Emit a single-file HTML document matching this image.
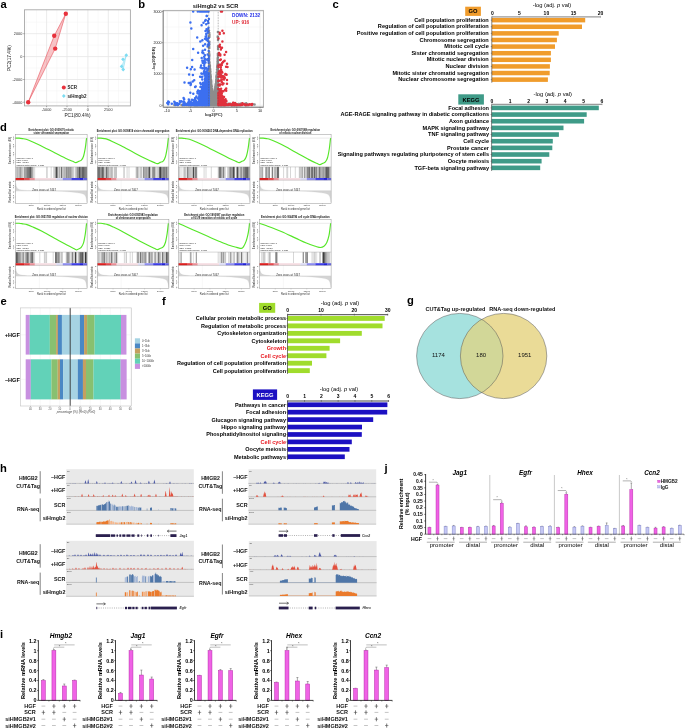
<!DOCTYPE html>
<html><head><meta charset="utf-8"><style>
html,body{margin:0;padding:0;background:#fff;}
body{width:685px;height:728px;overflow:hidden;}
svg{display:block;font-family:"Liberation Sans", sans-serif;will-change:transform;}
</style></head><body>
<svg width="685" height="728" viewBox="0 0 685 728">
<rect x="0" y="0" width="685" height="728" fill="#fff"/>
<text x="0.4" y="7.9" font-size="11.2" font-weight="bold">a</text>
<rect x="24.5" y="9.8" width="105.9" height="96.1" fill="#fff"/>
<line x1="26.2" y1="9.8" x2="26.2" y2="105.9" stroke="#f2f2f2" stroke-width="0.5"/>
<line x1="36.4" y1="9.8" x2="36.4" y2="105.9" stroke="#f2f2f2" stroke-width="0.5"/>
<line x1="56.8" y1="9.8" x2="56.8" y2="105.9" stroke="#f2f2f2" stroke-width="0.5"/>
<line x1="77.5" y1="9.8" x2="77.5" y2="105.9" stroke="#f2f2f2" stroke-width="0.5"/>
<line x1="98.1" y1="9.8" x2="98.1" y2="105.9" stroke="#f2f2f2" stroke-width="0.5"/>
<line x1="118.5" y1="9.8" x2="118.5" y2="105.9" stroke="#f2f2f2" stroke-width="0.5"/>
<line x1="24.5" y1="22.2" x2="130.4" y2="22.2" stroke="#f2f2f2" stroke-width="0.5"/>
<line x1="24.5" y1="45.1" x2="130.4" y2="45.1" stroke="#f2f2f2" stroke-width="0.5"/>
<line x1="24.5" y1="68" x2="130.4" y2="68" stroke="#f2f2f2" stroke-width="0.5"/>
<line x1="24.5" y1="90.8" x2="130.4" y2="90.8" stroke="#f2f2f2" stroke-width="0.5"/>
<line x1="46.6" y1="9.8" x2="46.6" y2="105.9" stroke="#e6e6e6" stroke-width="0.8"/>
<line x1="67" y1="9.8" x2="67" y2="105.9" stroke="#e6e6e6" stroke-width="0.8"/>
<line x1="87.9" y1="9.8" x2="87.9" y2="105.9" stroke="#e6e6e6" stroke-width="0.8"/>
<line x1="108.3" y1="9.8" x2="108.3" y2="105.9" stroke="#e6e6e6" stroke-width="0.8"/>
<line x1="24.5" y1="33.7" x2="130.4" y2="33.7" stroke="#e6e6e6" stroke-width="0.8"/>
<line x1="24.5" y1="56.6" x2="130.4" y2="56.6" stroke="#e6e6e6" stroke-width="0.8"/>
<line x1="24.5" y1="79.5" x2="130.4" y2="79.5" stroke="#e6e6e6" stroke-width="0.8"/>
<line x1="24.5" y1="102.2" x2="130.4" y2="102.2" stroke="#e6e6e6" stroke-width="0.8"/>
<rect x="24.5" y="9.8" width="105.9" height="96.1" fill="none" stroke="#a8a8a8" stroke-width="0.9"/>
<line x1="46.6" y1="105.9" x2="46.6" y2="107.2" stroke="#555" stroke-width="0.5"/>
<line x1="67" y1="105.9" x2="67" y2="107.2" stroke="#555" stroke-width="0.5"/>
<line x1="87.9" y1="105.9" x2="87.9" y2="107.2" stroke="#555" stroke-width="0.5"/>
<line x1="108.3" y1="105.9" x2="108.3" y2="107.2" stroke="#555" stroke-width="0.5"/>
<line x1="23.2" y1="33.7" x2="24.5" y2="33.7" stroke="#555" stroke-width="0.5"/>
<line x1="23.2" y1="56.6" x2="24.5" y2="56.6" stroke="#555" stroke-width="0.5"/>
<line x1="23.2" y1="79.5" x2="24.5" y2="79.5" stroke="#555" stroke-width="0.5"/>
<line x1="23.2" y1="102.2" x2="24.5" y2="102.2" stroke="#555" stroke-width="0.5"/>
<text x="22.3" y="35" font-size="3.8" text-anchor="end" fill="#333">2000</text>
<text x="22.3" y="57.9" font-size="3.8" text-anchor="end" fill="#333">0</text>
<text x="22.3" y="80.8" font-size="3.8" text-anchor="end" fill="#333">-2000</text>
<text x="22.3" y="103.5" font-size="3.8" text-anchor="end" fill="#333">-4000</text>
<text x="46.6" y="111.3" font-size="3.8" text-anchor="middle" fill="#333">-5000</text>
<text x="67" y="111.3" font-size="3.8" text-anchor="middle" fill="#333">-2500</text>
<text x="87.9" y="111.3" font-size="3.8" text-anchor="middle" fill="#333">0</text>
<text x="108.3" y="111.3" font-size="3.8" text-anchor="middle" fill="#333">2500</text>
<text x="77.5" y="117.3" font-size="4.8" text-anchor="middle" fill="#222">PC1(80.4%)</text>
<text x="10.6" y="58.2" font-size="4.8" text-anchor="middle" fill="#222" transform="rotate(-90 10.6 58.2)">PC2(17.4%)</text>
<path d="M65.8 13.7 L54.2 35.8 L28.2 102.2 L55.2 48.6 Z" fill="rgba(232,70,80,0.32)" stroke="#e8505a" stroke-width="0.6"/>
<circle cx="65.8" cy="13.7" r="2.2" fill="#e8313c"/>
<circle cx="54.2" cy="35.8" r="2.2" fill="#e8313c"/>
<circle cx="28.2" cy="102.2" r="2.2" fill="#e8313c"/>
<circle cx="55.2" cy="48.6" r="2.2" fill="#e8313c"/>
<path d="M126.3 55.2 L121.6 66.4 L123.2 69.5 Z" fill="rgba(120,220,240,0.35)" stroke="#7fd8ee" stroke-width="0.5"/>
<path d="M126.3 53.3 L128.2 55.2 L126.3 57.1 L124.4 55.2 Z" fill="#7ddcf2"/>
<path d="M123 57.4 L124.9 59.3 L123 61.2 L121.1 59.3 Z" fill="#7ddcf2"/>
<path d="M121.6 64.5 L123.5 66.4 L121.6 68.3 L119.7 66.4 Z" fill="#7ddcf2"/>
<path d="M123.2 67.6 L125.1 69.5 L123.2 71.4 L121.3 69.5 Z" fill="#7ddcf2"/>
<circle cx="63.8" cy="87.5" r="2" fill="#e8313c"/>
<text x="67.6" y="89.2" font-size="4.5" font-weight="bold" fill="#222">SCR</text>
<path d="M63.8 94.1 L65.7 96 L63.8 97.9 L61.9 96 Z" fill="#7ddcf2"/>
<text x="67.6" y="97.7" font-size="4.5" font-weight="bold" fill="#222">siHmgb2</text>
<text x="138.3" y="7.9" font-size="11.2" font-weight="bold">b</text>
<rect x="163.2" y="10.4" width="100.2" height="96.8" fill="#fff"/>
<line x1="178.76" y1="10.4" x2="178.76" y2="107.2" stroke="#f3f3f3" stroke-width="0.5"/>
<line x1="201.99" y1="10.4" x2="201.99" y2="107.2" stroke="#f3f3f3" stroke-width="0.5"/>
<line x1="225.21" y1="10.4" x2="225.21" y2="107.2" stroke="#f3f3f3" stroke-width="0.5"/>
<line x1="248.44" y1="10.4" x2="248.44" y2="107.2" stroke="#f3f3f3" stroke-width="0.5"/>
<line x1="163.2" y1="89.65" x2="263.4" y2="89.65" stroke="#f3f3f3" stroke-width="0.5"/>
<line x1="163.2" y1="58.35" x2="263.4" y2="58.35" stroke="#f3f3f3" stroke-width="0.5"/>
<line x1="163.2" y1="27.05" x2="263.4" y2="27.05" stroke="#f3f3f3" stroke-width="0.5"/>
<line x1="167.15" y1="10.4" x2="167.15" y2="107.2" stroke="#e8e8e8" stroke-width="0.7"/>
<line x1="190.38" y1="10.4" x2="190.38" y2="107.2" stroke="#e8e8e8" stroke-width="0.7"/>
<line x1="213.6" y1="10.4" x2="213.6" y2="107.2" stroke="#e8e8e8" stroke-width="0.7"/>
<line x1="236.82" y1="10.4" x2="236.82" y2="107.2" stroke="#e8e8e8" stroke-width="0.7"/>
<line x1="260.05" y1="10.4" x2="260.05" y2="107.2" stroke="#e8e8e8" stroke-width="0.7"/>
<line x1="163.2" y1="105.3" x2="263.4" y2="105.3" stroke="#e8e8e8" stroke-width="0.7"/>
<line x1="163.2" y1="74" x2="263.4" y2="74" stroke="#e8e8e8" stroke-width="0.7"/>
<line x1="163.2" y1="42.7" x2="263.4" y2="42.7" stroke="#e8e8e8" stroke-width="0.7"/>
<line x1="163.2" y1="11.4" x2="263.4" y2="11.4" stroke="#e8e8e8" stroke-width="0.7"/>
<path d="M230.7 104.3h0M210.5 104.4h0M235.9 104.5h0M236.2 104.1h0M221.9 104.8h0M236.3 105.1h0M206.2 104.6h0M194.4 104.6h0M210.0 104.7h0M221.8 104.6h0M206.9 104.9h0M239.0 104.0h0M211.2 103.9h0M217.8 105.2h0M218.9 104.8h0M208.7 104.5h0M226.4 105.1h0M207.4 104.9h0M224.2 104.3h0M211.2 104.6h0M192.2 104.8h0M213.2 105.3h0M227.0 104.0h0M212.6 105.0h0M226.4 104.3h0M224.6 105.1h0M234.4 104.3h0M222.0 103.4h0M213.6 104.9h0M208.4 104.5h0M213.2 103.7h0M212.3 104.9h0M228.8 105.0h0M234.9 104.7h0M211.5 103.7h0M201.9 104.6h0M236.0 104.8h0M197.1 104.8h0M220.8 105.1h0M213.9 105.0h0M205.5 103.8h0M212.2 104.2h0M235.0 105.1h0M202.4 105.1h0M227.0 105.0h0M204.9 105.0h0M210.5 104.9h0M207.5 104.0h0M214.5 104.6h0M197.0 105.2h0M226.7 105.0h0M203.9 103.6h0M226.0 104.4h0M199.5 103.9h0M188.9 104.9h0M224.6 104.2h0M199.7 104.7h0M216.5 103.7h0M223.1 104.8h0M206.9 104.8h0M225.2 105.0h0M221.4 104.0h0M206.5 105.2h0M205.8 104.4h0M207.5 104.9h0M215.6 105.2h0M239.1 105.2h0M234.6 104.6h0M233.2 105.2h0M227.4 104.7h0M204.5 105.1h0M211.7 105.3h0M232.9 104.7h0M188.7 103.8h0M206.9 104.8h0M213.8 104.8h0M239.7 105.0h0M220.5 104.7h0M222.2 104.2h0M233.4 103.6h0M226.8 104.0h0M225.8 104.0h0M209.1 104.8h0M219.7 104.6h0M200.5 104.5h0M193.9 104.1h0M213.9 105.0h0M193.9 104.8h0M223.8 104.1h0M244.2 104.1h0M195.6 105.3h0M220.7 104.7h0M208.1 105.1h0M210.1 104.8h0M175.6 104.5h0M217.3 105.2h0M204.3 105.1h0M213.4 105.2h0M229.9 103.8h0M217.3 104.4h0M208.9 104.0h0M197.6 105.2h0M204.9 104.5h0M199.2 103.9h0M221.2 105.0h0M208.9 104.4h0M200.5 105.0h0M215.8 105.0h0M206.0 104.4h0M246.6 105.0h0M241.1 103.5h0M234.3 105.0h0M215.6 105.0h0M204.2 104.2h0M207.8 104.2h0M230.4 105.0h0M205.8 104.7h0M195.9 103.8h0M223.4 105.2h0M206.4 104.4h0M233.0 104.6h0M199.6 104.5h0M197.3 104.8h0M199.5 105.0h0M220.9 104.9h0M228.5 104.6h0M236.8 104.2h0M213.4 104.9h0M202.1 105.2h0M194.2 105.2h0M216.5 104.2h0M227.5 104.6h0M208.3 105.1h0M208.6 105.1h0M185.2 104.7h0M190.5 104.9h0M213.9 104.9h0M238.1 105.2h0M236.7 104.3h0M206.3 105.0h0M232.7 105.0h0M214.9 104.8h0M214.5 105.0h0M214.8 104.5h0M234.1 105.2h0M216.6 104.6h0M209.3 104.4h0M229.9 104.5h0M227.3 104.5h0M240.5 104.4h0M226.1 104.0h0M199.5 104.1h0M201.5 103.8h0M224.2 104.7h0M210.6 103.2h0M212.8 105.0h0M208.0 105.1h0M187.3 104.8h0M240.1 104.0h0M208.3 104.7h0M219.4 104.4h0M224.2 104.3h0M216.0 105.2h0M234.8 104.3h0M221.3 104.3h0M207.8 104.0h0M207.3 105.0h0M227.1 104.5h0M203.3 103.8h0M216.0 105.3h0M208.8 104.9h0M182.5 105.3h0M214.9 105.1h0M225.3 103.8h0M207.0 104.5h0M204.7 105.2h0M222.2 104.6h0M228.3 104.4h0M225.8 104.9h0M220.4 103.5h0M209.7 105.2h0M220.6 104.6h0M193.9 105.1h0M202.7 104.8h0M233.8 105.3h0M212.0 105.1h0M224.9 104.8h0M216.0 105.0h0M202.8 105.1h0M231.5 105.2h0M233.4 103.1h0M206.8 105.1h0M213.4 103.9h0M203.8 104.2h0M194.6 104.5h0M197.5 104.8h0M223.1 104.8h0M183.7 104.1h0M204.9 104.8h0M238.1 105.2h0M195.4 104.8h0M202.9 104.5h0M208.7 104.6h0M218.8 104.1h0M254.6 104.5h0M215.3 105.3h0M224.8 105.0h0M220.3 103.5h0M215.0 104.4h0M218.4 104.6h0M208.2 105.1h0M218.6 105.1h0M226.1 105.1h0M194.4 104.6h0M208.2 104.3h0M204.0 104.8h0M218.2 103.0h0M191.6 104.4h0M234.3 103.7h0M227.0 104.4h0M220.9 104.7h0M206.3 105.3h0M216.9 104.9h0M224.0 105.1h0M203.3 104.8h0M219.6 103.9h0M195.2 105.0h0M205.5 105.1h0M174.4 105.0h0M209.9 104.6h0M184.5 105.0h0M220.6 104.9h0M231.2 104.4h0M198.2 104.8h0M208.7 104.6h0M236.2 104.8h0M201.0 105.0h0M201.0 104.5h0M219.2 104.1h0M219.7 104.8h0M229.0 104.7h0M206.8 105.2h0M214.2 104.3h0M204.7 105.0h0M213.2 104.2h0M197.5 105.1h0M219.6 105.0h0M220.7 105.3h0M207.0 104.9h0M198.8 104.2h0M208.7 104.1h0M206.0 104.7h0M205.4 105.3h0M201.8 104.9h0M188.3 105.2h0M200.6 105.0h0M201.8 105.1h0M177.5 105.0h0M215.0 105.2h0M191.5 105.1h0M215.8 104.5h0M224.6 105.3h0M213.9 104.9h0M221.7 105.2h0M230.4 104.9h0M204.5 105.1h0M227.2 105.0h0M219.3 104.9h0M210.9 103.3h0M215.6 105.1h0M215.6 104.7h0M231.5 105.2h0M204.4 104.7h0M218.9 104.4h0M198.8 103.6h0M233.0 104.4h0M233.8 104.8h0M188.6 104.3h0M232.0 104.9h0M184.6 104.2h0M233.9 104.9h0M215.5 104.6h0M212.3 104.4h0M214.8 104.7h0M214.9 104.0h0M198.8 102.6h0M217.7 104.2h0M230.5 103.8h0M221.8 104.8h0M213.9 103.7h0M210.8 104.5h0M181.5 105.1h0M225.8 104.2h0M199.8 104.7h0M185.7 104.4h0M221.5 103.5h0M196.6 104.1h0M220.0 104.9h0M246.2 103.2h0M212.6 105.1h0M245.3 103.8h0M247.3 105.2h0M228.2 104.1h0M221.2 105.0h0M210.9 105.0h0M195.3 103.6h0M207.0 103.5h0M217.5 105.3h0M216.2 103.8h0M212.0 105.1h0M202.5 105.3h0M207.1 105.1h0M219.5 104.6h0M242.4 104.6h0M225.8 104.7h0M225.8 104.7h0M234.6 104.4h0M233.7 104.9h0M213.6 104.7h0M227.9 104.6h0M206.7 104.8h0M252.8 104.2h0M196.9 105.2h0M223.1 105.3h0M219.4 104.3h0M218.5 104.4h0M224.3 105.2h0M215.3 104.8h0M193.0 104.2h0M208.3 104.4h0M230.7 104.3h0M202.8 104.8h0M177.6 104.2h0M202.1 104.7h0M206.4 105.0h0M215.2 105.3h0M186.3 104.0h0M213.0 104.1h0M205.5 104.8h0M216.0 104.9h0M228.4 104.0h0M217.7 105.1h0M208.9 104.6h0M201.9 104.4h0M197.2 103.2h0M239.0 105.3h0M224.7 104.5h0M186.4 105.2h0M235.1 105.3h0M198.7 105.1h0M198.7 104.1h0M210.1 105.0h0M201.5 104.5h0M199.7 105.1h0M234.4 105.1h0M247.0 103.9h0M217.7 104.3h0M211.2 105.2h0M221.9 104.3h0M205.3 104.2h0M210.8 105.0h0M203.2 104.5h0M238.8 104.1h0M219.0 104.4h0M184.9 105.1h0M210.2 104.1h0M233.3 105.1h0M206.4 104.9h0M223.2 104.6h0M222.3 105.0h0M196.0 104.9h0M215.5 102.9h0M245.4 105.0h0M197.8 103.7h0M217.3 105.3h0M204.9 104.9h0M200.3 104.7h0M212.1 104.8h0M223.7 105.2h0M215.6 105.0h0M232.6 104.8h0M217.0 105.2h0M201.6 105.0h0M223.8 105.1h0M207.8 104.2h0M190.7 105.0h0M228.9 105.0h0M193.1 105.1h0M216.9 104.5h0M218.8 105.1h0M201.1 104.2h0M225.7 105.0h0M200.3 104.4h0M226.9 104.8h0M209.1 103.9h0M209.3 104.4h0M229.9 105.1h0M218.8 105.3h0M198.6 104.3h0M210.7 104.1h0M198.6 104.1h0M216.9 104.4h0M217.6 104.8h0M200.2 103.5h0M218.9 104.4h0M220.2 103.7h0M211.5 104.6h0M191.5 105.1h0M216.2 104.8h0M196.0 105.1h0M187.5 104.8h0M220.9 103.9h0M226.8 105.0h0M217.5 105.3h0M193.8 104.1h0M215.5 95.4h0M209.5 73.1h0M212.9 98.1h0M218.1 64.4h0M217.0 99.9h0M212.1 96.4h0M209.1 55.8h0M211.5 99.6h0M211.9 100.5h0M216.9 85.6h0M213.7 100.9h0M209.5 90.9h0M216.9 76.1h0M216.8 96.2h0M210.9 103.8h0M213.9 101.2h0M213.3 100.0h0M214.4 100.7h0M216.3 99.5h0M217.4 81.3h0M209.5 90.5h0M213.9 100.9h0M214.2 101.5h0M211.5 87.9h0M211.7 90.9h0M216.4 88.0h0M213.2 94.9h0M213.1 95.3h0M209.6 85.2h0M214.9 104.5h0M216.9 102.7h0M214.5 103.0h0M217.4 80.9h0M216.3 90.9h0M215.2 93.4h0M211.7 101.1h0M216.7 100.5h0M217.4 96.4h0M210.0 101.4h0M216.2 79.4h0M212.8 97.1h0M211.4 84.2h0M215.3 102.4h0M209.6 73.0h0M209.4 64.8h0M211.7 100.6h0M214.3 101.4h0M214.2 103.5h0M217.4 91.6h0M216.7 100.2h0M216.3 77.0h0M212.6 104.9h0M212.5 96.2h0M211.1 90.8h0M209.9 86.1h0M215.7 95.8h0M215.2 103.2h0M216.6 101.4h0M217.5 61.8h0M217.6 81.2h0M211.7 98.2h0M215.9 93.4h0M217.5 101.2h0M213.5 96.3h0M214.5 98.2h0M209.9 99.4h0M211.5 85.6h0M216.7 97.6h0M217.5 103.9h0M214.5 92.6h0M212.2 89.8h0M215.0 104.5h0M212.1 97.6h0M211.3 87.3h0M210.7 80.7h0M211.8 103.9h0M214.1 104.2h0M214.1 96.4h0M214.5 99.3h0M209.4 79.8h0M209.9 78.8h0M210.2 84.1h0M212.3 99.4h0M215.1 102.5h0M210.6 75.0h0M212.1 90.7h0M217.0 87.4h0M210.4 102.0h0M217.1 100.9h0M213.6 99.8h0M210.1 87.3h0M210.5 87.7h0M213.7 101.5h0M210.8 93.5h0M210.9 101.7h0M211.2 83.6h0M213.6 96.1h0M209.2 58.1h0M213.5 97.1h0M214.2 97.1h0M211.1 85.9h0M210.4 96.3h0M209.3 85.6h0M213.8 102.2h0M217.2 102.0h0M214.3 102.4h0M214.5 95.1h0M215.5 104.0h0M211.3 90.7h0M218.0 103.2h0M214.7 95.5h0M216.5 94.9h0M216.4 91.4h0M217.4 104.8h0M217.6 86.4h0M212.8 104.2h0M211.3 87.4h0M215.2 102.6h0M212.2 103.0h0M210.9 98.9h0M212.1 88.4h0M218.1 65.7h0M213.4 100.1h0M216.1 81.0h0M215.9 90.0h0M210.9 87.2h0M216.7 78.6h0M209.9 75.5h0M212.2 102.7h0M217.8 72.0h0M215.8 102.1h0M216.6 75.3h0M217.3 74.6h0M216.6 79.3h0M214.4 99.8h0M216.6 80.5h0M217.0 94.3h0M217.8 79.3h0M217.7 99.9h0M217.9 66.0h0M211.3 85.4h0M211.2 100.2h0M213.2 102.7h0M213.5 95.9h0M215.3 92.1h0M212.6 94.6h0M216.3 86.0h0M217.6 67.2h0M212.7 104.2h0M215.0 91.7h0M212.1 95.3h0M216.7 79.2h0M209.1 80.8h0M209.2 99.8h0M216.4 92.6h0M214.6 99.2h0M212.1 101.7h0M212.3 92.0h0M214.7 101.2h0M209.8 93.9h0M215.4 96.6h0M215.1 91.8h0M210.1 79.3h0M209.4 65.4h0M210.7 97.0h0M217.8 87.8h0M211.1 81.8h0M214.6 93.0h0M212.6 98.6h0M217.7 80.9h0M218.0 95.8h0M216.6 100.1h0M213.8 105.3h0M210.6 75.5h0M213.2 96.3h0M211.3 96.9h0M210.0 82.9h0M216.9 86.8h0M212.5 91.9h0M217.2 78.8h0M209.7 78.0h0M213.1 94.4h0M212.3 95.2h0M214.8 99.7h0M213.8 98.2h0M217.3 84.6h0M212.4 90.5h0M209.6 66.6h0M215.3 95.1h0M213.1 96.8h0M217.2 76.5h0M215.9 104.5h0M212.0 102.9h0M217.7 62.7h0M210.4 84.7h0M214.3 104.7h0M212.6 95.1h0M214.9 100.9h0M216.0 98.0h0M214.0 100.7h0M218.0 72.8h0M216.4 85.4h0M212.5 91.6h0M215.5 91.2h0M211.6 101.8h0M214.3 95.3h0M216.3 95.5h0M210.3 86.9h0M217.0 99.2h0M215.8 101.4h0M211.9 104.3h0M211.8 97.7h0M217.9 57.5h0M210.8 95.9h0M217.6 96.1h0M212.0 97.4h0M210.0 95.0h0M212.6 100.1h0M217.8 92.2h0M210.9 79.4h0M213.1 95.9h0M214.8 93.4h0M211.9 102.5h0M215.9 93.7h0M214.1 97.6h0M215.9 98.6h0M212.4 91.3h0M213.9 102.2h0M214.8 101.5h0M216.1 104.2h0M216.6 87.3h0M212.3 90.4h0M211.5 99.8h0M209.7 80.8h0M215.9 88.8h0M212.8 95.1h0M210.1 93.3h0M214.9 90.1h0M214.8 94.9h0M216.1 94.9h0M217.6 71.2h0M212.2 98.8h0M216.4 95.0h0M210.7 78.8h0M213.9 99.7h0M215.1 89.7h0M210.3 93.0h0M209.6 86.7h0M213.6 96.5h0M215.1 95.3h0M212.7 97.8h0M211.5 86.9h0M216.2 82.1h0M210.4 82.2h0M215.9 93.1h0M217.2 69.0h0M215.8 86.2h0M215.0 91.3h0M210.2 79.5h0M215.5 93.1h0M211.6 103.8h0M214.5 94.3h0M211.5 100.6h0M211.1 102.8h0M215.2 87.9h0M216.4 94.8h0M215.4 103.9h0M216.7 94.5h0M209.1 73.8h0M210.3 95.5h0M209.6 84.8h0M214.1 96.1h0M209.4 64.9h0M210.1 96.5h0M214.8 100.3h0M212.1 95.5h0M211.0 83.8h0M211.0 81.8h0M216.4 89.3h0M209.3 66.3h0M209.3 80.0h0M212.9 104.5h0M214.8 94.6h0M214.4 100.3h0M213.7 99.2h0M211.1 82.5h0M218.1 65.0h0M217.8 89.2h0M218.0 101.7h0M213.4 103.9h0M213.2 97.7h0M215.5 96.1h0M212.2 102.1h0M212.7 101.6h0M210.8 83.6h0M213.7 100.7h0M210.8 84.8h0M210.8 97.5h0M214.1 97.2h0M217.9 67.9h0M217.7 62.0h0M215.6 89.8h0M209.6 95.9h0M209.2 62.1h0M215.6 91.8h0M211.4 97.2h0M210.5 84.5h0M218.1 90.0h0M209.5 96.9h0M212.3 91.2h0M216.4 91.9h0M210.0 101.0h0M210.4 78.9h0M213.3 94.7h0M217.3 71.8h0M213.4 96.6h0M210.2 101.3h0M214.2 99.4h0M211.0 98.3h0M209.2 59.8h0M215.5 85.9h0M218.0 83.4h0M215.7 96.7h0M216.4 79.9h0M210.3 104.8h0M211.0 89.2h0M212.5 105.2h0M216.6 80.0h0M213.3 104.8h0M217.1 84.4h0M209.7 90.9h0M214.7 92.5h0M213.5 98.6h0M210.9 98.4h0M217.3 89.5h0M210.0 81.6h0M210.2 97.8h0M213.2 98.8h0M214.8 94.6h0M213.1 104.5h0M215.6 104.1h0M213.3 101.0h0M215.2 92.7h0M211.2 89.1h0M215.3 96.3h0M210.3 73.1h0M214.5 104.5h0M211.2 80.6h0M211.1 95.1h0M216.2 82.5h0M214.8 94.1h0M209.4 100.7h0M217.9 65.1h0M209.4 102.9h0M211.2 82.2h0M211.0 87.2h0M217.5 76.8h0M217.4 94.0h0M210.4 104.7h0M215.9 102.7h0M217.9 69.7h0M210.7 80.8h0M210.5 88.4h0M210.0 73.9h0M217.1 69.3h0M209.1 62.7h0M214.1 95.9h0M213.6 98.9h0M214.5 95.0h0M209.8 102.9h0M214.0 102.1h0M212.7 105.2h0M215.8 104.7h0M216.6 79.2h0M213.2 104.0h0M215.0 102.0h0M213.0 104.0h0M217.9 78.0h0M212.3 103.8h0M215.7 86.5h0M216.8 101.8h0M212.4 100.8h0M216.0 101.6h0M214.6 92.1h0M216.0 105.1h0M209.7 100.3h0M215.4 93.9h0M213.8 100.5h0M212.8 97.5h0M215.0 90.7h0M215.7 87.5h0M217.4 69.9h0M215.6 104.7h0M215.2 89.8h0M213.0 94.9h0M210.7 76.0h0M213.1 97.2h0M211.3 98.2h0M212.2 100.1h0M209.9 87.0h0M218.0 72.5h0M217.5 71.1h0M216.7 72.5h0M215.9 98.7h0M211.3 95.4h0M209.2 93.7h0M217.1 69.5h0M212.0 91.8h0M216.1 81.9h0M216.3 90.2h0M210.0 72.3h0M211.9 93.6h0M212.4 97.3h0M217.8 97.3h0M213.9 98.3h0M213.9 95.1h0M212.8 93.6h0M215.3 87.1h0M209.9 96.4h0M211.7 86.6h0M209.2 92.3h0M215.6 84.6h0M210.7 91.5h0M215.3 92.4h0M215.8 87.5h0M211.3 99.1h0M209.3 70.7h0M211.0 98.0h0M217.8 73.6h0M214.4 96.9h0M214.5 96.2h0M211.8 104.1h0M209.7 104.6h0M212.3 103.1h0M210.1 86.1h0M217.9 70.9h0M211.5 88.5h0M210.7 102.2h0M211.8 97.4h0M215.3 96.9h0M215.7 103.2h0M217.5 89.9h0M216.6 104.3h0M216.6 98.1h0M216.8 77.2h0M215.2 100.5h0M209.1 95.8h0M217.3 98.8h0M215.0 95.5h0M215.1 102.3h0M210.4 101.9h0M218.0 86.1h0M215.0 96.1h0M211.1 103.6h0M209.2 62.6h0M210.2 69.8h0M212.4 94.3h0M210.3 77.1h0M211.3 96.6h0M213.8 104.1h0M211.3 86.1h0M211.6 97.4h0M216.0 99.6h0M210.8 98.8h0M212.5 100.2h0M214.9 98.0h0M217.0 103.4h0M215.1 91.1h0M211.2 104.6h0M213.0 104.0h0M213.2 97.5h0M209.9 100.4h0M213.4 103.5h0M211.1 93.9h0M210.1 102.7h0M212.3 98.1h0M217.6 80.1h0M209.7 95.4h0M215.8 92.1h0M217.0 69.8h0M216.9 101.4h0M217.6 80.9h0M211.2 101.0h0M216.9 97.6h0M209.8 93.9h0M217.5 85.1h0M215.7 103.6h0M213.2 101.8h0M210.9 86.5h0M212.3 103.5h0M218.0 81.2h0M210.7 105.0h0M215.0 96.9h0M209.3 81.7h0M215.8 92.9h0M211.2 92.6h0M214.6 96.5h0M210.4 77.1h0M217.7 70.7h0M216.9 92.3h0M217.3 97.9h0M211.1 89.7h0M217.3 102.0h0M211.0 104.3h0M213.0 103.7h0M210.8 83.0h0M214.4 93.6h0M212.7 96.4h0M209.2 57.8h0M211.2 93.1h0M213.7 95.4h0M213.5 95.0h0M214.7 102.2h0M216.6 98.7h0M218.1 82.4h0M211.1 80.1h0M212.0 98.0h0M212.2 94.3h0M209.3 86.6h0M210.5 77.9h0M209.0 74.9h0M211.4 94.7h0M214.2 97.0h0M210.3 96.7h0M210.1 68.8h0M210.4 100.6h0M213.8 99.2h0M217.1 103.1h0M211.2 101.0h0M214.4 99.6h0M212.8 93.9h0M215.1 90.8h0M217.8 92.3h0M217.6 86.5h0M209.5 62.2h0M210.0 104.6h0M211.7 99.4h0M217.9 62.0h0M212.9 98.8h0M216.8 77.6h0M215.0 97.0h0M210.1 95.9h0M215.0 95.6h0M216.3 79.2h0M217.8 95.8h0M209.7 66.0h0M214.2 103.1h0M215.3 100.4h0M211.2 96.1h0M213.8 98.1h0M209.7 72.6h0M214.7 98.5h0M215.2 91.3h0M209.1 81.5h0M215.2 92.6h0M214.9 102.4h0M217.8 67.2h0M211.2 94.3h0M217.8 95.3h0M212.8 93.0h0M217.2 95.9h0M215.7 97.2h0M215.1 92.3h0M210.2 97.0h0M211.0 98.0h0M209.4 98.6h0M212.7 99.9h0M209.8 80.0h0M217.6 78.6h0M212.3 94.3h0M213.0 103.3h0M213.4 105.1h0M215.2 102.4h0M212.4 91.0h0M216.0 84.0h0M214.9 95.4h0M215.5 85.9h0M210.8 82.9h0M211.8 100.3h0M216.5 86.5h0M216.8 75.2h0M214.4 102.8h0M209.2 78.5h0M215.7 99.4h0M209.7 105.1h0M210.6 83.2h0M209.1 93.8h0M211.5 89.2h0M218.0 104.3h0M210.1 69.0h0M217.9 97.9h0M212.1 96.4h0M212.0 97.7h0M213.4 102.6h0M209.5 101.4h0M210.5 102.3h0M214.7 95.2h0M211.4 87.3h0M215.7 97.8h0M213.5 103.3h0M217.5 80.4h0M209.5 98.0h0M215.4 98.0h0M215.6 100.5h0M216.3 82.4h0M209.9 81.1h0M210.8 84.2h0M216.4 82.1h0M211.2 102.9h0M215.1 95.7h0M210.3 98.4h0M214.4 104.0h0M214.8 101.7h0M211.4 95.5h0M213.9 97.5h0M209.3 69.1h0M211.1 97.5h0M214.9 94.7h0M214.6 92.7h0M210.9 96.5h0M215.1 100.9h0M210.5 97.7h0M216.1 83.8h0M215.6 85.2h0M216.3 96.5h0M211.9 92.0h0M209.6 76.9h0M209.9 103.2h0M213.7 103.7h0M217.5 66.0h0M213.3 103.1h0M210.1 86.0h0M213.8 101.5h0M215.6 94.2h0M216.1 102.5h0M209.7 88.1h0M213.5 102.7h0M215.1 101.5h0M211.9 96.6h0M215.5 89.4h0M212.4 98.7h0M217.5 64.0h0M214.7 103.8h0M213.2 98.3h0M211.6 104.5h0M218.0 59.7h0M210.2 88.1h0M214.7 101.0h0M209.7 71.7h0M216.1 94.0h0M209.8 88.6h0M209.9 65.4h0M209.5 91.7h0M216.0 101.8h0M210.0 102.5h0M210.5 87.8h0M216.6 99.8h0M210.6 81.0h0M212.9 101.2h0M210.2 96.1h0M217.9 99.4h0M211.4 88.2h0M217.2 69.5h0M213.4 95.1h0M214.5 101.4h0M213.3 97.6h0M215.7 102.4h0M210.8 77.0h0M210.0 73.0h0M212.1 101.1h0M211.4 94.3h0M218.1 97.9h0M216.8 94.1h0M210.6 81.6h0M212.2 102.2h0M212.9 95.1h0M216.9 84.6h0M209.1 67.1h0M214.6 93.1h0M217.7 89.7h0M216.8 77.2h0M211.5 97.1h0M212.5 100.2h0M212.5 103.7h0M211.1 81.5h0M212.8 97.2h0M217.1 75.8h0M211.3 82.8h0M216.4 76.2h0M215.7 88.7h0M216.4 97.6h0M215.0 99.0h0M216.7 100.9h0M214.0 101.6h0M216.5 94.6h0M216.7 76.7h0M217.0 100.0h0M217.6 71.3h0M215.2 93.6h0M209.5 63.9h0M214.0 100.2h0M212.1 92.2h0M216.2 81.8h0M211.0 96.0h0M211.3 102.9h0M212.0 104.8h0M216.3 98.8h0M209.7 102.3h0M215.8 100.7h0M213.3 100.9h0M216.4 77.5h0M211.9 93.4h0M217.2 86.5h0M217.2 75.5h0M211.9 88.9h0M214.3 104.0h0M214.4 94.8h0M213.8 100.2h0M212.8 94.3h0M215.1 101.7h0M212.3 99.8h0M217.8 71.5h0M210.2 71.0h0M209.4 76.1h0M213.0 96.8h0M213.0 104.2h0M213.8 96.6h0M216.2 95.4h0M211.1 85.5h0M216.3 98.9h0M217.1 67.1h0M213.0 100.8h0M215.5 86.3h0M210.9 96.6h0M212.0 92.5h0M210.7 88.7h0M213.6 98.4h0M210.4 71.6h0M218.2 77.2h0M216.3 100.1h0M217.3 82.2h0M216.0 83.7h0M212.3 91.2h0M210.9 104.6h0M213.6 96.0h0M217.2 66.5h0M213.7 95.6h0M214.1 103.6h0M214.8 93.4h0M212.9 98.0h0M211.4 98.9h0M212.9 99.0h0M213.3 104.3h0M209.1 88.3h0M215.6 89.6h0M211.2 98.9h0M213.8 103.5h0M214.5 93.2h0M210.9 88.5h0M215.6 89.3h0M215.5 90.6h0M211.5 86.9h0M217.5 103.0h0M217.6 84.7h0M209.8 102.3h0M216.3 85.9h0M210.3 89.0h0M214.9 90.0h0M212.1 92.3h0M211.3 100.4h0M210.5 91.7h0M214.7 101.0h0M210.5 98.1h0M209.8 97.1h0M211.9 96.0h0M210.7 90.6h0M213.1 94.1h0M213.5 95.4h0M213.3 103.2h0M214.4 103.4h0M210.6 102.9h0M215.4 86.2h0M212.7 100.7h0M212.9 101.0h0M215.3 97.9h0M210.4 75.7h0M214.3 105.2h0M216.8 80.2h0M212.3 95.4h0M217.4 87.9h0M213.0 101.8h0M214.1 97.8h0M215.7 83.9h0M210.4 92.5h0M216.8 77.9h0M214.4 96.7h0M212.1 89.5h0M214.0 100.8h0M210.7 101.7h0M217.2 73.0h0M209.3 89.1h0M213.4 100.1h0M212.4 91.7h0M212.2 96.8h0M217.5 76.9h0M213.4 101.8h0M212.6 96.9h0M216.2 98.1h0M212.4 99.6h0M212.4 91.4h0M214.0 102.3h0M212.1 91.1h0M210.5 82.3h0M209.2 95.6h0M209.6 68.2h0M210.4 97.4h0M209.6 93.1h0M215.7 89.1h0M217.3 65.6h0M214.1 94.9h0M209.9 66.5h0M213.0 103.0h0M215.9 84.9h0M212.6 104.0h0M217.0 77.3h0M214.5 92.6h0M209.4 102.6h0M210.2 104.5h0M215.5 92.5h0M210.1 99.0h0M210.7 86.4h0M215.2 88.3h0M212.3 90.2h0M213.0 100.7h0M211.4 99.8h0M217.9 55.5h0M215.5 101.8h0M210.7 100.6h0M212.2 93.5h0M209.6 80.9h0M215.2 104.7h0M213.0 96.2h0M214.3 99.8h0M217.1 82.3h0M212.1 98.6h0M217.6 65.4h0M217.4 81.4h0M210.3 99.1h0M212.5 95.6h0M209.1 65.1h0M216.2 91.2h0M209.1 65.3h0M212.8 96.9h0M214.2 96.6h0M212.8 93.0h0M217.7 60.6h0M214.6 100.9h0M212.5 101.4h0M217.3 72.7h0M216.2 82.6h0M218.1 70.8h0M211.9 91.5h0M211.4 91.4h0M210.5 76.6h0M213.5 102.4h0M217.5 101.7h0M217.5 71.5h0M210.4 79.0h0M214.3 94.4h0M214.4 99.9h0M217.5 101.4h0M216.1 102.6h0M211.6 102.8h0M217.0 88.9h0M215.7 99.7h0M215.7 90.9h0M209.9 85.1h0M215.6 100.7h0M215.0 100.8h0M212.4 91.7h0M217.6 59.0h0M212.9 98.4h0M216.4 82.7h0M213.2 95.8h0M212.7 92.8h0M213.4 104.0h0M215.9 101.8h0M215.2 104.3h0M218.0 78.2h0M215.8 102.3h0M214.8 99.6h0M211.3 85.7h0M209.4 81.5h0M209.8 69.3h0M217.2 103.9h0M213.3 100.2h0M215.6 89.9h0M212.2 89.9h0M210.7 101.1h0M216.5 101.6h0M210.7 90.1h0M212.1 102.5h0M217.5 84.2h0M216.2 98.4h0M217.4 96.0h0M217.3 79.9h0M217.9 66.7h0M214.8 97.4h0M216.8 89.8h0M209.9 68.0h0M216.4 85.2h0M215.8 99.9h0M213.3 96.4h0M217.8 60.0h0M210.5 82.6h0M214.1 100.7h0M210.6 100.9h0M213.3 100.0h0M211.5 97.1h0M214.1 96.7h0M214.4 103.2h0M217.1 91.0h0M217.8 57.5h0M210.3 84.6h0M217.8 86.2h0M214.0 101.8h0M209.3 95.1h0M210.2 94.6h0M214.8 97.0h0M217.7 73.0h0M212.3 90.8h0M214.8 97.1h0M216.9 81.2h0M212.3 96.0h0M211.8 86.3h0M211.3 81.5h0M209.6 104.9h0M214.1 103.0h0M213.7 104.1h0M216.7 83.3h0M215.3 88.2h0M218.1 71.3h0M215.5 105.3h0M209.5 85.1h0M217.9 89.6h0M214.2 105.2h0M212.8 94.0h0M214.4 94.8h0M209.2 95.1h0M210.7 79.4h0M209.4 54.9h0M218.1 47.5h0M209.5 35.0h0M217.7 37.3h0M218.0 46.3h0M209.0 30.4h0M218.0 39.9h0M209.3 48.1h0M209.3 33.0h0M218.0 53.8h0M209.4 41.8h0M209.4 44.2h0M209.2 46.7h0M209.1 51.7h0M209.4 37.0h0M209.0 48.3h0M209.0 41.8h0M217.9 36.8h0M209.0 30.4h0M209.3 44.2h0M209.2 53.3h0M209.4 36.5h0M209.3 56.1h0M217.7 36.4h0M217.8 54.0h0M217.9 32.1h0M209.1 46.3h0M209.2 44.3h0M209.1 36.1h0M218.0 48.9h0" stroke="#8c8c8c" stroke-width="2.5" stroke-linecap="round" fill="none"/>
<path d="M202.9 101.4h0M199.2 105.1h0M207.7 95.3h0M207.5 96.2h0M206.1 105.2h0M207.7 105.0h0M207.4 98.8h0M205.4 103.4h0M203.2 91.7h0M206.1 99.6h0M205.8 73.9h0M204.7 102.2h0M203.8 104.5h0M207.3 83.0h0M199.0 104.0h0M204.1 100.3h0M207.2 94.8h0M207.9 103.7h0M205.7 89.5h0M207.0 93.4h0M205.5 98.0h0M202.3 88.7h0M200.6 103.0h0M207.7 79.8h0M206.5 87.3h0M186.7 104.7h0M208.8 99.0h0M205.5 96.9h0M202.0 105.2h0M201.3 93.9h0M207.6 79.8h0M201.9 93.1h0M199.5 93.6h0M208.0 75.8h0M207.9 97.3h0M207.8 88.5h0M200.7 90.9h0M208.4 102.3h0M208.2 99.9h0M207.8 97.7h0M206.9 104.2h0M208.2 85.4h0M208.8 104.6h0M206.6 80.0h0M199.0 105.0h0M208.1 79.3h0M207.5 82.8h0M205.0 99.1h0M195.9 100.6h0M195.4 104.4h0M208.3 104.1h0M204.6 97.0h0M208.9 93.3h0M208.4 99.0h0M193.4 100.3h0M204.9 89.0h0M202.6 96.0h0M200.5 105.2h0M208.1 78.4h0M202.9 83.9h0M206.4 99.7h0M207.7 91.5h0M203.8 105.1h0M206.7 104.3h0M208.8 101.1h0M208.9 104.4h0M207.7 104.9h0M208.6 79.8h0M206.8 92.3h0M204.6 100.9h0M199.3 100.5h0M206.7 72.9h0M206.4 97.6h0M208.6 104.9h0M207.7 101.0h0M193.9 104.3h0M199.2 105.3h0M205.9 104.4h0M202.4 95.0h0M208.6 73.8h0M208.3 80.4h0M203.9 100.4h0M207.6 104.2h0M205.1 84.8h0M206.7 101.3h0M206.0 73.4h0M207.3 81.0h0M202.8 86.8h0M201.7 103.3h0M208.1 105.3h0M207.8 105.3h0M205.9 88.9h0M205.0 75.1h0M207.7 73.2h0M208.1 75.2h0M204.8 103.3h0M205.8 103.8h0M206.1 78.4h0M205.2 81.7h0M208.4 83.8h0M199.3 105.0h0M203.1 84.7h0M206.8 86.3h0M208.7 84.3h0M203.0 101.2h0M192.0 99.7h0M198.9 99.5h0M204.7 104.2h0M198.7 104.6h0M203.8 83.5h0M198.5 104.4h0M198.1 90.5h0M205.4 100.8h0M207.6 105.3h0M207.7 74.2h0M207.1 76.5h0M200.7 98.6h0M198.4 103.6h0M207.4 102.9h0M205.3 93.4h0M205.4 102.8h0M208.4 77.8h0M200.0 100.7h0M208.2 78.2h0M202.3 99.0h0M205.7 95.4h0M202.9 95.7h0M207.9 104.0h0M207.4 105.3h0M205.4 97.4h0M205.9 87.5h0M207.2 95.9h0M208.4 94.5h0M206.5 94.4h0M206.7 103.0h0M199.2 96.2h0M208.2 94.3h0M195.0 98.3h0M203.2 92.3h0M208.8 88.9h0M202.0 98.0h0M208.5 76.0h0M202.2 88.6h0M196.3 102.8h0M199.4 94.4h0M203.5 104.5h0M206.0 104.7h0M207.9 103.1h0M201.9 105.1h0M205.6 78.6h0M206.4 104.4h0M197.3 104.5h0M207.4 79.4h0M208.7 75.3h0M188.8 99.6h0M208.3 82.1h0M200.1 104.3h0M205.4 101.1h0M203.7 103.8h0M196.8 105.3h0M208.0 94.6h0M208.5 101.3h0M207.2 91.9h0M208.9 73.4h0M207.5 84.4h0M208.3 102.7h0M207.8 105.2h0M202.6 104.6h0M198.8 98.9h0M201.5 102.8h0M199.8 104.4h0M206.5 88.6h0M197.2 105.0h0M205.5 98.8h0M198.1 105.1h0M207.4 83.7h0M207.1 105.0h0M208.2 80.5h0M204.7 98.0h0M206.8 76.9h0M202.6 102.6h0M202.1 103.1h0M207.6 104.8h0M206.8 103.7h0M204.8 101.7h0M197.2 102.2h0M206.6 96.5h0M202.0 105.3h0M196.6 102.9h0M208.1 94.7h0M190.6 103.9h0M205.9 104.8h0M206.0 82.8h0M207.7 82.0h0M198.7 99.7h0M208.8 73.5h0M203.5 101.0h0M202.7 91.4h0M207.7 99.4h0M206.7 104.6h0M208.6 105.1h0M202.8 104.3h0M199.9 105.0h0M201.8 89.9h0M208.7 102.3h0M203.8 97.8h0M203.0 104.3h0M208.5 74.8h0M207.7 74.1h0M208.6 74.5h0M208.7 101.8h0M208.7 100.0h0M204.9 97.3h0M208.9 96.3h0M208.6 105.3h0M206.1 99.6h0M201.9 105.2h0M208.0 103.2h0M200.7 93.4h0M207.6 90.5h0M206.2 87.9h0M204.0 101.4h0M207.4 73.4h0M203.1 91.1h0M200.0 105.2h0M200.5 91.7h0M208.2 87.0h0M206.1 95.7h0M203.6 96.3h0M204.7 82.4h0M202.9 93.5h0M205.2 88.9h0M204.9 103.3h0M208.2 100.6h0M203.6 104.8h0M203.8 91.7h0M206.7 91.8h0M200.2 105.3h0M208.9 83.9h0M202.4 95.3h0M202.5 90.4h0M203.9 102.9h0M207.6 105.1h0M196.3 103.7h0M204.8 86.8h0M207.7 100.0h0M204.8 97.2h0M201.5 92.2h0M206.7 91.1h0M206.9 102.9h0M207.4 86.6h0M198.8 105.3h0M207.5 105.1h0M203.0 89.0h0M207.7 89.7h0M201.8 97.6h0M199.4 97.6h0M197.6 103.8h0M208.7 73.8h0M208.5 97.8h0M205.9 82.8h0M207.3 102.6h0M203.9 103.6h0M207.8 93.6h0M189.1 104.5h0M205.9 104.6h0M203.1 82.7h0M208.5 88.5h0M201.8 103.3h0M203.2 105.3h0M199.8 105.3h0M208.5 101.9h0M205.0 104.5h0M207.0 81.7h0M208.9 105.3h0M193.3 104.7h0M208.0 76.9h0M193.4 102.2h0M189.2 100.3h0M197.5 93.3h0M203.9 100.6h0M206.0 105.2h0M205.5 104.9h0M207.6 76.3h0M208.1 103.0h0M199.5 103.9h0M195.2 100.2h0M207.3 83.2h0M199.5 91.6h0M202.3 94.8h0M203.1 87.7h0M205.8 98.1h0M207.2 86.1h0M203.6 105.2h0M207.4 76.9h0M203.2 101.0h0M207.6 102.0h0M188.2 102.8h0M207.2 90.5h0M200.8 99.7h0M206.1 104.2h0M207.7 78.1h0M206.6 96.6h0M205.5 72.7h0M206.3 98.1h0M204.8 105.0h0M204.5 101.0h0M205.9 102.8h0M202.4 94.0h0M201.8 99.2h0M202.6 99.2h0M207.9 101.1h0M205.2 105.1h0M187.9 104.7h0M201.0 96.4h0M197.6 103.5h0M208.9 102.5h0M202.6 98.2h0M206.8 75.3h0M195.1 105.3h0M204.5 105.3h0M196.5 97.4h0M203.9 93.3h0M209.0 76.9h0M204.4 82.5h0M192.8 103.0h0M203.3 104.8h0M204.8 89.4h0M208.5 76.0h0M204.2 85.6h0M207.3 97.9h0M208.7 84.7h0M199.2 103.2h0M203.9 101.9h0M208.8 104.6h0M203.3 88.7h0M199.9 104.8h0M206.3 93.5h0M207.4 99.9h0M197.8 105.3h0M190.9 101.9h0M206.2 91.0h0M207.3 79.3h0M208.1 103.0h0M208.5 74.9h0M202.1 105.3h0M206.2 96.6h0M201.9 102.8h0M206.2 90.1h0M206.2 105.2h0M199.5 101.1h0M203.2 103.8h0M208.7 83.9h0M199.6 103.7h0M207.8 74.3h0M195.7 103.3h0M208.5 103.4h0M207.4 75.4h0M207.4 96.6h0M204.7 99.1h0M206.7 90.1h0M207.8 99.7h0M204.7 103.6h0M208.2 105.2h0M195.0 105.1h0M205.9 79.3h0M200.5 87.1h0M208.7 101.3h0M196.8 104.0h0M203.5 105.3h0M205.9 90.2h0M204.2 101.3h0M202.5 104.2h0M208.9 100.8h0M205.7 75.2h0M194.7 103.6h0M203.3 100.7h0M198.2 98.6h0M201.0 105.2h0M208.6 77.3h0M197.8 103.9h0M195.5 105.3h0M204.7 99.2h0M195.8 105.2h0M191.6 105.2h0M202.4 102.8h0M206.4 86.4h0M204.9 102.5h0M207.9 75.0h0M207.0 87.8h0M208.9 101.6h0M208.7 86.0h0M205.7 77.5h0M194.0 105.3h0M189.8 103.2h0M208.3 75.3h0M208.9 99.9h0M202.7 96.7h0M207.5 76.8h0M203.1 86.8h0M208.4 82.6h0M199.2 101.4h0M200.8 101.5h0M197.9 105.0h0M208.8 103.8h0M202.7 105.1h0M201.9 105.2h0M208.5 73.7h0M207.2 79.3h0M208.5 105.0h0M196.0 104.9h0M208.9 98.2h0M199.6 103.2h0M206.0 89.8h0M206.0 86.4h0M199.0 104.7h0M208.0 81.7h0M200.4 100.3h0M208.1 86.8h0M203.5 103.0h0M201.0 104.4h0M202.7 101.4h0M201.0 99.6h0M208.5 103.3h0M203.8 83.4h0M188.2 104.9h0M204.1 97.3h0M205.4 77.6h0M207.8 105.2h0M205.1 103.9h0M205.6 74.1h0M201.0 100.3h0M207.2 80.3h0M208.2 84.9h0M207.0 75.7h0M205.0 92.1h0M206.0 103.5h0M205.8 103.7h0M200.0 102.9h0M202.3 103.7h0M203.1 105.3h0M198.4 104.0h0M205.2 101.7h0M199.7 94.8h0M202.3 105.1h0M205.7 94.7h0M206.7 91.3h0M207.7 88.8h0M207.8 99.3h0M207.4 75.3h0M202.7 101.7h0M206.5 99.1h0M206.6 80.4h0M208.8 103.8h0M208.8 87.3h0M208.7 78.3h0M206.1 98.9h0M206.9 79.4h0M208.4 97.8h0M208.2 94.7h0M207.3 91.2h0M207.9 92.0h0M205.1 100.3h0M208.8 102.3h0M206.5 95.8h0M207.7 96.8h0M207.0 83.5h0M207.8 104.7h0M206.8 75.9h0M207.5 105.2h0M205.7 76.9h0M202.3 92.0h0M206.4 82.5h0M197.4 103.4h0M201.9 99.4h0M196.6 104.0h0M201.3 103.5h0M204.1 100.0h0M208.7 104.7h0M205.5 78.6h0M196.0 105.2h0M203.6 105.2h0M206.3 81.8h0M204.0 94.7h0M207.3 91.8h0M204.0 93.5h0M205.1 98.8h0M203.1 98.4h0M201.8 105.3h0M202.9 103.2h0M208.3 85.6h0M200.3 104.0h0M206.5 97.4h0M206.9 98.7h0M199.7 104.9h0M205.4 105.2h0M202.5 91.4h0M206.4 84.9h0M202.5 96.1h0M206.2 100.1h0M206.6 75.4h0M206.5 72.7h0M208.0 87.1h0M207.9 73.6h0M196.3 96.8h0M204.1 104.2h0M207.9 84.4h0M207.9 100.8h0M205.0 86.0h0M195.5 102.5h0M206.9 83.0h0M207.1 77.3h0M208.2 103.6h0M200.4 101.5h0M206.9 105.2h0M207.9 76.3h0M207.0 89.5h0M207.8 84.6h0M197.5 104.8h0M207.1 100.6h0M206.0 79.9h0M207.9 79.4h0M197.4 104.8h0M208.5 99.7h0M208.1 83.9h0M193.3 93.7h0M208.3 100.6h0M200.4 104.1h0M202.7 86.6h0M204.7 102.9h0M203.0 91.3h0M208.4 90.2h0M207.0 101.7h0M208.9 104.4h0M203.7 92.2h0M207.9 78.6h0M207.3 104.6h0M196.9 105.3h0M206.5 105.3h0M206.3 100.7h0M200.0 103.4h0M203.7 103.7h0M206.5 91.9h0M208.8 76.3h0M206.9 103.1h0M207.3 91.3h0M208.5 80.0h0M201.4 102.7h0M202.4 105.3h0M201.8 100.8h0M199.1 91.0h0M206.0 87.1h0M207.1 103.0h0M208.0 95.4h0M208.8 99.4h0M207.9 84.9h0M190.1 105.3h0M202.9 104.5h0M201.6 103.8h0M205.6 91.2h0M207.8 83.1h0M203.3 102.0h0M197.8 105.2h0M204.7 87.9h0M201.2 105.3h0M200.5 97.6h0M206.5 86.7h0M207.2 104.8h0M202.2 103.2h0M208.2 86.3h0M205.4 88.8h0M199.1 102.6h0M200.3 94.6h0M205.1 95.7h0M196.7 102.7h0M193.2 103.5h0M207.2 79.5h0M208.4 103.2h0M203.5 86.6h0M204.9 101.4h0M208.1 79.5h0M207.6 78.0h0M206.5 91.6h0M206.6 73.7h0M203.9 97.5h0M205.7 80.8h0M207.6 98.5h0M199.6 101.8h0M206.7 103.6h0M208.4 77.8h0M205.2 104.5h0M208.8 76.7h0M207.9 101.0h0M207.4 105.2h0M204.8 88.9h0M204.8 86.9h0M202.3 105.1h0M207.5 82.9h0M208.1 82.8h0M208.4 80.2h0M208.0 77.6h0M207.7 103.7h0M193.4 104.8h0M207.8 83.2h0M206.0 91.5h0M199.6 102.2h0M197.6 104.9h0M201.3 103.7h0M207.6 101.5h0M208.2 102.8h0M207.4 102.3h0M202.2 101.5h0M205.6 74.6h0M208.7 92.1h0M201.3 105.3h0M207.1 85.1h0M206.5 100.9h0M199.6 103.5h0M205.1 80.5h0M200.9 104.2h0M204.7 105.3h0M206.2 73.8h0M199.2 105.3h0M208.8 84.0h0M201.6 104.0h0M208.9 82.1h0M203.1 102.7h0M206.7 103.5h0M207.0 88.6h0M208.9 91.4h0M205.9 105.0h0M204.3 84.5h0M206.1 91.7h0M203.6 99.7h0M205.0 78.9h0M199.9 105.3h0M207.6 103.7h0M196.4 96.5h0M205.2 100.1h0M206.0 97.8h0M208.7 95.4h0M201.5 91.0h0M207.1 100.9h0M207.6 81.5h0M208.8 90.3h0M205.1 98.4h0M207.5 85.1h0M207.4 97.7h0M208.8 79.2h0M204.2 101.9h0M207.5 39.6h0M206.7 71.8h0M206.3 68.0h0M204.0 71.6h0M204.3 64.1h0M197.2 37.6h0M206.9 73.6h0M208.5 61.0h0M206.9 16.0h0M201.7 58.1h0M207.5 70.3h0M207.3 69.8h0M204.4 60.8h0M208.0 32.6h0M202.4 40.3h0M208.9 56.3h0M205.2 72.3h0M206.1 36.6h0M203.5 22.8h0M206.4 36.0h0M208.0 58.9h0M201.6 25.2h0M206.2 34.0h0M200.3 41.4h0M205.1 44.2h0M207.8 45.2h0M201.9 73.7h0M205.0 38.8h0M209.0 45.1h0M204.1 56.8h0M203.1 45.7h0M205.2 20.8h0M204.4 70.8h0M202.3 60.8h0M207.7 54.6h0M208.7 51.1h0M206.8 71.6h0M198.1 52.7h0M203.8 73.6h0M206.3 38.5h0M203.4 53.2h0M202.3 52.6h0M205.9 59.5h0M207.9 41.0h0M208.8 60.6h0M206.6 15.9h0M205.5 62.6h0M207.7 60.1h0M204.7 75.5h0M206.6 40.0h0M208.6 62.8h0M205.7 36.6h0M205.7 19.9h0M208.4 31.8h0M208.4 60.6h0M206.6 33.8h0M205.5 31.1h0M205.0 49.8h0M204.7 69.0h0M208.0 44.4h0M206.8 30.3h0M204.2 65.8h0M202.7 50.8h0M202.7 62.7h0M208.5 27.7h0M204.5 67.8h0M208.8 58.6h0M208.6 38.1h0M208.8 66.5h0M205.0 55.3h0M204.5 58.4h0M203.8 62.2h0M208.0 20.9h0M207.7 29.6h0M208.4 22.9h0M206.5 29.3h0M208.3 44.8h0M208.9 18.9h0M209.0 43.1h0M206.8 72.3h0M208.3 68.7h0M204.7 71.9h0M208.2 23.1h0M206.2 24.2h0M207.6 46.6h0M192.1 67.0h0M199.6 93.2h0M189.1 74.6h0M190.9 84.1h0M200.6 67.5h0M197.4 91.8h0M200.9 95.4h0M200.3 83.1h0M202.8 95.2h0M194.2 80.3h0M202.4 68.2h0M188.7 83.0h0M202.3 79.5h0M195.7 86.5h0M190.6 84.9h0M200.1 76.7h0M202.2 76.7h0M192.9 75.0h0M201.1 65.6h0M192.7 81.4h0M184.5 82.4h0M201.4 73.6h0M201.7 77.1h0M195.1 86.9h0M190.4 82.8h0M190.3 92.7h0M200.9 84.3h0M194.6 69.6h0M175.3 103.6h0M190.2 102.6h0M174.7 103.4h0M181.3 101.2h0M189.2 104.7h0M176.4 104.3h0M183.5 103.1h0M184.8 105.1h0M187.3 104.5h0M191.8 104.4h0M175.5 105.0h0M167.3 103.0h0M184.1 99.4h0M185.5 103.8h0M184.2 99.3h0M184.3 102.3h0M183.8 102.2h0M186.1 104.3h0M179.9 101.2h0M188.4 103.9h0M168.2 104.2h0M188.7 101.8h0M177.4 103.2h0M190.1 104.5h0M174.3 101.8h0M175.6 103.1h0M179.2 104.1h0M185.0 104.4h0M183.0 104.9h0M168.2 101.5h0M183.2 101.8h0M192.8 104.9h0M177.9 105.1h0M183.6 98.0h0M180.4 102.3h0M208.0 11.4h0M206.6 11.4h0M205.2 11.4h0M203.4 11.4h0M201.5 11.4h0M199.7 11.4h0M197.8 11.4h0M193.2 11.4h0M207.6 11.4h0M206.2 11.4h0M204.3 11.4h0M202.5 11.4h0M208.5 11.4h0M200.6 11.4h0M190.4 22.4h0M191.3 28.6h0M193.2 49.0h0M192.2 59.9h0M187.1 67.7h0M190.8 69.3h0M169.0 102.2h0M171.8 103.7h0M175.0 103.4h0M180.2 101.5h0" stroke="#3c6ff0" stroke-width="2.5" stroke-linecap="round" fill="none"/>
<path d="M222.9 102.1h0M222.3 104.1h0M218.7 104.6h0M218.3 98.6h0M220.3 104.8h0M218.4 95.7h0M226.0 104.7h0M219.1 103.9h0M218.6 97.8h0M219.0 97.2h0M221.0 98.1h0M224.6 105.0h0M219.1 99.4h0M220.2 94.6h0M225.3 103.8h0M220.0 105.3h0M223.7 105.3h0M225.8 105.0h0M218.6 103.2h0M219.5 95.8h0M221.6 101.3h0M219.4 100.1h0M219.2 101.8h0M219.5 96.8h0M221.9 102.7h0M222.7 102.1h0M220.5 102.5h0M224.0 97.0h0M218.6 100.2h0M218.8 93.9h0M219.4 98.3h0M220.8 99.7h0M219.4 93.8h0M223.5 103.3h0M221.2 102.0h0M220.1 98.6h0M223.0 99.7h0M223.2 103.5h0M218.7 105.3h0M221.7 100.0h0M218.8 96.5h0M218.7 96.3h0M220.3 96.6h0M222.6 103.6h0M219.4 96.0h0M221.0 94.9h0M222.9 102.9h0M219.8 96.8h0M218.3 104.2h0M229.0 104.0h0M219.8 99.7h0M223.0 104.2h0M218.3 103.8h0M225.1 101.6h0M221.2 105.0h0M225.7 104.0h0M223.8 100.1h0M222.8 100.8h0M220.3 101.4h0M219.9 104.3h0M219.6 104.4h0M221.3 100.3h0M220.5 102.3h0M218.6 105.2h0M218.8 93.5h0M219.3 99.3h0M220.1 97.0h0M223.0 102.9h0M219.2 100.8h0M218.3 93.6h0M221.0 95.7h0M218.8 103.7h0M223.6 97.1h0M221.0 97.3h0M220.0 96.5h0M219.1 105.2h0M219.1 104.2h0M220.2 105.2h0M220.9 100.4h0M219.7 94.3h0M220.6 95.0h0M220.4 102.3h0M221.9 104.8h0M218.9 100.3h0M222.7 99.2h0M219.9 102.4h0M223.7 101.7h0M221.8 93.6h0M221.7 104.1h0M219.0 102.8h0M221.3 95.1h0M223.7 105.2h0M219.1 97.0h0M220.6 93.7h0M223.4 105.1h0M220.7 94.5h0M219.4 98.7h0M221.5 97.5h0M220.0 104.9h0M221.6 104.8h0M219.6 101.3h0M221.4 104.7h0M222.9 98.7h0M218.8 104.3h0M221.5 105.2h0M218.8 94.6h0M219.1 95.7h0M219.6 101.7h0M226.9 104.9h0M220.9 99.4h0M222.1 101.7h0M224.2 101.4h0M219.6 99.4h0M221.0 105.1h0M219.7 98.1h0M218.6 95.6h0M220.5 103.7h0M219.6 103.6h0M218.9 96.2h0M220.2 101.2h0M220.0 103.2h0M218.7 93.8h0M224.2 105.1h0M222.5 104.1h0M218.9 101.4h0M221.8 104.2h0M233.1 102.7h0M218.6 94.7h0M220.8 104.9h0M228.7 105.1h0M220.3 97.9h0M231.9 105.3h0M218.9 96.7h0M220.6 105.3h0M219.7 96.3h0M218.7 101.9h0M218.7 94.9h0M224.5 104.7h0M219.2 104.4h0M225.7 104.3h0M224.1 105.0h0M220.9 101.2h0M219.9 103.6h0M222.0 98.2h0M219.6 96.6h0M219.9 105.1h0M221.9 97.8h0M222.7 105.1h0M220.5 96.6h0M221.7 95.7h0M226.4 101.2h0M219.0 101.4h0M218.4 95.6h0M219.7 96.3h0M220.3 102.7h0M221.0 99.8h0M223.8 105.3h0M218.7 100.9h0M220.3 104.8h0M222.0 95.7h0M219.3 103.1h0M220.7 97.6h0M227.0 105.1h0M224.8 101.2h0M222.7 100.9h0M219.5 105.3h0M218.4 94.0h0M221.4 104.9h0M218.7 103.8h0M219.4 104.9h0M218.4 98.3h0M218.8 99.8h0M223.4 100.1h0M219.4 104.9h0M218.4 95.7h0M219.7 104.8h0M221.3 101.2h0M218.3 104.8h0M221.8 102.2h0M220.4 95.8h0M225.5 104.6h0M221.8 104.5h0M220.3 96.4h0M219.8 102.1h0M220.4 96.1h0M218.5 94.4h0M219.2 97.2h0M221.0 103.0h0M225.3 101.9h0M218.7 94.9h0M218.7 96.5h0M219.2 100.9h0M219.5 94.1h0M219.5 102.0h0M220.8 99.3h0M222.9 105.1h0M219.1 101.9h0M218.3 104.7h0M218.9 93.9h0M225.5 99.3h0M221.9 96.6h0M225.3 105.2h0M218.7 99.2h0M225.0 103.6h0M222.6 100.6h0M221.2 103.8h0M226.3 100.8h0M222.7 103.5h0M219.6 103.3h0M219.6 99.9h0M219.6 94.2h0M218.5 101.5h0M219.3 100.7h0M220.3 104.7h0M221.3 103.4h0M220.4 103.9h0M227.4 105.0h0M220.0 99.6h0M219.6 100.2h0M219.8 98.2h0M223.3 101.6h0M219.8 101.5h0M218.4 103.2h0M220.8 100.9h0M218.8 102.5h0M218.6 102.8h0M218.4 95.8h0M223.0 101.2h0M222.0 103.5h0M218.4 97.2h0M225.1 89.8h0M221.3 79.9h0M221.3 92.4h0M220.8 67.2h0M219.7 91.2h0M227.5 67.0h0M220.0 90.0h0M221.2 69.9h0M222.3 72.6h0M223.8 76.8h0M218.5 67.0h0M224.5 78.5h0M220.4 64.8h0M226.2 90.7h0M224.6 60.7h0M218.4 73.9h0M223.0 77.6h0M219.4 80.8h0M221.8 64.9h0M221.9 82.3h0M224.0 79.5h0M219.8 85.5h0M221.7 81.9h0M219.5 84.4h0M220.8 64.7h0M221.8 79.8h0M218.9 89.1h0M220.2 74.3h0M225.4 74.1h0M222.6 84.4h0M223.2 62.1h0M226.2 88.4h0M218.7 80.5h0M218.5 92.7h0M226.6 74.8h0M218.4 65.4h0M222.7 75.9h0M218.3 76.8h0M220.9 69.5h0M220.5 73.5h0M223.5 83.4h0M220.0 76.5h0M220.9 91.5h0M220.9 74.9h0M225.2 74.4h0M224.8 78.1h0M227.0 79.9h0M227.0 83.7h0M219.2 76.3h0M220.3 84.6h0M220.3 55.4h0M222.2 91.2h0M220.8 59.6h0M224.6 54.8h0M220.1 59.9h0M219.3 85.6h0M220.6 77.0h0M218.3 89.1h0M221.0 71.9h0M220.3 54.6h0M221.9 71.7h0M219.3 64.7h0M218.4 85.0h0M218.6 85.1h0M223.0 62.1h0M221.1 88.7h0M221.0 77.6h0M219.2 71.2h0M223.1 76.2h0M218.3 81.1h0M221.7 90.9h0M223.5 91.3h0M220.4 91.4h0M222.2 63.0h0M218.7 72.7h0M218.9 54.9h0M218.5 38.4h0M220.1 46.9h0M219.0 52.9h0M219.7 34.0h0M219.9 44.7h0M219.2 46.2h0M222.4 41.5h0M219.7 32.7h0M220.9 49.4h0M219.3 54.2h0M222.0 47.8h0M250.5 104.5h0M248.4 104.9h0M252.1 104.1h0M240.2 104.6h0M237.5 105.1h0M245.9 105.2h0M249.9 104.5h0M239.9 105.1h0M232.0 104.6h0M236.7 104.3h0M235.0 103.0h0M241.9 104.4h0M237.4 104.5h0M237.8 104.9h0M248.6 105.1h0M236.5 105.3h0M234.8 104.7h0M233.6 103.9h0M236.3 105.0h0M231.5 105.2h0M234.4 104.9h0M248.9 104.6h0M248.9 104.6h0M248.1 104.8h0M246.0 104.6h0M237.2 104.7h0M251.8 105.1h0M240.4 105.2h0M230.9 104.3h0M245.6 105.2h0M242.5 103.3h0M236.9 105.3h0M233.0 104.0h0M249.8 104.5h0M241.4 104.5h0M234.4 105.2h0M244.3 104.4h0M242.0 105.0h0M229.7 104.4h0M232.1 104.8h0M244.5 104.6h0M230.3 104.5h0M240.3 105.0h0M235.1 104.6h0M233.3 105.0h0M221.0 11.4h0M222.0 11.4h0M221.5 11.4h0M227.1 63.7h0M226.1 66.8h0M223.8 33.3h0M222.4 30.8h0M226.1 52.1h0M224.3 77.1h0" stroke="#e0303c" stroke-width="2.5" stroke-linecap="round" fill="none"/>
<line x1="208.7" y1="10.4" x2="208.7" y2="107.2" stroke="#555" stroke-width="0.5" stroke-dasharray="0.8 0.8"/>
<line x1="218.2" y1="10.4" x2="218.2" y2="107.2" stroke="#555" stroke-width="0.5" stroke-dasharray="0.8 0.8"/>
<rect x="163.2" y="10.4" width="100.2" height="96.8" fill="none" stroke="#a8a8a8" stroke-width="0.9"/>
<line x1="163.2" y1="107.2" x2="263.4" y2="107.2" stroke="#777" stroke-width="0.9"/>
<line x1="163.2" y1="10.4" x2="163.2" y2="107.2" stroke="#888" stroke-width="0.9"/>
<line x1="162" y1="105.3" x2="163.2" y2="105.3" stroke="#555" stroke-width="0.5"/>
<text x="161.6" y="106.6" font-size="3.6" text-anchor="end" fill="#222">0</text>
<line x1="162" y1="74" x2="163.2" y2="74" stroke="#555" stroke-width="0.5"/>
<text x="161.6" y="75.3" font-size="3.6" text-anchor="end" fill="#222">1000</text>
<line x1="162" y1="42.7" x2="163.2" y2="42.7" stroke="#555" stroke-width="0.5"/>
<text x="161.6" y="44" font-size="3.6" text-anchor="end" fill="#222">2000</text>
<line x1="162" y1="11.4" x2="163.2" y2="11.4" stroke="#555" stroke-width="0.5"/>
<text x="161.6" y="12.7" font-size="3.6" text-anchor="end" fill="#222">3000</text>
<line x1="167.15" y1="107.2" x2="167.15" y2="108.4" stroke="#555" stroke-width="0.5"/>
<text x="167.15" y="111.5" font-size="3.9" text-anchor="middle" fill="#222">-10</text>
<line x1="190.38" y1="107.2" x2="190.38" y2="108.4" stroke="#555" stroke-width="0.5"/>
<text x="190.38" y="111.5" font-size="3.9" text-anchor="middle" fill="#222">-5</text>
<line x1="213.6" y1="107.2" x2="213.6" y2="108.4" stroke="#555" stroke-width="0.5"/>
<text x="213.6" y="111.5" font-size="3.9" text-anchor="middle" fill="#222">0</text>
<line x1="236.82" y1="107.2" x2="236.82" y2="108.4" stroke="#555" stroke-width="0.5"/>
<text x="236.82" y="111.5" font-size="3.9" text-anchor="middle" fill="#222">5</text>
<line x1="260.05" y1="107.2" x2="260.05" y2="108.4" stroke="#555" stroke-width="0.5"/>
<text x="260.05" y="111.5" font-size="3.9" text-anchor="middle" fill="#222">10</text>
<text x="213.6" y="116.3" font-size="4.4" font-weight="bold" text-anchor="middle" fill="#333">log2(FC)</text>
<text x="154.6" y="58.8" font-size="4.2" font-weight="bold" text-anchor="middle" fill="#333" transform="rotate(-90 154.6 58.8)">-log10(FDR)</text>
<text x="215.5" y="7.9" font-size="5.7" font-weight="bold" text-anchor="middle" fill="#111">siHmgb2 vs SCR</text>
<text x="232" y="16.8" font-size="4.7" font-weight="bold" fill="#2430e8">DOWN: 2132</text>
<text x="232" y="23.9" font-size="4.7" font-weight="bold" fill="#e02a36">UP: 916</text>
<text x="332.6" y="7.9" font-size="11.2" font-weight="bold">c</text>
<rect x="465.2" y="6.7" width="15.7" height="9.2" fill="#f09c2c"/>
<text x="473.05" y="13.35" font-size="5.8" font-weight="bold" text-anchor="middle">GO</text>
<rect x="491.8" y="17.9" width="93.4" height="4.5" fill="#f09c2c"/>
<text x="488.8" y="21.67" font-size="5.6" font-weight="bold" text-anchor="end">Cell population proliferation</text>
<line x1="490.8" y1="20.15" x2="491.8" y2="20.15" stroke="#333" stroke-width="0.5"/>
<rect x="491.8" y="24.51" width="90.2" height="4.5" fill="#f09c2c"/>
<text x="488.8" y="28.28" font-size="5.6" font-weight="bold" text-anchor="end">Regulation of cell population proliferation</text>
<line x1="490.8" y1="26.76" x2="491.8" y2="26.76" stroke="#333" stroke-width="0.5"/>
<rect x="491.8" y="31.12" width="66.9" height="4.5" fill="#f09c2c"/>
<text x="488.8" y="34.89" font-size="5.6" font-weight="bold" text-anchor="end">Positive regulation of cell population proliferation</text>
<line x1="490.8" y1="33.37" x2="491.8" y2="33.37" stroke="#333" stroke-width="0.5"/>
<rect x="491.8" y="37.73" width="65.1" height="4.5" fill="#f09c2c"/>
<text x="488.8" y="41.5" font-size="5.6" font-weight="bold" text-anchor="end">Chromosome segregation</text>
<line x1="490.8" y1="39.98" x2="491.8" y2="39.98" stroke="#333" stroke-width="0.5"/>
<rect x="491.8" y="44.34" width="63.2" height="4.5" fill="#f09c2c"/>
<text x="488.8" y="48.11" font-size="5.6" font-weight="bold" text-anchor="end">Mitotic cell cycle</text>
<line x1="490.8" y1="46.59" x2="491.8" y2="46.59" stroke="#333" stroke-width="0.5"/>
<rect x="491.8" y="50.95" width="59.1" height="4.5" fill="#f09c2c"/>
<text x="488.8" y="54.72" font-size="5.6" font-weight="bold" text-anchor="end">Sister chromatid segregation</text>
<line x1="490.8" y1="53.2" x2="491.8" y2="53.2" stroke="#333" stroke-width="0.5"/>
<rect x="491.8" y="57.56" width="59.1" height="4.5" fill="#f09c2c"/>
<text x="488.8" y="61.33" font-size="5.6" font-weight="bold" text-anchor="end">Mitotic nuclear division</text>
<line x1="490.8" y1="59.81" x2="491.8" y2="59.81" stroke="#333" stroke-width="0.5"/>
<rect x="491.8" y="64.17" width="58.1" height="4.5" fill="#f09c2c"/>
<text x="488.8" y="67.94" font-size="5.6" font-weight="bold" text-anchor="end">Nuclear division</text>
<line x1="490.8" y1="66.42" x2="491.8" y2="66.42" stroke="#333" stroke-width="0.5"/>
<rect x="491.8" y="70.78" width="57.9" height="4.5" fill="#f09c2c"/>
<text x="488.8" y="74.55" font-size="5.6" font-weight="bold" text-anchor="end">Mitotic sister chromatid segregation</text>
<line x1="490.8" y1="73.03" x2="491.8" y2="73.03" stroke="#333" stroke-width="0.5"/>
<rect x="491.8" y="77.39" width="56.1" height="4.5" fill="#f09c2c"/>
<text x="488.8" y="81.16" font-size="5.6" font-weight="bold" text-anchor="end">Nuclear chromosome segregation</text>
<line x1="490.8" y1="79.64" x2="491.8" y2="79.64" stroke="#333" stroke-width="0.5"/>
<line x1="491.8" y1="16.8" x2="491.8" y2="82.69" stroke="#333" stroke-width="0.6"/>
<line x1="491.5" y1="16.8" x2="600.9" y2="16.8" stroke="#9a9a9a" stroke-width="1.2"/>
<line x1="492.3" y1="15.8" x2="492.3" y2="17.7" stroke="#9a9a9a" stroke-width="0.5"/>
<text x="492.3" y="14.5" font-size="5" font-weight="bold" text-anchor="middle">0</text>
<line x1="519.35" y1="15.8" x2="519.35" y2="17.7" stroke="#9a9a9a" stroke-width="0.5"/>
<text x="519.35" y="14.5" font-size="5" font-weight="bold" text-anchor="middle">5</text>
<line x1="546.4" y1="15.8" x2="546.4" y2="17.7" stroke="#9a9a9a" stroke-width="0.5"/>
<text x="546.4" y="14.5" font-size="5" font-weight="bold" text-anchor="middle">10</text>
<line x1="573.45" y1="15.8" x2="573.45" y2="17.7" stroke="#9a9a9a" stroke-width="0.5"/>
<text x="573.45" y="14.5" font-size="5" font-weight="bold" text-anchor="middle">15</text>
<line x1="600.5" y1="15.8" x2="600.5" y2="17.7" stroke="#9a9a9a" stroke-width="0.5"/>
<text x="600.5" y="14.5" font-size="5" font-weight="bold" text-anchor="middle">20</text>
<text x="552" y="7" font-size="5.8" text-anchor="middle">-log (adj. <tspan font-style="italic">p</tspan> val)</text>
<rect x="458.3" y="94.3" width="25.6" height="10.3" fill="#3f9b88"/>
<text x="471.1" y="101.6" font-size="5.8" font-weight="bold" text-anchor="middle">KEGG</text>
<rect x="491.6" y="105.6" width="107.2" height="4.6" fill="#3f9b88"/>
<text x="489" y="109.62" font-size="5.6" font-weight="bold" text-anchor="end">Focal adhesion</text>
<line x1="490.6" y1="107.9" x2="491.6" y2="107.9" stroke="#333" stroke-width="0.5"/>
<rect x="491.6" y="112.26" width="95.1" height="4.6" fill="#3f9b88"/>
<text x="489" y="116.28" font-size="5.6" font-weight="bold" text-anchor="end">AGE-RAGE signaling pathway in diabetic complications</text>
<line x1="490.6" y1="114.56" x2="491.6" y2="114.56" stroke="#333" stroke-width="0.5"/>
<rect x="491.6" y="118.92" width="92.5" height="4.6" fill="#3f9b88"/>
<text x="489" y="122.94" font-size="5.6" font-weight="bold" text-anchor="end">Axon guidance</text>
<line x1="490.6" y1="121.22" x2="491.6" y2="121.22" stroke="#333" stroke-width="0.5"/>
<rect x="491.6" y="125.58" width="71.9" height="4.6" fill="#3f9b88"/>
<text x="489" y="129.6" font-size="5.6" font-weight="bold" text-anchor="end">MAPK signaling pathway</text>
<line x1="490.6" y1="127.88" x2="491.6" y2="127.88" stroke="#333" stroke-width="0.5"/>
<rect x="491.6" y="132.24" width="67.3" height="4.6" fill="#3f9b88"/>
<text x="489" y="136.26" font-size="5.6" font-weight="bold" text-anchor="end">TNF signaling pathway</text>
<line x1="490.6" y1="134.54" x2="491.6" y2="134.54" stroke="#333" stroke-width="0.5"/>
<rect x="491.6" y="138.9" width="61.2" height="4.6" fill="#3f9b88"/>
<text x="489" y="142.92" font-size="5.6" font-weight="bold" text-anchor="end">Cell cycle</text>
<line x1="490.6" y1="141.2" x2="491.6" y2="141.2" stroke="#333" stroke-width="0.5"/>
<rect x="491.6" y="145.56" width="60.7" height="4.6" fill="#3f9b88"/>
<text x="489" y="149.58" font-size="5.6" font-weight="bold" text-anchor="end">Prostate cancer</text>
<line x1="490.6" y1="147.86" x2="491.6" y2="147.86" stroke="#333" stroke-width="0.5"/>
<rect x="491.6" y="152.22" width="57.7" height="4.6" fill="#3f9b88"/>
<text x="489" y="156.24" font-size="5.6" font-weight="bold" text-anchor="end">Signaling pathways regulating pluripotency of stem cells</text>
<line x1="490.6" y1="154.52" x2="491.6" y2="154.52" stroke="#333" stroke-width="0.5"/>
<rect x="491.6" y="158.88" width="50" height="4.6" fill="#3f9b88"/>
<text x="489" y="162.9" font-size="5.6" font-weight="bold" text-anchor="end">Oocyte meiosis</text>
<line x1="490.6" y1="161.18" x2="491.6" y2="161.18" stroke="#333" stroke-width="0.5"/>
<rect x="491.6" y="165.54" width="48.6" height="4.6" fill="#3f9b88"/>
<text x="489" y="169.56" font-size="5.6" font-weight="bold" text-anchor="end">TGF-beta signaling pathway</text>
<line x1="490.6" y1="167.84" x2="491.6" y2="167.84" stroke="#333" stroke-width="0.5"/>
<line x1="491.6" y1="104.3" x2="491.6" y2="170.94" stroke="#333" stroke-width="0.6"/>
<line x1="491.3" y1="104.3" x2="602.3" y2="104.3" stroke="#9a9a9a" stroke-width="1.2"/>
<line x1="491.9" y1="103.3" x2="491.9" y2="105.2" stroke="#9a9a9a" stroke-width="0.5"/>
<text x="491.9" y="102.6" font-size="5" font-weight="bold" text-anchor="middle">0</text>
<line x1="510.23" y1="103.3" x2="510.23" y2="105.2" stroke="#9a9a9a" stroke-width="0.5"/>
<text x="510.23" y="102.6" font-size="5" font-weight="bold" text-anchor="middle">1</text>
<line x1="528.57" y1="103.3" x2="528.57" y2="105.2" stroke="#9a9a9a" stroke-width="0.5"/>
<text x="528.57" y="102.6" font-size="5" font-weight="bold" text-anchor="middle">2</text>
<line x1="546.9" y1="103.3" x2="546.9" y2="105.2" stroke="#9a9a9a" stroke-width="0.5"/>
<text x="546.9" y="102.6" font-size="5" font-weight="bold" text-anchor="middle">3</text>
<line x1="565.23" y1="103.3" x2="565.23" y2="105.2" stroke="#9a9a9a" stroke-width="0.5"/>
<text x="565.23" y="102.6" font-size="5" font-weight="bold" text-anchor="middle">4</text>
<line x1="583.57" y1="103.3" x2="583.57" y2="105.2" stroke="#9a9a9a" stroke-width="0.5"/>
<text x="583.57" y="102.6" font-size="5" font-weight="bold" text-anchor="middle">5</text>
<line x1="601.9" y1="103.3" x2="601.9" y2="105.2" stroke="#9a9a9a" stroke-width="0.5"/>
<text x="601.9" y="102.6" font-size="5" font-weight="bold" text-anchor="middle">6</text>
<text x="552.8" y="96.3" font-size="5.8" text-anchor="middle">-log (adj. <tspan font-style="italic">p</tspan> val)</text>
<text x="-0.1" y="131.1" font-size="11.2" font-weight="bold">d</text>
<text x="51.3" y="131.1" font-size="2.6" font-weight="bold" text-anchor="middle" fill="#111">Enrichment plot: GO:0000070 mitotic</text>
<text x="51.3" y="133.85" font-size="2.6" font-weight="bold" text-anchor="middle" fill="#111">sister chromatid segregation</text>
<rect x="15.5" y="134.4" width="71.6" height="69" fill="#fff"/>
<line x1="15.5" y1="138.1" x2="87.1" y2="138.1" stroke="#bbb" stroke-width="0.3"/>
<path d="M15.5 138.1 C16.1 138.1 17.89 138.02 19.08 138.1 C20.27 138.18 21.48 138.39 22.66 138.59 C23.84 138.79 24.74 138.87 26.15 139.32 C27.56 139.77 28.76 140.26 31.13 141.28 C33.5 142.3 36.46 143.52 40.39 145.44 C44.31 147.36 50.51 150.66 54.69 152.78 C58.87 154.9 62.47 156.73 65.46 158.16 C68.46 159.59 70.92 160.61 72.67 161.34 C74.41 162.07 74.89 162.56 75.91 162.56 C76.93 162.56 77.89 161.75 78.8 161.34 C79.71 160.93 80.58 160.97 81.37 160.12 C82.16 159.26 82.86 158.24 83.52 156.2 C84.18 154.16 84.83 150.66 85.31 147.89 C85.79 145.11 86.15 141.2 86.38 139.57 C86.62 137.94 86.68 138.34 86.74 138.1" fill="none" stroke="#55e627" stroke-width="1.15"/>
<text x="16.5" y="158.8" font-size="2" fill="#222">Nominal p-value: 0</text>
<text x="16.5" y="161.1" font-size="2" fill="#222">FDR: 0.0000</text>
<text x="16.5" y="163.4" font-size="2" fill="#222">NES: -2.0321</text>
<text x="16.5" y="165.7" font-size="2" fill="#222">Ranking metric scores: -0.7681</text>
<line x1="14.7" y1="138.1" x2="15.5" y2="138.1" stroke="#555" stroke-width="0.3"/>
<text x="14" y="138.1" font-size="2.4" text-anchor="middle" fill="#222" transform="rotate(-90 14 138.1)">0.0</text>
<line x1="14.7" y1="146.1" x2="15.5" y2="146.1" stroke="#555" stroke-width="0.3"/>
<text x="14" y="146.1" font-size="2.4" text-anchor="middle" fill="#222" transform="rotate(-90 14 146.1)">-0.2</text>
<line x1="14.7" y1="154.1" x2="15.5" y2="154.1" stroke="#555" stroke-width="0.3"/>
<text x="14" y="154.1" font-size="2.4" text-anchor="middle" fill="#222" transform="rotate(-90 14 154.1)">-0.4</text>
<line x1="14.7" y1="162.1" x2="15.5" y2="162.1" stroke="#555" stroke-width="0.3"/>
<text x="14" y="162.1" font-size="2.4" text-anchor="middle" fill="#222" transform="rotate(-90 14 162.1)">-0.6</text>
<text x="10.8" y="150.4" font-size="2.7" text-anchor="middle" fill="#111" transform="rotate(-90 10.8 150.4)">Enrichment score (ES)</text>
<path d="M67.7 166.9V178.0M83.0 166.9V178.0M30.3 166.9V178.0M29.3 166.9V178.0M73.8 166.9V178.0M61.8 166.9V178.0M16.3 166.9V178.0M80.6 166.9V178.0M79.8 166.9V178.0M76.4 166.9V178.0M62.0 166.9V178.0M57.2 166.9V178.0M65.9 166.9V178.0M31.4 166.9V178.0M24.0 166.9V178.0M30.7 166.9V178.0M82.2 166.9V178.0M77.7 166.9V178.0M29.9 166.9V178.0M22.6 166.9V178.0M61.3 166.9V178.0M56.9 166.9V178.0M26.2 166.9V178.0M66.2 166.9V178.0M86.6 166.9V178.0M86.1 166.9V178.0M32.3 166.9V178.0M21.6 166.9V178.0M28.3 166.9V178.0M57.3 166.9V178.0M56.9 166.9V178.0M22.1 166.9V178.0M26.8 166.9V178.0M84.3 166.9V178.0M68.1 166.9V178.0M78.8 166.9V178.0M71.1 166.9V178.0M18.4 166.9V178.0M64.6 166.9V178.0M56.8 166.9V178.0M85.7 166.9V178.0M24.4 166.9V178.0M29.5 166.9V178.0M66.4 166.9V178.0M75.7 166.9V178.0M29.7 166.9V178.0M34.7 166.9V178.0M83.1 166.9V178.0M17.8 166.9V178.0M76.5 166.9V178.0M62.8 166.9V178.0M59.5 166.9V178.0M75.3 166.9V178.0M71.9 166.9V178.0M81.7 166.9V178.0M66.9 166.9V178.0M59.6 166.9V178.0M30.9 166.9V178.0M65.2 166.9V178.0M84.2 166.9V178.0M80.3 166.9V178.0M84.5 166.9V178.0M64.1 166.9V178.0M84.3 166.9V178.0M66.7 166.9V178.0M70.0 166.9V178.0M71.0 166.9V178.0M68.8 166.9V178.0M17.3 166.9V178.0M63.3 166.9V178.0M69.2 166.9V178.0M83.7 166.9V178.0M85.6 166.9V178.0M85.4 166.9V178.0M69.8 166.9V178.0M16.7 166.9V178.0M30.8 166.9V178.0M79.3 166.9V178.0M82.0 166.9V178.0M27.0 166.9V178.0M32.4 166.9V178.0M25.9 166.9V178.0M59.8 166.9V178.0M86.6 166.9V178.0M80.1 166.9V178.0M56.8 166.9V178.0M86.1 166.9V178.0M77.4 166.9V178.0M30.1 166.9V178.0M80.2 166.9V178.0M68.3 166.9V178.0M55.1 166.9V178.0M70.9 166.9V178.0M28.8 166.9V178.0M69.7 166.9V178.0M33.7 166.9V178.0M18.7 166.9V178.0M56.0 166.9V178.0M29.0 166.9V178.0M56.3 166.9V178.0M20.1 166.9V178.0M78.0 166.9V178.0M57.2 166.9V178.0M19.6 166.9V178.0M77.5 166.9V178.0M55.4 166.9V178.0M24.1 166.9V178.0M72.5 166.9V178.0M68.0 166.9V178.0M63.9 166.9V178.0M84.4 166.9V178.0M86.0 166.9V178.0M82.8 166.9V178.0M21.6 166.9V178.0M80.1 166.9V178.0M29.9 166.9V178.0M26.6 166.9V178.0M84.0 166.9V178.0M28.6 166.9V178.0M86.2 166.9V178.0M77.3 166.9V178.0M28.5 166.9V178.0M28.4 166.9V178.0M79.6 166.9V178.0M83.6 166.9V178.0M67.6 166.9V178.0M60.3 166.9V178.0M32.9 166.9V178.0M58.5 166.9V178.0M78.3 166.9V178.0M29.7 166.9V178.0M84.1 166.9V178.0M70.7 166.9V178.0M66.5 166.9V178.0M31.5 166.9V178.0M85.7 166.9V178.0M32.7 166.9V178.0M58.1 166.9V178.0M73.4 166.9V178.0M83.0 166.9V178.0M55.3 166.9V178.0M70.0 166.9V178.0M55.9 166.9V178.0M27.9 166.9V178.0M17.3 166.9V178.0M68.6 166.9V178.0M72.0 166.9V178.0M65.1 166.9V178.0" stroke="#000" stroke-width="0.25" stroke-opacity="0.5" fill="none"/>
<path d="M79.9 166.9V178.0M61.6 166.9V178.0M82.9 166.9V178.0M81.8 166.9V178.0M56.6 166.9V178.0M79.0 166.9V178.0M30.8 166.9V178.0M27.3 166.9V178.0M20.2 166.9V178.0M25.1 166.9V178.0" stroke="#000" stroke-width="0.55" stroke-opacity="0.85" fill="none"/>
<path d="M53.9 166.9V178.0M47.0 166.9V178.0M54.1 166.9V178.0M51.2 166.9V178.0M46.9 166.9V178.0" stroke="#999" stroke-width="0.4" fill="none"/>
<rect x="15.5" y="178" width="8.64" height="2.2" fill="#dc1c1c"/>
<rect x="24.09" y="178" width="5.78" height="2.2" fill="#e4484c"/>
<rect x="29.82" y="178" width="5.06" height="2.2" fill="#ec9098"/>
<rect x="34.83" y="178" width="21.53" height="2.2" fill="#f6dde2"/>
<rect x="56.31" y="178" width="6.49" height="2.2" fill="#dcdcf6"/>
<rect x="62.76" y="178" width="8.64" height="2.2" fill="#8c8cf0"/>
<rect x="71.35" y="178" width="8.64" height="2.2" fill="#3c3ce8"/>
<rect x="79.94" y="178" width="3.63" height="2.2" fill="#2020d8"/>
<rect x="83.52" y="178" width="3.63" height="2.2" fill="#6060e0"/>
<line x1="15.5" y1="190.8" x2="87.1" y2="190.8" stroke="#ccc" stroke-width="0.3"/>
<path d="M15.8 183.4 C16.3 189.3 18.5 189.9 27.5 190.45 L47.72 190.8 C69.2 191.4 82.09 192.8 84.59 194.8 C86.03 196.8 86.7 199.4 86.8 202.4 L86.8 190.8 L15.8 190.8 Z" fill="#d4d4d4" stroke="#c8c8c8" stroke-width="0.2"/>
<line x1="39.41" y1="180.2" x2="39.41" y2="203.4" stroke="#ccc" stroke-width="0.3" stroke-dasharray="0.5 0.5"/>
<text x="32.25" y="190.5" font-size="2.85" fill="#333">Zero cross at 7467</text>
<line x1="14.7" y1="181.4" x2="15.5" y2="181.4" stroke="#555" stroke-width="0.3"/>
<text x="14" y="181.4" font-size="2.4" text-anchor="middle" fill="#222" transform="rotate(-90 14 181.4)">1</text>
<line x1="14.7" y1="186.6" x2="15.5" y2="186.6" stroke="#555" stroke-width="0.3"/>
<text x="14" y="186.6" font-size="2.4" text-anchor="middle" fill="#222" transform="rotate(-90 14 186.6)">0.5</text>
<line x1="14.7" y1="191.8" x2="15.5" y2="191.8" stroke="#555" stroke-width="0.3"/>
<text x="14" y="191.8" font-size="2.4" text-anchor="middle" fill="#222" transform="rotate(-90 14 191.8)">0</text>
<line x1="14.7" y1="197" x2="15.5" y2="197" stroke="#555" stroke-width="0.3"/>
<text x="14" y="197" font-size="2.4" text-anchor="middle" fill="#222" transform="rotate(-90 14 197)">-0.5</text>
<line x1="14.7" y1="202.2" x2="15.5" y2="202.2" stroke="#555" stroke-width="0.3"/>
<text x="14" y="202.2" font-size="2.4" text-anchor="middle" fill="#222" transform="rotate(-90 14 202.2)">-1</text>
<text x="10.8" y="191.7" font-size="2.7" text-anchor="middle" fill="#111" transform="rotate(-90 10.8 191.7)">Ranked list metric</text>
<line x1="31.25" y1="203.4" x2="31.25" y2="204.2" stroke="#555" stroke-width="0.3"/>
<text x="31.25" y="206.4" font-size="2.3" text-anchor="middle" fill="#333">5000</text>
<line x1="47" y1="203.4" x2="47" y2="204.2" stroke="#555" stroke-width="0.3"/>
<text x="47" y="206.4" font-size="2.3" text-anchor="middle" fill="#333">10000</text>
<line x1="62.76" y1="203.4" x2="62.76" y2="204.2" stroke="#555" stroke-width="0.3"/>
<text x="62.76" y="206.4" font-size="2.3" text-anchor="middle" fill="#333">15000</text>
<line x1="78.51" y1="203.4" x2="78.51" y2="204.2" stroke="#555" stroke-width="0.3"/>
<text x="78.51" y="206.4" font-size="2.3" text-anchor="middle" fill="#333">20000</text>
<text x="51.3" y="209.5" font-size="2.6" text-anchor="middle" fill="#333">Rank in ordered gene list</text>
<rect x="15.5" y="134.4" width="71.6" height="69" fill="none" stroke="#8a8a8a" stroke-width="0.45"/>
<line x1="15.5" y1="166.9" x2="87.1" y2="166.9" stroke="#8a8a8a" stroke-width="0.35"/>
<line x1="15.5" y1="180.2" x2="87.1" y2="180.2" stroke="#8a8a8a" stroke-width="0.35"/>
<text x="133.1" y="132.3" font-size="2.6" font-weight="bold" text-anchor="middle" fill="#111">Enrichment plot: GO:0000819 sister chromatid segregation</text>
<rect x="97.3" y="134.4" width="71.6" height="69" fill="#fff"/>
<line x1="97.3" y1="138.1" x2="168.9" y2="138.1" stroke="#bbb" stroke-width="0.3"/>
<path d="M97.3 138.1 C97.9 138.1 99.69 138.01 100.88 138.1 C102.07 138.19 103.37 138.4 104.46 138.61 C105.55 138.82 106.15 138.91 107.44 139.38 C108.74 139.85 109.92 140.36 112.22 141.42 C114.51 142.49 117.33 143.76 121.19 145.77 C125.05 147.77 131.19 151.22 135.38 153.43 C139.58 155.65 143.29 157.56 146.36 159.05 C149.43 160.54 152 161.61 153.81 162.38 C155.61 163.14 156.12 163.65 157.19 163.65 C158.25 163.65 159.21 162.8 160.2 162.38 C161.2 161.95 162.32 161.99 163.17 161.1 C164.02 160.2 164.66 159.14 165.32 157.01 C165.98 154.88 166.63 151.22 167.11 148.32 C167.59 145.43 167.95 141.34 168.18 139.63 C168.42 137.93 168.48 138.36 168.54 138.1" fill="none" stroke="#55e627" stroke-width="1.15"/>
<text x="98.3" y="158.8" font-size="2" fill="#222">Nominal p-value: 0</text>
<text x="98.3" y="161.1" font-size="2" fill="#222">FDR: 0.0000</text>
<text x="98.3" y="163.4" font-size="2" fill="#222">NES: -2.0321</text>
<text x="98.3" y="165.7" font-size="2" fill="#222">Ranking metric scores: -0.7681</text>
<line x1="96.5" y1="138.1" x2="97.3" y2="138.1" stroke="#555" stroke-width="0.3"/>
<text x="95.8" y="138.1" font-size="2.4" text-anchor="middle" fill="#222" transform="rotate(-90 95.8 138.1)">0.0</text>
<line x1="96.5" y1="146.1" x2="97.3" y2="146.1" stroke="#555" stroke-width="0.3"/>
<text x="95.8" y="146.1" font-size="2.4" text-anchor="middle" fill="#222" transform="rotate(-90 95.8 146.1)">-0.2</text>
<line x1="96.5" y1="154.1" x2="97.3" y2="154.1" stroke="#555" stroke-width="0.3"/>
<text x="95.8" y="154.1" font-size="2.4" text-anchor="middle" fill="#222" transform="rotate(-90 95.8 154.1)">-0.4</text>
<line x1="96.5" y1="162.1" x2="97.3" y2="162.1" stroke="#555" stroke-width="0.3"/>
<text x="95.8" y="162.1" font-size="2.4" text-anchor="middle" fill="#222" transform="rotate(-90 95.8 162.1)">-0.6</text>
<text x="92.6" y="150.4" font-size="2.7" text-anchor="middle" fill="#111" transform="rotate(-90 92.6 150.4)">Enrichment score (ES)</text>
<path d="M112.9 166.9V178.0M102.7 166.9V178.0M160.2 166.9V178.0M108.6 166.9V178.0M110.5 166.9V178.0M149.3 166.9V178.0M98.1 166.9V178.0M100.0 166.9V178.0M157.1 166.9V178.0M107.6 166.9V178.0M160.9 166.9V178.0M160.7 166.9V178.0M115.4 166.9V178.0M161.5 166.9V178.0M160.5 166.9V178.0M154.6 166.9V178.0M161.0 166.9V178.0M101.5 166.9V178.0M102.4 166.9V178.0M106.2 166.9V178.0M146.4 166.9V178.0M149.7 166.9V178.0M150.1 166.9V178.0M144.9 166.9V178.0M141.3 166.9V178.0M154.2 166.9V178.0M149.4 166.9V178.0M148.2 166.9V178.0M116.5 166.9V178.0M104.5 166.9V178.0M111.3 166.9V178.0M161.7 166.9V178.0M105.5 166.9V178.0M168.0 166.9V178.0M168.1 166.9V178.0M107.2 166.9V178.0M167.5 166.9V178.0M163.9 166.9V178.0M100.0 166.9V178.0M161.3 166.9V178.0M111.9 166.9V178.0M146.0 166.9V178.0M157.9 166.9V178.0M145.3 166.9V178.0M144.5 166.9V178.0M158.2 166.9V178.0M164.7 166.9V178.0M101.7 166.9V178.0M148.2 166.9V178.0M147.0 166.9V178.0M114.9 166.9V178.0M160.4 166.9V178.0M109.4 166.9V178.0M162.2 166.9V178.0M98.6 166.9V178.0M137.5 166.9V178.0M167.1 166.9V178.0M149.5 166.9V178.0M156.2 166.9V178.0M153.8 166.9V178.0M154.8 166.9V178.0M98.2 166.9V178.0M108.6 166.9V178.0M160.5 166.9V178.0M138.8 166.9V178.0M160.4 166.9V178.0M148.2 166.9V178.0M163.2 166.9V178.0M159.8 166.9V178.0M110.1 166.9V178.0M139.9 166.9V178.0M163.0 166.9V178.0M153.1 166.9V178.0M101.5 166.9V178.0M148.5 166.9V178.0M166.2 166.9V178.0M160.3 166.9V178.0M146.7 166.9V178.0M153.1 166.9V178.0M168.4 166.9V178.0M114.4 166.9V178.0M159.7 166.9V178.0M99.0 166.9V178.0M103.5 166.9V178.0M138.4 166.9V178.0M102.9 166.9V178.0M158.7 166.9V178.0M148.0 166.9V178.0M149.6 166.9V178.0M100.0 166.9V178.0M112.2 166.9V178.0M103.7 166.9V178.0M98.1 166.9V178.0M152.0 166.9V178.0M164.0 166.9V178.0M106.2 166.9V178.0M154.6 166.9V178.0M152.7 166.9V178.0M108.6 166.9V178.0M164.8 166.9V178.0M155.5 166.9V178.0M153.1 166.9V178.0M164.8 166.9V178.0M154.6 166.9V178.0M152.0 166.9V178.0M163.2 166.9V178.0M148.0 166.9V178.0M163.2 166.9V178.0M98.3 166.9V178.0M102.4 166.9V178.0M115.2 166.9V178.0M116.5 166.9V178.0M160.0 166.9V178.0M145.4 166.9V178.0M104.3 166.9V178.0M153.0 166.9V178.0M162.8 166.9V178.0M106.4 166.9V178.0M106.1 166.9V178.0M102.0 166.9V178.0M146.1 166.9V178.0M149.6 166.9V178.0M163.3 166.9V178.0M102.8 166.9V178.0M111.8 166.9V178.0M153.4 166.9V178.0M160.3 166.9V178.0M162.8 166.9V178.0M101.0 166.9V178.0M140.9 166.9V178.0M102.4 166.9V178.0M142.1 166.9V178.0M99.6 166.9V178.0M140.9 166.9V178.0M161.6 166.9V178.0M166.0 166.9V178.0M144.3 166.9V178.0M106.8 166.9V178.0M100.9 166.9V178.0" stroke="#000" stroke-width="0.25" stroke-opacity="0.5" fill="none"/>
<path d="M165.0 166.9V178.0M143.6 166.9V178.0M159.7 166.9V178.0M149.8 166.9V178.0M137.0 166.9V178.0M166.4 166.9V178.0M99.8 166.9V178.0M106.9 166.9V178.0M98.0 166.9V178.0M103.1 166.9V178.0" stroke="#000" stroke-width="0.55" stroke-opacity="0.85" fill="none"/>
<path d="M123.8 166.9V178.0M124.3 166.9V178.0M127.1 166.9V178.0M136.0 166.9V178.0M129.0 166.9V178.0" stroke="#999" stroke-width="0.4" fill="none"/>
<rect x="97.3" y="178" width="8.64" height="2.2" fill="#dc1c1c"/>
<rect x="105.89" y="178" width="5.78" height="2.2" fill="#e4484c"/>
<rect x="111.62" y="178" width="5.06" height="2.2" fill="#ec9098"/>
<rect x="116.63" y="178" width="21.53" height="2.2" fill="#f6dde2"/>
<rect x="138.11" y="178" width="6.49" height="2.2" fill="#dcdcf6"/>
<rect x="144.56" y="178" width="8.64" height="2.2" fill="#8c8cf0"/>
<rect x="153.15" y="178" width="8.64" height="2.2" fill="#3c3ce8"/>
<rect x="161.74" y="178" width="3.63" height="2.2" fill="#2020d8"/>
<rect x="165.32" y="178" width="3.63" height="2.2" fill="#6060e0"/>
<line x1="97.3" y1="190.8" x2="168.9" y2="190.8" stroke="#ccc" stroke-width="0.3"/>
<path d="M97.6 183.4 C98.1 189.3 100.3 189.9 109.3 190.45 L129.52 190.8 C151 191.4 163.89 192.8 166.39 194.8 C167.83 196.8 168.5 199.4 168.6 202.4 L168.6 190.8 L97.6 190.8 Z" fill="#d4d4d4" stroke="#c8c8c8" stroke-width="0.2"/>
<line x1="121.21" y1="180.2" x2="121.21" y2="203.4" stroke="#ccc" stroke-width="0.3" stroke-dasharray="0.5 0.5"/>
<text x="114.05" y="190.5" font-size="2.85" fill="#333">Zero cross at 7467</text>
<line x1="96.5" y1="181.4" x2="97.3" y2="181.4" stroke="#555" stroke-width="0.3"/>
<text x="95.8" y="181.4" font-size="2.4" text-anchor="middle" fill="#222" transform="rotate(-90 95.8 181.4)">1</text>
<line x1="96.5" y1="186.6" x2="97.3" y2="186.6" stroke="#555" stroke-width="0.3"/>
<text x="95.8" y="186.6" font-size="2.4" text-anchor="middle" fill="#222" transform="rotate(-90 95.8 186.6)">0.5</text>
<line x1="96.5" y1="191.8" x2="97.3" y2="191.8" stroke="#555" stroke-width="0.3"/>
<text x="95.8" y="191.8" font-size="2.4" text-anchor="middle" fill="#222" transform="rotate(-90 95.8 191.8)">0</text>
<line x1="96.5" y1="197" x2="97.3" y2="197" stroke="#555" stroke-width="0.3"/>
<text x="95.8" y="197" font-size="2.4" text-anchor="middle" fill="#222" transform="rotate(-90 95.8 197)">-0.5</text>
<line x1="96.5" y1="202.2" x2="97.3" y2="202.2" stroke="#555" stroke-width="0.3"/>
<text x="95.8" y="202.2" font-size="2.4" text-anchor="middle" fill="#222" transform="rotate(-90 95.8 202.2)">-1</text>
<text x="92.6" y="191.7" font-size="2.7" text-anchor="middle" fill="#111" transform="rotate(-90 92.6 191.7)">Ranked list metric</text>
<line x1="113.05" y1="203.4" x2="113.05" y2="204.2" stroke="#555" stroke-width="0.3"/>
<text x="113.05" y="206.4" font-size="2.3" text-anchor="middle" fill="#333">5000</text>
<line x1="128.8" y1="203.4" x2="128.8" y2="204.2" stroke="#555" stroke-width="0.3"/>
<text x="128.8" y="206.4" font-size="2.3" text-anchor="middle" fill="#333">10000</text>
<line x1="144.56" y1="203.4" x2="144.56" y2="204.2" stroke="#555" stroke-width="0.3"/>
<text x="144.56" y="206.4" font-size="2.3" text-anchor="middle" fill="#333">15000</text>
<line x1="160.31" y1="203.4" x2="160.31" y2="204.2" stroke="#555" stroke-width="0.3"/>
<text x="160.31" y="206.4" font-size="2.3" text-anchor="middle" fill="#333">20000</text>
<text x="133.1" y="209.5" font-size="2.6" text-anchor="middle" fill="#333">Rank in ordered gene list</text>
<rect x="97.3" y="134.4" width="71.6" height="69" fill="none" stroke="#8a8a8a" stroke-width="0.45"/>
<line x1="97.3" y1="166.9" x2="168.9" y2="166.9" stroke="#8a8a8a" stroke-width="0.35"/>
<line x1="97.3" y1="180.2" x2="168.9" y2="180.2" stroke="#8a8a8a" stroke-width="0.35"/>
<text x="214.2" y="132.3" font-size="2.6" font-weight="bold" text-anchor="middle" fill="#111">Enrichment plot: GO:0006261 DNA-dependent DNA replication</text>
<rect x="178.4" y="134.4" width="71.6" height="69" fill="#fff"/>
<line x1="178.4" y1="138.1" x2="250" y2="138.1" stroke="#bbb" stroke-width="0.3"/>
<path d="M178.4 138.1 C179 138.1 180.79 138.02 181.98 138.1 C183.17 138.18 184.33 138.39 185.56 138.59 C186.79 138.79 187.88 138.87 189.37 139.32 C190.85 139.77 192.05 140.26 194.47 141.28 C196.89 142.3 199.94 143.52 203.9 145.44 C207.87 147.36 214.1 150.66 218.27 152.78 C222.44 154.9 225.97 156.74 228.92 158.17 C231.87 159.59 234.27 160.61 235.97 161.35 C237.67 162.08 238.14 162.57 239.14 162.57 C240.13 162.57 241.09 161.75 241.94 161.35 C242.8 160.94 243.53 160.98 244.27 160.12 C245.02 159.27 245.76 158.25 246.42 156.21 C247.08 154.17 247.73 150.66 248.21 147.89 C248.69 145.11 249.05 141.2 249.28 139.57 C249.52 137.94 249.58 138.34 249.64 138.1" fill="none" stroke="#55e627" stroke-width="1.15"/>
<text x="179.4" y="158.8" font-size="2" fill="#222">Nominal p-value: 0</text>
<text x="179.4" y="161.1" font-size="2" fill="#222">FDR: 0.0000</text>
<text x="179.4" y="163.4" font-size="2" fill="#222">NES: -2.0321</text>
<text x="179.4" y="165.7" font-size="2" fill="#222">Ranking metric scores: -0.7681</text>
<line x1="177.6" y1="138.1" x2="178.4" y2="138.1" stroke="#555" stroke-width="0.3"/>
<text x="176.9" y="138.1" font-size="2.4" text-anchor="middle" fill="#222" transform="rotate(-90 176.9 138.1)">0.0</text>
<line x1="177.6" y1="146.1" x2="178.4" y2="146.1" stroke="#555" stroke-width="0.3"/>
<text x="176.9" y="146.1" font-size="2.4" text-anchor="middle" fill="#222" transform="rotate(-90 176.9 146.1)">-0.2</text>
<line x1="177.6" y1="154.1" x2="178.4" y2="154.1" stroke="#555" stroke-width="0.3"/>
<text x="176.9" y="154.1" font-size="2.4" text-anchor="middle" fill="#222" transform="rotate(-90 176.9 154.1)">-0.4</text>
<line x1="177.6" y1="162.1" x2="178.4" y2="162.1" stroke="#555" stroke-width="0.3"/>
<text x="176.9" y="162.1" font-size="2.4" text-anchor="middle" fill="#222" transform="rotate(-90 176.9 162.1)">-0.6</text>
<text x="173.7" y="150.4" font-size="2.7" text-anchor="middle" fill="#111" transform="rotate(-90 173.7 150.4)">Enrichment score (ES)</text>
<path d="M221.8 166.9V178.0M196.2 166.9V178.0M243.1 166.9V178.0M223.5 166.9V178.0M218.3 166.9V178.0M247.8 166.9V178.0M245.6 166.9V178.0M241.3 166.9V178.0M245.4 166.9V178.0M195.1 166.9V178.0M187.2 166.9V178.0M230.4 166.9V178.0M196.0 166.9V178.0M224.3 166.9V178.0M185.4 166.9V178.0M234.7 166.9V178.0M243.9 166.9V178.0M179.3 166.9V178.0M238.0 166.9V178.0M240.2 166.9V178.0M243.5 166.9V178.0M196.4 166.9V178.0M244.2 166.9V178.0M246.3 166.9V178.0M246.7 166.9V178.0M246.7 166.9V178.0M224.7 166.9V178.0M189.6 166.9V178.0M188.3 166.9V178.0M247.1 166.9V178.0M227.8 166.9V178.0M249.2 166.9V178.0M238.8 166.9V178.0M247.7 166.9V178.0M241.9 166.9V178.0M193.4 166.9V178.0M191.1 166.9V178.0M229.7 166.9V178.0M220.2 166.9V178.0M246.4 166.9V178.0M238.9 166.9V178.0M233.3 166.9V178.0M242.3 166.9V178.0M248.2 166.9V178.0M218.3 166.9V178.0M192.8 166.9V178.0M232.8 166.9V178.0M220.9 166.9V178.0M236.9 166.9V178.0M192.6 166.9V178.0M246.8 166.9V178.0M231.6 166.9V178.0M247.5 166.9V178.0M186.1 166.9V178.0M233.3 166.9V178.0M231.3 166.9V178.0M193.4 166.9V178.0M238.2 166.9V178.0M243.9 166.9V178.0M228.1 166.9V178.0M237.6 166.9V178.0M248.9 166.9V178.0M241.8 166.9V178.0M234.4 166.9V178.0M193.8 166.9V178.0M230.1 166.9V178.0M225.4 166.9V178.0M196.5 166.9V178.0M245.2 166.9V178.0M249.5 166.9V178.0M181.8 166.9V178.0M228.3 166.9V178.0M240.6 166.9V178.0M233.6 166.9V178.0M230.8 166.9V178.0M231.6 166.9V178.0M221.2 166.9V178.0M237.0 166.9V178.0M249.1 166.9V178.0M247.9 166.9V178.0M240.9 166.9V178.0M190.3 166.9V178.0M245.1 166.9V178.0M236.3 166.9V178.0M223.6 166.9V178.0M239.8 166.9V178.0M233.8 166.9V178.0M231.1 166.9V178.0M178.9 166.9V178.0M229.5 166.9V178.0M247.4 166.9V178.0M237.5 166.9V178.0M238.3 166.9V178.0M180.2 166.9V178.0M232.6 166.9V178.0M188.5 166.9V178.0M246.2 166.9V178.0M188.8 166.9V178.0M221.7 166.9V178.0M184.3 166.9V178.0M230.3 166.9V178.0M195.4 166.9V178.0M230.8 166.9V178.0M245.6 166.9V178.0M247.8 166.9V178.0M192.0 166.9V178.0M183.3 166.9V178.0M234.2 166.9V178.0M244.2 166.9V178.0M191.1 166.9V178.0M184.3 166.9V178.0M237.5 166.9V178.0M240.9 166.9V178.0M245.1 166.9V178.0M245.1 166.9V178.0M244.8 166.9V178.0M247.0 166.9V178.0M243.6 166.9V178.0M222.2 166.9V178.0M185.0 166.9V178.0M246.8 166.9V178.0M241.7 166.9V178.0M220.7 166.9V178.0M189.8 166.9V178.0M237.0 166.9V178.0M220.3 166.9V178.0M234.1 166.9V178.0M229.9 166.9V178.0M248.6 166.9V178.0" stroke="#000" stroke-width="0.25" stroke-opacity="0.5" fill="none"/>
<path d="M237.3 166.9V178.0M220.1 166.9V178.0M233.0 166.9V178.0M219.3 166.9V178.0M223.2 166.9V178.0M233.8 166.9V178.0M193.9 166.9V178.0M195.9 166.9V178.0M193.6 166.9V178.0M187.6 166.9V178.0" stroke="#000" stroke-width="0.55" stroke-opacity="0.85" fill="none"/>
<path d="M206.0 166.9V178.0M211.3 166.9V178.0M204.1 166.9V178.0M197.0 166.9V178.0" stroke="#999" stroke-width="0.4" fill="none"/>
<rect x="178.4" y="178" width="8.64" height="2.2" fill="#dc1c1c"/>
<rect x="186.99" y="178" width="5.78" height="2.2" fill="#e4484c"/>
<rect x="192.72" y="178" width="5.06" height="2.2" fill="#ec9098"/>
<rect x="197.73" y="178" width="21.53" height="2.2" fill="#f6dde2"/>
<rect x="219.21" y="178" width="6.49" height="2.2" fill="#dcdcf6"/>
<rect x="225.66" y="178" width="8.64" height="2.2" fill="#8c8cf0"/>
<rect x="234.25" y="178" width="8.64" height="2.2" fill="#3c3ce8"/>
<rect x="242.84" y="178" width="3.63" height="2.2" fill="#2020d8"/>
<rect x="246.42" y="178" width="3.63" height="2.2" fill="#6060e0"/>
<line x1="178.4" y1="190.8" x2="250" y2="190.8" stroke="#ccc" stroke-width="0.3"/>
<path d="M178.7 183.4 C179.2 189.3 181.4 189.9 190.4 190.45 L210.62 190.8 C232.1 191.4 244.99 192.8 247.49 194.8 C248.93 196.8 249.6 199.4 249.7 202.4 L249.7 190.8 L178.7 190.8 Z" fill="#d4d4d4" stroke="#c8c8c8" stroke-width="0.2"/>
<line x1="202.31" y1="180.2" x2="202.31" y2="203.4" stroke="#ccc" stroke-width="0.3" stroke-dasharray="0.5 0.5"/>
<text x="195.15" y="190.5" font-size="2.85" fill="#333">Zero cross at 7467</text>
<line x1="177.6" y1="181.4" x2="178.4" y2="181.4" stroke="#555" stroke-width="0.3"/>
<text x="176.9" y="181.4" font-size="2.4" text-anchor="middle" fill="#222" transform="rotate(-90 176.9 181.4)">1</text>
<line x1="177.6" y1="186.6" x2="178.4" y2="186.6" stroke="#555" stroke-width="0.3"/>
<text x="176.9" y="186.6" font-size="2.4" text-anchor="middle" fill="#222" transform="rotate(-90 176.9 186.6)">0.5</text>
<line x1="177.6" y1="191.8" x2="178.4" y2="191.8" stroke="#555" stroke-width="0.3"/>
<text x="176.9" y="191.8" font-size="2.4" text-anchor="middle" fill="#222" transform="rotate(-90 176.9 191.8)">0</text>
<line x1="177.6" y1="197" x2="178.4" y2="197" stroke="#555" stroke-width="0.3"/>
<text x="176.9" y="197" font-size="2.4" text-anchor="middle" fill="#222" transform="rotate(-90 176.9 197)">-0.5</text>
<line x1="177.6" y1="202.2" x2="178.4" y2="202.2" stroke="#555" stroke-width="0.3"/>
<text x="176.9" y="202.2" font-size="2.4" text-anchor="middle" fill="#222" transform="rotate(-90 176.9 202.2)">-1</text>
<text x="173.7" y="191.7" font-size="2.7" text-anchor="middle" fill="#111" transform="rotate(-90 173.7 191.7)">Ranked list metric</text>
<line x1="194.15" y1="203.4" x2="194.15" y2="204.2" stroke="#555" stroke-width="0.3"/>
<text x="194.15" y="206.4" font-size="2.3" text-anchor="middle" fill="#333">5000</text>
<line x1="209.9" y1="203.4" x2="209.9" y2="204.2" stroke="#555" stroke-width="0.3"/>
<text x="209.9" y="206.4" font-size="2.3" text-anchor="middle" fill="#333">10000</text>
<line x1="225.66" y1="203.4" x2="225.66" y2="204.2" stroke="#555" stroke-width="0.3"/>
<text x="225.66" y="206.4" font-size="2.3" text-anchor="middle" fill="#333">15000</text>
<line x1="241.41" y1="203.4" x2="241.41" y2="204.2" stroke="#555" stroke-width="0.3"/>
<text x="241.41" y="206.4" font-size="2.3" text-anchor="middle" fill="#333">20000</text>
<text x="214.2" y="209.5" font-size="2.6" text-anchor="middle" fill="#333">Rank in ordered gene list</text>
<rect x="178.4" y="134.4" width="71.6" height="69" fill="none" stroke="#8a8a8a" stroke-width="0.45"/>
<line x1="178.4" y1="166.9" x2="250" y2="166.9" stroke="#8a8a8a" stroke-width="0.35"/>
<line x1="178.4" y1="180.2" x2="250" y2="180.2" stroke="#8a8a8a" stroke-width="0.35"/>
<text x="295.3" y="131.1" font-size="2.6" font-weight="bold" text-anchor="middle" fill="#111">Enrichment plot: GO:0007088 regulation</text>
<text x="295.3" y="133.85" font-size="2.6" font-weight="bold" text-anchor="middle" fill="#111">of mitotic nuclear division</text>
<rect x="259.5" y="134.4" width="71.6" height="69" fill="#fff"/>
<line x1="259.5" y1="138.1" x2="331.1" y2="138.1" stroke="#bbb" stroke-width="0.3"/>
<path d="M259.5 138.1 C260.1 138.1 261.89 138.01 263.08 138.1 C264.27 138.19 265.48 138.41 266.66 138.63 C267.84 138.85 268.74 138.94 270.15 139.43 C271.57 139.91 272.76 140.45 275.13 141.55 C277.51 142.66 280.47 143.98 284.39 146.06 C288.32 148.14 294.52 151.73 298.69 154.03 C302.87 156.33 306.47 158.32 309.47 159.87 C312.46 161.42 314.93 162.52 316.67 163.32 C318.41 164.12 318.89 164.65 319.91 164.65 C320.94 164.65 321.89 163.76 322.8 163.32 C323.71 162.88 324.59 162.92 325.37 161.99 C326.16 161.06 326.86 159.96 327.52 157.75 C328.18 155.53 328.83 151.73 329.31 148.72 C329.79 145.71 330.15 141.46 330.38 139.69 C330.62 137.92 330.68 138.37 330.74 138.1" fill="none" stroke="#55e627" stroke-width="1.15"/>
<text x="260.5" y="158.8" font-size="2" fill="#222">Nominal p-value: 0</text>
<text x="260.5" y="161.1" font-size="2" fill="#222">FDR: 0.0000</text>
<text x="260.5" y="163.4" font-size="2" fill="#222">NES: -2.0321</text>
<text x="260.5" y="165.7" font-size="2" fill="#222">Ranking metric scores: -0.7681</text>
<line x1="258.7" y1="138.1" x2="259.5" y2="138.1" stroke="#555" stroke-width="0.3"/>
<text x="258" y="138.1" font-size="2.4" text-anchor="middle" fill="#222" transform="rotate(-90 258 138.1)">0.0</text>
<line x1="258.7" y1="146.1" x2="259.5" y2="146.1" stroke="#555" stroke-width="0.3"/>
<text x="258" y="146.1" font-size="2.4" text-anchor="middle" fill="#222" transform="rotate(-90 258 146.1)">-0.2</text>
<line x1="258.7" y1="154.1" x2="259.5" y2="154.1" stroke="#555" stroke-width="0.3"/>
<text x="258" y="154.1" font-size="2.4" text-anchor="middle" fill="#222" transform="rotate(-90 258 154.1)">-0.4</text>
<line x1="258.7" y1="162.1" x2="259.5" y2="162.1" stroke="#555" stroke-width="0.3"/>
<text x="258" y="162.1" font-size="2.4" text-anchor="middle" fill="#222" transform="rotate(-90 258 162.1)">-0.6</text>
<text x="254.8" y="150.4" font-size="2.7" text-anchor="middle" fill="#111" transform="rotate(-90 254.8 150.4)">Enrichment score (ES)</text>
<path d="M275.1 166.9V178.0M302.6 166.9V178.0M321.6 166.9V178.0M265.7 166.9V178.0M318.5 166.9V178.0M275.8 166.9V178.0M277.7 166.9V178.0M277.8 166.9V178.0M325.0 166.9V178.0M310.1 166.9V178.0M307.8 166.9V178.0M317.7 166.9V178.0M326.7 166.9V178.0M304.6 166.9V178.0M304.3 166.9V178.0M321.4 166.9V178.0M302.0 166.9V178.0M323.3 166.9V178.0M326.0 166.9V178.0M320.8 166.9V178.0M267.9 166.9V178.0M326.0 166.9V178.0M277.8 166.9V178.0M326.7 166.9V178.0M308.7 166.9V178.0M325.8 166.9V178.0M314.1 166.9V178.0M327.4 166.9V178.0M310.1 166.9V178.0M262.2 166.9V178.0M329.0 166.9V178.0M328.1 166.9V178.0M326.3 166.9V178.0M278.8 166.9V178.0M306.5 166.9V178.0M261.3 166.9V178.0M317.8 166.9V178.0M307.2 166.9V178.0M275.0 166.9V178.0M329.4 166.9V178.0M310.2 166.9V178.0M266.2 166.9V178.0M277.1 166.9V178.0M260.7 166.9V178.0M330.6 166.9V178.0M320.6 166.9V178.0M276.9 166.9V178.0M325.5 166.9V178.0M300.4 166.9V178.0M316.7 166.9V178.0M311.5 166.9V178.0M320.3 166.9V178.0M301.8 166.9V178.0M329.9 166.9V178.0M311.7 166.9V178.0M326.7 166.9V178.0M316.7 166.9V178.0M323.1 166.9V178.0M277.0 166.9V178.0M322.2 166.9V178.0M266.9 166.9V178.0M305.0 166.9V178.0M329.0 166.9V178.0M302.2 166.9V178.0M302.0 166.9V178.0M327.8 166.9V178.0M308.0 166.9V178.0M328.3 166.9V178.0M322.4 166.9V178.0M328.0 166.9V178.0M320.3 166.9V178.0M323.7 166.9V178.0M299.4 166.9V178.0M309.8 166.9V178.0M274.5 166.9V178.0M300.4 166.9V178.0M315.4 166.9V178.0M268.0 166.9V178.0M306.7 166.9V178.0M316.6 166.9V178.0M313.6 166.9V178.0M304.1 166.9V178.0M266.4 166.9V178.0M328.8 166.9V178.0M324.6 166.9V178.0M263.0 166.9V178.0M328.1 166.9V178.0M266.4 166.9V178.0M307.5 166.9V178.0M305.2 166.9V178.0M262.5 166.9V178.0M324.9 166.9V178.0M316.0 166.9V178.0M278.4 166.9V178.0M260.3 166.9V178.0M299.3 166.9V178.0M313.7 166.9V178.0M275.4 166.9V178.0M268.2 166.9V178.0M268.2 166.9V178.0M318.9 166.9V178.0M324.0 166.9V178.0M273.8 166.9V178.0M307.7 166.9V178.0M316.1 166.9V178.0M327.4 166.9V178.0M319.6 166.9V178.0M322.7 166.9V178.0M278.2 166.9V178.0M262.3 166.9V178.0M330.2 166.9V178.0M328.2 166.9V178.0M314.6 166.9V178.0M261.2 166.9V178.0M315.2 166.9V178.0M308.1 166.9V178.0M328.1 166.9V178.0M268.9 166.9V178.0M272.4 166.9V178.0M325.7 166.9V178.0M328.7 166.9V178.0M312.4 166.9V178.0M309.6 166.9V178.0M309.3 166.9V178.0M305.0 166.9V178.0M316.3 166.9V178.0M277.3 166.9V178.0M312.8 166.9V178.0M271.8 166.9V178.0M323.7 166.9V178.0M277.9 166.9V178.0M314.4 166.9V178.0M315.7 166.9V178.0M308.2 166.9V178.0M266.0 166.9V178.0M265.7 166.9V178.0" stroke="#000" stroke-width="0.25" stroke-opacity="0.5" fill="none"/>
<path d="M326.9 166.9V178.0M312.2 166.9V178.0M311.9 166.9V178.0M319.4 166.9V178.0M314.4 166.9V178.0M309.1 166.9V178.0M278.2 166.9V178.0M272.4 166.9V178.0M269.4 166.9V178.0" stroke="#000" stroke-width="0.55" stroke-opacity="0.85" fill="none"/>
<path d="M287.7 166.9V178.0M290.5 166.9V178.0M295.3 166.9V178.0M286.8 166.9V178.0M283.6 166.9V178.0" stroke="#999" stroke-width="0.4" fill="none"/>
<rect x="259.5" y="178" width="8.64" height="2.2" fill="#dc1c1c"/>
<rect x="268.09" y="178" width="5.78" height="2.2" fill="#e4484c"/>
<rect x="273.82" y="178" width="5.06" height="2.2" fill="#ec9098"/>
<rect x="278.83" y="178" width="21.53" height="2.2" fill="#f6dde2"/>
<rect x="300.31" y="178" width="6.49" height="2.2" fill="#dcdcf6"/>
<rect x="306.76" y="178" width="8.64" height="2.2" fill="#8c8cf0"/>
<rect x="315.35" y="178" width="8.64" height="2.2" fill="#3c3ce8"/>
<rect x="323.94" y="178" width="3.63" height="2.2" fill="#2020d8"/>
<rect x="327.52" y="178" width="3.63" height="2.2" fill="#6060e0"/>
<line x1="259.5" y1="190.8" x2="331.1" y2="190.8" stroke="#ccc" stroke-width="0.3"/>
<path d="M259.8 183.4 C260.3 189.3 262.5 189.9 271.5 190.45 L291.72 190.8 C313.2 191.4 326.09 192.8 328.59 194.8 C330.03 196.8 330.7 199.4 330.8 202.4 L330.8 190.8 L259.8 190.8 Z" fill="#d4d4d4" stroke="#c8c8c8" stroke-width="0.2"/>
<line x1="283.41" y1="180.2" x2="283.41" y2="203.4" stroke="#ccc" stroke-width="0.3" stroke-dasharray="0.5 0.5"/>
<text x="276.25" y="190.5" font-size="2.85" fill="#333">Zero cross at 7467</text>
<line x1="258.7" y1="181.4" x2="259.5" y2="181.4" stroke="#555" stroke-width="0.3"/>
<text x="258" y="181.4" font-size="2.4" text-anchor="middle" fill="#222" transform="rotate(-90 258 181.4)">1</text>
<line x1="258.7" y1="186.6" x2="259.5" y2="186.6" stroke="#555" stroke-width="0.3"/>
<text x="258" y="186.6" font-size="2.4" text-anchor="middle" fill="#222" transform="rotate(-90 258 186.6)">0.5</text>
<line x1="258.7" y1="191.8" x2="259.5" y2="191.8" stroke="#555" stroke-width="0.3"/>
<text x="258" y="191.8" font-size="2.4" text-anchor="middle" fill="#222" transform="rotate(-90 258 191.8)">0</text>
<line x1="258.7" y1="197" x2="259.5" y2="197" stroke="#555" stroke-width="0.3"/>
<text x="258" y="197" font-size="2.4" text-anchor="middle" fill="#222" transform="rotate(-90 258 197)">-0.5</text>
<line x1="258.7" y1="202.2" x2="259.5" y2="202.2" stroke="#555" stroke-width="0.3"/>
<text x="258" y="202.2" font-size="2.4" text-anchor="middle" fill="#222" transform="rotate(-90 258 202.2)">-1</text>
<text x="254.8" y="191.7" font-size="2.7" text-anchor="middle" fill="#111" transform="rotate(-90 254.8 191.7)">Ranked list metric</text>
<line x1="275.25" y1="203.4" x2="275.25" y2="204.2" stroke="#555" stroke-width="0.3"/>
<text x="275.25" y="206.4" font-size="2.3" text-anchor="middle" fill="#333">5000</text>
<line x1="291" y1="203.4" x2="291" y2="204.2" stroke="#555" stroke-width="0.3"/>
<text x="291" y="206.4" font-size="2.3" text-anchor="middle" fill="#333">10000</text>
<line x1="306.76" y1="203.4" x2="306.76" y2="204.2" stroke="#555" stroke-width="0.3"/>
<text x="306.76" y="206.4" font-size="2.3" text-anchor="middle" fill="#333">15000</text>
<line x1="322.51" y1="203.4" x2="322.51" y2="204.2" stroke="#555" stroke-width="0.3"/>
<text x="322.51" y="206.4" font-size="2.3" text-anchor="middle" fill="#333">20000</text>
<text x="295.3" y="209.5" font-size="2.6" text-anchor="middle" fill="#333">Rank in ordered gene list</text>
<rect x="259.5" y="134.4" width="71.6" height="69" fill="none" stroke="#8a8a8a" stroke-width="0.45"/>
<line x1="259.5" y1="166.9" x2="331.1" y2="166.9" stroke="#8a8a8a" stroke-width="0.35"/>
<line x1="259.5" y1="180.2" x2="331.1" y2="180.2" stroke="#8a8a8a" stroke-width="0.35"/>
<text x="51.3" y="217.5" font-size="2.6" font-weight="bold" text-anchor="middle" fill="#111">Enrichment plot: GO:0051783 regulation of nuclear division</text>
<rect x="15.5" y="219.6" width="71.6" height="69" fill="#fff"/>
<line x1="15.5" y1="223.3" x2="87.1" y2="223.3" stroke="#bbb" stroke-width="0.3"/>
<path d="M15.5 223.3 C16.1 223.3 17.89 223.21 19.08 223.3 C20.27 223.39 21.35 223.61 22.66 223.83 C23.97 224.05 25.36 224.14 26.97 224.62 C28.57 225.11 29.77 225.64 32.27 226.74 C34.77 227.85 37.95 229.17 41.98 231.25 C46.01 233.33 52.3 236.9 56.46 239.2 C60.61 241.5 64.04 243.48 66.91 245.03 C69.79 246.58 72.08 247.68 73.72 248.47 C75.36 249.27 75.8 249.8 76.75 249.8 C77.7 249.8 78.66 248.92 79.43 248.47 C80.2 248.03 80.69 248.08 81.37 247.15 C82.05 246.22 82.86 245.12 83.52 242.91 C84.18 240.7 84.83 236.9 85.31 233.9 C85.79 230.9 86.15 226.66 86.38 224.89 C86.62 223.12 86.68 223.56 86.74 223.3" fill="none" stroke="#55e627" stroke-width="1.15"/>
<text x="16.5" y="244" font-size="2" fill="#222">Nominal p-value: 0</text>
<text x="16.5" y="246.3" font-size="2" fill="#222">FDR: 0.0000</text>
<text x="16.5" y="248.6" font-size="2" fill="#222">NES: -2.0321</text>
<text x="16.5" y="250.9" font-size="2" fill="#222">Ranking metric scores: -0.7681</text>
<line x1="14.7" y1="223.3" x2="15.5" y2="223.3" stroke="#555" stroke-width="0.3"/>
<text x="14" y="223.3" font-size="2.4" text-anchor="middle" fill="#222" transform="rotate(-90 14 223.3)">0.0</text>
<line x1="14.7" y1="231.3" x2="15.5" y2="231.3" stroke="#555" stroke-width="0.3"/>
<text x="14" y="231.3" font-size="2.4" text-anchor="middle" fill="#222" transform="rotate(-90 14 231.3)">-0.2</text>
<line x1="14.7" y1="239.3" x2="15.5" y2="239.3" stroke="#555" stroke-width="0.3"/>
<text x="14" y="239.3" font-size="2.4" text-anchor="middle" fill="#222" transform="rotate(-90 14 239.3)">-0.4</text>
<line x1="14.7" y1="247.3" x2="15.5" y2="247.3" stroke="#555" stroke-width="0.3"/>
<text x="14" y="247.3" font-size="2.4" text-anchor="middle" fill="#222" transform="rotate(-90 14 247.3)">-0.6</text>
<text x="10.8" y="235.6" font-size="2.7" text-anchor="middle" fill="#111" transform="rotate(-90 10.8 235.6)">Enrichment score (ES)</text>
<path d="M67.7 252.1V263.2M73.0 252.1V263.2M81.3 252.1V263.2M86.1 252.1V263.2M75.4 252.1V263.2M18.7 252.1V263.2M26.2 252.1V263.2M60.1 252.1V263.2M26.8 252.1V263.2M73.5 252.1V263.2M66.8 252.1V263.2M56.9 252.1V263.2M80.8 252.1V263.2M59.2 252.1V263.2M30.9 252.1V263.2M22.0 252.1V263.2M32.2 252.1V263.2M72.5 252.1V263.2M30.1 252.1V263.2M55.7 252.1V263.2M31.3 252.1V263.2M25.3 252.1V263.2M55.6 252.1V263.2M18.0 252.1V263.2M78.4 252.1V263.2M28.5 252.1V263.2M72.4 252.1V263.2M20.7 252.1V263.2M31.5 252.1V263.2M56.6 252.1V263.2M32.8 252.1V263.2M81.8 252.1V263.2M66.6 252.1V263.2M28.8 252.1V263.2M79.3 252.1V263.2M85.9 252.1V263.2M59.0 252.1V263.2M83.2 252.1V263.2M85.4 252.1V263.2M81.6 252.1V263.2M19.2 252.1V263.2M71.4 252.1V263.2M61.3 252.1V263.2M18.4 252.1V263.2M82.8 252.1V263.2M82.8 252.1V263.2M30.3 252.1V263.2M72.6 252.1V263.2M22.3 252.1V263.2M85.7 252.1V263.2M57.8 252.1V263.2M76.0 252.1V263.2M83.2 252.1V263.2M32.2 252.1V263.2M19.1 252.1V263.2M67.3 252.1V263.2M79.9 252.1V263.2M80.4 252.1V263.2M81.5 252.1V263.2M78.1 252.1V263.2M67.5 252.1V263.2M20.3 252.1V263.2M29.1 252.1V263.2M75.9 252.1V263.2M18.7 252.1V263.2M24.1 252.1V263.2M56.0 252.1V263.2M83.8 252.1V263.2M25.9 252.1V263.2M27.1 252.1V263.2M82.1 252.1V263.2M59.5 252.1V263.2M16.7 252.1V263.2M76.0 252.1V263.2M70.7 252.1V263.2M68.5 252.1V263.2M58.6 252.1V263.2M20.6 252.1V263.2M33.2 252.1V263.2M55.9 252.1V263.2M17.3 252.1V263.2M16.0 252.1V263.2M58.2 252.1V263.2M58.0 252.1V263.2M33.9 252.1V263.2M58.9 252.1V263.2M79.9 252.1V263.2M28.3 252.1V263.2M56.1 252.1V263.2M61.2 252.1V263.2M30.7 252.1V263.2M31.0 252.1V263.2M80.6 252.1V263.2M62.5 252.1V263.2M86.6 252.1V263.2M21.7 252.1V263.2M28.7 252.1V263.2M75.5 252.1V263.2M32.0 252.1V263.2M62.0 252.1V263.2M68.5 252.1V263.2M27.3 252.1V263.2M55.8 252.1V263.2M79.8 252.1V263.2M16.2 252.1V263.2M32.4 252.1V263.2M80.1 252.1V263.2M34.6 252.1V263.2M67.5 252.1V263.2M69.5 252.1V263.2M86.7 252.1V263.2M85.6 252.1V263.2M66.1 252.1V263.2M74.8 252.1V263.2M84.5 252.1V263.2M26.2 252.1V263.2M82.8 252.1V263.2M68.6 252.1V263.2M79.1 252.1V263.2M20.1 252.1V263.2M85.6 252.1V263.2M17.6 252.1V263.2M26.8 252.1V263.2M69.0 252.1V263.2M72.1 252.1V263.2M85.1 252.1V263.2M32.8 252.1V263.2M85.8 252.1V263.2M19.5 252.1V263.2M23.9 252.1V263.2M31.7 252.1V263.2M25.8 252.1V263.2M82.4 252.1V263.2M19.1 252.1V263.2M32.8 252.1V263.2M57.7 252.1V263.2M16.2 252.1V263.2M85.7 252.1V263.2M72.4 252.1V263.2M57.8 252.1V263.2M69.3 252.1V263.2M85.9 252.1V263.2M86.6 252.1V263.2M32.4 252.1V263.2" stroke="#000" stroke-width="0.25" stroke-opacity="0.5" fill="none"/>
<path d="M82.7 252.1V263.2M75.3 252.1V263.2M85.5 252.1V263.2M81.0 252.1V263.2M56.0 252.1V263.2M75.8 252.1V263.2M23.2 252.1V263.2M27.6 252.1V263.2M17.4 252.1V263.2M16.5 252.1V263.2" stroke="#000" stroke-width="0.55" stroke-opacity="0.85" fill="none"/>
<path d="M45.0 252.1V263.2M44.4 252.1V263.2M53.2 252.1V263.2M39.8 252.1V263.2M46.6 252.1V263.2M46.0 252.1V263.2" stroke="#999" stroke-width="0.4" fill="none"/>
<rect x="15.5" y="263.2" width="8.64" height="2.2" fill="#dc1c1c"/>
<rect x="24.09" y="263.2" width="5.78" height="2.2" fill="#e4484c"/>
<rect x="29.82" y="263.2" width="5.06" height="2.2" fill="#ec9098"/>
<rect x="34.83" y="263.2" width="21.53" height="2.2" fill="#f6dde2"/>
<rect x="56.31" y="263.2" width="6.49" height="2.2" fill="#dcdcf6"/>
<rect x="62.76" y="263.2" width="8.64" height="2.2" fill="#8c8cf0"/>
<rect x="71.35" y="263.2" width="8.64" height="2.2" fill="#3c3ce8"/>
<rect x="79.94" y="263.2" width="3.63" height="2.2" fill="#2020d8"/>
<rect x="83.52" y="263.2" width="3.63" height="2.2" fill="#6060e0"/>
<line x1="15.5" y1="276" x2="87.1" y2="276" stroke="#ccc" stroke-width="0.3"/>
<path d="M15.8 268.6 C16.3 274.5 18.5 275.1 27.5 275.65 L47.72 276 C69.2 276.6 82.09 278 84.59 280 C86.03 282 86.7 284.6 86.8 287.6 L86.8 276 L15.8 276 Z" fill="#d4d4d4" stroke="#c8c8c8" stroke-width="0.2"/>
<line x1="39.41" y1="265.4" x2="39.41" y2="288.6" stroke="#ccc" stroke-width="0.3" stroke-dasharray="0.5 0.5"/>
<text x="32.25" y="275.7" font-size="2.85" fill="#333">Zero cross at 7467</text>
<line x1="14.7" y1="266.6" x2="15.5" y2="266.6" stroke="#555" stroke-width="0.3"/>
<text x="14" y="266.6" font-size="2.4" text-anchor="middle" fill="#222" transform="rotate(-90 14 266.6)">1</text>
<line x1="14.7" y1="271.8" x2="15.5" y2="271.8" stroke="#555" stroke-width="0.3"/>
<text x="14" y="271.8" font-size="2.4" text-anchor="middle" fill="#222" transform="rotate(-90 14 271.8)">0.5</text>
<line x1="14.7" y1="277" x2="15.5" y2="277" stroke="#555" stroke-width="0.3"/>
<text x="14" y="277" font-size="2.4" text-anchor="middle" fill="#222" transform="rotate(-90 14 277)">0</text>
<line x1="14.7" y1="282.2" x2="15.5" y2="282.2" stroke="#555" stroke-width="0.3"/>
<text x="14" y="282.2" font-size="2.4" text-anchor="middle" fill="#222" transform="rotate(-90 14 282.2)">-0.5</text>
<line x1="14.7" y1="287.4" x2="15.5" y2="287.4" stroke="#555" stroke-width="0.3"/>
<text x="14" y="287.4" font-size="2.4" text-anchor="middle" fill="#222" transform="rotate(-90 14 287.4)">-1</text>
<text x="10.8" y="276.9" font-size="2.7" text-anchor="middle" fill="#111" transform="rotate(-90 10.8 276.9)">Ranked list metric</text>
<line x1="31.25" y1="288.6" x2="31.25" y2="289.4" stroke="#555" stroke-width="0.3"/>
<text x="31.25" y="291.6" font-size="2.3" text-anchor="middle" fill="#333">5000</text>
<line x1="47" y1="288.6" x2="47" y2="289.4" stroke="#555" stroke-width="0.3"/>
<text x="47" y="291.6" font-size="2.3" text-anchor="middle" fill="#333">10000</text>
<line x1="62.76" y1="288.6" x2="62.76" y2="289.4" stroke="#555" stroke-width="0.3"/>
<text x="62.76" y="291.6" font-size="2.3" text-anchor="middle" fill="#333">15000</text>
<line x1="78.51" y1="288.6" x2="78.51" y2="289.4" stroke="#555" stroke-width="0.3"/>
<text x="78.51" y="291.6" font-size="2.3" text-anchor="middle" fill="#333">20000</text>
<text x="51.3" y="294.7" font-size="2.6" text-anchor="middle" fill="#333">Rank in ordered gene list</text>
<rect x="15.5" y="219.6" width="71.6" height="69" fill="none" stroke="#8a8a8a" stroke-width="0.45"/>
<line x1="15.5" y1="252.1" x2="87.1" y2="252.1" stroke="#8a8a8a" stroke-width="0.35"/>
<line x1="15.5" y1="265.4" x2="87.1" y2="265.4" stroke="#8a8a8a" stroke-width="0.35"/>
<text x="133.1" y="216.3" font-size="2.6" font-weight="bold" text-anchor="middle" fill="#111">Enrichment plot: GO:0051983 regulation</text>
<text x="133.1" y="219.05" font-size="2.6" font-weight="bold" text-anchor="middle" fill="#111">of chromosome segregation</text>
<rect x="97.3" y="219.6" width="71.6" height="69" fill="#fff"/>
<line x1="97.3" y1="223.3" x2="168.9" y2="223.3" stroke="#bbb" stroke-width="0.3"/>
<path d="M97.3 223.3 C97.9 223.3 99.69 223.21 100.88 223.3 C102.07 223.39 103.32 223.61 104.46 223.83 C105.6 224.05 106.38 224.13 107.75 224.61 C109.11 225.1 110.3 225.62 112.64 226.72 C114.98 227.81 117.88 229.13 121.78 231.19 C125.68 233.25 131.85 236.8 136.04 239.08 C140.23 241.36 143.87 243.33 146.9 244.86 C149.92 246.4 152.43 247.49 154.2 248.28 C155.97 249.07 156.46 249.6 157.5 249.6 C158.54 249.6 159.49 248.72 160.44 248.28 C161.38 247.84 162.36 247.89 163.17 246.97 C163.99 246.05 164.66 244.95 165.32 242.76 C165.98 240.57 166.63 236.8 167.11 233.82 C167.59 230.84 167.95 226.63 168.18 224.88 C168.42 223.12 168.48 223.56 168.54 223.3" fill="none" stroke="#55e627" stroke-width="1.15"/>
<text x="98.3" y="244" font-size="2" fill="#222">Nominal p-value: 0</text>
<text x="98.3" y="246.3" font-size="2" fill="#222">FDR: 0.0000</text>
<text x="98.3" y="248.6" font-size="2" fill="#222">NES: -2.0321</text>
<text x="98.3" y="250.9" font-size="2" fill="#222">Ranking metric scores: -0.7681</text>
<line x1="96.5" y1="223.3" x2="97.3" y2="223.3" stroke="#555" stroke-width="0.3"/>
<text x="95.8" y="223.3" font-size="2.4" text-anchor="middle" fill="#222" transform="rotate(-90 95.8 223.3)">0.0</text>
<line x1="96.5" y1="231.3" x2="97.3" y2="231.3" stroke="#555" stroke-width="0.3"/>
<text x="95.8" y="231.3" font-size="2.4" text-anchor="middle" fill="#222" transform="rotate(-90 95.8 231.3)">-0.2</text>
<line x1="96.5" y1="239.3" x2="97.3" y2="239.3" stroke="#555" stroke-width="0.3"/>
<text x="95.8" y="239.3" font-size="2.4" text-anchor="middle" fill="#222" transform="rotate(-90 95.8 239.3)">-0.4</text>
<line x1="96.5" y1="247.3" x2="97.3" y2="247.3" stroke="#555" stroke-width="0.3"/>
<text x="95.8" y="247.3" font-size="2.4" text-anchor="middle" fill="#222" transform="rotate(-90 95.8 247.3)">-0.6</text>
<text x="92.6" y="235.6" font-size="2.7" text-anchor="middle" fill="#111" transform="rotate(-90 92.6 235.6)">Enrichment score (ES)</text>
<path d="M162.9 252.1V263.2M141.9 252.1V263.2M106.7 252.1V263.2M138.9 252.1V263.2M111.2 252.1V263.2M159.2 252.1V263.2M144.2 252.1V263.2M166.8 252.1V263.2M159.0 252.1V263.2M115.1 252.1V263.2M160.1 252.1V263.2M114.1 252.1V263.2M103.8 252.1V263.2M162.6 252.1V263.2M146.0 252.1V263.2M155.8 252.1V263.2M137.9 252.1V263.2M99.8 252.1V263.2M148.8 252.1V263.2M137.6 252.1V263.2M166.9 252.1V263.2M168.4 252.1V263.2M157.0 252.1V263.2M166.6 252.1V263.2M108.8 252.1V263.2M101.5 252.1V263.2M148.8 252.1V263.2M154.5 252.1V263.2M106.4 252.1V263.2M155.7 252.1V263.2M107.1 252.1V263.2M99.1 252.1V263.2M163.2 252.1V263.2M145.9 252.1V263.2M109.3 252.1V263.2M167.0 252.1V263.2M168.3 252.1V263.2M167.9 252.1V263.2M98.6 252.1V263.2M114.9 252.1V263.2M148.6 252.1V263.2M143.0 252.1V263.2M137.9 252.1V263.2M168.1 252.1V263.2M140.1 252.1V263.2M145.7 252.1V263.2M154.9 252.1V263.2M111.1 252.1V263.2M168.1 252.1V263.2M116.5 252.1V263.2M153.0 252.1V263.2M110.9 252.1V263.2M143.9 252.1V263.2M150.0 252.1V263.2M138.6 252.1V263.2M158.7 252.1V263.2M143.3 252.1V263.2M158.7 252.1V263.2M164.9 252.1V263.2M168.0 252.1V263.2M103.2 252.1V263.2M151.6 252.1V263.2M166.1 252.1V263.2M140.1 252.1V263.2M162.2 252.1V263.2M167.0 252.1V263.2M151.5 252.1V263.2M109.2 252.1V263.2M163.9 252.1V263.2M107.7 252.1V263.2M164.6 252.1V263.2M105.9 252.1V263.2M112.1 252.1V263.2M141.5 252.1V263.2M152.3 252.1V263.2M115.4 252.1V263.2M152.3 252.1V263.2M98.7 252.1V263.2M162.5 252.1V263.2M163.3 252.1V263.2M101.7 252.1V263.2M166.5 252.1V263.2M149.7 252.1V263.2M102.5 252.1V263.2M136.7 252.1V263.2M103.9 252.1V263.2M102.7 252.1V263.2M160.1 252.1V263.2M142.7 252.1V263.2M146.8 252.1V263.2M138.5 252.1V263.2M102.4 252.1V263.2M155.0 252.1V263.2M165.5 252.1V263.2M159.1 252.1V263.2M155.3 252.1V263.2M142.5 252.1V263.2M149.3 252.1V263.2M151.8 252.1V263.2M137.5 252.1V263.2M114.0 252.1V263.2M109.7 252.1V263.2M111.8 252.1V263.2M105.3 252.1V263.2M141.8 252.1V263.2M104.2 252.1V263.2M162.4 252.1V263.2M162.4 252.1V263.2M160.7 252.1V263.2M100.8 252.1V263.2" stroke="#000" stroke-width="0.25" stroke-opacity="0.5" fill="none"/>
<path d="M145.0 252.1V263.2M166.8 252.1V263.2M149.9 252.1V263.2M140.5 252.1V263.2M158.2 252.1V263.2M116.4 252.1V263.2M104.3 252.1V263.2M111.9 252.1V263.2" stroke="#000" stroke-width="0.55" stroke-opacity="0.85" fill="none"/>
<path d="M126.3 252.1V263.2M130.2 252.1V263.2M132.4 252.1V263.2M126.2 252.1V263.2M124.4 252.1V263.2M117.6 252.1V263.2" stroke="#999" stroke-width="0.4" fill="none"/>
<rect x="97.3" y="263.2" width="8.64" height="2.2" fill="#dc1c1c"/>
<rect x="105.89" y="263.2" width="5.78" height="2.2" fill="#e4484c"/>
<rect x="111.62" y="263.2" width="5.06" height="2.2" fill="#ec9098"/>
<rect x="116.63" y="263.2" width="21.53" height="2.2" fill="#f6dde2"/>
<rect x="138.11" y="263.2" width="6.49" height="2.2" fill="#dcdcf6"/>
<rect x="144.56" y="263.2" width="8.64" height="2.2" fill="#8c8cf0"/>
<rect x="153.15" y="263.2" width="8.64" height="2.2" fill="#3c3ce8"/>
<rect x="161.74" y="263.2" width="3.63" height="2.2" fill="#2020d8"/>
<rect x="165.32" y="263.2" width="3.63" height="2.2" fill="#6060e0"/>
<line x1="97.3" y1="276" x2="168.9" y2="276" stroke="#ccc" stroke-width="0.3"/>
<path d="M97.6 268.6 C98.1 274.5 100.3 275.1 109.3 275.65 L129.52 276 C151 276.6 163.89 278 166.39 280 C167.83 282 168.5 284.6 168.6 287.6 L168.6 276 L97.6 276 Z" fill="#d4d4d4" stroke="#c8c8c8" stroke-width="0.2"/>
<line x1="121.21" y1="265.4" x2="121.21" y2="288.6" stroke="#ccc" stroke-width="0.3" stroke-dasharray="0.5 0.5"/>
<text x="114.05" y="275.7" font-size="2.85" fill="#333">Zero cross at 7467</text>
<line x1="96.5" y1="266.6" x2="97.3" y2="266.6" stroke="#555" stroke-width="0.3"/>
<text x="95.8" y="266.6" font-size="2.4" text-anchor="middle" fill="#222" transform="rotate(-90 95.8 266.6)">1</text>
<line x1="96.5" y1="271.8" x2="97.3" y2="271.8" stroke="#555" stroke-width="0.3"/>
<text x="95.8" y="271.8" font-size="2.4" text-anchor="middle" fill="#222" transform="rotate(-90 95.8 271.8)">0.5</text>
<line x1="96.5" y1="277" x2="97.3" y2="277" stroke="#555" stroke-width="0.3"/>
<text x="95.8" y="277" font-size="2.4" text-anchor="middle" fill="#222" transform="rotate(-90 95.8 277)">0</text>
<line x1="96.5" y1="282.2" x2="97.3" y2="282.2" stroke="#555" stroke-width="0.3"/>
<text x="95.8" y="282.2" font-size="2.4" text-anchor="middle" fill="#222" transform="rotate(-90 95.8 282.2)">-0.5</text>
<line x1="96.5" y1="287.4" x2="97.3" y2="287.4" stroke="#555" stroke-width="0.3"/>
<text x="95.8" y="287.4" font-size="2.4" text-anchor="middle" fill="#222" transform="rotate(-90 95.8 287.4)">-1</text>
<text x="92.6" y="276.9" font-size="2.7" text-anchor="middle" fill="#111" transform="rotate(-90 92.6 276.9)">Ranked list metric</text>
<line x1="113.05" y1="288.6" x2="113.05" y2="289.4" stroke="#555" stroke-width="0.3"/>
<text x="113.05" y="291.6" font-size="2.3" text-anchor="middle" fill="#333">5000</text>
<line x1="128.8" y1="288.6" x2="128.8" y2="289.4" stroke="#555" stroke-width="0.3"/>
<text x="128.8" y="291.6" font-size="2.3" text-anchor="middle" fill="#333">10000</text>
<line x1="144.56" y1="288.6" x2="144.56" y2="289.4" stroke="#555" stroke-width="0.3"/>
<text x="144.56" y="291.6" font-size="2.3" text-anchor="middle" fill="#333">15000</text>
<line x1="160.31" y1="288.6" x2="160.31" y2="289.4" stroke="#555" stroke-width="0.3"/>
<text x="160.31" y="291.6" font-size="2.3" text-anchor="middle" fill="#333">20000</text>
<text x="133.1" y="294.7" font-size="2.6" text-anchor="middle" fill="#333">Rank in ordered gene list</text>
<rect x="97.3" y="219.6" width="71.6" height="69" fill="none" stroke="#8a8a8a" stroke-width="0.45"/>
<line x1="97.3" y1="252.1" x2="168.9" y2="252.1" stroke="#8a8a8a" stroke-width="0.35"/>
<line x1="97.3" y1="265.4" x2="168.9" y2="265.4" stroke="#8a8a8a" stroke-width="0.35"/>
<text x="214.2" y="216.3" font-size="2.6" font-weight="bold" text-anchor="middle" fill="#111">Enrichment plot: GO:1900087 positive regulation</text>
<text x="214.2" y="219.05" font-size="2.6" font-weight="bold" text-anchor="middle" fill="#111">of G1/S transition of mitotic cell cycle</text>
<rect x="178.4" y="219.6" width="71.6" height="69" fill="#fff"/>
<line x1="178.4" y1="223.3" x2="250" y2="223.3" stroke="#bbb" stroke-width="0.3"/>
<path d="M178.4 223.3 C179.59 223.82 182.37 224.98 185.56 226.41 C188.75 227.83 193.67 230.11 197.52 231.84 C201.37 233.56 205.02 235.16 208.68 236.76 C212.34 238.35 215.94 239.95 219.48 241.41 C223.02 242.88 227.05 244.56 229.91 245.55 C232.78 246.55 234.78 246.89 236.69 247.37 C238.6 247.84 240.23 248.53 241.38 248.4 C242.52 248.27 242.78 247.75 243.56 246.59 C244.34 245.42 245.35 243.35 246.06 241.41 C246.78 239.47 247.37 237.1 247.85 234.94 C248.33 232.79 248.65 230.42 248.93 228.48 C249.2 226.53 249.4 224.16 249.5 223.3" fill="none" stroke="#55e627" stroke-width="1.15"/>
<text x="179.4" y="244" font-size="2" fill="#222">Nominal p-value: 0</text>
<text x="179.4" y="246.3" font-size="2" fill="#222">FDR: 0.0000</text>
<text x="179.4" y="248.6" font-size="2" fill="#222">NES: -2.0321</text>
<text x="179.4" y="250.9" font-size="2" fill="#222">Ranking metric scores: -0.7681</text>
<line x1="177.6" y1="223.3" x2="178.4" y2="223.3" stroke="#555" stroke-width="0.3"/>
<text x="176.9" y="223.3" font-size="2.4" text-anchor="middle" fill="#222" transform="rotate(-90 176.9 223.3)">0.0</text>
<line x1="177.6" y1="231.3" x2="178.4" y2="231.3" stroke="#555" stroke-width="0.3"/>
<text x="176.9" y="231.3" font-size="2.4" text-anchor="middle" fill="#222" transform="rotate(-90 176.9 231.3)">-0.2</text>
<line x1="177.6" y1="239.3" x2="178.4" y2="239.3" stroke="#555" stroke-width="0.3"/>
<text x="176.9" y="239.3" font-size="2.4" text-anchor="middle" fill="#222" transform="rotate(-90 176.9 239.3)">-0.4</text>
<line x1="177.6" y1="247.3" x2="178.4" y2="247.3" stroke="#555" stroke-width="0.3"/>
<text x="176.9" y="247.3" font-size="2.4" text-anchor="middle" fill="#222" transform="rotate(-90 176.9 247.3)">-0.6</text>
<text x="173.7" y="235.6" font-size="2.7" text-anchor="middle" fill="#111" transform="rotate(-90 173.7 235.6)">Enrichment score (ES)</text>
<path d="M236.9 252.1V263.2M231.0 252.1V263.2M241.9 252.1V263.2M224.0 252.1V263.2M221.6 252.1V263.2M232.9 252.1V263.2M238.4 252.1V263.2M225.6 252.1V263.2M233.7 252.1V263.2M243.1 252.1V263.2M239.6 252.1V263.2M193.4 252.1V263.2M234.2 252.1V263.2M248.8 252.1V263.2M179.6 252.1V263.2M225.6 252.1V263.2M238.8 252.1V263.2M241.2 252.1V263.2M245.1 252.1V263.2M218.1 252.1V263.2M222.8 252.1V263.2M224.5 252.1V263.2M234.6 252.1V263.2M190.1 252.1V263.2M219.2 252.1V263.2M247.1 252.1V263.2M236.8 252.1V263.2M242.2 252.1V263.2M228.8 252.1V263.2M229.1 252.1V263.2" stroke="#000" stroke-width="0.25" stroke-opacity="0.5" fill="none"/>
<path d="M237.7 252.1V263.2M230.8 252.1V263.2M221.2 252.1V263.2M241.4 252.1V263.2M223.2 252.1V263.2M247.3 252.1V263.2M181.1 252.1V263.2M190.9 252.1V263.2M196.3 252.1V263.2" stroke="#000" stroke-width="0.55" stroke-opacity="0.85" fill="none"/>
<path d="" stroke="#999" stroke-width="0.4" fill="none"/>
<rect x="178.4" y="263.2" width="8.64" height="2.2" fill="#dc1c1c"/>
<rect x="186.99" y="263.2" width="5.78" height="2.2" fill="#e4484c"/>
<rect x="192.72" y="263.2" width="5.06" height="2.2" fill="#ec9098"/>
<rect x="197.73" y="263.2" width="21.53" height="2.2" fill="#f6dde2"/>
<rect x="219.21" y="263.2" width="6.49" height="2.2" fill="#dcdcf6"/>
<rect x="225.66" y="263.2" width="8.64" height="2.2" fill="#8c8cf0"/>
<rect x="234.25" y="263.2" width="8.64" height="2.2" fill="#3c3ce8"/>
<rect x="242.84" y="263.2" width="3.63" height="2.2" fill="#2020d8"/>
<rect x="246.42" y="263.2" width="3.63" height="2.2" fill="#6060e0"/>
<line x1="178.4" y1="276" x2="250" y2="276" stroke="#ccc" stroke-width="0.3"/>
<path d="M178.7 268.6 C179.2 274.5 181.4 275.1 190.4 275.65 L210.62 276 C232.1 276.6 244.99 278 247.49 280 C248.93 282 249.6 284.6 249.7 287.6 L249.7 276 L178.7 276 Z" fill="#d4d4d4" stroke="#c8c8c8" stroke-width="0.2"/>
<line x1="202.31" y1="265.4" x2="202.31" y2="288.6" stroke="#ccc" stroke-width="0.3" stroke-dasharray="0.5 0.5"/>
<text x="195.15" y="275.7" font-size="2.85" fill="#333">Zero cross at 7467</text>
<line x1="177.6" y1="266.6" x2="178.4" y2="266.6" stroke="#555" stroke-width="0.3"/>
<text x="176.9" y="266.6" font-size="2.4" text-anchor="middle" fill="#222" transform="rotate(-90 176.9 266.6)">1</text>
<line x1="177.6" y1="271.8" x2="178.4" y2="271.8" stroke="#555" stroke-width="0.3"/>
<text x="176.9" y="271.8" font-size="2.4" text-anchor="middle" fill="#222" transform="rotate(-90 176.9 271.8)">0.5</text>
<line x1="177.6" y1="277" x2="178.4" y2="277" stroke="#555" stroke-width="0.3"/>
<text x="176.9" y="277" font-size="2.4" text-anchor="middle" fill="#222" transform="rotate(-90 176.9 277)">0</text>
<line x1="177.6" y1="282.2" x2="178.4" y2="282.2" stroke="#555" stroke-width="0.3"/>
<text x="176.9" y="282.2" font-size="2.4" text-anchor="middle" fill="#222" transform="rotate(-90 176.9 282.2)">-0.5</text>
<line x1="177.6" y1="287.4" x2="178.4" y2="287.4" stroke="#555" stroke-width="0.3"/>
<text x="176.9" y="287.4" font-size="2.4" text-anchor="middle" fill="#222" transform="rotate(-90 176.9 287.4)">-1</text>
<text x="173.7" y="276.9" font-size="2.7" text-anchor="middle" fill="#111" transform="rotate(-90 173.7 276.9)">Ranked list metric</text>
<line x1="194.15" y1="288.6" x2="194.15" y2="289.4" stroke="#555" stroke-width="0.3"/>
<text x="194.15" y="291.6" font-size="2.3" text-anchor="middle" fill="#333">5000</text>
<line x1="209.9" y1="288.6" x2="209.9" y2="289.4" stroke="#555" stroke-width="0.3"/>
<text x="209.9" y="291.6" font-size="2.3" text-anchor="middle" fill="#333">10000</text>
<line x1="225.66" y1="288.6" x2="225.66" y2="289.4" stroke="#555" stroke-width="0.3"/>
<text x="225.66" y="291.6" font-size="2.3" text-anchor="middle" fill="#333">15000</text>
<line x1="241.41" y1="288.6" x2="241.41" y2="289.4" stroke="#555" stroke-width="0.3"/>
<text x="241.41" y="291.6" font-size="2.3" text-anchor="middle" fill="#333">20000</text>
<text x="214.2" y="294.7" font-size="2.6" text-anchor="middle" fill="#333">Rank in ordered gene list</text>
<rect x="178.4" y="219.6" width="71.6" height="69" fill="none" stroke="#8a8a8a" stroke-width="0.45"/>
<line x1="178.4" y1="252.1" x2="250" y2="252.1" stroke="#8a8a8a" stroke-width="0.35"/>
<line x1="178.4" y1="265.4" x2="250" y2="265.4" stroke="#8a8a8a" stroke-width="0.35"/>
<text x="295.3" y="217.5" font-size="2.6" font-weight="bold" text-anchor="middle" fill="#111">Enrichment plot: GO:0044786 cell cycle DNA replication</text>
<rect x="259.5" y="219.6" width="71.6" height="69" fill="#fff"/>
<line x1="259.5" y1="223.3" x2="331.1" y2="223.3" stroke="#bbb" stroke-width="0.3"/>
<path d="M259.5 223.3 C260.69 223.71 263.03 224.41 266.66 225.77 C270.29 227.13 276.43 229.4 281.26 231.46 C286.09 233.52 291.47 236.19 295.65 238.13 C299.83 240.07 303.03 241.71 306.35 243.07 C309.67 244.43 313.21 245.54 315.57 246.29 C317.93 247.03 319.12 247.52 320.52 247.52 C321.91 247.52 322.89 247.11 323.94 246.29 C324.99 245.46 325.97 244.35 326.8 242.58 C327.64 240.81 328.41 238.05 328.95 235.66 C329.49 233.27 329.75 230.3 330.03 228.24 C330.3 226.18 330.5 224.12 330.6 223.3" fill="none" stroke="#55e627" stroke-width="1.15"/>
<text x="260.5" y="244" font-size="2" fill="#222">Nominal p-value: 0</text>
<text x="260.5" y="246.3" font-size="2" fill="#222">FDR: 0.0000</text>
<text x="260.5" y="248.6" font-size="2" fill="#222">NES: -2.0321</text>
<text x="260.5" y="250.9" font-size="2" fill="#222">Ranking metric scores: -0.7681</text>
<line x1="258.7" y1="223.3" x2="259.5" y2="223.3" stroke="#555" stroke-width="0.3"/>
<text x="258" y="223.3" font-size="2.4" text-anchor="middle" fill="#222" transform="rotate(-90 258 223.3)">0.0</text>
<line x1="258.7" y1="231.3" x2="259.5" y2="231.3" stroke="#555" stroke-width="0.3"/>
<text x="258" y="231.3" font-size="2.4" text-anchor="middle" fill="#222" transform="rotate(-90 258 231.3)">-0.2</text>
<line x1="258.7" y1="239.3" x2="259.5" y2="239.3" stroke="#555" stroke-width="0.3"/>
<text x="258" y="239.3" font-size="2.4" text-anchor="middle" fill="#222" transform="rotate(-90 258 239.3)">-0.4</text>
<line x1="258.7" y1="247.3" x2="259.5" y2="247.3" stroke="#555" stroke-width="0.3"/>
<text x="258" y="247.3" font-size="2.4" text-anchor="middle" fill="#222" transform="rotate(-90 258 247.3)">-0.6</text>
<text x="254.8" y="235.6" font-size="2.7" text-anchor="middle" fill="#111" transform="rotate(-90 254.8 235.6)">Enrichment score (ES)</text>
<path d="M324.1 252.1V263.2M311.9 252.1V263.2M269.2 252.1V263.2M270.5 252.1V263.2M327.1 252.1V263.2M322.9 252.1V263.2M326.1 252.1V263.2M269.5 252.1V263.2M268.2 252.1V263.2M327.7 252.1V263.2M263.2 252.1V263.2M324.1 252.1V263.2M323.6 252.1V263.2M314.1 252.1V263.2M305.5 252.1V263.2M319.9 252.1V263.2M325.4 252.1V263.2M316.7 252.1V263.2M319.7 252.1V263.2M303.0 252.1V263.2M320.5 252.1V263.2M269.9 252.1V263.2M276.2 252.1V263.2M329.8 252.1V263.2M313.0 252.1V263.2M277.2 252.1V263.2M323.8 252.1V263.2M325.2 252.1V263.2M326.4 252.1V263.2M264.2 252.1V263.2M325.3 252.1V263.2M265.2 252.1V263.2M328.1 252.1V263.2M322.6 252.1V263.2M329.3 252.1V263.2M314.8 252.1V263.2M328.3 252.1V263.2M264.2 252.1V263.2M322.5 252.1V263.2M323.5 252.1V263.2M326.5 252.1V263.2M322.6 252.1V263.2M323.8 252.1V263.2M262.9 252.1V263.2M325.0 252.1V263.2M261.5 252.1V263.2M305.6 252.1V263.2M307.0 252.1V263.2M325.0 252.1V263.2M315.3 252.1V263.2M324.6 252.1V263.2" stroke="#000" stroke-width="0.25" stroke-opacity="0.5" fill="none"/>
<path d="M323.8 252.1V263.2M323.8 252.1V263.2M307.4 252.1V263.2M306.2 252.1V263.2M303.3 252.1V263.2M276.8 252.1V263.2M275.8 252.1V263.2" stroke="#000" stroke-width="0.55" stroke-opacity="0.85" fill="none"/>
<path d="M293.5 252.1V263.2" stroke="#999" stroke-width="0.4" fill="none"/>
<rect x="259.5" y="263.2" width="8.64" height="2.2" fill="#dc1c1c"/>
<rect x="268.09" y="263.2" width="5.78" height="2.2" fill="#e4484c"/>
<rect x="273.82" y="263.2" width="5.06" height="2.2" fill="#ec9098"/>
<rect x="278.83" y="263.2" width="21.53" height="2.2" fill="#f6dde2"/>
<rect x="300.31" y="263.2" width="6.49" height="2.2" fill="#dcdcf6"/>
<rect x="306.76" y="263.2" width="8.64" height="2.2" fill="#8c8cf0"/>
<rect x="315.35" y="263.2" width="8.64" height="2.2" fill="#3c3ce8"/>
<rect x="323.94" y="263.2" width="3.63" height="2.2" fill="#2020d8"/>
<rect x="327.52" y="263.2" width="3.63" height="2.2" fill="#6060e0"/>
<line x1="259.5" y1="276" x2="331.1" y2="276" stroke="#ccc" stroke-width="0.3"/>
<path d="M259.8 268.6 C260.3 274.5 262.5 275.1 271.5 275.65 L291.72 276 C313.2 276.6 326.09 278 328.59 280 C330.03 282 330.7 284.6 330.8 287.6 L330.8 276 L259.8 276 Z" fill="#d4d4d4" stroke="#c8c8c8" stroke-width="0.2"/>
<line x1="283.41" y1="265.4" x2="283.41" y2="288.6" stroke="#ccc" stroke-width="0.3" stroke-dasharray="0.5 0.5"/>
<text x="276.25" y="275.7" font-size="2.85" fill="#333">Zero cross at 7467</text>
<line x1="258.7" y1="266.6" x2="259.5" y2="266.6" stroke="#555" stroke-width="0.3"/>
<text x="258" y="266.6" font-size="2.4" text-anchor="middle" fill="#222" transform="rotate(-90 258 266.6)">1</text>
<line x1="258.7" y1="271.8" x2="259.5" y2="271.8" stroke="#555" stroke-width="0.3"/>
<text x="258" y="271.8" font-size="2.4" text-anchor="middle" fill="#222" transform="rotate(-90 258 271.8)">0.5</text>
<line x1="258.7" y1="277" x2="259.5" y2="277" stroke="#555" stroke-width="0.3"/>
<text x="258" y="277" font-size="2.4" text-anchor="middle" fill="#222" transform="rotate(-90 258 277)">0</text>
<line x1="258.7" y1="282.2" x2="259.5" y2="282.2" stroke="#555" stroke-width="0.3"/>
<text x="258" y="282.2" font-size="2.4" text-anchor="middle" fill="#222" transform="rotate(-90 258 282.2)">-0.5</text>
<line x1="258.7" y1="287.4" x2="259.5" y2="287.4" stroke="#555" stroke-width="0.3"/>
<text x="258" y="287.4" font-size="2.4" text-anchor="middle" fill="#222" transform="rotate(-90 258 287.4)">-1</text>
<text x="254.8" y="276.9" font-size="2.7" text-anchor="middle" fill="#111" transform="rotate(-90 254.8 276.9)">Ranked list metric</text>
<line x1="275.25" y1="288.6" x2="275.25" y2="289.4" stroke="#555" stroke-width="0.3"/>
<text x="275.25" y="291.6" font-size="2.3" text-anchor="middle" fill="#333">5000</text>
<line x1="291" y1="288.6" x2="291" y2="289.4" stroke="#555" stroke-width="0.3"/>
<text x="291" y="291.6" font-size="2.3" text-anchor="middle" fill="#333">10000</text>
<line x1="306.76" y1="288.6" x2="306.76" y2="289.4" stroke="#555" stroke-width="0.3"/>
<text x="306.76" y="291.6" font-size="2.3" text-anchor="middle" fill="#333">15000</text>
<line x1="322.51" y1="288.6" x2="322.51" y2="289.4" stroke="#555" stroke-width="0.3"/>
<text x="322.51" y="291.6" font-size="2.3" text-anchor="middle" fill="#333">20000</text>
<text x="295.3" y="294.7" font-size="2.6" text-anchor="middle" fill="#333">Rank in ordered gene list</text>
<rect x="259.5" y="219.6" width="71.6" height="69" fill="none" stroke="#8a8a8a" stroke-width="0.45"/>
<line x1="259.5" y1="252.1" x2="331.1" y2="252.1" stroke="#8a8a8a" stroke-width="0.35"/>
<line x1="259.5" y1="265.4" x2="331.1" y2="265.4" stroke="#8a8a8a" stroke-width="0.35"/>
<text x="0.4" y="304.8" font-size="11.2" font-weight="bold">e</text>
<rect x="20.6" y="307.9" width="111" height="98.1" fill="#fff"/>
<line x1="30.5" y1="307.9" x2="30.5" y2="406" stroke="#eeeeee" stroke-width="0.5"/>
<line x1="40.2" y1="307.9" x2="40.2" y2="406" stroke="#eeeeee" stroke-width="0.5"/>
<line x1="50" y1="307.9" x2="50" y2="406" stroke="#eeeeee" stroke-width="0.5"/>
<line x1="59.8" y1="307.9" x2="59.8" y2="406" stroke="#eeeeee" stroke-width="0.5"/>
<line x1="70" y1="307.9" x2="70" y2="406" stroke="#eeeeee" stroke-width="0.5"/>
<line x1="80.2" y1="307.9" x2="80.2" y2="406" stroke="#eeeeee" stroke-width="0.5"/>
<line x1="90.2" y1="307.9" x2="90.2" y2="406" stroke="#eeeeee" stroke-width="0.5"/>
<line x1="100.3" y1="307.9" x2="100.3" y2="406" stroke="#eeeeee" stroke-width="0.5"/>
<line x1="110.3" y1="307.9" x2="110.3" y2="406" stroke="#eeeeee" stroke-width="0.5"/>
<line x1="120.4" y1="307.9" x2="120.4" y2="406" stroke="#eeeeee" stroke-width="0.5"/>
<line x1="130.3" y1="307.9" x2="130.3" y2="406" stroke="#eeeeee" stroke-width="0.5"/>
<line x1="20.6" y1="334.8" x2="131.6" y2="334.8" stroke="#eeeeee" stroke-width="0.5"/>
<line x1="20.6" y1="379.3" x2="131.6" y2="379.3" stroke="#eeeeee" stroke-width="0.5"/>
<rect x="25.7" y="314.9" width="4.05" height="39.7" fill="#c890e0"/>
<rect x="29.7" y="314.9" width="20.15" height="39.7" fill="#62d2b8"/>
<rect x="49.8" y="314.9" width="6.35" height="39.7" fill="#88c070"/>
<rect x="56.1" y="314.9" width="1.85" height="39.7" fill="#c4a060"/>
<rect x="57.9" y="314.9" width="4.05" height="39.7" fill="#4a88c4"/>
<rect x="61.9" y="314.9" width="18.05" height="39.7" fill="#a6d3e3"/>
<rect x="79.9" y="314.9" width="4.25" height="39.7" fill="#4a88c4"/>
<rect x="84.1" y="314.9" width="3.05" height="39.7" fill="#c4a060"/>
<rect x="87.1" y="314.9" width="7.55" height="39.7" fill="#88c070"/>
<rect x="94.6" y="314.9" width="26.45" height="39.7" fill="#62d2b8"/>
<rect x="121" y="314.9" width="5.45" height="39.7" fill="#c890e0"/>
<rect x="25.7" y="359.3" width="5.15" height="40.1" fill="#c890e0"/>
<rect x="30.8" y="359.3" width="20.65" height="40.1" fill="#62d2b8"/>
<rect x="51.4" y="359.3" width="6.35" height="40.1" fill="#88c070"/>
<rect x="57.7" y="359.3" width="2.35" height="40.1" fill="#c4a060"/>
<rect x="60" y="359.3" width="3.15" height="40.1" fill="#4a88c4"/>
<rect x="63.1" y="359.3" width="14.75" height="40.1" fill="#a6d3e3"/>
<rect x="77.8" y="359.3" width="5.15" height="40.1" fill="#4a88c4"/>
<rect x="82.9" y="359.3" width="3.15" height="40.1" fill="#c4a060"/>
<rect x="86" y="359.3" width="7.55" height="40.1" fill="#88c070"/>
<rect x="93.5" y="359.3" width="27.15" height="40.1" fill="#62d2b8"/>
<rect x="120.6" y="359.3" width="6.05" height="40.1" fill="#c890e0"/>
<line x1="70.2" y1="307.9" x2="70.2" y2="406" stroke="#333" stroke-width="0.9"/>
<rect x="20.6" y="307.9" width="111" height="98.1" fill="none" stroke="#c4c4c4" stroke-width="0.6"/>
<line x1="30.5" y1="406" x2="30.5" y2="406.9" stroke="#666" stroke-width="0.4"/>
<text x="30.5" y="409.6" font-size="2.6" text-anchor="middle" fill="#555">40</text>
<line x1="40.2" y1="406" x2="40.2" y2="406.9" stroke="#666" stroke-width="0.4"/>
<text x="40.2" y="409.6" font-size="2.6" text-anchor="middle" fill="#555">30</text>
<line x1="50" y1="406" x2="50" y2="406.9" stroke="#666" stroke-width="0.4"/>
<text x="50" y="409.6" font-size="2.6" text-anchor="middle" fill="#555">20</text>
<line x1="59.8" y1="406" x2="59.8" y2="406.9" stroke="#666" stroke-width="0.4"/>
<text x="59.8" y="409.6" font-size="2.6" text-anchor="middle" fill="#555">10</text>
<line x1="70" y1="406" x2="70" y2="406.9" stroke="#666" stroke-width="0.4"/>
<text x="70" y="409.6" font-size="2.6" text-anchor="middle" fill="#555">0</text>
<line x1="80.2" y1="406" x2="80.2" y2="406.9" stroke="#666" stroke-width="0.4"/>
<text x="80.2" y="409.6" font-size="2.6" text-anchor="middle" fill="#555">10</text>
<line x1="90.2" y1="406" x2="90.2" y2="406.9" stroke="#666" stroke-width="0.4"/>
<text x="90.2" y="409.6" font-size="2.6" text-anchor="middle" fill="#555">20</text>
<line x1="100.3" y1="406" x2="100.3" y2="406.9" stroke="#666" stroke-width="0.4"/>
<text x="100.3" y="409.6" font-size="2.6" text-anchor="middle" fill="#555">30</text>
<line x1="110.3" y1="406" x2="110.3" y2="406.9" stroke="#666" stroke-width="0.4"/>
<text x="110.3" y="409.6" font-size="2.6" text-anchor="middle" fill="#555">40</text>
<line x1="120.4" y1="406" x2="120.4" y2="406.9" stroke="#666" stroke-width="0.4"/>
<text x="120.4" y="409.6" font-size="2.6" text-anchor="middle" fill="#555">50</text>
<line x1="130.3" y1="406" x2="130.3" y2="406.9" stroke="#666" stroke-width="0.4"/>
<text x="130.3" y="409.6" font-size="2.6" text-anchor="middle" fill="#555">60</text>
<text x="76" y="412.9" font-size="3.1" font-style="italic" text-anchor="middle" fill="#444">percentage (%) (R&lt;0)  (R&gt;0)</text>
<text x="19.8" y="337.2" font-size="5.6" font-weight="bold" text-anchor="end">+HGF</text>
<text x="19.8" y="382" font-size="5.6" font-weight="bold" text-anchor="end">–HGF</text>
<rect x="134.9" y="338.3" width="5.1" height="5.1" fill="#a6d3e3"/>
<text x="142" y="341.8" font-size="2.7" fill="#333">0~1kb</text>
<rect x="134.9" y="343.4" width="5.1" height="5.1" fill="#4a88c4"/>
<text x="142" y="346.9" font-size="2.7" fill="#333">1~3kb</text>
<rect x="134.9" y="348.5" width="5.1" height="5.1" fill="#c4a060"/>
<text x="142" y="352" font-size="2.7" fill="#333">3~5kb</text>
<rect x="134.9" y="353.6" width="5.1" height="5.1" fill="#88c070"/>
<text x="142" y="357.1" font-size="2.7" fill="#333">5~10kb</text>
<rect x="134.9" y="358.7" width="5.1" height="5.1" fill="#62d2b8"/>
<text x="142" y="362.2" font-size="2.7" fill="#333">10~100kb</text>
<rect x="134.9" y="363.8" width="5.1" height="5.1" fill="#c890e0"/>
<text x="142" y="367.3" font-size="2.7" fill="#333">&gt;100kb</text>
<text x="161.9" y="305" font-size="11.2" font-weight="bold">f</text>
<rect x="259.1" y="302.9" width="16.1" height="9.9" fill="#a0dc2c"/>
<text x="267.15" y="309.9" font-size="5.8" font-weight="bold" text-anchor="middle">GO</text>
<rect x="287.5" y="316" width="97.2" height="4.85" fill="#a0dc2c"/>
<text x="286" y="320.41" font-size="5.5" font-weight="bold" text-anchor="end">Cellular protein metabolic process</text>
<line x1="286.5" y1="318.43" x2="287.5" y2="318.43" stroke="#222" stroke-width="0.5"/>
<rect x="287.5" y="323.46" width="95" height="4.85" fill="#a0dc2c"/>
<text x="286" y="327.87" font-size="5.5" font-weight="bold" text-anchor="end">Regulation of metabolic process</text>
<line x1="286.5" y1="325.88" x2="287.5" y2="325.88" stroke="#222" stroke-width="0.5"/>
<rect x="287.5" y="330.92" width="74.3" height="4.85" fill="#a0dc2c"/>
<text x="286" y="335.33" font-size="5.5" font-weight="bold" text-anchor="end">Cytoskeleton organization</text>
<line x1="286.5" y1="333.35" x2="287.5" y2="333.35" stroke="#222" stroke-width="0.5"/>
<rect x="287.5" y="338.38" width="52.6" height="4.85" fill="#a0dc2c"/>
<text x="286" y="342.79" font-size="5.5" font-weight="bold" text-anchor="end">Cytoskeleton</text>
<line x1="286.5" y1="340.81" x2="287.5" y2="340.81" stroke="#222" stroke-width="0.5"/>
<rect x="287.5" y="345.84" width="42.1" height="4.85" fill="#a0dc2c"/>
<text x="286" y="350.25" font-size="5.5" font-weight="bold" text-anchor="end" fill="#e8141c">Growth</text>
<line x1="286.5" y1="348.26" x2="287.5" y2="348.26" stroke="#222" stroke-width="0.5"/>
<rect x="287.5" y="353.3" width="38.9" height="4.85" fill="#a0dc2c"/>
<text x="286" y="357.71" font-size="5.5" font-weight="bold" text-anchor="end" fill="#e8141c">Cell cycle</text>
<line x1="286.5" y1="355.73" x2="287.5" y2="355.73" stroke="#222" stroke-width="0.5"/>
<rect x="287.5" y="360.76" width="24.5" height="4.85" fill="#a0dc2c"/>
<text x="286" y="365.17" font-size="5.5" font-weight="bold" text-anchor="end">Regulation of cell population proliferation</text>
<line x1="286.5" y1="363.19" x2="287.5" y2="363.19" stroke="#222" stroke-width="0.5"/>
<rect x="287.5" y="368.22" width="22.3" height="4.85" fill="#a0dc2c"/>
<text x="286" y="372.63" font-size="5.5" font-weight="bold" text-anchor="end">Cell population proliferation</text>
<line x1="286.5" y1="370.65" x2="287.5" y2="370.65" stroke="#222" stroke-width="0.5"/>
<line x1="287.5" y1="314.7" x2="287.5" y2="373.87" stroke="#222" stroke-width="0.6"/>
<line x1="287.2" y1="314.7" x2="388.1" y2="314.7" stroke="#444" stroke-width="1"/>
<line x1="287.7" y1="313.7" x2="287.7" y2="315.6" stroke="#444" stroke-width="0.5"/>
<text x="287.7" y="311.9" font-size="5" font-weight="bold" text-anchor="middle">0</text>
<line x1="321.03" y1="313.7" x2="321.03" y2="315.6" stroke="#444" stroke-width="0.5"/>
<text x="321.03" y="311.9" font-size="5" font-weight="bold" text-anchor="middle">10</text>
<line x1="354.37" y1="313.7" x2="354.37" y2="315.6" stroke="#444" stroke-width="0.5"/>
<text x="354.37" y="311.9" font-size="5" font-weight="bold" text-anchor="middle">20</text>
<line x1="387.7" y1="313.7" x2="387.7" y2="315.6" stroke="#444" stroke-width="0.5"/>
<text x="387.7" y="311.9" font-size="5" font-weight="bold" text-anchor="middle">30</text>
<text x="340" y="305" font-size="5.8" text-anchor="middle">-log (adj. <tspan font-style="italic">p</tspan> val)</text>
<rect x="252.9" y="389.4" width="24.2" height="10.5" fill="#1c10c2"/>
<text x="265" y="396.7" font-size="5.8" font-weight="bold" text-anchor="middle" fill="#fff">KEGG</text>
<rect x="287.5" y="402.4" width="99.9" height="4.7" fill="#1c10c2"/>
<text x="286" y="406.73" font-size="5.5" font-weight="bold" text-anchor="end">Pathways in cancer</text>
<line x1="286.5" y1="404.75" x2="287.5" y2="404.75" stroke="#222" stroke-width="0.5"/>
<rect x="287.5" y="409.83" width="99.7" height="4.7" fill="#1c10c2"/>
<text x="286" y="414.16" font-size="5.5" font-weight="bold" text-anchor="end">Focal adhesion</text>
<line x1="286.5" y1="412.18" x2="287.5" y2="412.18" stroke="#222" stroke-width="0.5"/>
<rect x="287.5" y="417.26" width="85.7" height="4.7" fill="#1c10c2"/>
<text x="286" y="421.59" font-size="5.5" font-weight="bold" text-anchor="end">Glucagon signaling pathway</text>
<line x1="286.5" y1="419.61" x2="287.5" y2="419.61" stroke="#222" stroke-width="0.5"/>
<rect x="287.5" y="424.69" width="74.5" height="4.7" fill="#1c10c2"/>
<text x="286" y="429.02" font-size="5.5" font-weight="bold" text-anchor="end">Hippo signaling pathway</text>
<line x1="286.5" y1="427.04" x2="287.5" y2="427.04" stroke="#222" stroke-width="0.5"/>
<rect x="287.5" y="432.12" width="74.3" height="4.7" fill="#1c10c2"/>
<text x="286" y="436.45" font-size="5.5" font-weight="bold" text-anchor="end">Phosphatidylinositol signaling</text>
<line x1="286.5" y1="434.47" x2="287.5" y2="434.47" stroke="#222" stroke-width="0.5"/>
<rect x="287.5" y="439.55" width="64.3" height="4.7" fill="#1c10c2"/>
<text x="286" y="443.88" font-size="5.5" font-weight="bold" text-anchor="end" fill="#e8141c">Cell cycle</text>
<line x1="286.5" y1="441.9" x2="287.5" y2="441.9" stroke="#222" stroke-width="0.5"/>
<rect x="287.5" y="446.98" width="62" height="4.7" fill="#1c10c2"/>
<text x="286" y="451.31" font-size="5.5" font-weight="bold" text-anchor="end">Oocyte meiosis</text>
<line x1="286.5" y1="449.33" x2="287.5" y2="449.33" stroke="#222" stroke-width="0.5"/>
<rect x="287.5" y="454.41" width="57.3" height="4.7" fill="#1c10c2"/>
<text x="286" y="458.74" font-size="5.5" font-weight="bold" text-anchor="end">Metabolic pathways</text>
<line x1="286.5" y1="456.76" x2="287.5" y2="456.76" stroke="#222" stroke-width="0.5"/>
<line x1="287.5" y1="401" x2="287.5" y2="459.91" stroke="#222" stroke-width="0.6"/>
<line x1="287.2" y1="401" x2="389" y2="401" stroke="#444" stroke-width="1"/>
<line x1="287.7" y1="400" x2="287.7" y2="401.9" stroke="#444" stroke-width="0.5"/>
<text x="287.7" y="398.4" font-size="5" font-weight="bold" text-anchor="middle">0</text>
<line x1="304.52" y1="400" x2="304.52" y2="401.9" stroke="#444" stroke-width="0.5"/>
<text x="304.52" y="398.4" font-size="5" font-weight="bold" text-anchor="middle">1</text>
<line x1="321.33" y1="400" x2="321.33" y2="401.9" stroke="#444" stroke-width="0.5"/>
<text x="321.33" y="398.4" font-size="5" font-weight="bold" text-anchor="middle">2</text>
<line x1="338.15" y1="400" x2="338.15" y2="401.9" stroke="#444" stroke-width="0.5"/>
<text x="338.15" y="398.4" font-size="5" font-weight="bold" text-anchor="middle">3</text>
<line x1="354.97" y1="400" x2="354.97" y2="401.9" stroke="#444" stroke-width="0.5"/>
<text x="354.97" y="398.4" font-size="5" font-weight="bold" text-anchor="middle">4</text>
<line x1="371.78" y1="400" x2="371.78" y2="401.9" stroke="#444" stroke-width="0.5"/>
<text x="371.78" y="398.4" font-size="5" font-weight="bold" text-anchor="middle">5</text>
<line x1="388.6" y1="400" x2="388.6" y2="401.9" stroke="#444" stroke-width="0.5"/>
<text x="388.6" y="398.4" font-size="5" font-weight="bold" text-anchor="middle">6</text>
<text x="339" y="391.2" font-size="5.8" text-anchor="middle">-log (adj. <tspan font-style="italic">p</tspan> val)</text>
<text x="407.1" y="304.1" font-size="11.2" font-weight="bold">g</text>
<ellipse cx="459.8" cy="356.0" rx="43.2" ry="42.6" fill="#a6e2df"/>
<ellipse cx="503.6" cy="356.0" rx="43.2" ry="42.6" fill="#eadb97"/>
<clipPath id="vc"><ellipse cx="459.8" cy="356.0" rx="43.2" ry="42.6"/></clipPath>
<ellipse cx="503.6" cy="356.0" rx="43.2" ry="42.6" fill="#d2d798" clip-path="url(#vc)"/>
<ellipse cx="459.8" cy="356.0" rx="43.2" ry="42.6" fill="none" stroke="#555" stroke-width="0.5"/>
<ellipse cx="503.6" cy="356.0" rx="43.2" ry="42.6" fill="none" stroke="#555" stroke-width="0.5"/>
<text x="455.4" y="310.7" font-size="5.55" font-weight="bold" text-anchor="middle" fill="#111">CUT&amp;Tag up-regulated</text>
<text x="522.3" y="310.7" font-size="5.55" font-weight="bold" text-anchor="middle" fill="#111">RNA-seq down-regulated</text>
<text x="438.4" y="356.9" font-size="6" text-anchor="middle" fill="#111">1174</text>
<text x="481.1" y="356.9" font-size="6" text-anchor="middle" fill="#111">180</text>
<text x="524.8" y="356.9" font-size="6" text-anchor="middle" fill="#111">1951</text>
<text x="0.1" y="471.6" font-size="11.2" font-weight="bold">h</text>
<rect x="66.3" y="469.2" width="127.5" height="55" fill="#e9e9e9"/>
<line x1="66.3" y1="483.4" x2="193.8" y2="483.4" stroke="#9a9a9a" stroke-width="0.5"/>
<text x="66.9" y="471.7" font-size="2.3" fill="#444">15</text>
<line x1="66.3" y1="496.5" x2="193.8" y2="496.5" stroke="#9a9a9a" stroke-width="0.5"/>
<text x="66.9" y="485.9" font-size="2.3" fill="#444">15</text>
<line x1="66.3" y1="510.4" x2="193.8" y2="510.4" stroke="#9a9a9a" stroke-width="0.5"/>
<text x="66.9" y="499" font-size="2.3" fill="#444">500</text>
<line x1="66.3" y1="524.2" x2="193.8" y2="524.2" stroke="#9a9a9a" stroke-width="0.5"/>
<text x="66.9" y="512.9" font-size="2.3" fill="#444">500</text>
<path d="M66.5 483.4 L66.5 482.98 L66.8 483.4 L67.1 483.4 L67.4 483.4 L67.7 483.4 L68 483.4 L68.3 483.4 L68.6 483.39 L68.9 483.4 L69.2 483.4 L69.5 483.4 L69.8 483.18 L70.1 483.4 L70.4 482.93 L70.7 483.4 L71 483.39 L71.3 483.4 L71.6 483.4 L71.9 483.4 L72.2 483.19 L72.5 483.29 L72.8 483.4 L73.1 483.4 L73.4 483.28 L73.7 483.17 L74 483.4 L74.3 482.98 L74.6 483.4 L74.9 483.4 L75.2 482.9 L75.5 483.4 L75.8 483.23 L76.1 483.4 L76.4 483.4 L76.7 483.4 L77 483.4 L77.3 483.4 L77.6 483.4 L77.9 483.4 L78.2 483.4 L78.5 483.4 L78.8 483.4 L79.1 483.4 L79.4 483.4 L79.7 483.28 L80 483.4 L80.3 483.4 L80.6 483.13 L80.9 483.4 L81.2 483.4 L81.5 483.4 L81.8 483.4 L82.1 483.4 L82.4 483.4 L82.7 483.4 L83 483.4 L83.3 483.4 L83.6 483.38 L83.9 483.4 L84.2 483.4 L84.5 483.4 L84.8 482.62 L85.1 481.46 L85.4 480.29 L85.7 480.68 L86 481.84 L86.3 483.01 L86.6 483.4 L86.9 483.15 L87.2 483.4 L87.5 482.38 L87.8 480.84 L88.1 479.31 L88.4 479.82 L88.7 481.36 L89 482.89 L89.3 483.4 L89.6 483.4 L89.9 483.4 L90.2 483.14 L90.5 483.4 L90.8 483.4 L91.1 483.4 L91.4 483.4 L91.7 483.4 L92 483.4 L92.3 483.01 L92.6 483.4 L92.9 483.4 L93.2 483.4 L93.5 483.4 L93.8 483.4 L94.1 483.4 L94.4 483.4 L94.7 482.96 L95 483.4 L95.3 483.15 L95.6 483.4 L95.9 483.4 L96.2 482.53 L96.5 481.67 L96.8 480.8 L97.1 481.67 L97.4 482.53 L97.7 483.4 L98 483.4 L98.3 483.4 L98.6 483.4 L98.9 483.4 L99.2 483.29 L99.5 483.11 L99.8 483.4 L100.1 483.4 L100.4 483.4 L100.7 483.4 L101 483.4 L101.3 483.4 L101.6 483.4 L101.9 483.39 L102.2 483.02 L102.5 483.35 L102.8 483.4 L103.1 483.4 L103.4 483.32 L103.7 483.4 L104 483.26 L104.3 483.18 L104.6 482.84 L104.9 482.51 L105.2 482.62 L105.5 482.96 L105.8 483.29 L106.1 483.4 L106.4 483.4 L106.7 483.4 L107 483.4 L107.3 483.21 L107.6 483.4 L107.9 483.35 L108.2 483.4 L108.5 483.4 L108.8 483.1 L109.1 483.4 L109.4 483.39 L109.7 483.04 L110 483.05 L110.3 483.4 L110.6 483.4 L110.9 482.91 L111.2 483.4 L111.5 483.4 L111.8 483.08 L112.1 483.07 L112.4 482.73 L112.7 482.4 L113 482.73 L113.3 483.07 L113.6 483.4 L113.9 483.4 L114.2 483.4 L114.5 483.4 L114.8 483.25 L115.1 483.4 L115.4 483.4 L115.7 483.4 L116 483.4 L116.3 483.4 L116.6 483.4 L116.9 483.4 L117.2 483.4 L117.5 483.4 L117.8 482.96 L118.1 482.99 L118.4 483.4 L118.7 483.4 L119 482.97 L119.3 483.4 L119.6 483.4 L119.9 483.4 L120.2 483.4 L120.5 483.11 L120.8 482.24 L121.1 481.38 L121.4 481.09 L121.7 481.96 L122 482.82 L122.3 483.4 L122.6 483.06 L122.9 483.4 L123.2 483.35 L123.5 483.4 L123.8 483.4 L124.1 483.4 L124.4 483.4 L124.7 483.4 L125 483.4 L125.3 483.3 L125.6 483.4 L125.9 483.4 L126.2 483.4 L126.5 483.4 L126.8 483.06 L127.1 483.4 L127.4 483.4 L127.7 483.4 L128 483.4 L128.3 483.4 L128.6 483.4 L128.9 483.4 L129.2 483.04 L129.5 483.32 L129.8 483.4 L130.1 483.02 L130.4 483.4 L130.7 483.16 L131 482.42 L131.3 481.69 L131.6 481.44 L131.9 482.18 L132.2 482.91 L132.5 483.4 L132.8 483.4 L133.1 483.4 L133.4 483.4 L133.7 483.4 L134 483.4 L134.3 483.4 L134.6 483.4 L134.9 482.56 L135.2 481.29 L135.5 480.02 L135.8 480.44 L136.1 481.71 L136.4 482.98 L136.7 483.12 L137 483.38 L137.3 482.97 L137.6 483.4 L137.9 483.4 L138.2 483.4 L138.5 483.4 L138.8 483.4 L139.1 483.4 L139.4 483.4 L139.7 483.36 L140 483.18 L140.3 482.84 L140.6 482.51 L140.9 482.62 L141.2 482.96 L141.5 483.29 L141.8 483.4 L142.1 483.4 L142.4 483.4 L142.7 483.4 L143 483.4 L143.3 483.4 L143.6 483.4 L143.9 483.4 L144.2 483.06 L144.5 483.34 L144.8 483.4 L145.1 483.28 L145.4 483.4 L145.7 483.4 L146 483.32 L146.3 483.03 L146.6 482.94 L146.9 483.4 L147.2 483.4 L147.5 483.4 L147.8 483.4 L148.1 483.07 L148.4 482.07 L148.7 481.07 L149 480.73 L149.3 481.73 L149.6 482.73 L149.9 483.4 L150.2 483.4 L150.5 483.07 L150.8 483.39 L151.1 483.4 L151.4 483.4 L151.7 483.4 L152 483.4 L152.3 483.4 L152.6 482.94 L152.9 483.4 L153.2 483.4 L153.5 483.29 L153.8 482.07 L154.1 480.73 L154.4 479.4 L154.7 480.73 L155 482.07 L155.3 483.4 L155.6 483.4 L155.9 483.4 L156.2 483.4 L156.5 483.4 L156.8 483.4 L157.1 483.4 L157.4 483.4 L157.7 483.36 L158 483.4 L158.3 483.4 L158.6 483.4 L158.9 483.4 L159.2 483.4 L159.5 483.4 L159.8 483.4 L160.1 483.4 L160.4 483.4 L160.7 483.4 L161 483.4 L161.3 483.4 L161.6 483.4 L161.9 483.4 L162.2 483.4 L162.5 483.4 L162.8 483.4 L163.1 483.39 L163.4 483.36 L163.7 483.4 L164 483.36 L164.3 483.4 L164.6 483.4 L164.9 483.4 L165.2 483.4 L165.5 483.4 L165.8 483.15 L166.1 483.4 L166.4 482.93 L166.7 483.01 L167 483.4 L167.3 483.4 L167.6 483.4 L167.9 483.14 L168.2 483.4 L168.5 483.4 L168.8 483.4 L169.1 482.94 L169.4 482.67 L169.7 481.93 L170 481.2 L170.3 481.93 L170.6 482.67 L170.9 483.24 L171.2 483.4 L171.5 483.4 L171.8 483.4 L172.1 483.4 L172.4 483.4 L172.7 483.4 L173 483.18 L173.3 483.04 L173.6 483.4 L173.9 483.4 L174.2 482.92 L174.5 483.4 L174.8 483.4 L175.1 483.4 L175.4 483.4 L175.7 483.4 L176 483.4 L176.3 483.4 L176.6 483.4 L176.9 483.08 L177.2 483.4 L177.5 483.4 L177.8 483.22 L178.1 483.34 L178.4 483.4 L178.7 483.4 L179 483.4 L179.3 483.4 L179.6 483.4 L179.9 483.4 L180.2 483.4 L180.5 483.4 L180.8 483.4 L181.1 483.4 L181.4 483.4 L181.7 483.4 L182 483.15 L182.3 483.4 L182.6 483.19 L182.9 483.4 L183.2 483.4 L183.5 483.4 L183.8 483.4 L184.1 483.4 L184.4 483.36 L184.7 483.4 L185 483.4 L185.3 483.02 L185.6 483.4 L185.9 483.4 L186.2 483.4 L186.5 483.4 L186.8 483.4 L187.1 483.4 L187.4 483.4 L187.7 483.4 L188 483.4 L188.3 483.4 L188.6 483.4 L188.9 483.4 L189.2 483.27 L189.5 483.12 L189.8 483.4 L190.1 483.06 L190.4 483.4 L190.7 483.4 L191 483.4 L191.3 483.04 L191.6 482.91 L191.9 483.4 L192.2 483.4 L192.5 483.4 L192.8 483.4 L193.1 483.4 L193.4 483.01 L193.5 483.4 Z" fill="#4d5aa6"/>
<path d="M66.5 496.5 L66.5 496.5 L66.8 496.5 L67.1 496.46 L67.4 496.5 L67.7 496.5 L68 496.5 L68.3 496.5 L68.6 496.5 L68.9 496.5 L69.2 496.5 L69.5 496.28 L69.8 496.5 L70.1 496.5 L70.4 496.5 L70.7 496.5 L71 496.5 L71.3 496.5 L71.6 496.5 L71.9 496.49 L72.2 496.5 L72.5 496.5 L72.8 496.5 L73.1 496.5 L73.4 496.5 L73.7 496.5 L74 496.49 L74.3 496.5 L74.6 496.24 L74.9 496.5 L75.2 496.5 L75.5 496.05 L75.8 496.5 L76.1 496.5 L76.4 496.5 L76.7 496.5 L77 496.5 L77.3 496.5 L77.6 496.5 L77.9 496.5 L78.2 496.12 L78.5 496.5 L78.8 496.5 L79.1 496.5 L79.4 496.5 L79.7 496.5 L80 496.5 L80.3 496.5 L80.6 496.5 L80.9 496.5 L81.2 496.17 L81.5 495.17 L81.8 494.17 L82.1 493.83 L82.4 494.83 L82.7 495.83 L83 496.5 L83.3 496.5 L83.6 496.5 L83.9 496.5 L84.2 496.5 L84.5 496.5 L84.8 496.34 L85.1 496.5 L85.4 496.05 L85.7 496.5 L86 496.5 L86.3 496.5 L86.6 496.5 L86.9 496.5 L87.2 496.5 L87.5 496.5 L87.8 496.22 L88.1 495.39 L88.4 494.56 L88.7 494.28 L89 495.11 L89.3 495.94 L89.6 496.5 L89.9 496.5 L90.2 496.5 L90.5 496.24 L90.8 496.5 L91.1 496.5 L91.4 496.09 L91.7 496.5 L92 496.5 L92.3 496.13 L92.6 496.17 L92.9 496.22 L93.2 495.39 L93.5 494.56 L93.8 494.28 L94.1 495.11 L94.4 495.94 L94.7 496.5 L95 496.06 L95.3 496.24 L95.6 496.5 L95.9 496.39 L96.2 496.5 L96.5 496.5 L96.8 496.5 L97.1 496.32 L97.4 496.16 L97.7 496.02 L98 496.14 L98.3 496.37 L98.6 496.5 L98.9 496.41 L99.2 496.5 L99.5 496.5 L99.8 496 L100.1 496.48 L100.4 496.5 L100.7 496.5 L101 496.5 L101.3 496.33 L101.6 496.28 L101.9 496.5 L102.2 496.5 L102.5 496.33 L102.8 495.83 L103.1 495.33 L103.4 495.17 L103.7 495.67 L104 496.17 L104.3 496.5 L104.6 496.5 L104.9 496.5 L105.2 496.5 L105.5 496.5 L105.8 496.17 L106.1 496.5 L106.4 496.28 L106.7 496.5 L107 496.21 L107.3 496.5 L107.6 496.5 L107.9 496.02 L108.2 496.28 L108.5 495.61 L108.8 494.94 L109.1 494.72 L109.4 495.39 L109.7 496.06 L110 496.5 L110.3 496.5 L110.6 496.5 L110.9 496.22 L111.2 496.47 L111.5 496.42 L111.8 496.18 L112.1 495.83 L112.4 495.17 L112.7 494.5 L113 495.17 L113.3 495.83 L113.6 496.5 L113.9 496.5 L114.2 496.5 L114.5 496.17 L114.8 495.67 L115.1 495.17 L115.4 495.33 L115.7 495.83 L116 496.33 L116.3 496.5 L116.6 496.28 L116.9 496.5 L117.2 496.5 L117.5 496.5 L117.8 496.5 L118.1 496.5 L118.4 496.5 L118.7 496.5 L119 496.5 L119.3 496.48 L119.6 496.5 L119.9 496.14 L120.2 496.45 L120.5 496.38 L120.8 496.24 L121.1 496.5 L121.4 496.5 L121.7 495.5 L122 494.5 L122.3 493.5 L122.6 494.5 L122.9 495.5 L123.2 496.5 L123.5 496.05 L123.8 496.5 L124.1 496.5 L124.4 496.5 L124.7 496.5 L125 496.33 L125.3 495.83 L125.6 495.33 L125.9 495.17 L126.2 495.67 L126.5 496.17 L126.8 496.5 L127.1 496.29 L127.4 496.5 L127.7 496.45 L128 496.5 L128.3 496.5 L128.6 496.5 L128.9 496.5 L129.2 496.5 L129.5 496.5 L129.8 496.5 L130.1 496.5 L130.4 496.16 L130.7 496.35 L131 496.5 L131.3 496.5 L131.6 496.27 L131.9 496.5 L132.2 496.5 L132.5 496.21 L132.8 496.36 L133.1 496.5 L133.4 496.5 L133.7 496.12 L134 495.5 L134.3 494.5 L134.6 493.5 L134.9 494.5 L135.2 495.5 L135.5 496.21 L135.8 496.5 L136.1 496.5 L136.4 496.5 L136.7 496.5 L137 496.44 L137.3 496.07 L137.6 496.5 L137.9 496.5 L138.2 496.5 L138.5 496.17 L138.8 496.5 L139.1 496.5 L139.4 496.5 L139.7 496.5 L140 496.5 L140.3 496.17 L140.6 495.17 L140.9 494.17 L141.2 493.83 L141.5 494.83 L141.8 495.83 L142.1 496.5 L142.4 496.5 L142.7 496.5 L143 496.5 L143.3 496.5 L143.6 496.5 L143.9 496.5 L144.2 496.5 L144.5 496.5 L144.8 496.26 L145.1 496.5 L145.4 496.5 L145.7 496.5 L146 496.5 L146.3 496.5 L146.6 496.5 L146.9 496.32 L147.2 496.5 L147.5 496.28 L147.8 495.61 L148.1 494.94 L148.4 494.72 L148.7 495.39 L149 496.06 L149.3 495.83 L149.6 495.17 L149.9 494.5 L150.2 495.17 L150.5 495.83 L150.8 496.29 L151.1 496.46 L151.4 496.5 L151.7 496.5 L152 496.5 L152.3 496.35 L152.6 496.16 L152.9 496.5 L153.2 496.5 L153.5 496.5 L153.8 496.23 L154.1 496.5 L154.4 496.5 L154.7 496.24 L155 496.5 L155.3 495.83 L155.6 494.83 L155.9 493.83 L156.2 494.17 L156.5 495.17 L156.8 496.17 L157.1 496.5 L157.4 496.5 L157.7 496.5 L158 496.5 L158.3 496.5 L158.6 496.5 L158.9 496.5 L159.2 496.5 L159.5 496.28 L159.8 496.2 L160.1 496.5 L160.4 496.24 L160.7 496.5 L161 496.5 L161.3 496.5 L161.6 496.5 L161.9 496.5 L162.2 496.5 L162.5 496.5 L162.8 496.5 L163.1 496.5 L163.4 496.5 L163.7 496.5 L164 496.5 L164.3 496.19 L164.6 496.5 L164.9 495.78 L165.2 493.61 L165.5 491.44 L165.8 490.72 L166.1 492.89 L166.4 495.06 L166.7 496.5 L167 496.5 L167.3 496.5 L167.6 496.27 L167.9 496.5 L168.2 496.5 L168.5 496.5 L168.8 496.5 L169.1 493.33 L169.4 490.17 L169.7 487 L170 490.17 L170.3 493.33 L170.6 496.03 L170.9 494.67 L171.2 492.83 L171.5 491 L171.8 492.83 L172.1 494.28 L172.4 492.94 L172.7 493.39 L173 494.72 L173.3 496.06 L173.6 496.5 L173.9 496.5 L174.2 496.5 L174.5 496.5 L174.8 496.09 L175.1 496.5 L175.4 496.13 L175.7 496.5 L176 496.1 L176.3 496.19 L176.6 496.5 L176.9 496.5 L177.2 496.5 L177.5 496.5 L177.8 496.02 L178.1 496.5 L178.4 496.5 L178.7 496.5 L179 496.5 L179.3 496.5 L179.6 496.5 L179.9 496.5 L180.2 496.5 L180.5 496.5 L180.8 496.5 L181.1 496.46 L181.4 496.5 L181.7 496.12 L182 496.5 L182.3 496.5 L182.6 496.5 L182.9 496.5 L183.2 496.5 L183.5 496.42 L183.8 496.5 L184.1 496.5 L184.4 496.5 L184.7 496.22 L185 496.5 L185.3 496.5 L185.6 496.5 L185.9 496.5 L186.2 496.5 L186.5 496.5 L186.8 496.5 L187.1 496.5 L187.4 496.5 L187.7 496.5 L188 496.5 L188.3 496.09 L188.6 496.5 L188.9 496.5 L189.2 496.5 L189.5 496.5 L189.8 496.5 L190.1 496.5 L190.4 496.18 L190.7 496.5 L191 496.5 L191.3 496.5 L191.6 496.5 L191.9 496.5 L192.2 496.5 L192.5 496.27 L192.8 496.36 L193.1 496.5 L193.4 496.09 L193.5 496.5 Z" fill="#e2503e"/>
<path d="M96.4 510.4 L96.4 505.8 L96.8 505.8 L96.8 505.9 L97.2 505.9 L97.2 505.7 L97.3 505.7 L97.3 510.4 ZM97.4 510.4 L97.4 505.8 L97.8 505.8 L97.8 505.8 L98.2 505.8 L98.2 505.0 L98.6 505.0 L98.6 505.6 L99.0 505.6 L99.0 510.4 ZM99.0 510.4 L99.0 505.6 L99.4 505.6 L99.4 505.1 L99.8 505.1 L99.8 504.8 L100.2 504.8 L100.2 505.2 L100.4 505.2 L100.4 510.4 ZM100.4 510.4 L100.4 504.7 L100.8 504.7 L100.8 504.9 L101.1 504.9 L101.1 510.4 ZM101.6 510.4 L101.6 504.4 L102.0 504.4 L102.0 504.2 L102.4 504.2 L102.4 504.4 L102.8 504.4 L102.8 510.4 ZM102.8 510.4 L102.8 504.6 L103.0 504.6 L103.0 510.4 ZM103.0 510.4 L103.0 504.9 L103.4 504.9 L103.4 504.8 L103.7 504.8 L103.7 510.4 ZM103.7 510.4 L103.7 504.4 L104.1 504.4 L104.1 504.1 L104.5 504.1 L104.5 504.3 L104.9 504.3 L104.9 504.3 L105.1 504.3 L105.1 510.4 ZM105.1 510.4 L105.1 503.5 L105.5 503.5 L105.5 503.2 L105.9 503.2 L105.9 503.3 L106.0 503.3 L106.0 510.4 ZM106.0 510.4 L106.0 502.3 L106.4 502.3 L106.4 502.2 L106.8 502.2 L106.8 510.4 ZM108.3 510.4 L108.3 501.9 L108.7 501.9 L108.7 500.5 L109.1 500.5 L109.1 501.3 L109.5 501.3 L109.5 501.8 L109.9 501.8 L109.9 501.5 L110.0 501.5 L110.0 510.4 ZM110.2 510.4 L110.2 503.2 L110.6 503.2 L110.6 504.1 L110.9 504.1 L110.9 510.4 ZM113.5 510.4 L113.5 505.5 L113.9 505.5 L113.9 505.6 L114.3 505.6 L114.3 504.6 L114.7 504.6 L114.7 505.3 L114.8 505.3 L114.8 510.4 ZM116.0 510.4 L116.0 506.9 L116.4 506.9 L116.4 506.4 L116.8 506.4 L116.8 506.7 L116.9 506.7 L116.9 510.4 ZM117.2 510.4 L117.2 507.0 L117.6 507.0 L117.6 506.6 L118.0 506.6 L118.0 506.5 L118.4 506.5 L118.4 507.0 L118.5 507.0 L118.5 510.4 ZM122.2 510.4 L122.2 506.4 L122.6 506.4 L122.6 506.0 L123.0 506.0 L123.0 506.7 L123.1 506.7 L123.1 510.4 ZM124.6 510.4 L124.6 506.2 L125.0 506.2 L125.0 506.2 L125.3 506.2 L125.3 510.4 ZM125.8 510.4 L125.8 506.1 L126.2 506.1 L126.2 505.8 L126.6 505.8 L126.6 510.4 ZM127.0 510.4 L127.0 505.9 L127.4 505.9 L127.4 505.8 L127.8 505.8 L127.8 505.3 L128.2 505.3 L128.2 505.4 L128.6 505.4 L128.6 510.4 ZM133.8 510.4 L133.8 506.7 L134.2 506.7 L134.2 506.9 L134.5 506.9 L134.5 510.4 ZM138.3 510.4 L138.3 507.6 L138.7 507.6 L138.7 507.7 L139.1 507.7 L139.1 507.3 L139.5 507.3 L139.5 507.5 L139.6 507.5 L139.6 510.4 ZM139.9 510.4 L139.9 507.4 L140.3 507.4 L140.3 507.8 L140.7 507.8 L140.7 507.4 L141.1 507.4 L141.1 507.3 L141.1 507.3 L141.1 510.4 ZM146.8 510.4 L146.8 508.6 L147.2 508.6 L147.2 508.6 L147.3 508.6 L147.3 510.4 ZM150.0 510.4 L150.0 507.8 L150.4 507.8 L150.4 507.8 L150.7 507.8 L150.7 510.4 ZM150.7 510.4 L150.7 507.8 L151.1 507.8 L151.1 507.5 L151.5 507.5 L151.5 507.6 L151.9 507.6 L151.9 507.6 L152.0 507.6 L152.0 510.4 ZM170.4 510.4 L170.4 508.1 L170.8 508.1 L170.8 508.0 L171.1 508.0 L171.1 510.4 ZM171.4 510.4 L171.4 508.1 L171.8 508.1 L171.8 508.1 L172.2 508.1 L172.2 508.3 L172.4 508.3 L172.4 510.4 ZM172.4 510.4 L172.4 508.4 L172.8 508.4 L172.8 508.3 L173.2 508.3 L173.2 508.2 L173.5 508.2 L173.5 510.4 ZM174.7 510.4 L174.7 508.3 L175.1 508.3 L175.1 508.3 L175.5 508.3 L175.5 508.6 L175.8 508.6 L175.8 510.4 ZM175.8 510.4 L175.8 508.6 L176.2 508.6 L176.2 508.7 L176.3 508.7 L176.3 510.4 Z" fill="#4f76a8"/>
<path d="M106.8 510.4 L106.8 502.7 L107.2 502.7 L107.2 501.6 L107.6 501.6 L107.6 502.0 L108.0 502.0 L108.0 502.6 L108.3 502.6 L108.3 510.4 ZM111.4 510.4 L111.4 504.2 L111.8 504.2 L111.8 503.5 L112.2 503.5 L112.2 504.4 L112.6 504.4 L112.6 504.8 L113.0 504.8 L113.0 504.0 L113.2 504.0 L113.2 510.4 ZM114.8 510.4 L114.8 505.6 L115.2 505.6 L115.2 505.6 L115.6 505.6 L115.6 505.5 L115.9 505.5 L115.9 510.4 ZM115.9 510.4 L115.9 505.4 L116.0 505.4 L116.0 510.4 ZM119.0 510.4 L119.0 506.3 L119.4 506.3 L119.4 506.3 L119.8 506.3 L119.8 506.9 L120.0 506.9 L120.0 510.4 ZM120.0 510.4 L120.0 506.6 L120.4 506.6 L120.4 506.4 L120.8 506.4 L120.8 506.3 L121.2 506.3 L121.2 506.6 L121.6 506.6 L121.6 506.5 L121.8 506.5 L121.8 510.4 ZM123.1 510.4 L123.1 506.4 L123.5 506.4 L123.5 505.9 L123.9 505.9 L123.9 506.4 L124.1 506.4 L124.1 510.4 ZM126.9 510.4 L126.9 505.9 L127.0 505.9 L127.0 510.4 ZM128.8 510.4 L128.8 505.6 L129.2 505.6 L129.2 506.1 L129.6 506.1 L129.6 506.0 L129.8 506.0 L129.8 510.4 ZM130.1 510.4 L130.1 506.5 L130.5 506.5 L130.5 506.6 L130.9 506.6 L130.9 505.7 L131.3 505.7 L131.3 505.8 L131.7 505.8 L131.7 505.7 L131.8 505.7 L131.8 510.4 ZM131.8 510.4 L131.8 506.7 L132.2 506.7 L132.2 506.3 L132.6 506.3 L132.6 506.2 L133.0 506.2 L133.0 506.3 L133.4 506.3 L133.4 506.5 L133.5 506.5 L133.5 510.4 ZM135.5 510.4 L135.5 507.0 L135.9 507.0 L135.9 507.0 L136.3 507.0 L136.3 507.0 L136.7 507.0 L136.7 507.2 L136.9 507.2 L136.9 510.4 ZM136.9 510.4 L136.9 507.5 L137.3 507.5 L137.3 507.3 L137.7 507.3 L137.7 510.4 ZM141.1 510.4 L141.1 507.6 L141.5 507.6 L141.5 507.4 L141.7 507.4 L141.7 510.4 ZM158.0 510.4 L158.0 509.1 L158.4 509.1 L158.4 510.4 ZM173.5 510.4 L173.5 508.5 L173.9 508.5 L173.9 508.4 L174.3 508.4 L174.3 508.3 L174.7 508.3 L174.7 510.4 Z" fill="#a3b6d6"/>
<path d="M96.4 524.2 L96.4 522.3 L96.8 522.3 L96.8 522.2 L97.2 522.2 L97.2 522.3 L97.3 522.3 L97.3 524.2 ZM97.3 524.2 L97.3 521.9 L97.7 521.9 L97.7 521.9 L98.1 521.9 L98.1 522.2 L98.5 522.2 L98.5 522.0 L98.9 522.0 L98.9 522.1 L99.0 522.1 L99.0 524.2 ZM99.0 524.2 L99.0 521.7 L99.4 521.7 L99.4 521.7 L99.8 521.7 L99.8 521.7 L99.8 521.7 L99.8 524.2 ZM99.8 524.2 L99.8 521.7 L100.2 521.7 L100.2 521.7 L100.6 521.7 L100.6 521.6 L100.8 521.6 L100.8 524.2 ZM101.2 524.2 L101.2 521.7 L101.6 521.7 L101.6 521.8 L102.0 521.8 L102.0 521.7 L102.4 521.7 L102.4 521.9 L102.6 521.9 L102.6 524.2 ZM102.6 524.2 L102.6 521.7 L103.0 521.7 L103.0 524.2 ZM103.0 524.2 L103.0 521.2 L103.4 521.2 L103.4 521.5 L103.8 521.5 L103.8 521.5 L104.2 521.5 L104.2 521.4 L104.6 521.4 L104.6 521.5 L104.7 521.5 L104.7 524.2 ZM104.7 524.2 L104.7 521.6 L105.1 521.6 L105.1 521.6 L105.5 521.6 L105.5 521.2 L105.9 521.2 L105.9 521.4 L106.0 521.4 L106.0 524.2 ZM106.0 524.2 L106.0 520.4 L106.4 520.4 L106.4 521.0 L106.8 521.0 L106.8 520.9 L107.0 520.9 L107.0 524.2 ZM107.0 524.2 L107.0 520.6 L107.4 520.6 L107.4 520.3 L107.8 520.3 L107.8 520.7 L107.9 520.7 L107.9 524.2 ZM107.9 524.2 L107.9 520.6 L108.3 520.6 L108.3 520.5 L108.7 520.5 L108.7 524.2 ZM109.5 524.2 L109.5 519.4 L109.9 519.4 L109.9 519.6 L110.0 519.6 L110.0 524.2 ZM120.6 524.2 L120.6 522.6 L121.0 522.6 L121.0 522.2 L121.4 522.2 L121.4 524.2 ZM121.4 524.2 L121.4 522.2 L121.8 522.2 L121.8 522.3 L122.2 522.3 L122.2 522.2 L122.5 522.2 L122.5 524.2 ZM123.5 524.2 L123.5 522.2 L123.9 522.2 L123.9 522.1 L124.3 522.1 L124.3 522.3 L124.7 522.3 L124.7 522.2 L125.1 522.2 L125.1 524.2 ZM128.2 524.2 L128.2 522.0 L128.6 522.0 L128.6 521.9 L129.0 521.9 L129.0 522.3 L129.4 522.3 L129.4 522.4 L129.5 522.4 L129.5 524.2 ZM130.0 524.2 L130.0 522.1 L130.4 522.1 L130.4 522.1 L130.8 522.1 L130.8 524.2 ZM131.3 524.2 L131.3 522.3 L131.7 522.3 L131.7 522.4 L132.1 522.4 L132.1 522.2 L132.1 522.2 L132.1 524.2 ZM137.5 524.2 L137.5 522.9 L137.9 522.9 L137.9 522.9 L138.3 522.9 L138.3 522.8 L138.7 522.8 L138.7 522.8 L139.1 522.8 L139.1 523.0 L139.1 523.0 L139.1 524.2 ZM141.4 524.2 L141.4 523.0 L141.8 523.0 L141.8 522.9 L142.0 522.9 L142.0 524.2 ZM146.8 524.2 L146.8 523.4 L147.2 523.4 L147.2 523.4 L147.3 523.4 L147.3 524.2 ZM150.0 524.2 L150.0 522.8 L150.4 522.8 L150.4 522.9 L150.8 522.9 L150.8 522.8 L150.9 522.8 L150.9 524.2 ZM150.9 524.2 L150.9 522.9 L151.3 522.9 L151.3 523.0 L151.7 523.0 L151.7 522.8 L152.0 522.8 L152.0 524.2 ZM170.4 524.2 L170.4 523.3 L170.8 523.3 L170.8 523.1 L171.2 523.1 L171.2 523.2 L171.5 523.2 L171.5 524.2 ZM171.7 524.2 L171.7 523.1 L172.1 523.1 L172.1 523.3 L172.5 523.3 L172.5 524.2 ZM172.5 524.2 L172.5 523.3 L172.9 523.3 L172.9 523.2 L173.3 523.2 L173.3 523.3 L173.7 523.3 L173.7 523.3 L173.8 523.3 L173.8 524.2 ZM174.2 524.2 L174.2 523.4 L174.6 523.4 L174.6 523.4 L175.0 523.4 L175.0 523.4 L175.2 523.4 L175.2 524.2 ZM175.2 524.2 L175.2 523.3 L175.6 523.3 L175.6 523.3 L176.0 523.3 L176.0 523.4 L176.3 523.4 L176.3 524.2 Z" fill="#ea7a2c"/>
<path d="M108.7 524.2 L108.7 520.2 L109.1 520.2 L109.1 520.3 L109.5 520.3 L109.5 520.1 L109.5 520.1 L109.5 524.2 ZM110.2 524.2 L110.2 521.0 L110.6 521.0 L110.6 521.2 L111.0 521.2 L111.0 520.8 L111.4 520.8 L111.4 521.1 L111.8 521.1 L111.8 520.9 L112.0 520.9 L112.0 524.2 ZM112.3 524.2 L112.3 521.6 L112.7 521.6 L112.7 521.2 L113.1 521.2 L113.1 524.2 ZM113.2 524.2 L113.2 521.5 L113.6 521.5 L113.6 521.8 L114.0 521.8 L114.0 524.2 ZM114.6 524.2 L114.6 522.1 L115.0 522.1 L115.0 522.2 L115.4 522.2 L115.4 522.2 L115.7 522.2 L115.7 524.2 ZM115.7 524.2 L115.7 522.4 L116.0 522.4 L116.0 524.2 ZM116.0 524.2 L116.0 522.6 L116.4 522.6 L116.4 522.5 L116.7 522.5 L116.7 524.2 ZM116.7 524.2 L116.7 522.6 L117.1 522.6 L117.1 522.6 L117.5 522.6 L117.5 522.7 L117.9 522.7 L117.9 524.2 ZM118.5 524.2 L118.5 522.5 L118.9 522.5 L118.9 522.6 L119.3 522.6 L119.3 522.6 L119.7 522.6 L119.7 522.6 L120.1 522.6 L120.1 524.2 ZM122.7 524.2 L122.7 522.2 L123.1 522.2 L123.1 522.2 L123.5 522.2 L123.5 522.1 L123.5 522.1 L123.5 524.2 ZM125.6 524.2 L125.6 522.4 L126.0 522.4 L126.0 522.0 L126.4 522.0 L126.4 522.0 L126.8 522.0 L126.8 522.1 L127.0 522.1 L127.0 524.2 ZM127.0 524.2 L127.0 521.8 L127.4 521.8 L127.4 521.9 L127.8 521.9 L127.8 524.2 ZM132.5 524.2 L132.5 522.6 L132.9 522.6 L132.9 522.4 L133.2 522.4 L133.2 524.2 ZM133.2 524.2 L133.2 522.7 L133.6 522.7 L133.6 522.6 L134.0 522.6 L134.0 522.4 L134.4 522.4 L134.4 522.5 L134.5 522.5 L134.5 524.2 ZM134.5 524.2 L134.5 524.2 ZM135.5 524.2 L135.5 522.9 L135.9 522.9 L135.9 522.9 L136.3 522.9 L136.3 522.8 L136.7 522.8 L136.7 522.7 L137.0 522.7 L137.0 524.2 ZM139.4 524.2 L139.4 523.0 L139.8 523.0 L139.8 522.8 L140.2 522.8 L140.2 523.0 L140.6 523.0 L140.6 522.8 L141.0 522.8 L141.0 524.2 ZM158.0 524.2 L158.0 523.5 L158.4 523.5 L158.4 524.2 Z" fill="#f5b588"/>
<text x="28.3" y="480.2" font-size="5.2" font-weight="bold" text-anchor="middle" fill="#111">HMGB2</text>
<text x="28.1" y="487.5" font-size="5.3" font-weight="bold" text-anchor="middle" fill="#111">CUT&amp;Tag</text>
<line x1="40.2" y1="471.2" x2="40.2" y2="493.5" stroke="#333" stroke-width="0.6"/>
<text x="28.1" y="510.8" font-size="5.3" font-weight="bold" text-anchor="middle" fill="#111">RNA-seq</text>
<line x1="40.2" y1="498.4" x2="40.2" y2="521.3" stroke="#333" stroke-width="0.6"/>
<text x="65.4" y="479" font-size="5.4" font-weight="bold" text-anchor="end" fill="#111">–HGF</text>
<text x="65.4" y="492.2" font-size="5.4" font-weight="bold" text-anchor="end" fill="#111">+HGF</text>
<text x="65.4" y="507.1" font-size="5.4" font-weight="bold" text-anchor="end" fill="#111">SCR</text>
<text x="65.4" y="520" font-size="5.4" font-weight="bold" text-anchor="end" fill="#111">siHmgb2</text>
<line x1="95.8" y1="535.6" x2="176.5" y2="535.6" stroke="#444" stroke-width="0.45" stroke-dasharray="0.9 1.3"/>
<rect x="95.8" y="534.2" width="14.3" height="2.8" fill="#2a1f4e"/>
<rect x="110.7" y="534.4" width="4.5" height="2.4" fill="#2a1f4e"/>
<rect x="116.5" y="534.5" width="1.5" height="2.2" fill="#2a1f4e"/>
<rect x="119.3" y="534.4" width="2" height="2.4" fill="#2a1f4e"/>
<rect x="122.3" y="534.4" width="3.1" height="2.4" fill="#2a1f4e"/>
<rect x="126.4" y="534.4" width="4.1" height="2.4" fill="#2a1f4e"/>
<rect x="131.5" y="534.4" width="3.1" height="2.4" fill="#2a1f4e"/>
<rect x="137.3" y="534.4" width="2" height="2.4" fill="#2a1f4e"/>
<rect x="141.3" y="534.5" width="0.7" height="2.2" fill="#2a1f4e"/>
<rect x="146.9" y="534.4" width="1.4" height="2.4" fill="#2a1f4e"/>
<rect x="150.3" y="534.4" width="1.7" height="2.4" fill="#2a1f4e"/>
<rect x="158" y="534.8" width="0.6" height="1.6" fill="#2a1f4e"/>
<rect x="170.4" y="534.2" width="6.1" height="2.8" fill="#2a1f4e"/>
<line x1="167.3" y1="531.1" x2="176.5" y2="531.1" stroke="#333" stroke-width="0.7"/>
<path d="M169.1 529.8 L167.3 531.1 L169.1 532.4" fill="none" stroke="#333" stroke-width="0.6"/>
<text x="179.6" y="536.8" font-size="3.4" font-weight="bold" font-style="italic" fill="#333">Jag1</text>
<rect x="66.1" y="540.8" width="127.8" height="55.5" fill="#e9e9e9"/>
<line x1="66.1" y1="556" x2="193.9" y2="556" stroke="#9a9a9a" stroke-width="0.5"/>
<text x="66.7" y="543.3" font-size="2.3" fill="#444">20</text>
<line x1="66.1" y1="569.3" x2="193.9" y2="569.3" stroke="#9a9a9a" stroke-width="0.5"/>
<text x="66.7" y="558.5" font-size="2.3" fill="#444">20</text>
<line x1="66.1" y1="582.4" x2="193.9" y2="582.4" stroke="#9a9a9a" stroke-width="0.5"/>
<text x="66.7" y="571.8" font-size="2.3" fill="#444">2000</text>
<line x1="66.1" y1="596.3" x2="193.9" y2="596.3" stroke="#9a9a9a" stroke-width="0.5"/>
<text x="66.7" y="584.9" font-size="2.3" fill="#444">2000</text>
<path d="M66.3 556 L66.3 556 L66.6 556 L66.9 556 L67.2 556 L67.5 556 L67.8 556 L68.1 555.69 L68.4 556 L68.7 556 L69 555.82 L69.3 555.51 L69.6 556 L69.9 555.41 L70.2 556 L70.5 556 L70.8 556 L71.1 555.99 L71.4 556 L71.7 555.89 L72 555.98 L72.3 555.77 L72.6 555.43 L72.9 555.08 L73.2 555.2 L73.5 555.54 L73.8 555.89 L74.1 556 L74.4 555.41 L74.7 554.82 L75 554.23 L75.3 554.82 L75.6 555.41 L75.9 556 L76.2 556 L76.5 556 L76.8 556 L77.1 556 L77.4 555.44 L77.7 554.87 L78 554.31 L78.3 554.87 L78.6 555.44 L78.9 556 L79.2 556 L79.5 555.4 L79.8 556 L80.1 556 L80.4 555.51 L80.7 555.02 L81 554.53 L81.3 555.02 L81.6 555.51 L81.9 556 L82.2 555.86 L82.5 555.96 L82.8 556 L83.1 556 L83.4 555.63 L83.7 555.27 L84 554.9 L84.3 555.27 L84.6 555.63 L84.9 556 L85.2 555.79 L85.5 555.15 L85.8 554.51 L86.1 554.3 L86.4 554.94 L86.7 555.58 L87 556 L87.3 556 L87.6 556 L87.9 555.16 L88.2 553.89 L88.5 552.62 L88.8 553.04 L89.1 554.31 L89.4 555.58 L89.7 555.69 L90 554.76 L90.3 553.82 L90.6 553.51 L90.9 554.44 L91.2 555.38 L91.5 555.33 L91.8 554.33 L92.1 553.33 L92.4 553.67 L92.7 554.67 L93 555.67 L93.3 555.87 L93.6 555.07 L93.9 553.67 L94.2 552.27 L94.5 552.73 L94.8 554.13 L95.1 555.53 L95.4 555.6 L95.7 554.4 L96 553.2 L96.3 552.8 L96.6 554 L96.9 555.2 L97.2 555.13 L97.5 554.27 L97.8 553.4 L98.1 554.27 L98.4 555.13 L98.7 556 L99 556 L99.3 555.57 L99.6 554.93 L99.9 554.28 L100.2 554.5 L100.5 555.14 L100.8 555.79 L101.1 556 L101.4 556 L101.7 555.62 L102 556 L102.3 555.95 L102.6 555.42 L102.9 556 L103.2 555.83 L103.5 555.33 L103.8 554.82 L104.1 554.65 L104.4 555.16 L104.7 555.66 L105 555.85 L105.3 555.96 L105.6 556 L105.9 555.66 L106.2 556 L106.5 555.56 L106.8 555.61 L107.1 555.75 L107.4 555.5 L107.7 555 L108 554.49 L108.3 555 L108.6 555.5 L108.9 555.84 L109.2 556 L109.5 556 L109.8 555.47 L110.1 555.76 L110.4 555.62 L110.7 555.25 L111 554.87 L111.3 555.25 L111.6 555.62 L111.9 556 L112.2 556 L112.5 555.41 L112.8 555.85 L113.1 556 L113.4 555.73 L113.7 555.46 L114 555.2 L114.3 555.46 L114.6 555.73 L114.9 555.82 L115.2 555.95 L115.5 556 L115.8 555.64 L116.1 556 L116.4 556 L116.7 556 L117 556 L117.3 555.71 L117.6 555.27 L117.9 554.83 L118.2 554.97 L118.5 555.41 L118.8 555.85 L119.1 556 L119.4 556 L119.7 555.91 L120 556 L120.3 555.64 L120.6 555.1 L120.9 554.56 L121.2 554.74 L121.5 555.28 L121.8 555.82 L122.1 556 L122.4 555.89 L122.7 556 L123 556 L123.3 555.8 L123.6 555.5 L123.9 555.2 L124.2 555.3 L124.5 555.6 L124.8 555.43 L125.1 556 L125.4 556 L125.7 556 L126 555.98 L126.3 555.58 L126.6 554.94 L126.9 554.3 L127.2 554.51 L127.5 555.15 L127.8 555.79 L128.1 556 L128.4 555.58 L128.7 555.51 L129 556 L129.3 555.89 L129.6 556 L129.9 555.86 L130.2 555.87 L130.5 555.5 L130.8 555.12 L131.1 555 L131.4 555.37 L131.7 555.75 L132 556 L132.3 556 L132.6 556 L132.9 555.45 L133.2 555.87 L133.5 555.5 L133.8 555.12 L134.1 555 L134.4 555.37 L134.7 555.75 L135 555.99 L135.3 555.73 L135.6 555.89 L135.9 556 L136.2 556 L136.5 555.78 L136.8 556 L137.1 556 L137.4 555.71 L137.7 555.43 L138 555.14 L138.3 555.43 L138.6 555.71 L138.9 556 L139.2 556 L139.5 556 L139.8 555.98 L140.1 555.45 L140.4 555.27 L140.7 554.54 L141 553.8 L141.3 554.54 L141.6 555.27 L141.9 556 L142.2 556 L142.5 555.62 L142.8 556 L143.1 556 L143.4 555.39 L143.7 554.78 L144 554.17 L144.3 554.78 L144.6 555.39 L144.9 555.4 L145.2 555.67 L145.5 556 L145.8 556 L146.1 556 L146.4 556 L146.7 556 L147 556 L147.3 555.55 L147.6 554.87 L147.9 554.2 L148.2 554.42 L148.5 555.1 L148.8 555.77 L149.1 556 L149.4 556 L149.7 556 L150 556 L150.3 555.63 L150.6 555.08 L150.9 554.52 L151.2 554.71 L151.5 555.26 L151.8 555.82 L152.1 556 L152.4 556 L152.7 556 L153 556 L153.3 556 L153.6 556 L153.9 556 L154.2 555.91 L154.5 555.62 L154.8 555.34 L155.1 555.25 L155.4 555.53 L155.7 555.81 L156 555.62 L156.3 556 L156.6 556 L156.9 556 L157.2 555.86 L157.5 555.44 L157.8 555.02 L158.1 554.88 L158.4 555.3 L158.7 555.72 L159 556 L159.3 556 L159.6 556 L159.9 556 L160.2 555.83 L160.5 555.33 L160.8 554.84 L161.1 554.67 L161.4 555.17 L161.7 555.67 L162 556 L162.3 555.55 L162.6 555.64 L162.9 556 L163.2 555.89 L163.5 555.57 L163.8 555.25 L164.1 555.14 L164.4 555.47 L164.7 555.79 L165 555.58 L165.3 556 L165.6 556 L165.9 556 L166.2 555.76 L166.5 555.05 L166.8 554.34 L167.1 554.1 L167.4 554.82 L167.7 555.53 L168 555.99 L168.3 555.59 L168.6 555.9 L168.9 556 L169.2 555.85 L169.5 555.42 L169.8 554.98 L170.1 554.83 L170.4 555.27 L170.7 555.71 L171 556 L171.3 556 L171.6 556 L171.9 555.6 L172.2 555.89 L172.5 555.55 L172.8 555.21 L173.1 555.1 L173.4 555.44 L173.7 555.77 L174 555.74 L174.3 556 L174.6 556 L174.9 556 L175.2 555.78 L175.5 555.14 L175.8 554.49 L176.1 554.27 L176.4 554.92 L176.7 555.57 L177 556 L177.3 556 L177.6 555.92 L177.9 556 L178.2 556 L178.5 556 L178.8 556 L179.1 556 L179.4 555.9 L179.7 556 L180 554.83 L180.3 553.67 L180.6 552.5 L180.9 553.67 L181.2 554.83 L181.5 554.98 L181.8 553.44 L182.1 551.91 L182.4 552.42 L182.7 553.96 L183 555.49 L183.3 555.87 L183.6 556 L183.9 556 L184.2 556 L184.5 555.5 L184.8 556 L185.1 556 L185.4 555.98 L185.7 556 L186 555.57 L186.3 556 L186.6 555.53 L186.9 555.92 L187.2 556 L187.5 555.5 L187.8 555.92 L188.1 555.62 L188.4 556 L188.7 556 L189 556 L189.3 556 L189.6 556 L189.9 556 L190.2 555.71 L190.5 555.99 L190.8 556 L191.1 556 L191.4 555.84 L191.7 555.58 L192 556 L192.3 556 L192.6 556 L192.9 556 L193.2 556 L193.5 556 L193.7 556 Z" fill="#4d5aa6"/>
<path d="M66.3 569.3 L66.3 569.3 L66.6 569.3 L66.9 569.3 L67.2 569.29 L67.5 569.3 L67.8 568.81 L68.1 569.3 L68.4 569.3 L68.7 569.3 L69 569.3 L69.3 569.04 L69.6 568.76 L69.9 568.81 L70.2 568.89 L70.5 569.06 L70.8 569.3 L71.1 569.26 L71.4 569.3 L71.7 569.19 L72 568.88 L72.3 568.56 L72.6 568.46 L72.9 568.77 L73.2 569.09 L73.5 569.3 L73.8 568.71 L74.1 569.3 L74.4 569.05 L74.7 569.11 L75 569.3 L75.3 568.87 L75.6 568.24 L75.9 567.6 L76.2 567.81 L76.5 568.45 L76.8 569.09 L77.1 568.88 L77.4 569.2 L77.7 569.3 L78 569.3 L78.3 569 L78.6 568.55 L78.9 568.11 L79.2 568.25 L79.5 568.7 L79.8 569.15 L80.1 569.3 L80.4 569.3 L80.7 569.3 L81 569.3 L81.3 568.86 L81.6 569.3 L81.9 569.3 L82.2 569.14 L82.5 568.65 L82.8 568.16 L83.1 568 L83.4 568.49 L83.7 568.98 L84 569.3 L84.3 568.81 L84.6 568.08 L84.9 567.34 L85.2 567.59 L85.5 568.32 L85.8 569.06 L86.1 569.3 L86.4 569.3 L86.7 569.3 L87 569.3 L87.3 568.74 L87.6 567.91 L87.9 567.08 L88.2 567.36 L88.5 568.19 L88.8 569.02 L89.1 569.16 L89.4 568.13 L89.7 566.97 L90 565.8 L90.3 566.97 L90.6 568.13 L90.9 569.3 L91.2 568.91 L91.5 567.74 L91.8 566.58 L92.1 566.19 L92.4 567.36 L92.7 568.52 L93 568.37 L93.3 566.97 L93.6 565.57 L93.9 566.03 L94.2 567.43 L94.5 568.63 L94.8 567.63 L95.1 566.63 L95.4 566.97 L95.7 567.41 L96 564.58 L96.3 561.74 L96.6 562.69 L96.9 565.52 L97.2 566.63 L97.5 565.3 L97.8 566.63 L98.1 567.97 L98.4 568.63 L98.7 567.97 L99 567.3 L99.3 567.97 L99.6 568.63 L99.9 569.3 L100.2 569.17 L100.5 568.76 L100.8 568.36 L101.1 568.22 L101.4 568.63 L101.7 569.03 L102 569.3 L102.3 569.3 L102.6 568.81 L102.9 569.3 L103.2 569.15 L103.5 568.69 L103.8 568.23 L104.1 568.07 L104.4 568.53 L104.7 568.99 L105 569.3 L105.3 569.04 L105.6 569.3 L105.9 569.3 L106.2 569.19 L106.5 568.84 L106.8 568.5 L107.1 568.39 L107.4 568.73 L107.7 569.07 L108 568.97 L108.3 568.88 L108.6 569.13 L108.9 568.92 L109.2 569.02 L109.5 568.92 L109.8 568.64 L110.1 568.55 L110.4 568.83 L110.7 569.11 L111 569.13 L111.3 569.3 L111.6 569.3 L111.9 569.3 L112.2 569.1 L112.5 568.48 L112.8 567.87 L113.1 567.67 L113.4 568.28 L113.7 568.89 L114 569.3 L114.3 568.75 L114.6 569.3 L114.9 568.85 L115.2 569.18 L115.5 568.82 L115.8 568.46 L116.1 568.34 L116.4 568.7 L116.7 569.06 L117 569.3 L117.3 569.14 L117.6 569.3 L117.9 569.16 L118.2 569.28 L118.5 569.3 L118.8 569.3 L119.1 569.3 L119.4 568.72 L119.7 568.14 L120 567.56 L120.3 568.14 L120.6 568.72 L120.9 569.3 L121.2 569.11 L121.5 569.3 L121.8 569.3 L122.1 569.3 L122.4 568.98 L122.7 569.3 L123 569.3 L123.3 569.07 L123.6 568.72 L123.9 568.37 L124.2 568.48 L124.5 568.83 L124.8 569.18 L125.1 568.73 L125.4 569.3 L125.7 569.13 L126 569.3 L126.3 568.73 L126.6 569.3 L126.9 569.3 L127.2 569.08 L127.5 568.43 L127.8 567.77 L128.1 567.56 L128.4 568.21 L128.7 568.86 L129 569.3 L129.3 569.13 L129.6 568.89 L129.9 569.3 L130.2 569.09 L130.5 568.47 L130.8 567.84 L131.1 567.64 L131.4 568.26 L131.7 568.88 L132 568.77 L132.3 569.3 L132.6 569.04 L132.9 569.3 L133.2 569.11 L133.5 568.54 L133.8 567.97 L134.1 567.78 L134.4 568.35 L134.7 568.92 L135 569.3 L135.3 569.3 L135.6 569.3 L135.9 569.3 L136.2 569.3 L136.5 569.3 L136.8 569.3 L137.1 569.3 L137.4 568.73 L137.7 568.16 L138 567.58 L138.3 568.16 L138.6 568.73 L138.9 569.3 L139.2 569.3 L139.5 569.08 L139.8 569.3 L140.1 569.3 L140.4 568.87 L140.7 569.3 L141 569.3 L141.3 568.97 L141.6 568.47 L141.9 567.97 L142.2 568.14 L142.5 568.63 L142.8 569.13 L143.1 569.3 L143.4 569.3 L143.7 569.3 L144 569.3 L144.3 569.3 L144.6 569.09 L144.9 568.74 L145.2 569.11 L145.5 568.56 L145.8 568 L146.1 567.81 L146.4 568.37 L146.7 568.93 L147 569.3 L147.3 569.3 L147.6 569.3 L147.9 568.98 L148.2 569.3 L148.5 569.3 L148.8 569.06 L149.1 568.89 L149.4 568.98 L149.7 568.67 L150 568.35 L150.3 568.67 L150.6 568.98 L150.9 569.25 L151.2 568.88 L151.5 569.3 L151.8 569.3 L152.1 569.3 L152.4 569.3 L152.7 569.01 L153 569.3 L153.3 569 L153.6 568.54 L153.9 568.08 L154.2 568.23 L154.5 568.69 L154.8 569.15 L155.1 568.9 L155.4 569.16 L155.7 568.73 L156 569.08 L156.3 569.18 L156.6 569.3 L156.9 568.75 L157.2 569.1 L157.5 568.5 L157.8 567.91 L158.1 567.71 L158.4 568.3 L158.7 568.9 L159 569.3 L159.3 569.3 L159.6 569.02 L159.9 569.3 L160.2 569.3 L160.5 569.02 L160.8 569.3 L161.1 569.3 L161.4 568.95 L161.7 568.61 L162 568.26 L162.3 568.61 L162.6 568.95 L162.9 568.98 L163.2 569.3 L163.5 569.3 L163.8 569.3 L164.1 569.3 L164.4 569.3 L164.7 569.3 L165 569.3 L165.3 568.88 L165.6 568.24 L165.9 567.6 L166.2 567.82 L166.5 568.45 L166.8 569.09 L167.1 569.3 L167.4 569.3 L167.7 569 L168 569.3 L168.3 569.22 L168.6 568.97 L168.9 569.27 L169.2 569.09 L169.5 568.47 L169.8 567.85 L170.1 567.64 L170.4 568.26 L170.7 568.89 L171 569.3 L171.3 568.74 L171.6 569.3 L171.9 569.3 L172.2 569.3 L172.5 569.3 L172.8 569.22 L173.1 569.3 L173.4 568.87 L173.7 568.44 L174 568.01 L174.3 568.44 L174.6 568.87 L174.9 569.3 L175.2 569.3 L175.5 569.3 L175.8 569.3 L176.1 569.3 L176.4 569.06 L176.7 569.3 L177 569.3 L177.3 569.02 L177.6 568.61 L177.9 568.2 L178.2 568.34 L178.5 568.75 L178.8 569.16 L179.1 569.3 L179.4 569.3 L179.7 569.18 L180 568.72 L180.3 569.3 L180.6 568.8 L180.9 569.3 L181.2 569.3 L181.5 568.63 L181.8 567.63 L182.1 566.63 L182.4 566.97 L182.7 567.97 L183 568.97 L183.3 569.3 L183.6 569.3 L183.9 569.22 L184.2 569.3 L184.5 569.3 L184.8 568.77 L185.1 569.11 L185.4 569.2 L185.7 568.87 L186 569.19 L186.3 569.11 L186.6 569.3 L186.9 569.3 L187.2 568.89 L187.5 569.3 L187.8 569.3 L188.1 569.3 L188.4 569.3 L188.7 569.3 L189 569.3 L189.3 569.3 L189.6 569.3 L189.9 569.3 L190.2 569.3 L190.5 569.3 L190.8 569.3 L191.1 569.3 L191.4 568.75 L191.7 569.3 L192 569.3 L192.3 569.3 L192.6 569.3 L192.9 569.3 L193.2 569.3 L193.5 569.3 L193.7 569.3 Z" fill="#e2503e"/>
<path d="M95.9 582.4 L95.9 577.4 L96.3 577.4 L96.3 577.4 L96.7 577.4 L96.7 582.4 ZM127.1 582.4 L127.1 576.6 L127.5 576.6 L127.5 576.6 L127.9 576.6 L127.9 576.6 L128.1 576.6 L128.1 582.4 ZM129.2 582.4 L129.2 575.1 L129.6 575.1 L129.6 574.1 L130.0 574.1 L130.0 574.7 L130.4 574.7 L130.4 574.3 L130.8 574.3 L130.8 582.4 ZM131.1 582.4 L131.1 574.9 L131.5 574.9 L131.5 575.3 L131.9 575.3 L131.9 574.1 L132.2 574.1 L132.2 582.4 ZM132.2 582.4 L132.2 574.4 L132.6 574.4 L132.6 574.1 L133.0 574.1 L133.0 575.2 L133.4 575.2 L133.4 574.2 L133.6 574.2 L133.6 582.4 ZM133.9 582.4 L133.9 574.9 L134.0 574.9 L134.0 582.4 ZM138.9 582.4 L138.9 581.0 L139.3 581.0 L139.3 581.1 L139.6 581.1 L139.6 582.4 ZM145.1 582.4 L145.1 576.3 L145.5 576.3 L145.5 576.5 L145.8 576.5 L145.8 582.4 ZM150.1 582.4 L150.1 576.3 L150.5 576.3 L150.5 576.0 L150.7 576.0 L150.7 582.4 ZM150.7 582.4 L150.7 575.8 L151.1 575.8 L151.1 576.4 L151.5 576.4 L151.5 576.7 L151.8 576.7 L151.8 582.4 ZM151.8 582.4 L151.8 576.0 L152.2 576.0 L152.2 575.3 L152.6 575.3 L152.6 575.1 L153.0 575.1 L153.0 576.0 L153.3 576.0 L153.3 582.4 ZM154.9 582.4 L154.9 573.7 L155.3 573.7 L155.3 573.6 L155.7 573.6 L155.7 574.0 L155.7 574.0 L155.7 582.4 ZM155.7 582.4 L155.7 572.4 L156.1 572.4 L156.1 574.0 L156.4 574.0 L156.4 582.4 ZM156.4 582.4 L156.4 574.3 L156.8 574.3 L156.8 575.0 L157.2 575.0 L157.2 574.8 L157.4 574.8 L157.4 582.4 ZM157.4 582.4 L157.4 574.1 L157.8 574.1 L157.8 575.7 L158.2 575.7 L158.2 574.9 L158.6 574.9 L158.6 575.5 L159.0 575.5 L159.0 574.4 L159.0 574.4 L159.0 582.4 ZM159.0 582.4 L159.0 576.4 L159.4 576.4 L159.4 576.5 L159.8 576.5 L159.8 576.2 L160.2 576.2 L160.2 575.3 L160.3 575.3 L160.3 582.4 ZM160.3 582.4 L160.3 576.7 L160.7 576.7 L160.7 576.1 L161.1 576.1 L161.1 576.9 L161.3 576.9 L161.3 582.4 ZM161.3 582.4 L161.3 576.9 L161.6 576.9 L161.6 582.4 ZM166.0 582.4 L166.0 581.0 L166.4 581.0 L166.4 581.0 L166.7 581.0 L166.7 582.4 ZM166.7 582.4 L166.7 581.1 L167.1 581.1 L167.1 581.0 L167.5 581.0 L167.5 581.1 L167.9 581.1 L167.9 582.4 ZM167.9 582.4 L167.9 581.2 L168.3 581.2 L168.3 581.0 L168.6 581.0 L168.6 582.4 ZM169.1 582.4 L169.1 581.3 L169.5 581.3 L169.5 581.3 L169.9 581.3 L169.9 581.2 L170.2 581.2 L170.2 582.4 ZM170.2 582.4 L170.2 581.1 L170.6 581.1 L170.6 581.1 L171.0 581.1 L171.0 581.2 L171.1 581.2 L171.1 582.4 ZM171.1 582.4 L171.1 581.2 L171.5 581.2 L171.5 581.2 L171.9 581.2 L171.9 581.1 L172.3 581.1 L172.3 582.4 ZM172.6 582.4 L172.6 581.3 L173.0 581.3 L173.0 581.2 L173.4 581.2 L173.4 581.3 L173.8 581.3 L173.8 582.4 ZM174.0 582.4 L174.0 581.3 L174.4 581.3 L174.4 581.1 L174.8 581.1 L174.8 581.2 L175.2 581.2 L175.2 581.2 L175.3 581.2 L175.3 582.4 ZM175.8 582.4 L175.8 581.2 L176.0 581.2 L176.0 582.4 Z" fill="#4f76a8"/>
<path d="M124.8 582.4 L124.8 577.4 L125.2 577.4 L125.2 577.3 L125.6 577.3 L125.6 576.7 L125.7 576.7 L125.7 582.4 ZM125.9 582.4 L125.9 577.1 L126.3 577.1 L126.3 576.6 L126.7 576.6 L126.7 576.9 L126.9 576.9 L126.9 582.4 ZM134.0 582.4 L134.0 576.5 L134.4 576.5 L134.4 576.0 L134.8 576.0 L134.8 576.4 L135.1 576.4 L135.1 582.4 ZM135.4 582.4 L135.4 576.0 L135.8 576.0 L135.8 575.6 L136.1 575.6 L136.1 582.4 ZM136.1 582.4 L136.1 577.0 L136.5 577.0 L136.5 576.9 L136.9 576.9 L136.9 576.0 L137.3 576.0 L137.3 575.9 L137.7 575.9 L137.7 576.2 L137.8 576.2 L137.8 582.4 ZM141.9 582.4 L141.9 576.4 L142.3 576.4 L142.3 575.2 L142.7 575.2 L142.7 575.8 L143.1 575.8 L143.1 575.6 L143.4 575.6 L143.4 582.4 ZM143.4 582.4 L143.4 575.8 L143.8 575.8 L143.8 576.1 L144.2 576.1 L144.2 575.6 L144.6 575.6 L144.6 576.1 L144.7 576.1 L144.7 582.4 ZM146.2 582.4 L146.2 576.0 L146.5 576.0 L146.5 582.4 ZM147.8 582.4 L147.8 576.5 L148.2 576.5 L148.2 576.2 L148.6 576.2 L148.6 576.3 L149.0 576.3 L149.0 575.8 L149.4 575.8 L149.4 576.6 L149.6 576.6 L149.6 582.4 ZM153.3 582.4 L153.3 575.1 L153.7 575.1 L153.7 575.3 L154.1 575.3 L154.1 575.0 L154.2 575.0 L154.2 582.4 ZM154.2 582.4 L154.2 573.8 L154.6 573.8 L154.6 574.0 L154.9 574.0 L154.9 582.4 ZM162.5 582.4 L162.5 581.0 L162.9 581.0 L162.9 581.0 L163.3 581.0 L163.3 580.9 L163.7 580.9 L163.7 581.2 L163.8 581.2 L163.8 582.4 ZM164.3 582.4 L164.3 581.1 L164.7 581.1 L164.7 580.9 L165.1 580.9 L165.1 581.1 L165.5 581.1 L165.5 581.2 L165.5 581.2 L165.5 582.4 Z" fill="#a3b6d6"/>
<path d="M95.9 596.3 L95.9 592.6 L96.3 592.6 L96.3 592.6 L96.6 592.6 L96.6 596.3 ZM96.6 596.3 L96.6 592.5 L96.7 592.5 L96.7 596.3 ZM124.8 596.3 L124.8 592.3 L125.2 592.3 L125.2 592.0 L125.6 592.0 L125.6 592.6 L126.0 592.6 L126.0 592.5 L126.2 592.5 L126.2 596.3 ZM129.2 596.3 L129.2 589.9 L129.6 589.9 L129.6 590.6 L130.0 590.6 L130.0 590.4 L130.3 590.4 L130.3 596.3 ZM131.6 596.3 L131.6 590.8 L132.0 590.8 L132.0 590.5 L132.4 590.5 L132.4 590.8 L132.8 590.8 L132.8 590.0 L132.8 590.0 L132.8 596.3 ZM133.3 596.3 L133.3 590.7 L133.7 590.7 L133.7 591.0 L134.0 591.0 L134.0 596.3 ZM136.2 596.3 L136.2 592.2 L136.6 592.2 L136.6 592.2 L137.0 592.2 L137.0 591.6 L137.4 591.6 L137.4 591.7 L137.8 591.7 L137.8 592.3 L137.9 592.3 L137.9 596.3 ZM138.9 596.3 L138.9 595.3 L139.3 595.3 L139.3 595.4 L139.6 595.4 L139.6 596.3 ZM141.9 596.3 L141.9 591.6 L142.3 591.6 L142.3 591.9 L142.7 591.9 L142.7 591.6 L142.8 591.6 L142.8 596.3 ZM145.7 596.3 L145.7 591.4 L146.1 591.4 L146.1 591.3 L146.5 591.3 L146.5 596.3 ZM147.8 596.3 L147.8 591.1 L148.2 591.1 L148.2 591.6 L148.6 591.6 L148.6 591.6 L149.0 591.6 L149.0 596.3 ZM149.0 596.3 L149.0 591.7 L149.4 591.7 L149.4 591.1 L149.8 591.1 L149.8 591.4 L150.2 591.4 L150.2 591.8 L150.5 591.8 L150.5 596.3 ZM150.5 596.3 L150.5 591.8 L150.9 591.8 L150.9 592.0 L151.3 592.0 L151.3 591.9 L151.5 591.9 L151.5 596.3 ZM151.8 596.3 L151.8 591.2 L152.2 591.2 L152.2 591.4 L152.6 591.4 L152.6 591.0 L152.9 591.0 L152.9 596.3 ZM152.9 596.3 L152.9 591.2 L153.3 591.2 L153.3 591.1 L153.7 591.1 L153.7 591.1 L154.0 591.1 L154.0 596.3 ZM154.5 596.3 L154.5 589.8 L154.9 589.8 L154.9 589.7 L155.3 589.7 L155.3 590.2 L155.4 590.2 L155.4 596.3 ZM155.4 596.3 L155.4 590.2 L155.8 590.2 L155.8 589.6 L156.2 589.6 L156.2 589.8 L156.4 589.8 L156.4 596.3 ZM156.4 596.3 L156.4 590.8 L156.8 590.8 L156.8 590.0 L157.2 590.0 L157.2 589.7 L157.6 589.7 L157.6 590.2 L158.0 590.2 L158.0 590.8 L158.0 590.8 L158.0 596.3 ZM158.0 596.3 L158.0 590.6 L158.4 590.6 L158.4 590.6 L158.8 590.6 L158.8 590.5 L159.2 590.5 L159.2 591.5 L159.6 591.5 L159.6 590.7 L159.8 590.7 L159.8 596.3 ZM160.1 596.3 L160.1 592.4 L160.5 592.4 L160.5 591.9 L160.9 591.9 L160.9 591.6 L161.3 591.6 L161.3 591.9 L161.4 591.9 L161.4 596.3 ZM161.4 596.3 L161.4 592.4 L161.6 592.4 L161.6 596.3 ZM162.5 596.3 L162.5 595.2 L162.9 595.2 L162.9 595.3 L163.1 595.3 L163.1 596.3 ZM165.4 596.3 L165.4 595.3 L165.8 595.3 L165.8 595.2 L166.2 595.2 L166.2 595.3 L166.6 595.3 L166.6 595.3 L166.9 595.3 L166.9 596.3 ZM166.9 596.3 L166.9 595.3 L167.3 595.3 L167.3 595.3 L167.6 595.3 L167.6 596.3 ZM168.1 596.3 L168.1 595.4 L168.5 595.4 L168.5 595.4 L168.9 595.4 L168.9 595.5 L169.3 595.5 L169.3 595.3 L169.7 595.3 L169.7 595.4 L169.8 595.4 L169.8 596.3 ZM170.0 596.3 L170.0 595.4 L170.4 595.4 L170.4 595.4 L170.8 595.4 L170.8 595.3 L170.9 595.3 L170.9 596.3 ZM171.4 596.3 L171.4 595.5 L171.8 595.5 L171.8 595.3 L172.2 595.3 L172.2 595.3 L172.6 595.3 L172.6 595.4 L172.7 595.4 L172.7 596.3 ZM173.0 596.3 L173.0 595.4 L173.4 595.4 L173.4 595.4 L173.8 595.4 L173.8 595.5 L174.2 595.5 L174.2 595.4 L174.5 595.4 L174.5 596.3 ZM174.9 596.3 L174.9 595.4 L175.3 595.4 L175.3 595.4 L175.7 595.4 L175.7 595.4 L176.0 595.4 L176.0 596.3 Z" fill="#ea7a2c"/>
<path d="M126.5 596.3 L126.5 592.1 L126.9 592.1 L126.9 592.6 L127.3 592.6 L127.3 592.2 L127.7 592.2 L127.7 592.1 L128.1 592.1 L128.1 596.3 ZM128.1 596.3 L128.1 592.4 L128.1 592.4 L128.1 596.3 ZM130.3 596.3 L130.3 590.4 L130.7 590.4 L130.7 590.3 L131.0 590.3 L131.0 596.3 ZM134.0 596.3 L134.0 591.5 L134.4 591.5 L134.4 591.3 L134.7 591.3 L134.7 596.3 ZM135.1 596.3 L135.1 591.5 L135.5 591.5 L135.5 592.1 L135.9 592.1 L135.9 591.7 L136.2 591.7 L136.2 596.3 ZM137.9 596.3 L137.9 592.1 L138.0 592.1 L138.0 596.3 ZM143.1 596.3 L143.1 591.6 L143.5 591.6 L143.5 591.7 L143.9 591.7 L143.9 591.9 L144.3 591.9 L144.3 591.8 L144.7 591.8 L144.7 591.8 L144.8 591.8 L144.8 596.3 ZM144.8 596.3 L144.8 591.7 L145.2 591.7 L145.2 591.3 L145.6 591.3 L145.6 591.0 L145.7 591.0 L145.7 596.3 ZM163.1 596.3 L163.1 595.2 L163.5 595.2 L163.5 595.3 L163.9 595.3 L163.9 595.3 L164.3 595.3 L164.3 595.3 L164.7 595.3 L164.7 595.2 L164.8 595.2 L164.8 596.3 Z" fill="#f5b588"/>
<text x="28.3" y="555.3" font-size="5.2" font-weight="bold" text-anchor="middle" fill="#111">HMGB2</text>
<text x="28.1" y="562.6" font-size="5.3" font-weight="bold" text-anchor="middle" fill="#111">CUT&amp;Tag</text>
<line x1="40.2" y1="544.2" x2="40.2" y2="567.7" stroke="#333" stroke-width="0.6"/>
<text x="28.1" y="584.1" font-size="5.3" font-weight="bold" text-anchor="middle" fill="#111">RNA-seq</text>
<line x1="40.2" y1="572.6" x2="40.2" y2="594.8" stroke="#333" stroke-width="0.6"/>
<text x="65.4" y="553.1" font-size="5.4" font-weight="bold" text-anchor="end" fill="#111">–HGF</text>
<text x="65.4" y="565.9" font-size="5.4" font-weight="bold" text-anchor="end" fill="#111">+HGF</text>
<text x="65.4" y="580.9" font-size="5.4" font-weight="bold" text-anchor="end" fill="#111">SCR</text>
<text x="65.4" y="594" font-size="5.4" font-weight="bold" text-anchor="end" fill="#111">siHmgb2</text>
<line x1="96.4" y1="608" x2="176.9" y2="608" stroke="#444" stroke-width="0.45" stroke-dasharray="0.9 1.3"/>
<rect x="96.4" y="606.8" width="0.8" height="2.4" fill="#2a1f4e"/>
<rect x="125" y="606.8" width="2" height="2.4" fill="#2a1f4e"/>
<rect x="128" y="606.8" width="3.5" height="2.4" fill="#2a1f4e"/>
<rect x="132.3" y="606.8" width="2.2" height="2.4" fill="#2a1f4e"/>
<rect x="135.5" y="606.8" width="2.2" height="2.4" fill="#2a1f4e"/>
<rect x="141.7" y="606.8" width="1.8" height="2.4" fill="#2a1f4e"/>
<rect x="144.5" y="606.8" width="2.4" height="2.4" fill="#2a1f4e"/>
<rect x="148.5" y="606.7" width="2" height="2.6" fill="#2a1f4e"/>
<rect x="151" y="606.6" width="25.9" height="2.8" fill="#2a1f4e"/>
<line x1="96.4" y1="603.9" x2="105.4" y2="603.9" stroke="#333" stroke-width="0.7"/>
<path d="M103.6 602.6 L105.4 603.9 L103.6 605.2" fill="none" stroke="#333" stroke-width="0.6"/>
<text x="179.6" y="609.2" font-size="3.4" font-weight="bold" font-style="italic" fill="#333">Egfr</text>
<rect x="248.4" y="469.3" width="127.8" height="54.9" fill="#e9e9e9"/>
<line x1="248.4" y1="483.4" x2="376.2" y2="483.4" stroke="#9a9a9a" stroke-width="0.5"/>
<text x="249" y="471.8" font-size="2.3" fill="#444">75</text>
<line x1="248.4" y1="496.8" x2="376.2" y2="496.8" stroke="#9a9a9a" stroke-width="0.5"/>
<text x="249" y="485.9" font-size="2.3" fill="#444">75</text>
<line x1="248.4" y1="510.3" x2="376.2" y2="510.3" stroke="#9a9a9a" stroke-width="0.5"/>
<text x="249" y="499.3" font-size="2.3" fill="#444">5000</text>
<line x1="248.4" y1="524.2" x2="376.2" y2="524.2" stroke="#9a9a9a" stroke-width="0.5"/>
<text x="249" y="512.8" font-size="2.3" fill="#444">5000</text>
<path d="M248.6 483.4 L248.6 483.37 L248.9 483.4 L249.2 483.4 L249.5 483.37 L249.8 483.4 L250.1 483.4 L250.4 483.18 L250.7 483.4 L251 483.24 L251.3 483.4 L251.6 483.4 L251.9 483.4 L252.2 483.39 L252.5 483.4 L252.8 483.4 L253.1 483.4 L253.4 483.4 L253.7 483.4 L254 483.4 L254.3 483.4 L254.6 483.4 L254.9 483.4 L255.2 483.4 L255.5 483.4 L255.8 483.4 L256.1 483.4 L256.4 483.07 L256.7 482.73 L257 482.4 L257.3 482.73 L257.6 483.07 L257.9 483.13 L258.2 482.87 L258.5 482.6 L258.8 482.87 L259.1 483.13 L259.4 483.4 L259.7 483.29 L260 482.96 L260.3 482.62 L260.6 482.51 L260.9 482.84 L261.2 483.18 L261.5 483.4 L261.8 483.4 L262.1 483.18 L262.4 483.4 L262.7 483.4 L263 483.4 L263.3 483.4 L263.6 483.18 L263.9 482.51 L264.2 481.84 L264.5 481.62 L264.8 481.73 L265.1 480.73 L265.4 481.07 L265.7 482.07 L266 481.4 L266.3 482.07 L266.6 482.73 L266.9 483.4 L267.2 483.4 L267.5 483.4 L267.8 483.4 L268.1 483.3 L268.4 483.4 L268.7 483.4 L269 483.4 L269.3 483.4 L269.6 483.4 L269.9 483.4 L270.2 483.4 L270.5 483.4 L270.8 483.4 L271.1 483.4 L271.4 483.4 L271.7 483.4 L272 483.4 L272.3 483.34 L272.6 483.4 L272.9 483.4 L273.2 483.07 L273.5 482.73 L273.8 482.4 L274.1 482.73 L274.4 483.07 L274.7 483.4 L275 483.28 L275.3 483.4 L275.6 483.4 L275.9 483.4 L276.2 483.4 L276.5 483.4 L276.8 483.4 L277.1 483.4 L277.4 483.4 L277.7 483.4 L278 483.22 L278.3 482.69 L278.6 482.16 L278.9 481.98 L279.2 482.51 L279.5 482.07 L279.8 481.4 L280.1 482.07 L280.4 482.73 L280.7 483.37 L281 483.4 L281.3 483.34 L281.6 483.4 L281.9 483.4 L282.2 483.4 L282.5 483.4 L282.8 483.4 L283.1 483.4 L283.4 483.4 L283.7 483.4 L284 483.4 L284.3 483.4 L284.6 483.37 L284.9 483.18 L285.2 483.4 L285.5 483.4 L285.8 483.4 L286.1 483.4 L286.4 483.4 L286.7 483.4 L287 483.4 L287.3 483.29 L287.6 483.4 L287.9 483.4 L288.2 483.36 L288.5 483.4 L288.8 483.22 L289.1 483.4 L289.4 483.4 L289.7 483.4 L290 483.4 L290.3 483.4 L290.6 483.4 L290.9 483.4 L291.2 483.4 L291.5 483.4 L291.8 483.4 L292.1 483.4 L292.4 483.4 L292.7 483.4 L293 483.4 L293.3 483.4 L293.6 483.36 L293.9 483.4 L294.2 483.4 L294.5 483.4 L294.8 483.4 L295.1 483.4 L295.4 483.4 L295.7 483.4 L296 483.27 L296.3 483.29 L296.6 483.4 L296.9 483.4 L297.2 483.4 L297.5 483.4 L297.8 483.4 L298.1 483.4 L298.4 483.4 L298.7 483.4 L299 483.22 L299.3 483.4 L299.6 483.4 L299.9 483.4 L300.2 483.4 L300.5 483.4 L300.8 483.4 L301.1 483.4 L301.4 483.4 L301.7 483.4 L302 483.4 L302.3 483.4 L302.6 483.4 L302.9 483.4 L303.2 483.4 L303.5 483.33 L303.8 483.4 L304.1 483.4 L304.4 483.4 L304.7 483.4 L305 483.4 L305.3 483.4 L305.6 483.26 L305.9 483.4 L306.2 483.4 L306.5 483.4 L306.8 483.4 L307.1 483.4 L307.4 483.4 L307.7 483.4 L308 483.4 L308.3 483.4 L308.6 483.4 L308.9 483.4 L309.2 483.4 L309.5 483.4 L309.8 483.4 L310.1 483.4 L310.4 483.23 L310.7 483.4 L311 483.4 L311.3 483.4 L311.6 483.4 L311.9 483.4 L312.2 483.4 L312.5 483.4 L312.8 483.4 L313.1 483.4 L313.4 483.4 L313.7 483.4 L314 483.4 L314.3 483.4 L314.6 483.4 L314.9 483.4 L315.2 483.4 L315.5 483.11 L315.8 483.4 L316.1 483.4 L316.4 483.4 L316.7 483.4 L317 483.33 L317.3 483.4 L317.6 483.4 L317.9 483.39 L318.2 483.33 L318.5 483.13 L318.8 482.93 L319.1 482.87 L319.4 483.07 L319.7 483.27 L320 483.28 L320.3 483.4 L320.6 483.4 L320.9 483.39 L321.2 483.4 L321.5 483.4 L321.8 483.4 L322.1 483.4 L322.4 483.4 L322.7 483.4 L323 483.4 L323.3 482.73 L323.6 482.07 L323.9 481.4 L324.2 482.07 L324.5 482.29 L324.8 481.46 L325.1 481.18 L325.4 482.01 L325.7 482.84 L326 482.73 L326.3 482.23 L326.6 482.07 L326.9 482.57 L327.2 483.07 L327.5 482.87 L327.8 482.47 L328.1 482.33 L328.4 482.73 L328.7 483.13 L329 483.4 L329.3 483.4 L329.6 483.4 L329.9 483.14 L330.2 483.23 L330.5 483.4 L330.8 483.4 L331.1 483.4 L331.4 483.4 L331.7 483.4 L332 483.4 L332.3 483.4 L332.6 483.18 L332.9 483.4 L333.2 483.4 L333.5 483.4 L333.8 483.4 L334.1 483.4 L334.4 483.4 L334.7 483.4 L335 483.4 L335.3 483.4 L335.6 483.4 L335.9 483.4 L336.2 483.22 L336.5 483.4 L336.8 483.4 L337.1 483.29 L337.4 483.4 L337.7 483.4 L338 483.4 L338.3 483.4 L338.6 483.4 L338.9 483.4 L339.2 483.4 L339.5 483.4 L339.8 483.4 L340.1 483.4 L340.4 483.4 L340.7 483.4 L341 483.4 L341.3 483.4 L341.6 483.4 L341.9 483.16 L342.2 483.4 L342.5 483.4 L342.8 483.4 L343.1 483.37 L343.4 483.4 L343.7 483.4 L344 483.4 L344.3 483.4 L344.6 483.4 L344.9 483.4 L345.2 483.22 L345.5 483.4 L345.8 483.4 L346.1 483.4 L346.4 483.4 L346.7 483.19 L347 483.4 L347.3 483.07 L347.6 482.57 L347.9 482.07 L348.2 482.23 L348.5 482.73 L348.8 483.23 L349.1 483.4 L349.4 483.4 L349.7 483.4 L350 483.26 L350.3 482.82 L350.6 482.39 L350.9 482.24 L351.2 482.68 L351.5 483.11 L351.8 483.4 L352.1 483.4 L352.4 483.4 L352.7 483.4 L353 483.4 L353.3 483.4 L353.6 483.4 L353.9 483.4 L354.2 483.4 L354.5 483.4 L354.8 483.22 L355.1 482.69 L355.4 482.16 L355.7 481.98 L356 482.51 L356.3 483.04 L356.6 483.27 L356.9 482.87 L357.2 482.47 L357.5 482.33 L357.8 482.73 L358.1 483.13 L358.4 483.18 L358.7 482.51 L359 481.84 L359.3 481.62 L359.6 482.29 L359.9 482.96 L360.2 483.24 L360.5 482.78 L360.8 482.31 L361.1 482.16 L361.4 482.62 L361.7 483.09 L362 483.22 L362.3 483.11 L362.6 483 L362.9 482.6 L363.2 482.2 L363.5 482.6 L363.8 483 L364.1 483.4 L364.4 483.4 L364.7 483.4 L365 483.4 L365.3 483.26 L365.6 483.4 L365.9 483.4 L366.2 483.14 L366.5 483.4 L366.8 483.4 L367.1 483.4 L367.4 483.4 L367.7 483.4 L368 483.4 L368.3 483.4 L368.6 483.4 L368.9 483.14 L369.2 483.4 L369.5 483.4 L369.8 483.4 L370.1 483.4 L370.4 483.4 L370.7 483.4 L371 483.4 L371.3 483.13 L371.6 483.4 L371.9 483.4 L372.2 483.4 L372.5 483.16 L372.8 483.4 L373.1 483.4 L373.4 483.4 L373.7 483.28 L374 483.4 L374.3 483.31 L374.6 483.4 L374.9 483.28 L375.2 483.4 L375.5 483.4 L375.8 483.38 L376 483.4 Z" fill="#4d5aa6"/>
<path d="M248.6 496.8 L248.6 496.74 L248.9 496.8 L249.2 496.8 L249.5 496.8 L249.8 496.8 L250.1 496.65 L250.4 496.8 L250.7 496.8 L251 496.8 L251.3 496.8 L251.6 496.8 L251.9 496.57 L252.2 496.8 L252.5 496.8 L252.8 496.8 L253.1 496.8 L253.4 496.8 L253.7 496.8 L254 496.76 L254.3 496.8 L254.6 496.75 L254.9 496.79 L255.2 496.69 L255.5 496.8 L255.8 496.8 L256.1 496.36 L256.4 495.69 L256.7 495.02 L257 495.24 L257.3 495.8 L257.6 495.3 L257.9 495.8 L258.2 496.3 L258.5 496.8 L258.8 496.8 L259.1 496.8 L259.4 496.8 L259.7 496.8 L260 496.8 L260.3 496.8 L260.6 496.8 L260.9 496.8 L261.2 496.8 L261.5 496.8 L261.8 496.8 L262.1 496.8 L262.4 496.8 L262.7 496.66 L263 496.8 L263.3 495.91 L263.6 494.58 L263.9 493.24 L264.2 493.69 L264.5 491.98 L264.8 491.29 L265.1 493.36 L265.4 492.3 L265.7 493.8 L266 495.3 L266.3 496.8 L266.6 496.8 L266.9 496.78 L267.2 496.8 L267.5 496.71 L267.8 496.8 L268.1 496.8 L268.4 496.8 L268.7 496.8 L269 496.8 L269.3 496.8 L269.6 496.8 L269.9 496.8 L270.2 496.8 L270.5 496.8 L270.8 496.8 L271.1 496.8 L271.4 496.8 L271.7 496.8 L272 496.8 L272.3 496.8 L272.6 496.8 L272.9 496.8 L273.2 496.8 L273.5 496.8 L273.8 496.8 L274.1 496.73 L274.4 496.79 L274.7 496.8 L275 496.8 L275.3 496.8 L275.6 496.8 L275.9 496.8 L276.2 496.8 L276.5 496.8 L276.8 496.8 L277.1 496.7 L277.4 496.8 L277.7 496.8 L278 496.59 L278.3 496.8 L278.6 496.8 L278.9 496.8 L279.2 496.8 L279.5 496.8 L279.8 496.8 L280.1 496.8 L280.4 496.8 L280.7 496.51 L281 496.8 L281.3 496.54 L281.6 496.3 L281.9 495.8 L282.2 495.3 L282.5 495.8 L282.8 495.91 L283.1 496.02 L283.4 496.36 L283.7 496.69 L284 496.8 L284.3 496.8 L284.6 496.8 L284.9 496.8 L285.2 496.7 L285.5 496.8 L285.8 496.8 L286.1 496.8 L286.4 496.8 L286.7 496.8 L287 496.8 L287.3 496.55 L287.6 496.8 L287.9 496.8 L288.2 496.77 L288.5 496.8 L288.8 496.8 L289.1 496.8 L289.4 496.8 L289.7 496.8 L290 496.62 L290.3 496.8 L290.6 496.8 L290.9 496.74 L291.2 496.8 L291.5 496.8 L291.8 496.8 L292.1 496.8 L292.4 496.8 L292.7 496.8 L293 496.8 L293.3 496.8 L293.6 496.8 L293.9 496.8 L294.2 496.65 L294.5 496.8 L294.8 496.8 L295.1 496.58 L295.4 496.8 L295.7 496.8 L296 496.8 L296.3 496.8 L296.6 496.8 L296.9 496.72 L297.2 496.8 L297.5 496.8 L297.8 496.68 L298.1 496.8 L298.4 496.8 L298.7 496.8 L299 496.8 L299.3 496.8 L299.6 496.8 L299.9 496.8 L300.2 496.8 L300.5 496.8 L300.8 496.8 L301.1 496.64 L301.4 496.8 L301.7 496.8 L302 496.8 L302.3 496.8 L302.6 496.8 L302.9 496.8 L303.2 496.8 L303.5 496.67 L303.8 496.56 L304.1 496.8 L304.4 496.51 L304.7 496.8 L305 496.8 L305.3 496.8 L305.6 496.51 L305.9 496.8 L306.2 496.8 L306.5 496.8 L306.8 496.8 L307.1 496.53 L307.4 496.8 L307.7 496.8 L308 496.8 L308.3 496.8 L308.6 496.8 L308.9 496.8 L309.2 496.8 L309.5 496.7 L309.8 496.8 L310.1 496.8 L310.4 496.8 L310.7 496.8 L311 496.8 L311.3 496.8 L311.6 496.8 L311.9 496.64 L312.2 496.8 L312.5 496.62 L312.8 496.8 L313.1 496.8 L313.4 496.8 L313.7 496.8 L314 496.8 L314.3 496.8 L314.6 496.8 L314.9 496.61 L315.2 496.8 L315.5 496.8 L315.8 496.8 L316.1 496.8 L316.4 496.8 L316.7 496.8 L317 496.54 L317.3 496.8 L317.6 496.8 L317.9 496.8 L318.2 496.75 L318.5 496.8 L318.8 496.8 L319.1 496.8 L319.4 496.67 L319.7 496.8 L320 496.8 L320.3 496.8 L320.6 496.8 L320.9 496.8 L321.2 496.8 L321.5 496.8 L321.8 496.55 L322.1 496.8 L322.4 496.8 L322.7 496.63 L323 496.13 L323.3 495.63 L323.6 495.47 L323.9 495.97 L324.2 496.47 L324.5 496.58 L324.8 496.8 L325.1 496.8 L325.4 496.63 L325.7 496.8 L326 496.8 L326.3 496.8 L326.6 496.76 L326.9 496.8 L327.2 496.8 L327.5 496.74 L327.8 496.8 L328.1 496.8 L328.4 496.8 L328.7 496.8 L329 496.8 L329.3 496.8 L329.6 496.64 L329.9 496.8 L330.2 496.8 L330.5 496.8 L330.8 496.72 L331.1 496.8 L331.4 496.67 L331.7 496.8 L332 496.6 L332.3 496.8 L332.6 496.8 L332.9 496.8 L333.2 496.8 L333.5 496.8 L333.8 496.8 L334.1 496.8 L334.4 496.8 L334.7 496.8 L335 496.8 L335.3 496.8 L335.6 496.65 L335.9 496.8 L336.2 496.8 L336.5 496.8 L336.8 496.79 L337.1 496.8 L337.4 496.8 L337.7 496.76 L338 496.8 L338.3 496.8 L338.6 496.8 L338.9 496.79 L339.2 496.8 L339.5 496.6 L339.8 496.74 L340.1 496.72 L340.4 496.75 L340.7 496.8 L341 496.8 L341.3 496.8 L341.6 496.8 L341.9 496.8 L342.2 496.54 L342.5 496.8 L342.8 496.8 L343.1 496.8 L343.4 496.8 L343.7 496.8 L344 496.8 L344.3 496.8 L344.6 496.8 L344.9 496.8 L345.2 496.8 L345.5 496.8 L345.8 496.8 L346.1 496.8 L346.4 496.8 L346.7 496.76 L347 496.8 L347.3 496.8 L347.6 496.8 L347.9 496.8 L348.2 496.24 L348.5 495.41 L348.8 494.58 L349.1 494.86 L349.4 495.69 L349.7 495.13 L350 494.13 L350.3 494.47 L350.6 495.47 L350.9 496.47 L351.2 496.8 L351.5 496.57 L351.8 496.53 L352.1 496.62 L352.4 496.8 L352.7 496.77 L353 496.24 L353.3 495.41 L353.6 494.58 L353.9 494.86 L354.2 495.69 L354.5 495.38 L354.8 494.31 L355.1 493.96 L355.4 495.02 L355.7 496.09 L356 495.36 L356.3 494.49 L356.6 494.78 L356.9 495.13 L357.2 494.13 L357.5 494.47 L357.8 495.47 L358.1 496.47 L358.4 496.8 L358.7 496.8 L359 496.66 L359.3 496.8 L359.6 496.36 L359.9 495.02 L360.2 493.69 L360.5 493.24 L360.8 493.91 L361.1 492.18 L361.4 492.76 L361.7 494.49 L362 496.22 L362.3 496.8 L362.6 496.8 L362.9 496.61 L363.2 496.8 L363.5 496.8 L363.8 496.8 L364.1 496.8 L364.4 496.8 L364.7 496.8 L365 496.8 L365.3 496.3 L365.6 495.8 L365.9 495.3 L366.2 495.8 L366.5 496.13 L366.8 495.73 L367.1 495.87 L367.4 496.27 L367.7 496.67 L368 496.8 L368.3 496.8 L368.6 496.56 L368.9 496.8 L369.2 496.8 L369.5 496.8 L369.8 496.8 L370.1 496.8 L370.4 496.8 L370.7 496.71 L371 496.8 L371.3 496.8 L371.6 496.8 L371.9 496.63 L372.2 496.8 L372.5 496.8 L372.8 496.8 L373.1 496.8 L373.4 496.8 L373.7 496.8 L374 496.8 L374.3 496.8 L374.6 496.8 L374.9 496.8 L375.2 496.8 L375.5 496.8 L375.8 496.8 L376 496.8 Z" fill="#e2503e"/>
<path d="M278.4 510.3 L278.4 507.8 L278.8 507.8 L278.8 507.7 L279.2 507.7 L279.2 508.0 L279.6 508.0 L279.6 507.8 L279.7 507.8 L279.7 510.3 ZM279.7 510.3 L279.7 507.7 L280.1 507.7 L280.1 507.7 L280.5 507.7 L280.5 507.8 L280.5 507.8 L280.5 510.3 ZM280.5 510.3 L280.5 507.4 L280.9 507.4 L280.9 507.6 L281.3 507.6 L281.3 507.8 L281.6 507.8 L281.6 510.3 ZM281.6 510.3 L281.6 507.5 L281.8 507.5 L281.8 510.3 ZM283.7 510.3 L283.7 507.4 L284.1 507.4 L284.1 507.7 L284.5 507.7 L284.5 507.6 L284.9 507.6 L284.9 507.9 L285.3 507.9 L285.3 507.9 L285.3 507.9 L285.3 510.3 ZM285.3 510.3 L285.3 507.6 L285.7 507.6 L285.7 507.7 L286.1 507.7 L286.1 508.0 L286.2 508.0 L286.2 510.3 ZM286.2 510.3 L286.2 508.2 L286.6 508.2 L286.6 507.9 L286.9 507.9 L286.9 510.3 ZM314.0 510.3 L314.0 507.4 L314.4 507.4 L314.4 507.4 L314.8 507.4 L314.8 506.8 L314.8 506.8 L314.8 510.3 ZM314.8 510.3 L314.8 507.2 L315.2 507.2 L315.2 507.2 L315.6 507.2 L315.6 510.3 ZM315.6 510.3 L315.6 507.0 L316.0 507.0 L316.0 507.1 L316.4 507.1 L316.4 506.7 L316.5 506.7 L316.5 510.3 ZM316.5 510.3 L316.5 506.6 L316.9 506.6 L316.9 506.4 L317.3 506.4 L317.3 506.8 L317.5 506.8 L317.5 510.3 ZM317.5 510.3 L317.5 506.3 L317.8 506.3 L317.8 510.3 ZM331.9 510.3 L331.9 505.3 L332.3 505.3 L332.3 505.4 L332.5 505.4 L332.5 510.3 ZM332.5 510.3 L332.5 505.5 L332.9 505.5 L332.9 505.2 L333.3 505.2 L333.3 505.0 L333.7 505.0 L333.7 505.7 L334.0 505.7 L334.0 510.3 ZM334.0 510.3 L334.0 505.0 L334.4 505.0 L334.4 505.1 L334.8 505.1 L334.8 505.0 L334.9 505.0 L334.9 510.3 ZM339.8 510.3 L339.8 502.8 L340.2 502.8 L340.2 503.6 L340.6 503.6 L340.6 503.0 L341.0 503.0 L341.0 502.3 L341.4 502.3 L341.4 503.1 L341.6 503.1 L341.6 510.3 ZM341.6 510.3 L341.6 502.0 L342.0 502.0 L342.0 502.6 L342.4 502.6 L342.4 502.0 L342.8 502.0 L342.8 501.7 L343.0 501.7 L343.0 510.3 ZM343.0 510.3 L343.0 501.2 L343.4 501.2 L343.4 500.9 L343.8 500.9 L343.8 501.0 L344.1 501.0 L344.1 510.3 ZM344.1 510.3 L344.1 500.7 L344.5 500.7 L344.5 501.2 L344.8 501.2 L344.8 510.3 ZM344.8 510.3 L344.8 502.3 L345.2 502.3 L345.2 501.8 L345.5 501.8 L345.5 510.3 ZM345.5 510.3 L345.5 501.5 L345.9 501.5 L345.9 503.0 L346.3 503.0 L346.3 501.5 L346.3 501.5 L346.3 510.3 ZM346.3 510.3 L346.3 502.6 L346.7 502.6 L346.7 503.7 L347.1 503.7 L347.1 502.2 L347.5 502.2 L347.5 503.0 L347.9 503.0 L347.9 502.2 L348.1 502.2 L348.1 510.3 ZM348.1 510.3 L348.1 504.2 L348.5 504.2 L348.5 503.0 L348.6 503.0 L348.6 510.3 ZM348.6 510.3 L348.6 504.8 L349.0 504.8 L349.0 504.2 L349.3 504.2 L349.3 510.3 ZM349.3 510.3 L349.3 504.8 L349.7 504.8 L349.7 504.7 L350.1 504.7 L350.1 505.7 L350.5 505.7 L350.5 505.7 L350.9 505.7 L350.9 504.7 L351.1 504.7 L351.1 510.3 ZM351.1 510.3 L351.1 505.8 L351.5 505.8 L351.5 505.8 L351.9 505.8 L351.9 510.3 ZM351.9 510.3 L351.9 506.4 L352.3 506.4 L352.3 506.3 L352.7 506.3 L352.7 506.3 L352.7 506.3 L352.7 510.3 ZM352.7 510.3 L352.7 506.0 L353.1 506.0 L353.1 506.3 L353.4 506.3 L353.4 510.3 ZM353.4 510.3 L353.4 507.0 L353.8 507.0 L353.8 506.9 L354.0 506.9 L354.0 510.3 ZM354.0 510.3 L354.0 507.9 L354.4 507.9 L354.4 507.6 L354.8 507.6 L354.8 508.0 L354.9 508.0 L354.9 510.3 ZM354.9 510.3 L354.9 508.0 L355.3 508.0 L355.3 508.2 L355.7 508.2 L355.7 508.3 L355.8 508.3 L355.8 510.3 ZM355.8 510.3 L355.8 508.6 L356.2 508.6 L356.2 508.3 L356.6 508.3 L356.6 508.4 L356.9 508.4 L356.9 510.3 ZM356.9 510.3 L356.9 509.1 L357.3 509.1 L357.3 509.0 L357.7 509.0 L357.7 508.8 L358.1 508.8 L358.1 508.9 L358.4 508.9 L358.4 510.3 ZM358.4 510.3 L358.4 509.4 L358.8 509.4 L358.8 509.3 L359.0 509.3 L359.0 510.3 Z" fill="#4f76a8"/>
<path d="M278.4 524.2 L278.4 523.3 L278.8 523.3 L278.8 523.2 L279.2 523.2 L279.2 523.2 L279.6 523.2 L279.6 523.2 L279.6 523.2 L279.6 524.2 ZM279.6 524.2 L279.6 523.3 L280.0 523.3 L280.0 523.4 L280.4 523.4 L280.4 523.3 L280.7 523.3 L280.7 524.2 ZM280.7 524.2 L280.7 523.2 L281.1 523.2 L281.1 523.2 L281.5 523.2 L281.5 523.4 L281.8 523.4 L281.8 524.2 ZM283.7 524.2 L283.7 523.2 L284.1 523.2 L284.1 523.2 L284.5 523.2 L284.5 523.2 L284.9 523.2 L284.9 523.3 L285.0 523.3 L285.0 524.2 ZM285.0 524.2 L285.0 523.4 L285.4 523.4 L285.4 523.3 L285.8 523.3 L285.8 523.3 L285.9 523.3 L285.9 524.2 ZM285.9 524.2 L285.9 523.4 L286.3 523.4 L286.3 523.2 L286.7 523.2 L286.7 523.3 L286.9 523.3 L286.9 524.2 ZM314.0 524.2 L314.0 523.2 L314.4 523.2 L314.4 523.2 L314.8 523.2 L314.8 523.0 L314.9 523.0 L314.9 524.2 ZM314.9 524.2 L314.9 523.2 L315.3 523.2 L315.3 523.0 L315.7 523.0 L315.7 523.2 L316.1 523.2 L316.1 523.1 L316.5 523.1 L316.5 524.2 ZM316.5 524.2 L316.5 523.2 L316.9 523.2 L316.9 523.2 L317.3 523.2 L317.3 523.2 L317.6 523.2 L317.6 524.2 ZM317.6 524.2 L317.6 523.2 L317.8 523.2 L317.8 524.2 ZM331.9 524.2 L331.9 522.2 L332.3 522.2 L332.3 522.5 L332.7 522.5 L332.7 522.4 L332.8 522.4 L332.8 524.2 ZM332.8 524.2 L332.8 522.4 L333.2 522.4 L333.2 522.3 L333.6 522.3 L333.6 522.6 L334.0 522.6 L334.0 522.3 L334.4 522.3 L334.4 522.5 L334.5 522.5 L334.5 524.2 ZM334.5 524.2 L334.5 522.5 L334.9 522.5 L334.9 524.2 ZM339.8 524.2 L339.8 521.2 L340.2 521.2 L340.2 521.4 L340.6 521.4 L340.6 521.3 L341.0 521.3 L341.0 521.6 L341.4 521.6 L341.4 521.4 L341.5 521.4 L341.5 524.2 ZM341.5 524.2 L341.5 521.2 L341.9 521.2 L341.9 521.0 L342.3 521.0 L342.3 521.4 L342.7 521.4 L342.7 521.1 L343.1 521.1 L343.1 520.9 L343.2 520.9 L343.2 524.2 ZM343.2 524.2 L343.2 521.2 L343.6 521.2 L343.6 520.9 L344.0 520.9 L344.0 520.8 L344.4 520.8 L344.4 521.4 L344.8 521.4 L344.8 521.2 L344.9 521.2 L344.9 524.2 ZM344.9 524.2 L344.9 520.9 L345.3 520.9 L345.3 521.0 L345.7 521.0 L345.7 520.8 L345.9 520.8 L345.9 524.2 ZM345.9 524.2 L345.9 521.0 L346.3 521.0 L346.3 521.1 L346.7 521.1 L346.7 521.1 L347.1 521.1 L347.1 521.1 L347.2 521.1 L347.2 524.2 ZM347.2 524.2 L347.2 521.1 L347.6 521.1 L347.6 520.7 L348.0 520.7 L348.0 524.2 ZM348.0 524.2 L348.0 521.0 L348.4 521.0 L348.4 521.2 L348.6 521.2 L348.6 524.2 ZM348.6 524.2 L348.6 522.0 L349.0 522.0 L349.0 522.0 L349.4 522.0 L349.4 522.0 L349.6 522.0 L349.6 524.2 ZM349.6 524.2 L349.6 522.2 L350.0 522.2 L350.0 522.1 L350.4 522.1 L350.4 522.3 L350.8 522.3 L350.8 522.0 L351.0 522.0 L351.0 524.2 ZM351.0 524.2 L351.0 522.5 L351.4 522.5 L351.4 522.4 L351.8 522.4 L351.8 522.4 L352.2 522.4 L352.2 522.2 L352.6 522.2 L352.6 522.2 L352.7 522.2 L352.7 524.2 ZM352.7 524.2 L352.7 522.4 L353.1 522.4 L353.1 522.4 L353.5 522.4 L353.5 522.4 L353.6 522.4 L353.6 524.2 ZM353.6 524.2 L353.6 522.6 L354.0 522.6 L354.0 522.8 L354.4 522.8 L354.4 524.2 ZM354.4 524.2 L354.4 522.7 L354.8 522.7 L354.8 522.6 L355.2 522.6 L355.2 522.6 L355.6 522.6 L355.6 522.7 L356.0 522.7 L356.0 522.6 L356.1 522.6 L356.1 524.2 ZM356.1 524.2 L356.1 522.9 L356.5 522.9 L356.5 523.0 L356.9 523.0 L356.9 524.2 ZM356.9 524.2 L356.9 522.9 L357.3 522.9 L357.3 523.1 L357.7 523.1 L357.7 522.9 L358.1 522.9 L358.1 523.0 L358.5 523.0 L358.5 522.9 L358.7 522.9 L358.7 524.2 ZM358.7 524.2 L358.7 523.2 L359.0 523.2 L359.0 524.2 Z" fill="#ea7a2c"/>
<text x="210.5" y="480.3" font-size="5.2" font-weight="bold" text-anchor="middle" fill="#111">HMGB2</text>
<text x="210.3" y="487.6" font-size="5.3" font-weight="bold" text-anchor="middle" fill="#111">CUT&amp;Tag</text>
<line x1="222.4" y1="471.3" x2="222.4" y2="493.8" stroke="#333" stroke-width="0.6"/>
<text x="210.3" y="511.1" font-size="5.3" font-weight="bold" text-anchor="middle" fill="#111">RNA-seq</text>
<line x1="222.4" y1="498.7" x2="222.4" y2="521.3" stroke="#333" stroke-width="0.6"/>
<text x="247.6" y="479.1" font-size="5.4" font-weight="bold" text-anchor="end" fill="#111">–HGF</text>
<text x="247.6" y="492.2" font-size="5.4" font-weight="bold" text-anchor="end" fill="#111">+HGF</text>
<text x="247.6" y="507.4" font-size="5.4" font-weight="bold" text-anchor="end" fill="#111">SCR</text>
<text x="247.6" y="519.9" font-size="5.4" font-weight="bold" text-anchor="end" fill="#111">siHmgb2</text>
<line x1="278.6" y1="535.5" x2="360.1" y2="535.5" stroke="#444" stroke-width="0.45" stroke-dasharray="0.9 1.3"/>
<rect x="278.6" y="534.2" width="4.6" height="2.6" fill="#2a1f4e"/>
<rect x="284" y="534.2" width="3" height="2.6" fill="#2a1f4e"/>
<rect x="314" y="534.2" width="3.5" height="2.6" fill="#2a1f4e"/>
<rect x="332.3" y="534.2" width="2.3" height="2.6" fill="#2a1f4e"/>
<rect x="340.8" y="534.1" width="19.3" height="2.8" fill="#2a1f4e"/>
<line x1="278.8" y1="531.2" x2="288.1" y2="531.2" stroke="#333" stroke-width="0.7"/>
<path d="M286.3 529.9 L288.1 531.2 L286.3 532.5" fill="none" stroke="#333" stroke-width="0.6"/>
<text x="361.9" y="536.7" font-size="3.4" font-weight="bold" font-style="italic" fill="#333">Ccn2</text>
<rect x="248.8" y="541.1" width="127.8" height="54.9" fill="#e9e9e9"/>
<line x1="248.8" y1="556.6" x2="376.6" y2="556.6" stroke="#9a9a9a" stroke-width="0.5"/>
<text x="249.4" y="543.6" font-size="2.3" fill="#444">20</text>
<line x1="248.8" y1="569.7" x2="376.6" y2="569.7" stroke="#9a9a9a" stroke-width="0.5"/>
<text x="249.4" y="559.1" font-size="2.3" fill="#444">20</text>
<line x1="248.8" y1="582.7" x2="376.6" y2="582.7" stroke="#9a9a9a" stroke-width="0.5"/>
<text x="249.4" y="572.2" font-size="2.3" fill="#444">400</text>
<line x1="248.8" y1="596" x2="376.6" y2="596" stroke="#9a9a9a" stroke-width="0.5"/>
<text x="249.4" y="585.2" font-size="2.3" fill="#444">500</text>
<path d="M249 556.6 L249 556.6 L249.3 556.6 L249.6 556.6 L249.9 556.6 L250.2 556.6 L250.5 556.6 L250.8 556.6 L251.1 556.6 L251.4 556.6 L251.7 556.6 L252 556.6 L252.3 556.6 L252.6 556.6 L252.9 556.6 L253.2 556.6 L253.5 556.38 L253.8 556.6 L254.1 556.6 L254.4 556.6 L254.7 556.36 L255 556.34 L255.3 556.6 L255.6 556.6 L255.9 556.6 L256.2 556.6 L256.5 556.4 L256.8 556.33 L257.1 556.6 L257.4 556.6 L257.7 556.5 L258 556.6 L258.3 556.6 L258.6 556.6 L258.9 556.6 L259.2 556.6 L259.5 556.6 L259.8 556.4 L260.1 556.6 L260.4 556.6 L260.7 556.6 L261 556.6 L261.3 556.56 L261.6 556.6 L261.9 556.6 L262.2 556.6 L262.5 556.6 L262.8 556.6 L263.1 556.6 L263.4 556.6 L263.7 556.6 L264 556.58 L264.3 556.34 L264.6 556.6 L264.9 556.6 L265.2 556.4 L265.5 556.33 L265.8 556.6 L266.1 556.6 L266.4 556.6 L266.7 556.6 L267 556.6 L267.3 556.6 L267.6 556.6 L267.9 556.6 L268.2 556.6 L268.5 556.6 L268.8 556.6 L269.1 556.6 L269.4 556.6 L269.7 556.6 L270 556.6 L270.3 556.6 L270.6 556.6 L270.9 556.6 L271.2 556.6 L271.5 556.6 L271.8 556.6 L272.1 556.6 L272.4 556.6 L272.7 556.6 L273 556.6 L273.3 556.6 L273.6 556.44 L273.9 555.98 L274.2 555.51 L274.5 555.36 L274.8 555.82 L275.1 556.2 L275.4 555.6 L275.7 555 L276 555.2 L276.3 555.8 L276.6 556.38 L276.9 555.71 L277.2 555.04 L277.5 554.82 L277.8 555.49 L278.1 555.53 L278.4 555.67 L278.7 556.07 L279 556.47 L279.3 556.55 L279.6 556.6 L279.9 556.53 L280.2 556.6 L280.5 556.6 L280.8 555.73 L281.1 554.87 L281.4 554 L281.7 554.87 L282 555.36 L282.3 555.18 L282.6 555.71 L282.9 556.24 L283.2 556.6 L283.5 556.6 L283.8 556.6 L284.1 556.3 L284.4 556.6 L284.7 556.6 L285 556.6 L285.3 556.6 L285.6 556.6 L285.9 556.6 L286.2 556.6 L286.5 556.49 L286.8 556.16 L287.1 555.82 L287.4 555.71 L287.7 556.04 L288 556.38 L288.3 556.38 L288.6 556.04 L288.9 555.71 L289.2 555.82 L289.5 556.16 L289.8 556.4 L290.1 556.1 L290.4 555.8 L290.7 555.9 L291 556.2 L291.3 556.42 L291.6 556.6 L291.9 556.6 L292.2 556.6 L292.5 556.6 L292.8 556.6 L293.1 556.6 L293.4 556.6 L293.7 556.45 L294 556.6 L294.3 556.6 L294.6 556.6 L294.9 556.6 L295.2 556.6 L295.5 556.6 L295.8 556.6 L296.1 556.6 L296.4 556.6 L296.7 556.6 L297 556.6 L297.3 556.6 L297.6 556.6 L297.9 556.6 L298.2 556.6 L298.5 556.6 L298.8 556.6 L299.1 556.6 L299.4 556.6 L299.7 556.6 L300 556.6 L300.3 556.6 L300.6 556.45 L300.9 556.6 L301.2 556.6 L301.5 556.35 L301.8 556.6 L302.1 556.6 L302.4 556.37 L302.7 556.6 L303 556.6 L303.3 556.6 L303.6 556.6 L303.9 556.6 L304.2 556.6 L304.5 556.6 L304.8 556.6 L305.1 556.6 L305.4 556.4 L305.7 556.6 L306 556.35 L306.3 556.6 L306.6 556.37 L306.9 556.6 L307.2 556.6 L307.5 556.6 L307.8 556.6 L308.1 556.6 L308.4 556.6 L308.7 556.6 L309 556.36 L309.3 555.99 L309.6 555.62 L309.9 555.74 L310.2 556.11 L310.5 556.48 L310.8 556.6 L311.1 556.6 L311.4 556.6 L311.7 556.6 L312 556.6 L312.3 556.6 L312.6 556.6 L312.9 556.6 L313.2 556.6 L313.5 556.6 L313.8 556.38 L314.1 555.71 L314.4 555.04 L314.7 554.82 L315 555.49 L315.3 555.89 L315.6 555.36 L315.9 555.18 L316.2 555.71 L316.5 556.24 L316.8 556.48 L317.1 556.35 L317.4 556.6 L317.7 556.6 L318 556.6 L318.3 556.6 L318.6 555.71 L318.9 554.38 L319.2 553.04 L319.5 553.49 L319.8 551.98 L320.1 552.56 L320.4 554.29 L320.7 554.38 L321 555.21 L321.3 556.04 L321.6 556.6 L321.9 556.49 L322.2 556.6 L322.5 556.6 L322.8 556.6 L323.1 556.6 L323.4 556.35 L323.7 556.6 L324 556.6 L324.3 556.6 L324.6 556.6 L324.9 556.6 L325.2 556.6 L325.5 556.6 L325.8 556.6 L326.1 556.6 L326.4 556.6 L326.7 556.6 L327 556.6 L327.3 556.6 L327.6 556.6 L327.9 556.6 L328.2 556.6 L328.5 556.6 L328.8 556.6 L329.1 556.6 L329.4 556.6 L329.7 556.6 L330 556.6 L330.3 556.6 L330.6 556.6 L330.9 556.6 L331.2 556.6 L331.5 556.6 L331.8 556.6 L332.1 556.6 L332.4 556.6 L332.7 556.6 L333 556.6 L333.3 556.6 L333.6 556.38 L333.9 555.71 L334.2 555.04 L334.5 554.82 L334.8 555.49 L335.1 555.13 L335.4 554.4 L335.7 555.13 L336 555.67 L336.3 555.2 L336.6 555.67 L336.9 556.13 L337.2 556.6 L337.5 556.6 L337.8 556.6 L338.1 556.6 L338.4 556.6 L338.7 556.35 L339 556.6 L339.3 556.6 L339.6 556.6 L339.9 556.6 L340.2 556.6 L340.5 556.41 L340.8 556.6 L341.1 556.6 L341.4 556.6 L341.7 556.6 L342 556.6 L342.3 556.6 L342.6 556.54 L342.9 556.6 L343.2 556.6 L343.5 556.6 L343.8 556.6 L344.1 556.43 L344.4 556.6 L344.7 556.6 L345 556.6 L345.3 556.6 L345.6 556.6 L345.9 556.6 L346.2 556.6 L346.5 556.33 L346.8 556.6 L347.1 556.6 L347.4 556.6 L347.7 556.6 L348 556.6 L348.3 556.6 L348.6 556.6 L348.9 556.32 L349.2 556.6 L349.5 556.6 L349.8 556.6 L350.1 556.6 L350.4 556.41 L350.7 556.6 L351 556.32 L351.3 556.6 L351.6 556.6 L351.9 556.6 L352.2 556.6 L352.5 556.6 L352.8 556.6 L353.1 556.6 L353.4 556.6 L353.7 556.37 L354 556.13 L354.3 555.9 L354.6 556.13 L354.9 556.37 L355.2 556.6 L355.5 556.6 L355.8 556.6 L356.1 556.6 L356.4 556.6 L356.7 556.6 L357 556.6 L357.3 556.6 L357.6 556.6 L357.9 556.6 L358.2 556.44 L358.5 556.6 L358.8 556.6 L359.1 556.36 L359.4 556.6 L359.7 556.6 L360 556.6 L360.3 556.6 L360.6 556.6 L360.9 556.6 L361.2 556.49 L361.5 556.45 L361.8 556.43 L362.1 556.6 L362.4 556.6 L362.7 556.6 L363 556.3 L363.3 556.6 L363.6 556.6 L363.9 556.51 L364.2 556.6 L364.5 556.6 L364.8 556.6 L365.1 556.6 L365.4 556.6 L365.7 556.6 L366 556.6 L366.3 556.45 L366.6 556.6 L366.9 556.6 L367.2 556.6 L367.5 556.6 L367.8 556.6 L368.1 556.6 L368.4 556.57 L368.7 556.6 L369 556.6 L369.3 556.6 L369.6 556.6 L369.9 556.6 L370.2 556.6 L370.5 556.6 L370.8 556.6 L371.1 556.6 L371.4 556.51 L371.7 556.6 L372 556.6 L372.3 556.6 L372.6 556.6 L372.9 556.6 L373.2 556.6 L373.5 556.6 L373.8 556.6 L374.1 556.6 L374.4 556.6 L374.7 556.6 L375 556.6 L375.3 556.6 L375.6 556.6 L375.9 556.47 L376.2 556.6 L376.4 556.6 Z" fill="#4d5aa6"/>
<path d="M249 569.7 L249 569.7 L249.3 569.62 L249.6 569.7 L249.9 569.7 L250.2 569.7 L250.5 569.7 L250.8 569.57 L251.1 569.63 L251.4 569.7 L251.7 569.64 L252 569.7 L252.3 569.7 L252.6 569.7 L252.9 569.7 L253.2 569.7 L253.5 569.46 L253.8 569.7 L254.1 569.7 L254.4 569.7 L254.7 569.7 L255 569.7 L255.3 569.67 L255.6 569.7 L255.9 569.7 L256.2 569.7 L256.5 569.7 L256.8 569.7 L257.1 569.7 L257.4 569.7 L257.7 569.7 L258 569.7 L258.3 569.7 L258.6 569.7 L258.9 569.7 L259.2 569.7 L259.5 569.63 L259.8 569.7 L260.1 569.63 L260.4 569.62 L260.7 569.7 L261 569.7 L261.3 569.7 L261.6 569.7 L261.9 569.7 L262.2 569.7 L262.5 569.7 L262.8 569.7 L263.1 569.7 L263.4 569.7 L263.7 569.7 L264 569.7 L264.3 569.7 L264.6 569.7 L264.9 569.7 L265.2 569.7 L265.5 569.7 L265.8 569.7 L266.1 569.7 L266.4 569.61 L266.7 569.7 L267 569.7 L267.3 569.7 L267.6 569.7 L267.9 569.7 L268.2 569.7 L268.5 569.7 L268.8 569.7 L269.1 569.7 L269.4 569.7 L269.7 569.7 L270 569.7 L270.3 569.7 L270.6 569.7 L270.9 569.7 L271.2 569.7 L271.5 569.03 L271.8 567.03 L272.1 565.03 L272.4 564.37 L272.7 566.37 L273 565.81 L273.3 565.26 L273.6 566.92 L273.9 568.59 L274.2 569.7 L274.5 569.7 L274.8 569.7 L275.1 569.69 L275.4 569.51 L275.7 569.7 L276 568.63 L276.3 567.57 L276.6 566.5 L276.9 567.57 L277.2 567.76 L277.5 567.48 L277.8 568.31 L278.1 569.14 L278.4 569.7 L278.7 569.59 L279 569.7 L279.3 569.7 L279.6 569.7 L279.9 569.7 L280.2 569.48 L280.5 569.7 L280.8 569.7 L281.1 569.7 L281.4 569.7 L281.7 569.53 L282 569.03 L282.3 568.53 L282.6 568.37 L282.9 568.87 L283.2 569.37 L283.5 569.57 L283.8 569.7 L284.1 569.7 L284.4 569.7 L284.7 569.7 L285 569.7 L285.3 569.7 L285.6 569.7 L285.9 569.7 L286.2 569.7 L286.5 569.7 L286.8 569.7 L287.1 569.7 L287.4 569.59 L287.7 569.26 L288 568.92 L288.3 568.81 L288.6 569.14 L288.9 569.48 L289.2 569.7 L289.5 569.7 L289.8 569.7 L290.1 569.7 L290.4 569.6 L290.7 569.37 L291 568.37 L291.3 567.37 L291.6 567.03 L291.9 568.03 L292.2 567.03 L292.5 565.7 L292.8 567.03 L293.1 568.14 L293.4 566.98 L293.7 566.59 L294 567.76 L294.3 566.9 L294.6 565.5 L294.9 566.9 L295.2 568.3 L295.5 569.42 L295.8 569.7 L296.1 569.7 L296.4 569.7 L296.7 569.31 L297 568.14 L297.3 566.98 L297.6 566.59 L297.9 567.7 L298.2 566.7 L298.5 567.7 L298.8 568.7 L299.1 569.44 L299.4 569.7 L299.7 569.55 L300 569.47 L300.3 569.7 L300.6 569.56 L300.9 569.7 L301.2 569.7 L301.5 569.7 L301.8 569.7 L302.1 569.7 L302.4 569.7 L302.7 569.7 L303 569.7 L303.3 569.7 L303.6 569.7 L303.9 569.7 L304.2 569.7 L304.5 569.7 L304.8 569.63 L305.1 569.7 L305.4 569.7 L305.7 569.7 L306 569.7 L306.3 569.51 L306.6 569.7 L306.9 569.7 L307.2 569.7 L307.5 569.63 L307.8 569.7 L308.1 569.7 L308.4 569.42 L308.7 569.7 L309 569.7 L309.3 568.03 L309.6 566.37 L309.9 564.7 L310.2 566.37 L310.5 567.92 L310.8 566.59 L311.1 566.14 L311.4 567.48 L311.7 567.26 L312 565.42 L312.3 564.81 L312.6 566.64 L312.9 567.7 L313.2 566.2 L313.5 565.7 L313.8 567.2 L314.1 567.03 L314.4 565.03 L314.7 564.37 L315 566.37 L315.3 567.48 L315.6 565.81 L315.9 565.26 L316.2 566.92 L316.5 565.03 L316.8 562.7 L317.1 565.03 L317.4 567.37 L317.7 569.7 L318 569.7 L318.3 569.7 L318.6 569.46 L318.9 568.72 L319.2 567.99 L319.5 567.74 L319.8 568.48 L320.1 568.3 L320.4 568.1 L320.7 568.7 L321 569.3 L321.3 569.57 L321.6 569.7 L321.9 569.7 L322.2 569.7 L322.5 569.7 L322.8 569.7 L323.1 569.58 L323.4 569.7 L323.7 569.7 L324 569.7 L324.3 569.7 L324.6 569.7 L324.9 569.7 L325.2 569.7 L325.5 569.7 L325.8 569.7 L326.1 569.7 L326.4 569.7 L326.7 569.7 L327 569.4 L327.3 569.7 L327.6 569.7 L327.9 569.7 L328.2 569.7 L328.5 569.7 L328.8 569.7 L329.1 569.7 L329.4 569.7 L329.7 569.59 L330 569.7 L330.3 569.7 L330.6 569.7 L330.9 569.7 L331.2 569.7 L331.5 569.7 L331.8 569.7 L332.1 569.7 L332.4 569.09 L332.7 567.26 L333 565.42 L333.3 564.81 L333.6 566.64 L333.9 564.37 L334.2 561.7 L334.5 564.37 L334.8 566.09 L335.1 563.92 L335.4 564.64 L335.7 566.37 L336 563.87 L336.3 563.03 L336.6 565.53 L336.9 566.14 L337.2 566.59 L337.5 567.92 L337.8 569.26 L338.1 569.7 L338.4 569.7 L338.7 569.7 L339 569.7 L339.3 569.7 L339.6 569.7 L339.9 569.7 L340.2 569.59 L340.5 569.26 L340.8 568.92 L341.1 568.81 L341.4 569.14 L341.7 569.48 L342 569.52 L342.3 569.7 L342.6 569.7 L342.9 569.7 L343.2 569.7 L343.5 569.64 L343.8 569.7 L344.1 569.7 L344.4 569.7 L344.7 569.43 L345 569.7 L345.3 569.7 L345.6 569.7 L345.9 569.7 L346.2 569.7 L346.5 569.7 L346.8 569.7 L347.1 569.7 L347.4 569.7 L347.7 569.7 L348 569.7 L348.3 569.7 L348.6 569.7 L348.9 569.7 L349.2 569.7 L349.5 569.56 L349.8 569.7 L350.1 569.7 L350.4 569.64 L350.7 569.7 L351 569.7 L351.3 569.7 L351.6 569.7 L351.9 569.7 L352.2 569.7 L352.5 569.7 L352.8 569.7 L353.1 569.7 L353.4 568.2 L353.7 566.7 L354 565.2 L354.3 566.7 L354.6 566.26 L354.9 564.19 L355.2 564.88 L355.5 565.81 L355.8 565.26 L356.1 566.92 L356.4 568.59 L356.7 569.7 L357 569.7 L357.3 569.45 L357.6 569.7 L357.9 569.7 L358.2 569.7 L358.5 569.67 L358.8 569.53 L359.1 569.7 L359.4 569.7 L359.7 569.7 L360 569.7 L360.3 569.7 L360.6 569.7 L360.9 569.7 L361.2 569.7 L361.5 569.7 L361.8 569.57 L362.1 569.7 L362.4 569.47 L362.7 569.7 L363 569.7 L363.3 569.7 L363.6 569.7 L363.9 569.7 L364.2 569.68 L364.5 569.7 L364.8 569.7 L365.1 569.7 L365.4 569.7 L365.7 569.7 L366 569.66 L366.3 569.7 L366.6 569.7 L366.9 569.7 L367.2 569.7 L367.5 569.7 L367.8 569.7 L368.1 569.7 L368.4 569.47 L368.7 569.7 L369 569.7 L369.3 569.7 L369.6 569.7 L369.9 569.7 L370.2 569.7 L370.5 569.7 L370.8 569.7 L371.1 569.7 L371.4 569.48 L371.7 569.7 L372 569.7 L372.3 569.7 L372.6 569.7 L372.9 569.7 L373.2 569.7 L373.5 569.7 L373.8 569.44 L374.1 569.7 L374.4 569.7 L374.7 569.7 L375 569.7 L375.3 569.7 L375.6 569.7 L375.9 569.7 L376.2 569.64 L376.4 569.7 Z" fill="#e2503e"/>
<path d="M279.9 582.7 L279.9 580.7 L280.3 580.7 L280.3 581.0 L280.5 581.0 L280.5 582.7 ZM280.5 582.7 L280.5 580.5 L280.9 580.5 L280.9 580.5 L281.3 580.5 L281.3 580.8 L281.7 580.8 L281.7 580.6 L282.1 580.6 L282.1 582.7 ZM282.1 582.7 L282.1 580.0 L282.5 580.0 L282.5 580.2 L282.9 580.2 L282.9 580.3 L283.3 580.3 L283.3 580.0 L283.4 580.0 L283.4 582.7 ZM283.4 582.7 L283.4 579.9 L283.8 579.9 L283.8 579.9 L284.0 579.9 L284.0 582.7 ZM284.0 582.7 L284.0 579.4 L284.4 579.4 L284.4 579.6 L284.8 579.6 L284.8 579.8 L285.2 579.8 L285.2 582.7 ZM285.2 582.7 L285.2 579.5 L285.6 579.5 L285.6 579.0 L286.0 579.0 L286.0 579.3 L286.4 579.3 L286.4 579.6 L286.8 579.6 L286.8 582.7 ZM286.8 582.7 L286.8 579.0 L287.2 579.0 L287.2 579.5 L287.6 579.5 L287.6 579.1 L287.9 579.1 L287.9 582.7 ZM287.9 582.7 L287.9 582.4 L288.3 582.4 L288.3 582.4 L288.7 582.4 L288.7 582.4 L288.9 582.4 L288.9 582.7 ZM288.9 582.7 L288.9 582.4 L289.3 582.4 L289.3 582.4 L289.6 582.4 L289.6 582.7 ZM289.6 582.7 L289.6 582.4 L290.0 582.4 L290.0 582.4 L290.4 582.4 L290.4 582.4 L290.8 582.4 L290.8 582.4 L291.2 582.4 L291.2 582.4 L291.3 582.4 L291.3 582.7 ZM291.3 582.7 L291.3 582.4 L291.7 582.4 L291.7 582.4 L292.1 582.4 L292.1 582.4 L292.5 582.4 L292.5 582.4 L292.9 582.4 L292.9 582.4 L293.1 582.4 L293.1 582.7 ZM293.1 582.7 L293.1 582.4 L293.5 582.4 L293.5 582.4 L293.8 582.4 L293.8 582.7 ZM293.8 582.7 L293.8 582.4 L294.2 582.4 L294.2 582.4 L294.6 582.4 L294.6 582.4 L295.0 582.4 L295.0 582.4 L295.4 582.4 L295.4 582.4 L295.5 582.4 L295.5 582.7 ZM295.5 582.7 L295.5 582.4 L295.9 582.4 L295.9 582.4 L296.3 582.4 L296.3 582.4 L296.7 582.4 L296.7 582.4 L297.0 582.4 L297.0 582.7 ZM297.0 582.7 L297.0 582.4 L297.4 582.4 L297.4 582.4 L297.8 582.4 L297.8 582.4 L298.2 582.4 L298.2 582.4 L298.4 582.4 L298.4 582.7 ZM298.4 582.7 L298.4 582.4 L298.8 582.4 L298.8 582.4 L299.2 582.4 L299.2 582.4 L299.3 582.4 L299.3 582.7 ZM299.3 582.7 L299.3 582.4 L299.7 582.4 L299.7 582.4 L300.1 582.4 L300.1 582.4 L300.1 582.4 L300.1 582.7 ZM300.1 582.7 L300.1 582.4 L300.5 582.4 L300.5 582.4 L300.9 582.4 L300.9 582.4 L301.0 582.4 L301.0 582.7 ZM301.0 582.7 L301.0 582.4 L301.4 582.4 L301.4 582.4 L301.8 582.4 L301.8 582.4 L302.2 582.4 L302.2 582.7 ZM302.2 582.7 L302.2 582.4 L302.6 582.4 L302.6 582.4 L303.0 582.4 L303.0 582.4 L303.4 582.4 L303.4 582.4 L303.8 582.4 L303.8 582.4 L303.9 582.4 L303.9 582.7 ZM303.9 582.7 L303.9 582.4 L304.3 582.4 L304.3 582.4 L304.5 582.4 L304.5 582.7 ZM304.5 582.7 L304.5 582.4 L304.9 582.4 L304.9 582.4 L305.0 582.4 L305.0 582.7 ZM305.0 582.7 L305.0 582.4 L305.4 582.4 L305.4 582.4 L305.8 582.4 L305.8 582.7 ZM305.8 582.7 L305.8 582.4 L306.2 582.4 L306.2 582.4 L306.6 582.4 L306.6 582.4 L306.7 582.4 L306.7 582.7 ZM306.7 582.7 L306.7 582.4 L307.1 582.4 L307.1 582.4 L307.5 582.4 L307.5 582.7 ZM307.5 582.7 L307.5 582.4 L307.9 582.4 L307.9 582.4 L308.3 582.4 L308.3 582.4 L308.4 582.4 L308.4 582.7 ZM308.4 582.7 L308.4 582.4 L308.8 582.4 L308.8 582.7 ZM308.8 582.7 L308.8 578.5 L309.2 578.5 L309.2 578.5 L309.6 578.5 L309.6 578.8 L310.0 578.8 L310.0 578.1 L310.3 578.1 L310.3 582.7 ZM310.3 582.7 L310.3 578.8 L310.7 578.8 L310.7 578.7 L311.1 578.7 L311.1 577.9 L311.5 577.9 L311.5 578.1 L311.6 578.1 L311.6 582.7 ZM311.6 582.7 L311.6 577.6 L312.0 577.6 L312.0 578.0 L312.4 578.0 L312.4 577.9 L312.5 577.9 L312.5 582.7 ZM312.5 582.7 L312.5 578.1 L312.6 578.1 L312.6 582.7 ZM312.6 582.7 L312.6 582.4 L313.0 582.4 L313.0 582.4 L313.4 582.4 L313.4 582.3 L313.7 582.3 L313.7 582.7 ZM313.7 582.7 L313.7 582.3 L314.1 582.3 L314.1 582.3 L314.3 582.3 L314.3 582.7 ZM314.4 582.7 L314.4 577.3 L314.8 577.3 L314.8 577.5 L315.2 577.5 L315.2 576.7 L315.3 576.7 L315.3 582.7 ZM315.3 582.7 L315.3 577.8 L315.7 577.8 L315.7 577.7 L315.7 577.7 L315.7 582.7 ZM315.8 582.7 L315.8 582.4 L316.2 582.4 L316.2 582.4 L316.6 582.4 L316.6 582.4 L316.7 582.4 L316.7 582.7 ZM316.7 582.7 L316.7 582.4 L317.1 582.4 L317.1 582.4 L317.5 582.4 L317.5 582.4 L317.6 582.4 L317.6 582.7 ZM317.6 582.7 L317.6 582.4 L318.0 582.4 L318.0 582.4 L318.4 582.4 L318.4 582.4 L318.8 582.4 L318.8 582.4 L319.2 582.4 L319.2 582.7 ZM319.2 582.7 L319.2 582.4 L319.6 582.4 L319.6 582.4 L320.0 582.4 L320.0 582.7 ZM320.0 582.7 L320.0 582.4 L320.4 582.4 L320.4 582.4 L320.8 582.4 L320.8 582.4 L321.1 582.4 L321.1 582.7 ZM321.1 582.7 L321.1 582.4 L321.5 582.4 L321.5 582.4 L321.9 582.4 L321.9 582.4 L322.3 582.4 L322.3 582.4 L322.7 582.4 L322.7 582.7 ZM322.7 582.7 L322.7 582.4 L323.1 582.4 L323.1 582.4 L323.5 582.4 L323.5 582.4 L323.9 582.4 L323.9 582.7 ZM323.9 582.7 L323.9 582.4 L324.3 582.4 L324.3 582.4 L324.7 582.4 L324.7 582.4 L325.1 582.4 L325.1 582.4 L325.5 582.4 L325.5 582.4 L325.5 582.4 L325.5 582.7 ZM325.5 582.7 L325.5 582.4 L325.9 582.4 L325.9 582.4 L326.3 582.4 L326.3 582.4 L326.7 582.4 L326.7 582.4 L326.9 582.4 L326.9 582.7 ZM326.9 582.7 L326.9 582.4 L327.3 582.4 L327.3 582.4 L327.6 582.4 L327.6 582.7 ZM327.6 582.7 L327.6 582.4 L328.0 582.4 L328.0 582.4 L328.4 582.4 L328.4 582.4 L328.8 582.4 L328.8 582.4 L329.0 582.4 L329.0 582.7 ZM329.0 582.7 L329.0 582.4 L329.4 582.4 L329.4 582.4 L329.8 582.4 L329.8 582.4 L330.2 582.4 L330.2 582.4 L330.3 582.4 L330.3 582.7 ZM330.3 582.7 L330.3 582.4 L330.7 582.4 L330.7 582.4 L331.1 582.4 L331.1 582.4 L331.5 582.4 L331.5 582.7 ZM331.5 582.7 L331.5 582.4 L331.9 582.4 L331.9 582.4 L332.1 582.4 L332.1 582.7 ZM332.1 582.7 L332.1 582.4 L332.5 582.4 L332.5 582.4 L332.9 582.4 L332.9 582.4 L333.3 582.4 L333.3 582.4 L333.6 582.4 L333.6 582.7 ZM333.6 582.7 L333.6 582.4 L334.0 582.4 L334.0 582.4 L334.4 582.4 L334.4 582.4 L334.8 582.4 L334.8 582.4 L335.0 582.4 L335.0 582.7 ZM335.0 582.7 L335.0 582.4 L335.4 582.4 L335.4 582.4 L335.6 582.4 L335.6 582.7 ZM335.7 582.7 L335.7 575.1 L336.1 575.1 L336.1 574.7 L336.4 574.7 L336.4 582.7 ZM336.4 582.7 L336.4 574.1 L336.8 574.1 L336.8 574.3 L337.2 574.3 L337.2 574.0 L337.6 574.0 L337.6 575.1 L337.7 575.1 L337.7 582.7 ZM337.7 582.7 L337.7 574.8 L338.1 574.8 L338.1 575.5 L338.5 575.5 L338.5 574.2 L338.6 574.2 L338.6 582.7 ZM338.6 582.7 L338.6 574.6 L339.0 574.6 L339.0 575.0 L339.3 575.0 L339.3 582.7 ZM339.3 582.7 L339.3 574.7 L339.7 574.7 L339.7 575.1 L340.0 575.1 L340.0 582.7 ZM340.0 582.7 L340.0 575.8 L340.4 575.8 L340.4 575.8 L340.8 575.8 L340.8 575.1 L340.9 575.1 L340.9 582.7 ZM340.9 582.7 L340.9 575.5 L341.3 575.5 L341.3 576.0 L341.7 576.0 L341.7 576.2 L341.9 576.2 L341.9 582.7 ZM341.9 582.7 L341.9 575.8 L342.3 575.8 L342.3 575.9 L342.7 575.9 L342.7 576.3 L343.1 576.3 L343.1 575.5 L343.5 575.5 L343.5 575.4 L343.6 575.4 L343.6 582.7 ZM343.6 582.7 L343.6 576.1 L344.0 576.1 L344.0 576.2 L344.3 576.2 L344.3 582.7 ZM344.3 582.7 L344.3 576.0 L344.7 576.0 L344.7 575.9 L345.1 575.9 L345.1 576.0 L345.5 576.0 L345.5 576.3 L345.5 576.3 L345.5 582.7 ZM345.5 582.7 L345.5 576.2 L345.9 576.2 L345.9 575.4 L346.3 575.4 L346.3 576.8 L346.6 576.8 L346.6 582.7 ZM346.6 582.7 L346.6 576.4 L347.0 576.4 L347.0 576.0 L347.4 576.0 L347.4 576.4 L347.4 576.4 L347.4 582.7 ZM347.4 582.7 L347.4 576.1 L347.8 576.1 L347.8 576.6 L348.2 576.6 L348.2 576.1 L348.6 576.1 L348.6 576.2 L349.0 576.2 L349.0 576.5 L349.1 576.5 L349.1 582.7 ZM349.1 582.7 L349.1 575.8 L349.5 575.8 L349.5 577.0 L349.9 577.0 L349.9 576.1 L350.0 576.1 L350.0 582.7 ZM350.0 582.7 L350.0 576.3 L350.4 576.3 L350.4 577.0 L350.8 577.0 L350.8 576.4 L351.1 576.4 L351.1 582.7 ZM351.1 582.7 L351.1 577.5 L351.5 577.5 L351.5 577.2 L351.9 577.2 L351.9 577.1 L352.1 577.1 L352.1 582.7 ZM352.1 582.7 L352.1 577.5 L352.5 577.5 L352.5 577.3 L352.9 577.3 L352.9 578.0 L353.1 578.0 L353.1 582.7 ZM353.1 582.7 L353.1 578.3 L353.5 578.3 L353.5 578.2 L353.9 578.2 L353.9 578.3 L354.3 578.3 L354.3 578.6 L354.7 578.6 L354.7 577.8 L354.9 577.8 L354.9 582.7 ZM354.9 582.7 L354.9 578.8 L355.3 578.8 L355.3 578.9 L355.7 578.9 L355.7 582.7 ZM355.7 582.7 L355.7 579.3 L356.1 579.3 L356.1 579.1 L356.5 579.1 L356.5 578.8 L356.9 578.8 L356.9 579.2 L357.0 579.2 L357.0 582.7 ZM357.0 582.7 L357.0 579.6 L357.1 579.6 L357.1 582.7 Z" fill="#4f76a8"/>
<path d="M279.9 596.0 L279.9 594.8 L280.3 594.8 L280.3 594.7 L280.7 594.7 L280.7 594.9 L281.0 594.9 L281.0 596.0 ZM281.0 596.0 L281.0 594.9 L281.4 594.9 L281.4 594.8 L281.7 594.8 L281.7 596.0 ZM281.7 596.0 L281.7 594.7 L282.1 594.7 L282.1 594.7 L282.5 594.7 L282.5 594.6 L282.9 594.6 L282.9 594.7 L283.2 594.7 L283.2 596.0 ZM283.2 596.0 L283.2 594.6 L283.6 594.6 L283.6 594.7 L284.0 594.7 L284.0 594.7 L284.4 594.7 L284.4 594.4 L284.5 594.4 L284.5 596.0 ZM284.5 596.0 L284.5 594.6 L284.9 594.6 L284.9 594.4 L285.3 594.4 L285.3 594.4 L285.7 594.4 L285.7 594.2 L286.1 594.2 L286.1 594.5 L286.3 594.5 L286.3 596.0 ZM286.3 596.0 L286.3 594.2 L286.7 594.2 L286.7 594.2 L286.9 594.2 L286.9 596.0 ZM286.9 596.0 L286.9 594.1 L287.3 594.1 L287.3 594.2 L287.7 594.2 L287.7 594.3 L287.9 594.3 L287.9 596.0 ZM287.9 596.0 L287.9 595.8 L288.3 595.8 L288.3 595.8 L288.7 595.8 L288.7 595.8 L289.1 595.8 L289.1 595.8 L289.2 595.8 L289.2 596.0 ZM289.2 596.0 L289.2 595.8 L289.6 595.8 L289.6 595.8 L290.0 595.8 L290.0 595.8 L290.4 595.8 L290.4 595.8 L290.8 595.8 L290.8 596.0 ZM290.8 596.0 L290.8 595.8 L291.2 595.8 L291.2 595.8 L291.6 595.8 L291.6 595.8 L292.0 595.8 L292.0 595.8 L292.2 595.8 L292.2 596.0 ZM292.2 596.0 L292.2 595.8 L292.6 595.8 L292.6 595.8 L293.0 595.8 L293.0 595.8 L293.4 595.8 L293.4 595.8 L293.8 595.8 L293.8 596.0 ZM293.8 596.0 L293.8 595.8 L294.2 595.8 L294.2 595.8 L294.6 595.8 L294.6 595.8 L294.6 595.8 L294.6 596.0 ZM294.6 596.0 L294.6 595.8 L295.0 595.8 L295.0 595.8 L295.4 595.8 L295.4 595.8 L295.5 595.8 L295.5 596.0 ZM295.5 596.0 L295.5 595.8 L295.9 595.8 L295.9 595.8 L296.3 595.8 L296.3 595.8 L296.7 595.8 L296.7 595.8 L297.1 595.8 L297.1 596.0 ZM297.1 596.0 L297.1 595.8 L297.5 595.8 L297.5 595.8 L297.9 595.8 L297.9 595.8 L298.3 595.8 L298.3 595.8 L298.7 595.8 L298.7 595.8 L298.8 595.8 L298.8 596.0 ZM298.8 596.0 L298.8 595.8 L299.2 595.8 L299.2 595.8 L299.6 595.8 L299.6 595.8 L300.0 595.8 L300.0 595.8 L300.4 595.8 L300.4 595.8 L300.5 595.8 L300.5 596.0 ZM300.5 596.0 L300.5 595.8 L300.9 595.8 L300.9 595.8 L301.3 595.8 L301.3 595.8 L301.7 595.8 L301.7 595.8 L302.1 595.8 L302.1 595.8 L302.2 595.8 L302.2 596.0 ZM302.2 596.0 L302.2 595.8 L302.6 595.8 L302.6 595.8 L303.0 595.8 L303.0 595.8 L303.4 595.8 L303.4 595.8 L303.6 595.8 L303.6 596.0 ZM303.6 596.0 L303.6 595.8 L304.0 595.8 L304.0 595.8 L304.4 595.8 L304.4 595.8 L304.5 595.8 L304.5 596.0 ZM304.5 596.0 L304.5 595.8 L304.9 595.8 L304.9 595.8 L305.3 595.8 L305.3 595.8 L305.7 595.8 L305.7 596.0 ZM305.7 596.0 L305.7 595.8 L306.1 595.8 L306.1 595.8 L306.5 595.8 L306.5 595.8 L306.9 595.8 L306.9 595.8 L307.3 595.8 L307.3 596.0 ZM307.3 596.0 L307.3 595.8 L307.7 595.8 L307.7 595.8 L308.1 595.8 L308.1 595.8 L308.5 595.8 L308.5 595.8 L308.7 595.8 L308.7 596.0 ZM308.7 596.0 L308.7 595.8 L308.8 595.8 L308.8 596.0 ZM308.8 596.0 L308.8 593.0 L309.2 593.0 L309.2 593.2 L309.6 593.2 L309.6 593.3 L310.0 593.3 L310.0 596.0 ZM310.0 596.0 L310.0 592.9 L310.4 592.9 L310.4 593.1 L310.8 593.1 L310.8 592.9 L311.2 592.9 L311.2 593.1 L311.4 593.1 L311.4 596.0 ZM311.4 596.0 L311.4 592.7 L311.8 592.7 L311.8 593.2 L312.0 593.2 L312.0 596.0 ZM312.0 596.0 L312.0 592.6 L312.4 592.6 L312.4 592.6 L312.6 592.6 L312.6 596.0 ZM312.6 596.0 L312.6 595.7 L313.0 595.7 L313.0 595.7 L313.4 595.7 L313.4 595.7 L313.8 595.7 L313.8 595.7 L314.2 595.7 L314.2 595.8 L314.3 595.8 L314.3 596.0 ZM314.4 596.0 L314.4 591.8 L314.8 591.8 L314.8 592.2 L315.2 592.2 L315.2 592.2 L315.6 592.2 L315.6 592.0 L315.7 592.0 L315.7 596.0 ZM315.8 596.0 L315.8 595.8 L316.2 595.8 L316.2 595.8 L316.6 595.8 L316.6 595.8 L317.0 595.8 L317.0 595.8 L317.3 595.8 L317.3 596.0 ZM317.3 596.0 L317.3 595.8 L317.7 595.8 L317.7 595.8 L318.1 595.8 L318.1 595.8 L318.3 595.8 L318.3 596.0 ZM318.3 596.0 L318.3 595.8 L318.7 595.8 L318.7 595.8 L318.9 595.8 L318.9 596.0 ZM318.9 596.0 L318.9 595.8 L319.3 595.8 L319.3 595.8 L319.7 595.8 L319.7 595.8 L320.1 595.8 L320.1 595.8 L320.5 595.8 L320.5 595.8 L320.7 595.8 L320.7 596.0 ZM320.7 596.0 L320.7 595.8 L321.1 595.8 L321.1 595.8 L321.5 595.8 L321.5 595.8 L321.7 595.8 L321.7 596.0 ZM321.7 596.0 L321.7 595.8 L322.1 595.8 L322.1 595.8 L322.5 595.8 L322.5 595.8 L322.9 595.8 L322.9 595.8 L323.0 595.8 L323.0 596.0 ZM323.0 596.0 L323.0 595.8 L323.4 595.8 L323.4 595.8 L323.8 595.8 L323.8 596.0 ZM323.8 596.0 L323.8 595.8 L324.2 595.8 L324.2 595.8 L324.6 595.8 L324.6 595.8 L324.8 595.8 L324.8 596.0 ZM324.8 596.0 L324.8 595.8 L325.2 595.8 L325.2 595.8 L325.6 595.8 L325.6 595.8 L326.0 595.8 L326.0 595.8 L326.4 595.8 L326.4 595.8 L326.6 595.8 L326.6 596.0 ZM326.6 596.0 L326.6 595.8 L327.0 595.8 L327.0 595.8 L327.4 595.8 L327.4 595.8 L327.6 595.8 L327.6 596.0 ZM327.6 596.0 L327.6 595.8 L328.0 595.8 L328.0 595.8 L328.2 595.8 L328.2 596.0 ZM328.2 596.0 L328.2 595.8 L328.6 595.8 L328.6 595.8 L329.0 595.8 L329.0 595.8 L329.4 595.8 L329.4 595.8 L329.7 595.8 L329.7 596.0 ZM329.7 596.0 L329.7 595.8 L330.1 595.8 L330.1 595.8 L330.5 595.8 L330.5 595.8 L330.9 595.8 L330.9 595.8 L331.0 595.8 L331.0 596.0 ZM331.0 596.0 L331.0 595.8 L331.4 595.8 L331.4 595.8 L331.8 595.8 L331.8 595.8 L332.2 595.8 L332.2 595.8 L332.6 595.8 L332.6 595.8 L332.7 595.8 L332.7 596.0 ZM332.7 596.0 L332.7 595.8 L333.1 595.8 L333.1 595.8 L333.5 595.8 L333.5 595.8 L333.9 595.8 L333.9 595.8 L334.0 595.8 L334.0 596.0 ZM334.0 596.0 L334.0 595.8 L334.4 595.8 L334.4 595.8 L334.6 595.8 L334.6 596.0 ZM334.6 596.0 L334.6 595.8 L335.0 595.8 L335.0 595.8 L335.4 595.8 L335.4 595.8 L335.6 595.8 L335.6 596.0 ZM335.7 596.0 L335.7 591.6 L336.1 591.6 L336.1 591.8 L336.5 591.8 L336.5 591.0 L336.9 591.0 L336.9 591.1 L337.0 591.1 L337.0 596.0 ZM337.0 596.0 L337.0 591.0 L337.4 591.0 L337.4 591.5 L337.8 591.5 L337.8 591.1 L338.0 591.1 L338.0 596.0 ZM338.0 596.0 L338.0 590.7 L338.4 590.7 L338.4 591.2 L338.8 591.2 L338.8 591.5 L339.2 591.5 L339.2 590.7 L339.3 590.7 L339.3 596.0 ZM339.3 596.0 L339.3 591.7 L339.7 591.7 L339.7 591.6 L340.1 591.6 L340.1 590.6 L340.2 590.6 L340.2 596.0 ZM340.2 596.0 L340.2 590.7 L340.6 590.7 L340.6 590.9 L341.0 590.9 L341.0 590.7 L341.1 590.7 L341.1 596.0 ZM341.1 596.0 L341.1 591.5 L341.5 591.5 L341.5 590.6 L341.9 590.6 L341.9 591.3 L342.0 591.3 L342.0 596.0 ZM342.0 596.0 L342.0 591.5 L342.4 591.5 L342.4 591.6 L342.8 591.6 L342.8 591.9 L343.1 591.9 L343.1 596.0 ZM343.1 596.0 L343.1 591.7 L343.5 591.7 L343.5 592.0 L343.9 592.0 L343.9 591.6 L344.3 591.6 L344.3 591.4 L344.7 591.4 L344.7 591.4 L344.8 591.4 L344.8 596.0 ZM344.8 596.0 L344.8 592.1 L345.2 592.1 L345.2 591.9 L345.6 591.9 L345.6 591.6 L346.0 591.6 L346.0 591.4 L346.4 591.4 L346.4 591.7 L346.5 591.7 L346.5 596.0 ZM346.5 596.0 L346.5 591.7 L346.9 591.7 L346.9 591.5 L347.1 591.5 L347.1 596.0 ZM347.1 596.0 L347.1 591.7 L347.5 591.7 L347.5 591.2 L347.9 591.2 L347.9 591.2 L348.3 591.2 L348.3 591.8 L348.5 591.8 L348.5 596.0 ZM348.5 596.0 L348.5 591.7 L348.9 591.7 L348.9 591.7 L349.3 591.7 L349.3 592.1 L349.6 592.1 L349.6 596.0 ZM349.6 596.0 L349.6 592.0 L350.0 592.0 L350.0 596.0 ZM350.0 596.0 L350.0 591.7 L350.4 591.7 L350.4 592.2 L350.8 592.2 L350.8 591.7 L351.2 591.7 L351.2 592.0 L351.5 592.0 L351.5 596.0 ZM351.5 596.0 L351.5 592.3 L351.9 592.3 L351.9 592.4 L352.3 592.4 L352.3 592.4 L352.5 592.4 L352.5 596.0 ZM352.5 596.0 L352.5 592.8 L352.9 592.8 L352.9 592.5 L353.3 592.5 L353.3 592.3 L353.7 592.3 L353.7 592.9 L354.1 592.9 L354.1 592.4 L354.1 592.4 L354.1 596.0 ZM354.1 596.0 L354.1 592.7 L354.5 592.7 L354.5 593.1 L354.9 593.1 L354.9 596.0 ZM354.9 596.0 L354.9 593.5 L355.3 593.5 L355.3 593.1 L355.7 593.1 L355.7 596.0 ZM355.7 596.0 L355.7 593.7 L356.1 593.7 L356.1 593.5 L356.5 593.5 L356.5 593.7 L356.6 593.7 L356.6 596.0 ZM356.6 596.0 L356.6 593.5 L357.0 593.5 L357.0 593.8 L357.1 593.8 L357.1 596.0 Z" fill="#ea7a2c"/>
<text x="210.5" y="555.6" font-size="5.2" font-weight="bold" text-anchor="middle" fill="#111">HMGB2</text>
<text x="210.3" y="562.9" font-size="5.3" font-weight="bold" text-anchor="middle" fill="#111">CUT&amp;Tag</text>
<line x1="222.4" y1="544.5" x2="222.4" y2="568.1" stroke="#333" stroke-width="0.6"/>
<text x="210.3" y="584.5" font-size="5.3" font-weight="bold" text-anchor="middle" fill="#111">RNA-seq</text>
<line x1="222.4" y1="573" x2="222.4" y2="594.5" stroke="#333" stroke-width="0.6"/>
<text x="247.6" y="553.4" font-size="5.4" font-weight="bold" text-anchor="end" fill="#111">–HGF</text>
<text x="247.6" y="566.5" font-size="5.4" font-weight="bold" text-anchor="end" fill="#111">+HGF</text>
<text x="247.6" y="581.3" font-size="5.4" font-weight="bold" text-anchor="end" fill="#111">SCR</text>
<text x="247.6" y="594.3" font-size="5.4" font-weight="bold" text-anchor="end" fill="#111">siHmgb2</text>
<line x1="278.8" y1="608" x2="359.8" y2="608" stroke="#444" stroke-width="0.45" stroke-dasharray="0.9 1.3"/>
<rect x="278.8" y="606.6" width="9.7" height="2.8" fill="#2a1f4e"/>
<rect x="308.7" y="606.6" width="3.9" height="2.8" fill="#2a1f4e"/>
<rect x="314.8" y="606.7" width="1.4" height="2.6" fill="#2a1f4e"/>
<rect x="335.6" y="606.6" width="24.2" height="2.8" fill="#2a1f4e"/>
<line x1="279" y1="603.2" x2="288.5" y2="603.2" stroke="#333" stroke-width="0.7"/>
<path d="M286.7 601.9 L288.5 603.2 L286.7 604.5" fill="none" stroke="#333" stroke-width="0.6"/>
<text x="362.5" y="609.2" font-size="3.4" font-weight="bold" font-style="italic" fill="#333">Hhex</text>
<text x="-0.1" y="637.8" font-size="11.2" font-weight="bold">i</text>
<line x1="43.4" y1="679.53" x2="43.4" y2="680.52" stroke="#555" stroke-width="0.5"/>
<line x1="42.4" y1="679.53" x2="44.4" y2="679.53" stroke="#555" stroke-width="0.5"/>
<rect x="41.45" y="680.52" width="3.9" height="19.88" fill="#f062e6" stroke="#b52aa8" stroke-width="0.5"/>
<line x1="53.9" y1="649.71" x2="53.9" y2="650.7" stroke="#555" stroke-width="0.5"/>
<line x1="52.9" y1="649.71" x2="54.9" y2="649.71" stroke="#555" stroke-width="0.5"/>
<rect x="51.95" y="650.7" width="3.9" height="49.7" fill="#f062e6" stroke="#b52aa8" stroke-width="0.5"/>
<line x1="64.3" y1="684" x2="64.3" y2="685.99" stroke="#555" stroke-width="0.5"/>
<line x1="63.3" y1="684" x2="65.3" y2="684" stroke="#555" stroke-width="0.5"/>
<rect x="62.35" y="685.99" width="3.9" height="14.41" fill="#f062e6" stroke="#b52aa8" stroke-width="0.5"/>
<line x1="74.6" y1="680.02" x2="74.6" y2="680.52" stroke="#555" stroke-width="0.5"/>
<line x1="73.6" y1="680.02" x2="75.6" y2="680.02" stroke="#555" stroke-width="0.5"/>
<rect x="72.65" y="680.52" width="3.9" height="19.88" fill="#f062e6" stroke="#b52aa8" stroke-width="0.5"/>
<line x1="38.4" y1="640.2" x2="38.4" y2="700.4" stroke="#111" stroke-width="0.8"/>
<line x1="38.4" y1="700.4" x2="80.2" y2="700.4" stroke="#111" stroke-width="0.8"/>
<line x1="48.9" y1="700.4" x2="48.9" y2="701.5" stroke="#111" stroke-width="0.5"/>
<line x1="59.3" y1="700.4" x2="59.3" y2="701.5" stroke="#111" stroke-width="0.5"/>
<line x1="69.7" y1="700.4" x2="69.7" y2="701.5" stroke="#111" stroke-width="0.5"/>
<line x1="80.1" y1="700.4" x2="80.1" y2="701.5" stroke="#111" stroke-width="0.5"/>
<line x1="37.1" y1="700.4" x2="38.4" y2="700.4" stroke="#111" stroke-width="0.6"/>
<text x="36.6" y="702.35" font-size="5.4" font-weight="bold" text-anchor="end">0</text>
<line x1="37.1" y1="690.46" x2="38.4" y2="690.46" stroke="#111" stroke-width="0.6"/>
<text x="36.6" y="692.41" font-size="5.4" font-weight="bold" text-anchor="end">0.2</text>
<line x1="37.1" y1="680.52" x2="38.4" y2="680.52" stroke="#111" stroke-width="0.6"/>
<text x="36.6" y="682.47" font-size="5.4" font-weight="bold" text-anchor="end">0.4</text>
<line x1="37.1" y1="670.58" x2="38.4" y2="670.58" stroke="#111" stroke-width="0.6"/>
<text x="36.6" y="672.53" font-size="5.4" font-weight="bold" text-anchor="end">0.6</text>
<line x1="37.1" y1="660.64" x2="38.4" y2="660.64" stroke="#111" stroke-width="0.6"/>
<text x="36.6" y="662.59" font-size="5.4" font-weight="bold" text-anchor="end">0.8</text>
<line x1="37.1" y1="650.7" x2="38.4" y2="650.7" stroke="#111" stroke-width="0.6"/>
<text x="36.6" y="652.65" font-size="5.4" font-weight="bold" text-anchor="end">1</text>
<line x1="37.1" y1="640.76" x2="38.4" y2="640.76" stroke="#111" stroke-width="0.6"/>
<text x="36.6" y="642.71" font-size="5.4" font-weight="bold" text-anchor="end">1.2</text>
<text x="24.8" y="670.6" font-size="5.6" font-weight="bold" text-anchor="middle" transform="rotate(-90 24.8 670.6)">Relative mRNA levels</text>
<text x="60.9" y="637.6" font-size="6.6" font-weight="bold" font-style="italic" text-anchor="middle">Hmgb2</text>
<line x1="54.2" y1="644.9" x2="74.6" y2="644.9" stroke="#888" stroke-width="0.55"/>
<line x1="54.2" y1="647.2" x2="64.3" y2="647.2" stroke="#888" stroke-width="0.55"/>
<path d="M54.2 647.2 L53.5 648.5 L53.5 649.8" fill="none" stroke="#888" stroke-width="0.55"/>
<text x="65.75" y="645.3" font-size="3.8" text-anchor="middle" fill="#444">*</text>
<text x="59.6" y="647.8" font-size="3.8" text-anchor="middle" fill="#444">*</text>
<text x="35.8" y="708.1" font-size="5.5" font-weight="bold" text-anchor="end" fill="#111">HGF</text>
<line x1="41.5" y1="706.1" x2="45.3" y2="706.1" stroke="#aaa" stroke-width="0.7"/>
<line x1="52.2" y1="706.1" x2="55.6" y2="706.1" stroke="#555" stroke-width="0.6"/>
<line x1="53.9" y1="704.1" x2="53.9" y2="708.2" stroke="#444" stroke-width="0.7"/>
<line x1="62.6" y1="706.1" x2="66" y2="706.1" stroke="#555" stroke-width="0.6"/>
<line x1="64.3" y1="704.1" x2="64.3" y2="708.2" stroke="#444" stroke-width="0.7"/>
<line x1="72.9" y1="706.1" x2="76.3" y2="706.1" stroke="#555" stroke-width="0.6"/>
<line x1="74.6" y1="704.1" x2="74.6" y2="708.2" stroke="#444" stroke-width="0.7"/>
<text x="35.8" y="714.4" font-size="5.5" font-weight="bold" text-anchor="end" fill="#111">SCR</text>
<line x1="41.7" y1="712.4" x2="45.1" y2="712.4" stroke="#555" stroke-width="0.6"/>
<line x1="43.4" y1="710.4" x2="43.4" y2="714.5" stroke="#444" stroke-width="0.7"/>
<line x1="52.2" y1="712.4" x2="55.6" y2="712.4" stroke="#555" stroke-width="0.6"/>
<line x1="53.9" y1="710.4" x2="53.9" y2="714.5" stroke="#444" stroke-width="0.7"/>
<line x1="62.4" y1="712.4" x2="66.2" y2="712.4" stroke="#aaa" stroke-width="0.7"/>
<line x1="72.7" y1="712.4" x2="76.5" y2="712.4" stroke="#aaa" stroke-width="0.7"/>
<text x="35.8" y="721.2" font-size="5.5" font-weight="bold" text-anchor="end" fill="#111">siHMGB2#1</text>
<line x1="41.5" y1="719.2" x2="45.3" y2="719.2" stroke="#aaa" stroke-width="0.7"/>
<line x1="52" y1="719.2" x2="55.8" y2="719.2" stroke="#aaa" stroke-width="0.7"/>
<line x1="62.6" y1="719.2" x2="66" y2="719.2" stroke="#555" stroke-width="0.6"/>
<line x1="64.3" y1="717.2" x2="64.3" y2="721.3" stroke="#444" stroke-width="0.7"/>
<line x1="72.7" y1="719.2" x2="76.5" y2="719.2" stroke="#aaa" stroke-width="0.7"/>
<text x="35.8" y="727.5" font-size="5.5" font-weight="bold" text-anchor="end" fill="#111">siHMGB2#2</text>
<line x1="41.5" y1="725.5" x2="45.3" y2="725.5" stroke="#aaa" stroke-width="0.7"/>
<line x1="52" y1="725.5" x2="55.8" y2="725.5" stroke="#aaa" stroke-width="0.7"/>
<line x1="62.4" y1="725.5" x2="66.2" y2="725.5" stroke="#aaa" stroke-width="0.7"/>
<line x1="72.9" y1="725.5" x2="76.3" y2="725.5" stroke="#555" stroke-width="0.6"/>
<line x1="74.6" y1="723.5" x2="74.6" y2="727.6" stroke="#444" stroke-width="0.7"/>
<line x1="120.5" y1="692.45" x2="120.5" y2="693.44" stroke="#555" stroke-width="0.5"/>
<line x1="119.5" y1="692.45" x2="121.5" y2="692.45" stroke="#555" stroke-width="0.5"/>
<rect x="118.55" y="693.44" width="3.9" height="6.96" fill="#f062e6" stroke="#b52aa8" stroke-width="0.5"/>
<line x1="131" y1="649.21" x2="131" y2="650.7" stroke="#555" stroke-width="0.5"/>
<line x1="130" y1="649.21" x2="132" y2="649.21" stroke="#555" stroke-width="0.5"/>
<rect x="129.05" y="650.7" width="3.9" height="49.7" fill="#f062e6" stroke="#b52aa8" stroke-width="0.5"/>
<line x1="141.4" y1="670.08" x2="141.4" y2="675.05" stroke="#555" stroke-width="0.5"/>
<line x1="140.4" y1="670.08" x2="142.4" y2="670.08" stroke="#555" stroke-width="0.5"/>
<rect x="139.45" y="675.05" width="3.9" height="25.35" fill="#f062e6" stroke="#b52aa8" stroke-width="0.5"/>
<line x1="151.7" y1="677.04" x2="151.7" y2="679.03" stroke="#555" stroke-width="0.5"/>
<line x1="150.7" y1="677.04" x2="152.7" y2="677.04" stroke="#555" stroke-width="0.5"/>
<rect x="149.75" y="679.03" width="3.9" height="21.37" fill="#f062e6" stroke="#b52aa8" stroke-width="0.5"/>
<line x1="115.5" y1="640.2" x2="115.5" y2="700.4" stroke="#111" stroke-width="0.8"/>
<line x1="115.5" y1="700.4" x2="157.3" y2="700.4" stroke="#111" stroke-width="0.8"/>
<line x1="126" y1="700.4" x2="126" y2="701.5" stroke="#111" stroke-width="0.5"/>
<line x1="136.4" y1="700.4" x2="136.4" y2="701.5" stroke="#111" stroke-width="0.5"/>
<line x1="146.8" y1="700.4" x2="146.8" y2="701.5" stroke="#111" stroke-width="0.5"/>
<line x1="157.2" y1="700.4" x2="157.2" y2="701.5" stroke="#111" stroke-width="0.5"/>
<line x1="114.2" y1="700.4" x2="115.5" y2="700.4" stroke="#111" stroke-width="0.6"/>
<text x="113.7" y="702.35" font-size="5.4" font-weight="bold" text-anchor="end">0</text>
<line x1="114.2" y1="690.46" x2="115.5" y2="690.46" stroke="#111" stroke-width="0.6"/>
<text x="113.7" y="692.41" font-size="5.4" font-weight="bold" text-anchor="end">0.2</text>
<line x1="114.2" y1="680.52" x2="115.5" y2="680.52" stroke="#111" stroke-width="0.6"/>
<text x="113.7" y="682.47" font-size="5.4" font-weight="bold" text-anchor="end">0.4</text>
<line x1="114.2" y1="670.58" x2="115.5" y2="670.58" stroke="#111" stroke-width="0.6"/>
<text x="113.7" y="672.53" font-size="5.4" font-weight="bold" text-anchor="end">0.6</text>
<line x1="114.2" y1="660.64" x2="115.5" y2="660.64" stroke="#111" stroke-width="0.6"/>
<text x="113.7" y="662.59" font-size="5.4" font-weight="bold" text-anchor="end">0.8</text>
<line x1="114.2" y1="650.7" x2="115.5" y2="650.7" stroke="#111" stroke-width="0.6"/>
<text x="113.7" y="652.65" font-size="5.4" font-weight="bold" text-anchor="end">1</text>
<line x1="114.2" y1="640.76" x2="115.5" y2="640.76" stroke="#111" stroke-width="0.6"/>
<text x="113.7" y="642.71" font-size="5.4" font-weight="bold" text-anchor="end">1.2</text>
<text x="101.9" y="670.6" font-size="5.6" font-weight="bold" text-anchor="middle" transform="rotate(-90 101.9 670.6)">Relative mRNA levels</text>
<text x="138" y="637.6" font-size="6.6" font-weight="bold" font-style="italic" text-anchor="middle">Jag1</text>
<line x1="131.3" y1="644.9" x2="151.7" y2="644.9" stroke="#888" stroke-width="0.55"/>
<line x1="131.3" y1="647.2" x2="141.4" y2="647.2" stroke="#888" stroke-width="0.55"/>
<path d="M131.3 647.2 L130.6 648.5 L130.6 649.8" fill="none" stroke="#888" stroke-width="0.55"/>
<text x="142.85" y="645.3" font-size="3.8" text-anchor="middle" fill="#444">*</text>
<text x="136.7" y="647.8" font-size="3.8" text-anchor="middle" fill="#444">*</text>
<text x="112.9" y="708.1" font-size="5.5" font-weight="bold" text-anchor="end" fill="#111">HGF</text>
<line x1="118.6" y1="706.1" x2="122.4" y2="706.1" stroke="#aaa" stroke-width="0.7"/>
<line x1="129.3" y1="706.1" x2="132.7" y2="706.1" stroke="#555" stroke-width="0.6"/>
<line x1="131" y1="704.1" x2="131" y2="708.2" stroke="#444" stroke-width="0.7"/>
<line x1="139.7" y1="706.1" x2="143.1" y2="706.1" stroke="#555" stroke-width="0.6"/>
<line x1="141.4" y1="704.1" x2="141.4" y2="708.2" stroke="#444" stroke-width="0.7"/>
<line x1="150" y1="706.1" x2="153.4" y2="706.1" stroke="#555" stroke-width="0.6"/>
<line x1="151.7" y1="704.1" x2="151.7" y2="708.2" stroke="#444" stroke-width="0.7"/>
<text x="112.9" y="714.4" font-size="5.5" font-weight="bold" text-anchor="end" fill="#111">SCR</text>
<line x1="118.8" y1="712.4" x2="122.2" y2="712.4" stroke="#555" stroke-width="0.6"/>
<line x1="120.5" y1="710.4" x2="120.5" y2="714.5" stroke="#444" stroke-width="0.7"/>
<line x1="129.3" y1="712.4" x2="132.7" y2="712.4" stroke="#555" stroke-width="0.6"/>
<line x1="131" y1="710.4" x2="131" y2="714.5" stroke="#444" stroke-width="0.7"/>
<line x1="139.5" y1="712.4" x2="143.3" y2="712.4" stroke="#aaa" stroke-width="0.7"/>
<line x1="149.8" y1="712.4" x2="153.6" y2="712.4" stroke="#aaa" stroke-width="0.7"/>
<text x="112.9" y="721.2" font-size="5.5" font-weight="bold" text-anchor="end" fill="#111">siHMGB2#1</text>
<line x1="118.6" y1="719.2" x2="122.4" y2="719.2" stroke="#aaa" stroke-width="0.7"/>
<line x1="129.1" y1="719.2" x2="132.9" y2="719.2" stroke="#aaa" stroke-width="0.7"/>
<line x1="139.7" y1="719.2" x2="143.1" y2="719.2" stroke="#555" stroke-width="0.6"/>
<line x1="141.4" y1="717.2" x2="141.4" y2="721.3" stroke="#444" stroke-width="0.7"/>
<line x1="149.8" y1="719.2" x2="153.6" y2="719.2" stroke="#aaa" stroke-width="0.7"/>
<text x="112.9" y="727.5" font-size="5.5" font-weight="bold" text-anchor="end" fill="#111">siHMGB2#2</text>
<line x1="118.6" y1="725.5" x2="122.4" y2="725.5" stroke="#aaa" stroke-width="0.7"/>
<line x1="129.1" y1="725.5" x2="132.9" y2="725.5" stroke="#aaa" stroke-width="0.7"/>
<line x1="139.5" y1="725.5" x2="143.3" y2="725.5" stroke="#aaa" stroke-width="0.7"/>
<line x1="150" y1="725.5" x2="153.4" y2="725.5" stroke="#555" stroke-width="0.6"/>
<line x1="151.7" y1="723.5" x2="151.7" y2="727.6" stroke="#444" stroke-width="0.7"/>
<line x1="199.5" y1="675.3" x2="199.5" y2="675.55" stroke="#555" stroke-width="0.5"/>
<line x1="198.5" y1="675.3" x2="200.5" y2="675.3" stroke="#555" stroke-width="0.5"/>
<rect x="197.55" y="675.55" width="3.9" height="24.85" fill="#f062e6" stroke="#b52aa8" stroke-width="0.5"/>
<line x1="210" y1="649.71" x2="210" y2="650.7" stroke="#555" stroke-width="0.5"/>
<line x1="209" y1="649.71" x2="211" y2="649.71" stroke="#555" stroke-width="0.5"/>
<rect x="208.05" y="650.7" width="3.9" height="49.7" fill="#f062e6" stroke="#b52aa8" stroke-width="0.5"/>
<line x1="220.4" y1="669.59" x2="220.4" y2="670.58" stroke="#555" stroke-width="0.5"/>
<line x1="219.4" y1="669.59" x2="221.4" y2="669.59" stroke="#555" stroke-width="0.5"/>
<rect x="218.45" y="670.58" width="3.9" height="29.82" fill="#f062e6" stroke="#b52aa8" stroke-width="0.5"/>
<line x1="230.7" y1="668.59" x2="230.7" y2="670.58" stroke="#555" stroke-width="0.5"/>
<line x1="229.7" y1="668.59" x2="231.7" y2="668.59" stroke="#555" stroke-width="0.5"/>
<rect x="228.75" y="670.58" width="3.9" height="29.82" fill="#f062e6" stroke="#b52aa8" stroke-width="0.5"/>
<line x1="194.5" y1="640.2" x2="194.5" y2="700.4" stroke="#111" stroke-width="0.8"/>
<line x1="194.5" y1="700.4" x2="236.3" y2="700.4" stroke="#111" stroke-width="0.8"/>
<line x1="205" y1="700.4" x2="205" y2="701.5" stroke="#111" stroke-width="0.5"/>
<line x1="215.4" y1="700.4" x2="215.4" y2="701.5" stroke="#111" stroke-width="0.5"/>
<line x1="225.8" y1="700.4" x2="225.8" y2="701.5" stroke="#111" stroke-width="0.5"/>
<line x1="236.2" y1="700.4" x2="236.2" y2="701.5" stroke="#111" stroke-width="0.5"/>
<line x1="193.2" y1="700.4" x2="194.5" y2="700.4" stroke="#111" stroke-width="0.6"/>
<text x="192.7" y="702.35" font-size="5.4" font-weight="bold" text-anchor="end">0</text>
<line x1="193.2" y1="690.46" x2="194.5" y2="690.46" stroke="#111" stroke-width="0.6"/>
<text x="192.7" y="692.41" font-size="5.4" font-weight="bold" text-anchor="end">0.2</text>
<line x1="193.2" y1="680.52" x2="194.5" y2="680.52" stroke="#111" stroke-width="0.6"/>
<text x="192.7" y="682.47" font-size="5.4" font-weight="bold" text-anchor="end">0.4</text>
<line x1="193.2" y1="670.58" x2="194.5" y2="670.58" stroke="#111" stroke-width="0.6"/>
<text x="192.7" y="672.53" font-size="5.4" font-weight="bold" text-anchor="end">0.6</text>
<line x1="193.2" y1="660.64" x2="194.5" y2="660.64" stroke="#111" stroke-width="0.6"/>
<text x="192.7" y="662.59" font-size="5.4" font-weight="bold" text-anchor="end">0.8</text>
<line x1="193.2" y1="650.7" x2="194.5" y2="650.7" stroke="#111" stroke-width="0.6"/>
<text x="192.7" y="652.65" font-size="5.4" font-weight="bold" text-anchor="end">1</text>
<line x1="193.2" y1="640.76" x2="194.5" y2="640.76" stroke="#111" stroke-width="0.6"/>
<text x="192.7" y="642.71" font-size="5.4" font-weight="bold" text-anchor="end">1.2</text>
<text x="180.9" y="670.6" font-size="5.6" font-weight="bold" text-anchor="middle" transform="rotate(-90 180.9 670.6)">Relative mRNA levels</text>
<text x="217" y="637.6" font-size="6.6" font-weight="bold" font-style="italic" text-anchor="middle">Egfr</text>
<line x1="210.3" y1="644.9" x2="230.7" y2="644.9" stroke="#888" stroke-width="0.55"/>
<line x1="210.3" y1="647.2" x2="220.4" y2="647.2" stroke="#888" stroke-width="0.55"/>
<path d="M210.3 647.2 L209.6 648.5 L209.6 649.8" fill="none" stroke="#888" stroke-width="0.55"/>
<text x="221.85" y="645.3" font-size="3.8" text-anchor="middle" fill="#444">*</text>
<text x="215.7" y="647.8" font-size="3.8" text-anchor="middle" fill="#444">*</text>
<text x="191.9" y="708.1" font-size="5.5" font-weight="bold" text-anchor="end" fill="#111">HGF</text>
<line x1="197.6" y1="706.1" x2="201.4" y2="706.1" stroke="#aaa" stroke-width="0.7"/>
<line x1="208.3" y1="706.1" x2="211.7" y2="706.1" stroke="#555" stroke-width="0.6"/>
<line x1="210" y1="704.1" x2="210" y2="708.2" stroke="#444" stroke-width="0.7"/>
<line x1="218.7" y1="706.1" x2="222.1" y2="706.1" stroke="#555" stroke-width="0.6"/>
<line x1="220.4" y1="704.1" x2="220.4" y2="708.2" stroke="#444" stroke-width="0.7"/>
<line x1="229" y1="706.1" x2="232.4" y2="706.1" stroke="#555" stroke-width="0.6"/>
<line x1="230.7" y1="704.1" x2="230.7" y2="708.2" stroke="#444" stroke-width="0.7"/>
<text x="191.9" y="714.4" font-size="5.5" font-weight="bold" text-anchor="end" fill="#111">SCR</text>
<line x1="197.8" y1="712.4" x2="201.2" y2="712.4" stroke="#555" stroke-width="0.6"/>
<line x1="199.5" y1="710.4" x2="199.5" y2="714.5" stroke="#444" stroke-width="0.7"/>
<line x1="208.3" y1="712.4" x2="211.7" y2="712.4" stroke="#555" stroke-width="0.6"/>
<line x1="210" y1="710.4" x2="210" y2="714.5" stroke="#444" stroke-width="0.7"/>
<line x1="218.5" y1="712.4" x2="222.3" y2="712.4" stroke="#aaa" stroke-width="0.7"/>
<line x1="228.8" y1="712.4" x2="232.6" y2="712.4" stroke="#aaa" stroke-width="0.7"/>
<text x="191.9" y="721.2" font-size="5.5" font-weight="bold" text-anchor="end" fill="#111">siHMGB2#1</text>
<line x1="197.6" y1="719.2" x2="201.4" y2="719.2" stroke="#aaa" stroke-width="0.7"/>
<line x1="208.1" y1="719.2" x2="211.9" y2="719.2" stroke="#aaa" stroke-width="0.7"/>
<line x1="218.7" y1="719.2" x2="222.1" y2="719.2" stroke="#555" stroke-width="0.6"/>
<line x1="220.4" y1="717.2" x2="220.4" y2="721.3" stroke="#444" stroke-width="0.7"/>
<line x1="228.8" y1="719.2" x2="232.6" y2="719.2" stroke="#aaa" stroke-width="0.7"/>
<text x="191.9" y="727.5" font-size="5.5" font-weight="bold" text-anchor="end" fill="#111">siHMGB2#2</text>
<line x1="197.6" y1="725.5" x2="201.4" y2="725.5" stroke="#aaa" stroke-width="0.7"/>
<line x1="208.1" y1="725.5" x2="211.9" y2="725.5" stroke="#aaa" stroke-width="0.7"/>
<line x1="218.5" y1="725.5" x2="222.3" y2="725.5" stroke="#aaa" stroke-width="0.7"/>
<line x1="229" y1="725.5" x2="232.4" y2="725.5" stroke="#555" stroke-width="0.6"/>
<line x1="230.7" y1="723.5" x2="230.7" y2="727.6" stroke="#444" stroke-width="0.7"/>
<line x1="276.5" y1="682.01" x2="276.5" y2="682.51" stroke="#555" stroke-width="0.5"/>
<line x1="275.5" y1="682.01" x2="277.5" y2="682.01" stroke="#555" stroke-width="0.5"/>
<rect x="274.55" y="682.51" width="3.9" height="17.89" fill="#f062e6" stroke="#b52aa8" stroke-width="0.5"/>
<line x1="287" y1="647.22" x2="287" y2="650.7" stroke="#555" stroke-width="0.5"/>
<line x1="286" y1="647.22" x2="288" y2="647.22" stroke="#555" stroke-width="0.5"/>
<rect x="285.05" y="650.7" width="3.9" height="49.7" fill="#f062e6" stroke="#b52aa8" stroke-width="0.5"/>
<line x1="297.4" y1="677.54" x2="297.4" y2="681.02" stroke="#555" stroke-width="0.5"/>
<line x1="296.4" y1="677.54" x2="298.4" y2="677.54" stroke="#555" stroke-width="0.5"/>
<rect x="295.45" y="681.02" width="3.9" height="19.38" fill="#f062e6" stroke="#b52aa8" stroke-width="0.5"/>
<line x1="307.7" y1="681.51" x2="307.7" y2="684" stroke="#555" stroke-width="0.5"/>
<line x1="306.7" y1="681.51" x2="308.7" y2="681.51" stroke="#555" stroke-width="0.5"/>
<rect x="305.75" y="684" width="3.9" height="16.4" fill="#f062e6" stroke="#b52aa8" stroke-width="0.5"/>
<line x1="271.5" y1="640.2" x2="271.5" y2="700.4" stroke="#111" stroke-width="0.8"/>
<line x1="271.5" y1="700.4" x2="313.3" y2="700.4" stroke="#111" stroke-width="0.8"/>
<line x1="282" y1="700.4" x2="282" y2="701.5" stroke="#111" stroke-width="0.5"/>
<line x1="292.4" y1="700.4" x2="292.4" y2="701.5" stroke="#111" stroke-width="0.5"/>
<line x1="302.8" y1="700.4" x2="302.8" y2="701.5" stroke="#111" stroke-width="0.5"/>
<line x1="313.2" y1="700.4" x2="313.2" y2="701.5" stroke="#111" stroke-width="0.5"/>
<line x1="270.2" y1="700.4" x2="271.5" y2="700.4" stroke="#111" stroke-width="0.6"/>
<text x="269.7" y="702.35" font-size="5.4" font-weight="bold" text-anchor="end">0</text>
<line x1="270.2" y1="690.46" x2="271.5" y2="690.46" stroke="#111" stroke-width="0.6"/>
<text x="269.7" y="692.41" font-size="5.4" font-weight="bold" text-anchor="end">0.2</text>
<line x1="270.2" y1="680.52" x2="271.5" y2="680.52" stroke="#111" stroke-width="0.6"/>
<text x="269.7" y="682.47" font-size="5.4" font-weight="bold" text-anchor="end">0.4</text>
<line x1="270.2" y1="670.58" x2="271.5" y2="670.58" stroke="#111" stroke-width="0.6"/>
<text x="269.7" y="672.53" font-size="5.4" font-weight="bold" text-anchor="end">0.6</text>
<line x1="270.2" y1="660.64" x2="271.5" y2="660.64" stroke="#111" stroke-width="0.6"/>
<text x="269.7" y="662.59" font-size="5.4" font-weight="bold" text-anchor="end">0.8</text>
<line x1="270.2" y1="650.7" x2="271.5" y2="650.7" stroke="#111" stroke-width="0.6"/>
<text x="269.7" y="652.65" font-size="5.4" font-weight="bold" text-anchor="end">1</text>
<line x1="270.2" y1="640.76" x2="271.5" y2="640.76" stroke="#111" stroke-width="0.6"/>
<text x="269.7" y="642.71" font-size="5.4" font-weight="bold" text-anchor="end">1.2</text>
<text x="257.9" y="670.6" font-size="5.6" font-weight="bold" text-anchor="middle" transform="rotate(-90 257.9 670.6)">Relative mRNA levels</text>
<text x="294" y="637.6" font-size="6.6" font-weight="bold" font-style="italic" text-anchor="middle">Hhex</text>
<line x1="287.3" y1="644.9" x2="307.7" y2="644.9" stroke="#888" stroke-width="0.55"/>
<line x1="287.3" y1="647.2" x2="297.4" y2="647.2" stroke="#888" stroke-width="0.55"/>
<path d="M287.3 647.2 L286.6 648.5 L286.6 649.8" fill="none" stroke="#888" stroke-width="0.55"/>
<text x="298.85" y="645.3" font-size="3.8" text-anchor="middle" fill="#444">*</text>
<text x="292.7" y="647.8" font-size="3.8" text-anchor="middle" fill="#444">*</text>
<text x="268.9" y="708.1" font-size="5.5" font-weight="bold" text-anchor="end" fill="#111">HGF</text>
<line x1="274.6" y1="706.1" x2="278.4" y2="706.1" stroke="#aaa" stroke-width="0.7"/>
<line x1="285.3" y1="706.1" x2="288.7" y2="706.1" stroke="#555" stroke-width="0.6"/>
<line x1="287" y1="704.1" x2="287" y2="708.2" stroke="#444" stroke-width="0.7"/>
<line x1="295.7" y1="706.1" x2="299.1" y2="706.1" stroke="#555" stroke-width="0.6"/>
<line x1="297.4" y1="704.1" x2="297.4" y2="708.2" stroke="#444" stroke-width="0.7"/>
<line x1="306" y1="706.1" x2="309.4" y2="706.1" stroke="#555" stroke-width="0.6"/>
<line x1="307.7" y1="704.1" x2="307.7" y2="708.2" stroke="#444" stroke-width="0.7"/>
<text x="268.9" y="714.4" font-size="5.5" font-weight="bold" text-anchor="end" fill="#111">SCR</text>
<line x1="274.8" y1="712.4" x2="278.2" y2="712.4" stroke="#555" stroke-width="0.6"/>
<line x1="276.5" y1="710.4" x2="276.5" y2="714.5" stroke="#444" stroke-width="0.7"/>
<line x1="285.3" y1="712.4" x2="288.7" y2="712.4" stroke="#555" stroke-width="0.6"/>
<line x1="287" y1="710.4" x2="287" y2="714.5" stroke="#444" stroke-width="0.7"/>
<line x1="295.5" y1="712.4" x2="299.3" y2="712.4" stroke="#aaa" stroke-width="0.7"/>
<line x1="305.8" y1="712.4" x2="309.6" y2="712.4" stroke="#aaa" stroke-width="0.7"/>
<text x="268.9" y="721.2" font-size="5.5" font-weight="bold" text-anchor="end" fill="#111">siHMGB2#1</text>
<line x1="274.6" y1="719.2" x2="278.4" y2="719.2" stroke="#aaa" stroke-width="0.7"/>
<line x1="285.1" y1="719.2" x2="288.9" y2="719.2" stroke="#aaa" stroke-width="0.7"/>
<line x1="295.7" y1="719.2" x2="299.1" y2="719.2" stroke="#555" stroke-width="0.6"/>
<line x1="297.4" y1="717.2" x2="297.4" y2="721.3" stroke="#444" stroke-width="0.7"/>
<line x1="305.8" y1="719.2" x2="309.6" y2="719.2" stroke="#aaa" stroke-width="0.7"/>
<text x="268.9" y="727.5" font-size="5.5" font-weight="bold" text-anchor="end" fill="#111">siHMGB2#2</text>
<line x1="274.6" y1="725.5" x2="278.4" y2="725.5" stroke="#aaa" stroke-width="0.7"/>
<line x1="285.1" y1="725.5" x2="288.9" y2="725.5" stroke="#aaa" stroke-width="0.7"/>
<line x1="295.5" y1="725.5" x2="299.3" y2="725.5" stroke="#aaa" stroke-width="0.7"/>
<line x1="306" y1="725.5" x2="309.4" y2="725.5" stroke="#555" stroke-width="0.6"/>
<line x1="307.7" y1="723.5" x2="307.7" y2="727.6" stroke="#444" stroke-width="0.7"/>
<line x1="355.5" y1="688.22" x2="355.5" y2="688.47" stroke="#555" stroke-width="0.5"/>
<line x1="354.5" y1="688.22" x2="356.5" y2="688.22" stroke="#555" stroke-width="0.5"/>
<rect x="353.55" y="688.47" width="3.9" height="11.93" fill="#f062e6" stroke="#b52aa8" stroke-width="0.5"/>
<line x1="366" y1="650.2" x2="366" y2="650.7" stroke="#555" stroke-width="0.5"/>
<line x1="365" y1="650.2" x2="367" y2="650.2" stroke="#555" stroke-width="0.5"/>
<rect x="364.05" y="650.7" width="3.9" height="49.7" fill="#f062e6" stroke="#b52aa8" stroke-width="0.5"/>
<line x1="376.4" y1="667.1" x2="376.4" y2="670.08" stroke="#555" stroke-width="0.5"/>
<line x1="375.4" y1="667.1" x2="377.4" y2="667.1" stroke="#555" stroke-width="0.5"/>
<rect x="374.45" y="670.08" width="3.9" height="30.32" fill="#f062e6" stroke="#b52aa8" stroke-width="0.5"/>
<line x1="386.7" y1="665.11" x2="386.7" y2="667.6" stroke="#555" stroke-width="0.5"/>
<line x1="385.7" y1="665.11" x2="387.7" y2="665.11" stroke="#555" stroke-width="0.5"/>
<rect x="384.75" y="667.6" width="3.9" height="32.8" fill="#f062e6" stroke="#b52aa8" stroke-width="0.5"/>
<line x1="350.5" y1="640.2" x2="350.5" y2="700.4" stroke="#111" stroke-width="0.8"/>
<line x1="350.5" y1="700.4" x2="392.3" y2="700.4" stroke="#111" stroke-width="0.8"/>
<line x1="361" y1="700.4" x2="361" y2="701.5" stroke="#111" stroke-width="0.5"/>
<line x1="371.4" y1="700.4" x2="371.4" y2="701.5" stroke="#111" stroke-width="0.5"/>
<line x1="381.8" y1="700.4" x2="381.8" y2="701.5" stroke="#111" stroke-width="0.5"/>
<line x1="392.2" y1="700.4" x2="392.2" y2="701.5" stroke="#111" stroke-width="0.5"/>
<line x1="349.2" y1="700.4" x2="350.5" y2="700.4" stroke="#111" stroke-width="0.6"/>
<text x="348.7" y="702.35" font-size="5.4" font-weight="bold" text-anchor="end">0</text>
<line x1="349.2" y1="690.46" x2="350.5" y2="690.46" stroke="#111" stroke-width="0.6"/>
<text x="348.7" y="692.41" font-size="5.4" font-weight="bold" text-anchor="end">0.2</text>
<line x1="349.2" y1="680.52" x2="350.5" y2="680.52" stroke="#111" stroke-width="0.6"/>
<text x="348.7" y="682.47" font-size="5.4" font-weight="bold" text-anchor="end">0.4</text>
<line x1="349.2" y1="670.58" x2="350.5" y2="670.58" stroke="#111" stroke-width="0.6"/>
<text x="348.7" y="672.53" font-size="5.4" font-weight="bold" text-anchor="end">0.6</text>
<line x1="349.2" y1="660.64" x2="350.5" y2="660.64" stroke="#111" stroke-width="0.6"/>
<text x="348.7" y="662.59" font-size="5.4" font-weight="bold" text-anchor="end">0.8</text>
<line x1="349.2" y1="650.7" x2="350.5" y2="650.7" stroke="#111" stroke-width="0.6"/>
<text x="348.7" y="652.65" font-size="5.4" font-weight="bold" text-anchor="end">1</text>
<line x1="349.2" y1="640.76" x2="350.5" y2="640.76" stroke="#111" stroke-width="0.6"/>
<text x="348.7" y="642.71" font-size="5.4" font-weight="bold" text-anchor="end">1.2</text>
<text x="336.9" y="670.6" font-size="5.6" font-weight="bold" text-anchor="middle" transform="rotate(-90 336.9 670.6)">Relative mRNA levels</text>
<text x="373" y="637.6" font-size="6.6" font-weight="bold" font-style="italic" text-anchor="middle">Ccn2</text>
<line x1="366.3" y1="644.9" x2="386.7" y2="644.9" stroke="#888" stroke-width="0.55"/>
<line x1="366.3" y1="647.2" x2="376.4" y2="647.2" stroke="#888" stroke-width="0.55"/>
<path d="M366.3 647.2 L365.6 648.5 L365.6 649.8" fill="none" stroke="#888" stroke-width="0.55"/>
<text x="377.85" y="645.3" font-size="3.8" text-anchor="middle" fill="#444">*</text>
<text x="371.7" y="647.8" font-size="3.8" text-anchor="middle" fill="#444">*</text>
<text x="347.9" y="708.1" font-size="5.5" font-weight="bold" text-anchor="end" fill="#111">HGF</text>
<line x1="353.6" y1="706.1" x2="357.4" y2="706.1" stroke="#aaa" stroke-width="0.7"/>
<line x1="364.3" y1="706.1" x2="367.7" y2="706.1" stroke="#555" stroke-width="0.6"/>
<line x1="366" y1="704.1" x2="366" y2="708.2" stroke="#444" stroke-width="0.7"/>
<line x1="374.7" y1="706.1" x2="378.1" y2="706.1" stroke="#555" stroke-width="0.6"/>
<line x1="376.4" y1="704.1" x2="376.4" y2="708.2" stroke="#444" stroke-width="0.7"/>
<line x1="385" y1="706.1" x2="388.4" y2="706.1" stroke="#555" stroke-width="0.6"/>
<line x1="386.7" y1="704.1" x2="386.7" y2="708.2" stroke="#444" stroke-width="0.7"/>
<text x="347.9" y="714.4" font-size="5.5" font-weight="bold" text-anchor="end" fill="#111">SCR</text>
<line x1="353.8" y1="712.4" x2="357.2" y2="712.4" stroke="#555" stroke-width="0.6"/>
<line x1="355.5" y1="710.4" x2="355.5" y2="714.5" stroke="#444" stroke-width="0.7"/>
<line x1="364.3" y1="712.4" x2="367.7" y2="712.4" stroke="#555" stroke-width="0.6"/>
<line x1="366" y1="710.4" x2="366" y2="714.5" stroke="#444" stroke-width="0.7"/>
<line x1="374.5" y1="712.4" x2="378.3" y2="712.4" stroke="#aaa" stroke-width="0.7"/>
<line x1="384.8" y1="712.4" x2="388.6" y2="712.4" stroke="#aaa" stroke-width="0.7"/>
<text x="347.9" y="721.2" font-size="5.5" font-weight="bold" text-anchor="end" fill="#111">siHMGB2#1</text>
<line x1="353.6" y1="719.2" x2="357.4" y2="719.2" stroke="#aaa" stroke-width="0.7"/>
<line x1="364.1" y1="719.2" x2="367.9" y2="719.2" stroke="#aaa" stroke-width="0.7"/>
<line x1="374.7" y1="719.2" x2="378.1" y2="719.2" stroke="#555" stroke-width="0.6"/>
<line x1="376.4" y1="717.2" x2="376.4" y2="721.3" stroke="#444" stroke-width="0.7"/>
<line x1="384.8" y1="719.2" x2="388.6" y2="719.2" stroke="#aaa" stroke-width="0.7"/>
<text x="347.9" y="727.5" font-size="5.5" font-weight="bold" text-anchor="end" fill="#111">siHMGB2#2</text>
<line x1="353.6" y1="725.5" x2="357.4" y2="725.5" stroke="#aaa" stroke-width="0.7"/>
<line x1="364.1" y1="725.5" x2="367.9" y2="725.5" stroke="#aaa" stroke-width="0.7"/>
<line x1="374.5" y1="725.5" x2="378.3" y2="725.5" stroke="#aaa" stroke-width="0.7"/>
<line x1="385" y1="725.5" x2="388.4" y2="725.5" stroke="#555" stroke-width="0.6"/>
<line x1="386.7" y1="723.5" x2="386.7" y2="727.6" stroke="#444" stroke-width="0.7"/>
<text x="384.6" y="471.6" font-size="11.2" font-weight="bold">j</text>
<line x1="425.6" y1="474" x2="425.6" y2="534.2" stroke="#111" stroke-width="0.8"/>
<line x1="424.3" y1="534.2" x2="425.6" y2="534.2" stroke="#111" stroke-width="0.6"/>
<text x="422.7" y="535.9" font-size="4.9" font-weight="bold" text-anchor="end">0</text>
<line x1="424.3" y1="527.58" x2="425.6" y2="527.58" stroke="#111" stroke-width="0.6"/>
<text x="422.7" y="529.28" font-size="4.9" font-weight="bold" text-anchor="end">0.05</text>
<line x1="424.3" y1="520.96" x2="425.6" y2="520.96" stroke="#111" stroke-width="0.6"/>
<text x="422.7" y="522.66" font-size="4.9" font-weight="bold" text-anchor="end">0.1</text>
<line x1="424.3" y1="514.33" x2="425.6" y2="514.33" stroke="#111" stroke-width="0.6"/>
<text x="422.7" y="516.03" font-size="4.9" font-weight="bold" text-anchor="end">0.15</text>
<line x1="424.3" y1="507.71" x2="425.6" y2="507.71" stroke="#111" stroke-width="0.6"/>
<text x="422.7" y="509.41" font-size="4.9" font-weight="bold" text-anchor="end">0.2</text>
<line x1="424.3" y1="501.09" x2="425.6" y2="501.09" stroke="#111" stroke-width="0.6"/>
<text x="422.7" y="502.79" font-size="4.9" font-weight="bold" text-anchor="end">0.25</text>
<line x1="424.3" y1="494.47" x2="425.6" y2="494.47" stroke="#111" stroke-width="0.6"/>
<text x="422.7" y="496.17" font-size="4.9" font-weight="bold" text-anchor="end">0.3</text>
<line x1="424.3" y1="487.84" x2="425.6" y2="487.84" stroke="#111" stroke-width="0.6"/>
<text x="422.7" y="489.54" font-size="4.9" font-weight="bold" text-anchor="end">0.35</text>
<line x1="424.3" y1="481.22" x2="425.6" y2="481.22" stroke="#111" stroke-width="0.6"/>
<text x="422.7" y="482.92" font-size="4.9" font-weight="bold" text-anchor="end">0.4</text>
<line x1="424.3" y1="474.6" x2="425.6" y2="474.6" stroke="#111" stroke-width="0.6"/>
<text x="422.7" y="476.3" font-size="4.9" font-weight="bold" text-anchor="end">0.45</text>
<text x="402.6" y="503.8" font-size="5.3" font-weight="bold" text-anchor="middle" transform="rotate(-90 402.6 503.8)">Relative enrichment</text>
<text x="408.6" y="503.8" font-size="5.3" font-weight="bold" text-anchor="middle" transform="rotate(-90 408.6 503.8)">(% input)</text>
<text x="459.7" y="475.1" font-size="6.4" font-weight="bold" font-style="italic" text-anchor="middle">Jag1</text>
<line x1="433.8" y1="534.2" x2="433.8" y2="535.2" stroke="#333" stroke-width="0.6"/>
<line x1="429.45" y1="527.18" x2="429.45" y2="527.58" stroke="#555" stroke-width="0.5"/>
<line x1="428.6" y1="527.18" x2="430.3" y2="527.18" stroke="#555" stroke-width="0.5"/>
<rect x="427.95" y="527.58" width="3" height="6.62" fill="#f062e6" stroke="#b52aa8" stroke-width="0.45"/>
<line x1="427.65" y1="538.6" x2="431.25" y2="538.6" stroke="#aaa" stroke-width="0.7"/>
<line x1="441.87" y1="534.2" x2="441.87" y2="535.2" stroke="#333" stroke-width="0.6"/>
<line x1="437.52" y1="484.4" x2="437.52" y2="485.06" stroke="#555" stroke-width="0.5"/>
<line x1="436.67" y1="484.4" x2="438.37" y2="484.4" stroke="#555" stroke-width="0.5"/>
<rect x="436.02" y="485.06" width="3" height="49.14" fill="#f062e6" stroke="#b52aa8" stroke-width="0.45"/>
<line x1="436.02" y1="538.6" x2="439.02" y2="538.6" stroke="#999" stroke-width="0.5"/>
<line x1="437.52" y1="536.6" x2="437.52" y2="540.6" stroke="#444" stroke-width="0.6"/>
<line x1="449.94" y1="534.2" x2="449.94" y2="535.2" stroke="#333" stroke-width="0.6"/>
<line x1="445.59" y1="526.25" x2="445.59" y2="526.65" stroke="#555" stroke-width="0.5"/>
<line x1="444.74" y1="526.25" x2="446.44" y2="526.25" stroke="#555" stroke-width="0.5"/>
<rect x="444.09" y="526.65" width="3" height="7.55" fill="#c6c8f4" stroke="#7c80c8" stroke-width="0.45"/>
<line x1="443.79" y1="538.6" x2="447.39" y2="538.6" stroke="#aaa" stroke-width="0.7"/>
<line x1="458.01" y1="534.2" x2="458.01" y2="535.2" stroke="#333" stroke-width="0.6"/>
<line x1="453.66" y1="525.46" x2="453.66" y2="525.99" stroke="#555" stroke-width="0.5"/>
<line x1="452.81" y1="525.46" x2="454.51" y2="525.46" stroke="#555" stroke-width="0.5"/>
<rect x="452.16" y="525.99" width="3" height="8.21" fill="#c6c8f4" stroke="#7c80c8" stroke-width="0.45"/>
<line x1="452.16" y1="538.6" x2="455.16" y2="538.6" stroke="#999" stroke-width="0.5"/>
<line x1="453.66" y1="536.6" x2="453.66" y2="540.6" stroke="#444" stroke-width="0.6"/>
<line x1="466.08" y1="534.2" x2="466.08" y2="535.2" stroke="#333" stroke-width="0.6"/>
<line x1="461.73" y1="527.31" x2="461.73" y2="527.58" stroke="#555" stroke-width="0.5"/>
<line x1="460.88" y1="527.31" x2="462.58" y2="527.31" stroke="#555" stroke-width="0.5"/>
<rect x="460.23" y="527.58" width="3" height="6.62" fill="#f062e6" stroke="#b52aa8" stroke-width="0.45"/>
<line x1="459.93" y1="538.6" x2="463.53" y2="538.6" stroke="#aaa" stroke-width="0.7"/>
<line x1="474.15" y1="534.2" x2="474.15" y2="535.2" stroke="#333" stroke-width="0.6"/>
<line x1="469.8" y1="527.18" x2="469.8" y2="527.58" stroke="#555" stroke-width="0.5"/>
<line x1="468.95" y1="527.18" x2="470.65" y2="527.18" stroke="#555" stroke-width="0.5"/>
<rect x="468.3" y="527.58" width="3" height="6.62" fill="#f062e6" stroke="#b52aa8" stroke-width="0.45"/>
<line x1="468.3" y1="538.6" x2="471.3" y2="538.6" stroke="#999" stroke-width="0.5"/>
<line x1="469.8" y1="536.6" x2="469.8" y2="540.6" stroke="#444" stroke-width="0.6"/>
<line x1="482.22" y1="534.2" x2="482.22" y2="535.2" stroke="#333" stroke-width="0.6"/>
<line x1="477.87" y1="526.39" x2="477.87" y2="526.78" stroke="#555" stroke-width="0.5"/>
<line x1="477.02" y1="526.39" x2="478.72" y2="526.39" stroke="#555" stroke-width="0.5"/>
<rect x="476.37" y="526.78" width="3" height="7.42" fill="#c6c8f4" stroke="#7c80c8" stroke-width="0.45"/>
<line x1="476.07" y1="538.6" x2="479.67" y2="538.6" stroke="#aaa" stroke-width="0.7"/>
<line x1="490.29" y1="534.2" x2="490.29" y2="535.2" stroke="#333" stroke-width="0.6"/>
<line x1="485.94" y1="526.12" x2="485.94" y2="526.52" stroke="#555" stroke-width="0.5"/>
<line x1="485.09" y1="526.12" x2="486.79" y2="526.12" stroke="#555" stroke-width="0.5"/>
<rect x="484.44" y="526.52" width="3" height="7.68" fill="#c6c8f4" stroke="#7c80c8" stroke-width="0.45"/>
<line x1="484.44" y1="538.6" x2="487.44" y2="538.6" stroke="#999" stroke-width="0.5"/>
<line x1="485.94" y1="536.6" x2="485.94" y2="540.6" stroke="#444" stroke-width="0.6"/>
<line x1="428.95" y1="482.2" x2="437.02" y2="482.2" stroke="#666" stroke-width="0.5"/>
<line x1="437.02" y1="482.2" x2="437.82" y2="483.5" stroke="#666" stroke-width="0.5"/>
<text x="432.99" y="482" font-size="3" text-anchor="middle" fill="#444">*</text>
<line x1="426.8" y1="542.2" x2="454.71" y2="542.2" stroke="#999" stroke-width="0.8"/>
<line x1="459.08" y1="542.2" x2="486.99" y2="542.2" stroke="#999" stroke-width="0.8"/>
<text x="441.75" y="546.9" font-size="6" text-anchor="middle">promoter</text>
<text x="473.04" y="546.9" font-size="6" text-anchor="middle">distal</text>
<line x1="489.8" y1="475" x2="489.8" y2="534.2" stroke="#777" stroke-width="0.4"/>
<text x="525.5" y="475.1" font-size="6.4" font-weight="bold" font-style="italic" text-anchor="middle">Egfr</text>
<line x1="498" y1="534.2" x2="498" y2="535.2" stroke="#333" stroke-width="0.6"/>
<line x1="493.65" y1="525.46" x2="493.65" y2="525.99" stroke="#555" stroke-width="0.5"/>
<line x1="492.8" y1="525.46" x2="494.5" y2="525.46" stroke="#555" stroke-width="0.5"/>
<rect x="492.15" y="525.99" width="3" height="8.21" fill="#f062e6" stroke="#b52aa8" stroke-width="0.45"/>
<line x1="491.85" y1="538.6" x2="495.45" y2="538.6" stroke="#aaa" stroke-width="0.7"/>
<line x1="506.07" y1="534.2" x2="506.07" y2="535.2" stroke="#333" stroke-width="0.6"/>
<line x1="501.72" y1="501.88" x2="501.72" y2="503.21" stroke="#555" stroke-width="0.5"/>
<line x1="500.87" y1="501.88" x2="502.57" y2="501.88" stroke="#555" stroke-width="0.5"/>
<rect x="500.22" y="503.21" width="3" height="30.99" fill="#f062e6" stroke="#b52aa8" stroke-width="0.45"/>
<line x1="500.22" y1="538.6" x2="503.22" y2="538.6" stroke="#999" stroke-width="0.5"/>
<line x1="501.72" y1="536.6" x2="501.72" y2="540.6" stroke="#444" stroke-width="0.6"/>
<line x1="514.14" y1="534.2" x2="514.14" y2="535.2" stroke="#333" stroke-width="0.6"/>
<line x1="509.79" y1="526.92" x2="509.79" y2="527.18" stroke="#555" stroke-width="0.5"/>
<line x1="508.94" y1="526.92" x2="510.64" y2="526.92" stroke="#555" stroke-width="0.5"/>
<rect x="508.29" y="527.18" width="3" height="7.02" fill="#c6c8f4" stroke="#7c80c8" stroke-width="0.45"/>
<line x1="507.99" y1="538.6" x2="511.59" y2="538.6" stroke="#aaa" stroke-width="0.7"/>
<line x1="522.21" y1="534.2" x2="522.21" y2="535.2" stroke="#333" stroke-width="0.6"/>
<line x1="517.86" y1="523.34" x2="517.86" y2="523.74" stroke="#555" stroke-width="0.5"/>
<line x1="517.01" y1="523.34" x2="518.71" y2="523.34" stroke="#555" stroke-width="0.5"/>
<rect x="516.36" y="523.74" width="3" height="10.46" fill="#c6c8f4" stroke="#7c80c8" stroke-width="0.45"/>
<line x1="516.36" y1="538.6" x2="519.36" y2="538.6" stroke="#999" stroke-width="0.5"/>
<line x1="517.86" y1="536.6" x2="517.86" y2="540.6" stroke="#444" stroke-width="0.6"/>
<line x1="530.28" y1="534.2" x2="530.28" y2="535.2" stroke="#333" stroke-width="0.6"/>
<line x1="525.93" y1="525.86" x2="525.93" y2="526.78" stroke="#555" stroke-width="0.5"/>
<line x1="525.08" y1="525.86" x2="526.78" y2="525.86" stroke="#555" stroke-width="0.5"/>
<rect x="524.43" y="526.78" width="3" height="7.42" fill="#f062e6" stroke="#b52aa8" stroke-width="0.45"/>
<line x1="524.13" y1="538.6" x2="527.73" y2="538.6" stroke="#aaa" stroke-width="0.7"/>
<line x1="538.35" y1="534.2" x2="538.35" y2="535.2" stroke="#333" stroke-width="0.6"/>
<line x1="534" y1="526.92" x2="534" y2="527.18" stroke="#555" stroke-width="0.5"/>
<line x1="533.15" y1="526.92" x2="534.85" y2="526.92" stroke="#555" stroke-width="0.5"/>
<rect x="532.5" y="527.18" width="3" height="7.02" fill="#f062e6" stroke="#b52aa8" stroke-width="0.45"/>
<line x1="532.5" y1="538.6" x2="535.5" y2="538.6" stroke="#999" stroke-width="0.5"/>
<line x1="534" y1="536.6" x2="534" y2="540.6" stroke="#444" stroke-width="0.6"/>
<line x1="546.42" y1="534.2" x2="546.42" y2="535.2" stroke="#333" stroke-width="0.6"/>
<line x1="542.07" y1="526.25" x2="542.07" y2="526.65" stroke="#555" stroke-width="0.5"/>
<line x1="541.22" y1="526.25" x2="542.92" y2="526.25" stroke="#555" stroke-width="0.5"/>
<rect x="540.57" y="526.65" width="3" height="7.55" fill="#c6c8f4" stroke="#7c80c8" stroke-width="0.45"/>
<line x1="540.27" y1="538.6" x2="543.87" y2="538.6" stroke="#aaa" stroke-width="0.7"/>
<line x1="554.49" y1="534.2" x2="554.49" y2="535.2" stroke="#333" stroke-width="0.6"/>
<line x1="550.14" y1="525.86" x2="550.14" y2="526.25" stroke="#555" stroke-width="0.5"/>
<line x1="549.29" y1="525.86" x2="550.99" y2="525.86" stroke="#555" stroke-width="0.5"/>
<rect x="548.64" y="526.25" width="3" height="7.95" fill="#c6c8f4" stroke="#7c80c8" stroke-width="0.45"/>
<line x1="548.64" y1="538.6" x2="551.64" y2="538.6" stroke="#999" stroke-width="0.5"/>
<line x1="550.14" y1="536.6" x2="550.14" y2="540.6" stroke="#444" stroke-width="0.6"/>
<line x1="493.15" y1="499.68" x2="501.22" y2="499.68" stroke="#666" stroke-width="0.5"/>
<line x1="501.22" y1="499.68" x2="502.02" y2="500.98" stroke="#666" stroke-width="0.5"/>
<text x="497.18" y="499.48" font-size="3" text-anchor="middle" fill="#444">*</text>
<line x1="491" y1="542.2" x2="518.91" y2="542.2" stroke="#999" stroke-width="0.8"/>
<line x1="523.28" y1="542.2" x2="551.19" y2="542.2" stroke="#999" stroke-width="0.8"/>
<text x="505.95" y="546.9" font-size="6" text-anchor="middle">promoter</text>
<text x="537.23" y="546.9" font-size="6" text-anchor="middle">distal</text>
<line x1="554.4" y1="475" x2="554.4" y2="534.2" stroke="#777" stroke-width="0.4"/>
<text x="585" y="475.1" font-size="6.4" font-weight="bold" font-style="italic" text-anchor="middle">Hhex</text>
<line x1="562.6" y1="534.2" x2="562.6" y2="535.2" stroke="#333" stroke-width="0.6"/>
<line x1="558.25" y1="527.18" x2="558.25" y2="527.58" stroke="#555" stroke-width="0.5"/>
<line x1="557.4" y1="527.18" x2="559.1" y2="527.18" stroke="#555" stroke-width="0.5"/>
<rect x="556.75" y="527.58" width="3" height="6.62" fill="#f062e6" stroke="#b52aa8" stroke-width="0.45"/>
<line x1="556.45" y1="538.6" x2="560.05" y2="538.6" stroke="#aaa" stroke-width="0.7"/>
<line x1="570.67" y1="534.2" x2="570.67" y2="535.2" stroke="#333" stroke-width="0.6"/>
<line x1="566.32" y1="492.74" x2="566.32" y2="494.33" stroke="#555" stroke-width="0.5"/>
<line x1="565.47" y1="492.74" x2="567.17" y2="492.74" stroke="#555" stroke-width="0.5"/>
<rect x="564.82" y="494.33" width="3" height="39.87" fill="#f062e6" stroke="#b52aa8" stroke-width="0.45"/>
<line x1="564.82" y1="538.6" x2="567.82" y2="538.6" stroke="#999" stroke-width="0.5"/>
<line x1="566.32" y1="536.6" x2="566.32" y2="540.6" stroke="#444" stroke-width="0.6"/>
<line x1="578.74" y1="534.2" x2="578.74" y2="535.2" stroke="#333" stroke-width="0.6"/>
<line x1="574.39" y1="526.65" x2="574.39" y2="527.18" stroke="#555" stroke-width="0.5"/>
<line x1="573.54" y1="526.65" x2="575.24" y2="526.65" stroke="#555" stroke-width="0.5"/>
<rect x="572.89" y="527.18" width="3" height="7.02" fill="#c6c8f4" stroke="#7c80c8" stroke-width="0.45"/>
<line x1="572.59" y1="538.6" x2="576.19" y2="538.6" stroke="#aaa" stroke-width="0.7"/>
<line x1="586.81" y1="534.2" x2="586.81" y2="535.2" stroke="#333" stroke-width="0.6"/>
<line x1="582.46" y1="525.86" x2="582.46" y2="526.25" stroke="#555" stroke-width="0.5"/>
<line x1="581.61" y1="525.86" x2="583.31" y2="525.86" stroke="#555" stroke-width="0.5"/>
<rect x="580.96" y="526.25" width="3" height="7.95" fill="#c6c8f4" stroke="#7c80c8" stroke-width="0.45"/>
<line x1="580.96" y1="538.6" x2="583.96" y2="538.6" stroke="#999" stroke-width="0.5"/>
<line x1="582.46" y1="536.6" x2="582.46" y2="540.6" stroke="#444" stroke-width="0.6"/>
<line x1="594.88" y1="534.2" x2="594.88" y2="535.2" stroke="#333" stroke-width="0.6"/>
<line x1="590.53" y1="527.18" x2="590.53" y2="527.58" stroke="#555" stroke-width="0.5"/>
<line x1="589.68" y1="527.18" x2="591.38" y2="527.18" stroke="#555" stroke-width="0.5"/>
<rect x="589.03" y="527.58" width="3" height="6.62" fill="#f062e6" stroke="#b52aa8" stroke-width="0.45"/>
<line x1="588.73" y1="538.6" x2="592.33" y2="538.6" stroke="#aaa" stroke-width="0.7"/>
<line x1="602.95" y1="534.2" x2="602.95" y2="535.2" stroke="#333" stroke-width="0.6"/>
<line x1="598.6" y1="525.99" x2="598.6" y2="526.39" stroke="#555" stroke-width="0.5"/>
<line x1="597.75" y1="525.99" x2="599.45" y2="525.99" stroke="#555" stroke-width="0.5"/>
<rect x="597.1" y="526.39" width="3" height="7.81" fill="#f062e6" stroke="#b52aa8" stroke-width="0.45"/>
<line x1="597.1" y1="538.6" x2="600.1" y2="538.6" stroke="#999" stroke-width="0.5"/>
<line x1="598.6" y1="536.6" x2="598.6" y2="540.6" stroke="#444" stroke-width="0.6"/>
<line x1="611.02" y1="534.2" x2="611.02" y2="535.2" stroke="#333" stroke-width="0.6"/>
<line x1="606.67" y1="522.94" x2="606.67" y2="525.59" stroke="#555" stroke-width="0.5"/>
<line x1="605.82" y1="522.94" x2="607.52" y2="522.94" stroke="#555" stroke-width="0.5"/>
<rect x="605.17" y="525.59" width="3" height="8.61" fill="#c6c8f4" stroke="#7c80c8" stroke-width="0.45"/>
<line x1="604.87" y1="538.6" x2="608.47" y2="538.6" stroke="#aaa" stroke-width="0.7"/>
<line x1="619.09" y1="534.2" x2="619.09" y2="535.2" stroke="#333" stroke-width="0.6"/>
<line x1="614.74" y1="528.37" x2="614.74" y2="528.77" stroke="#555" stroke-width="0.5"/>
<line x1="613.89" y1="528.37" x2="615.59" y2="528.37" stroke="#555" stroke-width="0.5"/>
<rect x="613.24" y="528.77" width="3" height="5.43" fill="#c6c8f4" stroke="#7c80c8" stroke-width="0.45"/>
<line x1="613.24" y1="538.6" x2="616.24" y2="538.6" stroke="#999" stroke-width="0.5"/>
<line x1="614.74" y1="536.6" x2="614.74" y2="540.6" stroke="#444" stroke-width="0.6"/>
<line x1="557.75" y1="490.54" x2="565.82" y2="490.54" stroke="#666" stroke-width="0.5"/>
<line x1="565.82" y1="490.54" x2="566.62" y2="491.84" stroke="#666" stroke-width="0.5"/>
<text x="561.79" y="490.34" font-size="3" text-anchor="middle" fill="#444">*</text>
<line x1="555.6" y1="542.2" x2="583.51" y2="542.2" stroke="#999" stroke-width="0.8"/>
<line x1="587.88" y1="542.2" x2="615.79" y2="542.2" stroke="#999" stroke-width="0.8"/>
<text x="570.56" y="546.9" font-size="6" text-anchor="middle">promoter</text>
<text x="601.84" y="546.9" font-size="6" text-anchor="middle">distal</text>
<line x1="619.4" y1="475" x2="619.4" y2="534.2" stroke="#777" stroke-width="0.4"/>
<text x="652" y="475.1" font-size="6.4" font-weight="bold" font-style="italic" text-anchor="middle">Ccn2</text>
<line x1="627.6" y1="534.2" x2="627.6" y2="535.2" stroke="#333" stroke-width="0.6"/>
<line x1="623.25" y1="525.46" x2="623.25" y2="525.99" stroke="#555" stroke-width="0.5"/>
<line x1="622.4" y1="525.46" x2="624.1" y2="525.46" stroke="#555" stroke-width="0.5"/>
<rect x="621.75" y="525.99" width="3" height="8.21" fill="#f062e6" stroke="#b52aa8" stroke-width="0.45"/>
<line x1="621.45" y1="538.6" x2="625.05" y2="538.6" stroke="#aaa" stroke-width="0.7"/>
<line x1="635.67" y1="534.2" x2="635.67" y2="535.2" stroke="#333" stroke-width="0.6"/>
<line x1="631.32" y1="483.08" x2="631.32" y2="489.7" stroke="#555" stroke-width="0.5"/>
<line x1="630.47" y1="483.08" x2="632.17" y2="483.08" stroke="#555" stroke-width="0.5"/>
<rect x="629.82" y="489.7" width="3" height="44.5" fill="#f062e6" stroke="#b52aa8" stroke-width="0.45"/>
<line x1="629.82" y1="538.6" x2="632.82" y2="538.6" stroke="#999" stroke-width="0.5"/>
<line x1="631.32" y1="536.6" x2="631.32" y2="540.6" stroke="#444" stroke-width="0.6"/>
<line x1="643.74" y1="534.2" x2="643.74" y2="535.2" stroke="#333" stroke-width="0.6"/>
<line x1="639.39" y1="525.19" x2="639.39" y2="525.59" stroke="#555" stroke-width="0.5"/>
<line x1="638.54" y1="525.19" x2="640.24" y2="525.19" stroke="#555" stroke-width="0.5"/>
<rect x="637.89" y="525.59" width="3" height="8.61" fill="#c6c8f4" stroke="#7c80c8" stroke-width="0.45"/>
<line x1="637.59" y1="538.6" x2="641.19" y2="538.6" stroke="#aaa" stroke-width="0.7"/>
<line x1="651.81" y1="534.2" x2="651.81" y2="535.2" stroke="#333" stroke-width="0.6"/>
<line x1="647.46" y1="527.18" x2="647.46" y2="527.45" stroke="#555" stroke-width="0.5"/>
<line x1="646.61" y1="527.18" x2="648.31" y2="527.18" stroke="#555" stroke-width="0.5"/>
<rect x="645.96" y="527.45" width="3" height="6.75" fill="#c6c8f4" stroke="#7c80c8" stroke-width="0.45"/>
<line x1="645.96" y1="538.6" x2="648.96" y2="538.6" stroke="#999" stroke-width="0.5"/>
<line x1="647.46" y1="536.6" x2="647.46" y2="540.6" stroke="#444" stroke-width="0.6"/>
<line x1="659.88" y1="534.2" x2="659.88" y2="535.2" stroke="#333" stroke-width="0.6"/>
<line x1="655.53" y1="527.31" x2="655.53" y2="528.11" stroke="#555" stroke-width="0.5"/>
<line x1="654.68" y1="527.31" x2="656.38" y2="527.31" stroke="#555" stroke-width="0.5"/>
<rect x="654.03" y="528.11" width="3" height="6.09" fill="#f062e6" stroke="#b52aa8" stroke-width="0.45"/>
<line x1="653.73" y1="538.6" x2="657.33" y2="538.6" stroke="#aaa" stroke-width="0.7"/>
<line x1="667.95" y1="534.2" x2="667.95" y2="535.2" stroke="#333" stroke-width="0.6"/>
<line x1="663.6" y1="526.65" x2="663.6" y2="527.05" stroke="#555" stroke-width="0.5"/>
<line x1="662.75" y1="526.65" x2="664.45" y2="526.65" stroke="#555" stroke-width="0.5"/>
<rect x="662.1" y="527.05" width="3" height="7.15" fill="#f062e6" stroke="#b52aa8" stroke-width="0.45"/>
<line x1="662.1" y1="538.6" x2="665.1" y2="538.6" stroke="#999" stroke-width="0.5"/>
<line x1="663.6" y1="536.6" x2="663.6" y2="540.6" stroke="#444" stroke-width="0.6"/>
<line x1="676.02" y1="534.2" x2="676.02" y2="535.2" stroke="#333" stroke-width="0.6"/>
<line x1="671.67" y1="528.11" x2="671.67" y2="528.37" stroke="#555" stroke-width="0.5"/>
<line x1="670.82" y1="528.11" x2="672.52" y2="528.11" stroke="#555" stroke-width="0.5"/>
<rect x="670.17" y="528.37" width="3" height="5.83" fill="#c6c8f4" stroke="#7c80c8" stroke-width="0.45"/>
<line x1="669.87" y1="538.6" x2="673.47" y2="538.6" stroke="#aaa" stroke-width="0.7"/>
<line x1="684.09" y1="534.2" x2="684.09" y2="535.2" stroke="#333" stroke-width="0.6"/>
<line x1="679.74" y1="525.19" x2="679.74" y2="525.72" stroke="#555" stroke-width="0.5"/>
<line x1="678.89" y1="525.19" x2="680.59" y2="525.19" stroke="#555" stroke-width="0.5"/>
<rect x="678.24" y="525.72" width="3" height="8.48" fill="#c6c8f4" stroke="#7c80c8" stroke-width="0.45"/>
<line x1="678.24" y1="538.6" x2="681.24" y2="538.6" stroke="#999" stroke-width="0.5"/>
<line x1="679.74" y1="536.6" x2="679.74" y2="540.6" stroke="#444" stroke-width="0.6"/>
<line x1="622.75" y1="480.88" x2="630.82" y2="480.88" stroke="#666" stroke-width="0.5"/>
<line x1="630.82" y1="480.88" x2="631.62" y2="482.18" stroke="#666" stroke-width="0.5"/>
<text x="626.79" y="480.68" font-size="3" text-anchor="middle" fill="#444">*</text>
<line x1="620.6" y1="542.2" x2="648.51" y2="542.2" stroke="#999" stroke-width="0.8"/>
<line x1="652.88" y1="542.2" x2="680.79" y2="542.2" stroke="#999" stroke-width="0.8"/>
<text x="635.56" y="546.9" font-size="6" text-anchor="middle">promoter</text>
<text x="666.84" y="546.9" font-size="6" text-anchor="middle">distal</text>
<line x1="425.6" y1="534.2" x2="684" y2="534.2" stroke="#333" stroke-width="0.6"/>
<text x="422" y="540.6" font-size="5.2" font-weight="bold" text-anchor="end">HGF</text>
<rect x="657.7" y="480.3" width="2.4" height="2.2" fill="#f062e6" stroke="#b52aa8" stroke-width="0.3"/>
<text x="660.7" y="483" font-size="4.7" font-weight="bold" fill="#111">HMGB2</text>
<rect x="657.7" y="485.8" width="2.4" height="2.2" fill="#c6c8f4" stroke="#7c80c8" stroke-width="0.3"/>
<text x="660.7" y="488.5" font-size="4.7" font-weight="bold" fill="#111">IgG</text>
</svg>
</body></html>
